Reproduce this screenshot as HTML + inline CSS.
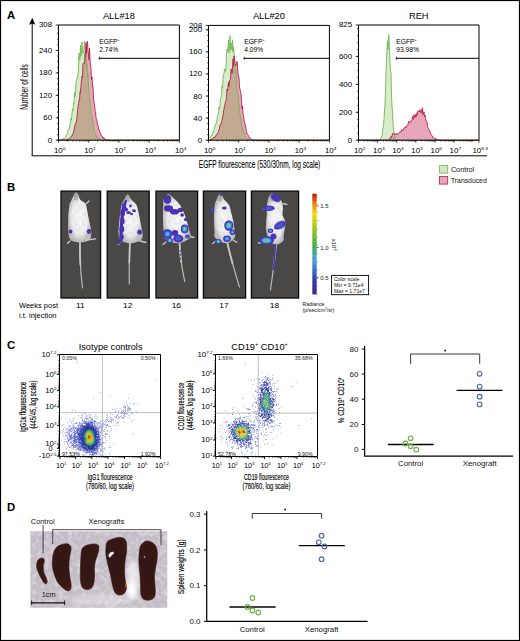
<!DOCTYPE html>
<html><head><meta charset="utf-8"><style>
html,body{margin:0;padding:0;background:#fff;}
svg{display:block;font-family:"Liberation Sans", sans-serif;}
</style></head><body>
<svg width="520" height="641" viewBox="0 0 520 641">
<text transform="translate(7.00 19.00) scale(1.05 1)" font-size="10.8" text-anchor="start" font-weight="bold" fill="#000" >A</text>
<line x1="32.20" y1="22.00" x2="32.20" y2="155.80" stroke="#000" stroke-width="1" />
<path d="M32.2 17.8 L29.1 24.8 L32.2 23.6 L35.3 24.8 Z" fill="#000"/>
<line x1="31.70" y1="155.80" x2="487.00" y2="155.80" stroke="#000" stroke-width="1" />
<path d="M59.0 140.2 L59.0 140.2 L59.5 140.2 L60.0 139.8 L60.5 139.8 L61.0 139.3 L61.5 139.9 L62.0 139.0 L62.5 139.8 L63.0 138.2 L63.5 138.4 L64.0 139.1 L64.5 138.5 L65.0 137.9 L65.5 137.1 L66.0 135.6 L66.5 135.0 L67.0 134.0 L67.5 133.5 L68.0 130.4 L68.5 129.5 L69.0 129.6 L69.5 128.2 L70.0 124.3 L70.5 121.7 L71.0 118.0 L71.5 120.3 L72.0 112.6 L72.5 108.9 L73.0 110.7 L73.5 102.9 L74.0 104.3 L74.5 92.6 L75.0 96.9 L75.5 93.5 L76.0 81.7 L76.5 79.7 L77.0 79.8 L77.5 76.9 L78.0 73.8 L78.5 69.0 L79.0 52.8 L79.5 60.2 L80.0 59.6 L80.5 45.5 L81.0 56.3 L81.5 53.6 L82.0 41.9 L82.5 50.4 L83.0 53.4 L83.5 50.8 L84.0 49.8 L84.5 41.0 L85.0 50.2 L85.5 61.2 L86.0 52.2 L86.5 67.9 L87.0 64.4 L87.5 76.9 L88.0 73.8 L88.5 85.4 L89.0 93.3 L89.5 96.5 L90.0 101.0 L90.5 103.8 L91.0 110.4 L91.5 115.6 L92.0 115.9 L92.5 119.9 L93.0 122.2 L93.5 127.6 L94.0 129.1 L94.5 131.2 L95.0 132.6 L95.5 133.4 L96.0 134.3 L96.5 135.8 L97.0 137.8 L97.5 137.3 L98.0 137.5 L98.5 138.6 L99.0 138.7 L99.5 138.7 L100.0 139.5 L100.5 139.1 L101.0 139.5 L101.5 140.2 L102.0 140.2 L102.5 140.2 L103.0 140.2 L103.5 140.2 L104.0 140.2 L104.5 140.2 L105.0 140.2 L105.5 140.2 L106.0 140.2 L106.5 140.2 L107.0 140.2 L107.5 140.2 L108.0 140.2 L108.5 140.2 L109.0 140.2 L109.5 140.2 L110.0 140.2 L110.5 140.2 L111.0 140.2 L111.5 140.2 L112.0 140.2 L112.5 140.2 L113.0 140.2 L113.5 140.2 L114.0 140.2 L114.5 140.2 L115.0 140.2 L115.5 140.2 L116.0 140.2 L116.5 140.2 L117.0 140.2 L117.5 140.2 L118.0 140.2 L118.5 140.2 L119.0 140.2 L119.5 140.2 L120.0 140.2 L120.5 140.2 L121.0 140.2 L121.5 140.2 L122.0 140.2 L122.5 140.2 L123.0 140.2 L123.5 140.2 L124.0 140.2 L124.5 140.2 L125.0 140.2 L125.5 140.2 L126.0 140.2 L126.5 140.2 L127.0 140.2 L127.5 140.2 L128.0 140.2 L128.5 140.2 L129.0 140.2 L129.5 140.2 L130.0 140.2 L130.5 140.2 L131.0 140.2 L131.5 140.2 L132.0 140.2 L132.5 140.2 L133.0 140.2 L133.5 140.2 L134.0 140.2 L134.5 140.2 L135.0 140.2 L135.5 140.2 L136.0 140.2 L136.5 140.2 L137.0 140.2 L137.5 140.2 L138.0 140.2 L138.5 140.2 L139.0 140.2 L139.5 140.2 L140.0 140.2 L140.5 140.2 L141.0 140.2 L141.5 140.2 L142.0 140.2 L142.5 140.2 L143.0 140.2 L143.5 140.2 L144.0 140.2 L144.5 140.2 L145.0 140.2 L145.5 140.2 L146.0 140.2 L146.5 140.2 L147.0 140.2 L147.5 140.2 L148.0 140.2 L148.5 140.2 L149.0 140.2 L149.5 140.2 L150.0 140.2 L150.5 140.2 L151.0 140.2 L151.5 140.2 L152.0 140.2 L152.5 140.2 L153.0 140.2 L153.5 140.2 L154.0 140.2 L154.5 140.2 L155.0 140.2 L155.5 140.2 L156.0 140.2 L156.5 140.2 L157.0 140.2 L157.5 140.2 L158.0 140.2 L158.5 140.2 L159.0 140.2 L159.5 140.2 L160.0 140.2 L160.5 140.2 L161.0 140.2 L161.5 140.2 L162.0 140.2 L162.5 140.2 L163.0 140.2 L163.5 140.2 L164.0 140.2 L164.5 140.2 L165.0 140.2 L165.5 140.2 L166.0 140.2 L166.5 140.2 L167.0 140.2 L167.5 140.2 L168.0 140.2 L168.5 140.2 L169.0 140.2 L169.5 140.2 L170.0 140.2 L170.5 140.2 L171.0 140.2 L171.5 140.2 L172.0 140.2 L172.5 140.2 L173.0 140.2 L173.5 140.2 L174.0 140.2 L174.5 140.2 L175.0 140.2 L175.5 140.2 L176.0 140.2 L176.5 140.2 L177.0 140.2 L177.5 140.2 L178.0 140.2 L178.5 140.2 L178.5 140.2 Z" fill="#d6ecca"/>
<path d="M59.0 140.2 L59.0 140.2 L59.5 140.2 L60.0 140.2 L60.5 140.2 L61.0 140.2 L61.5 140.2 L62.0 140.2 L62.5 140.2 L63.0 140.2 L63.5 140.2 L64.0 140.2 L64.5 140.2 L65.0 140.2 L65.5 140.2 L66.0 140.0 L66.5 139.2 L67.0 140.2 L67.5 139.0 L68.0 139.3 L68.5 139.7 L69.0 139.0 L69.5 138.4 L70.0 138.7 L70.5 137.4 L71.0 136.7 L71.5 136.1 L72.0 135.3 L72.5 135.4 L73.0 133.7 L73.5 132.0 L74.0 130.0 L74.5 128.8 L75.0 124.7 L75.5 123.2 L76.0 123.1 L76.5 121.0 L77.0 117.9 L77.5 110.6 L78.0 107.0 L78.5 103.6 L79.0 100.3 L79.5 100.3 L80.0 91.7 L80.5 92.7 L81.0 85.6 L81.5 79.3 L82.0 76.0 L82.5 77.5 L83.0 63.5 L83.5 63.2 L84.0 63.9 L84.5 63.2 L85.0 54.0 L85.5 55.2 L86.0 42.5 L86.5 53.5 L87.0 43.8 L87.5 41.1 L88.0 50.3 L88.5 53.9 L89.0 59.8 L89.5 47.9 L90.0 59.8 L90.5 64.6 L91.0 69.0 L91.5 79.5 L92.0 77.0 L92.5 86.8 L93.0 86.4 L93.5 99.2 L94.0 102.1 L94.5 105.2 L95.0 110.4 L95.5 111.1 L96.0 117.5 L96.5 119.3 L97.0 121.3 L97.5 124.7 L98.0 125.3 L98.5 129.3 L99.0 129.2 L99.5 131.4 L100.0 132.2 L100.5 134.0 L101.0 134.8 L101.5 136.0 L102.0 136.4 L102.5 136.4 L103.0 138.5 L103.5 137.6 L104.0 137.8 L104.5 139.1 L105.0 138.9 L105.5 139.7 L106.0 139.7 L106.5 139.7 L107.0 140.2 L107.5 140.2 L108.0 139.6 L108.5 140.2 L109.0 140.2 L109.5 140.2 L110.0 140.2 L110.5 140.2 L111.0 140.2 L111.5 140.2 L112.0 140.2 L112.5 140.2 L113.0 140.2 L113.5 140.2 L114.0 140.2 L114.5 140.2 L115.0 140.2 L115.5 140.2 L116.0 140.2 L116.5 140.2 L117.0 140.2 L117.5 140.2 L118.0 140.2 L118.5 140.2 L119.0 140.2 L119.5 140.2 L120.0 140.2 L120.5 140.2 L121.0 140.2 L121.5 140.2 L122.0 140.2 L122.5 140.2 L123.0 140.2 L123.5 140.2 L124.0 140.2 L124.5 140.2 L125.0 140.2 L125.5 140.2 L126.0 140.2 L126.5 140.2 L127.0 140.2 L127.5 140.2 L128.0 140.2 L128.5 140.2 L129.0 140.2 L129.5 140.2 L130.0 140.2 L130.5 140.2 L131.0 140.2 L131.5 140.2 L132.0 140.2 L132.5 140.2 L133.0 140.2 L133.5 140.2 L134.0 140.2 L134.5 140.2 L135.0 140.2 L135.5 140.2 L136.0 140.2 L136.5 140.2 L137.0 140.2 L137.5 140.2 L138.0 140.2 L138.5 140.2 L139.0 140.2 L139.5 140.2 L140.0 140.2 L140.5 140.2 L141.0 140.2 L141.5 140.2 L142.0 140.2 L142.5 140.2 L143.0 140.2 L143.5 140.2 L144.0 140.2 L144.5 140.2 L145.0 140.2 L145.5 140.2 L146.0 140.2 L146.5 140.2 L147.0 140.2 L147.5 140.2 L148.0 140.2 L148.5 140.2 L149.0 140.2 L149.5 140.2 L150.0 140.2 L150.5 140.2 L151.0 140.2 L151.5 140.2 L152.0 140.2 L152.5 140.2 L153.0 140.2 L153.5 140.2 L154.0 140.2 L154.5 140.2 L155.0 140.2 L155.5 140.2 L156.0 140.2 L156.5 140.2 L157.0 140.2 L157.5 140.2 L158.0 140.2 L158.5 140.2 L159.0 140.2 L159.5 140.2 L160.0 140.2 L160.5 140.2 L161.0 140.2 L161.5 140.2 L162.0 140.2 L162.5 140.2 L163.0 140.2 L163.5 140.2 L164.0 140.2 L164.5 140.2 L165.0 140.2 L165.5 140.2 L166.0 140.2 L166.5 140.2 L167.0 140.2 L167.5 140.2 L168.0 140.2 L168.5 140.2 L169.0 140.2 L169.5 140.2 L170.0 140.2 L170.5 140.2 L171.0 140.2 L171.5 140.2 L172.0 140.2 L172.5 140.2 L173.0 140.2 L173.5 140.2 L174.0 140.2 L174.5 140.2 L175.0 140.2 L175.5 140.2 L176.0 140.2 L176.5 140.2 L177.0 140.2 L177.5 140.2 L178.0 140.2 L178.5 140.2 L178.5 140.2 Z" fill="#e7a6ba"/>
<path d="M59.0 140.2 L59.0 140.2 L59.5 140.2 L60.0 140.2 L60.5 140.2 L61.0 140.2 L61.5 140.2 L62.0 140.2 L62.5 140.2 L63.0 140.2 L63.5 140.2 L64.0 140.2 L64.5 140.2 L65.0 140.2 L65.5 140.2 L66.0 140.0 L66.5 139.2 L67.0 140.2 L67.5 139.0 L68.0 139.3 L68.5 139.7 L69.0 139.0 L69.5 138.4 L70.0 138.7 L70.5 137.4 L71.0 136.7 L71.5 136.1 L72.0 135.3 L72.5 135.4 L73.0 133.7 L73.5 132.0 L74.0 130.0 L74.5 128.8 L75.0 124.7 L75.5 123.2 L76.0 123.1 L76.5 121.0 L77.0 117.9 L77.5 110.6 L78.0 107.0 L78.5 103.6 L79.0 100.3 L79.5 100.3 L80.0 91.7 L80.5 92.7 L81.0 85.6 L81.5 79.3 L82.0 76.0 L82.5 77.5 L83.0 63.5 L83.5 63.2 L84.0 63.9 L84.5 63.2 L85.0 54.0 L85.5 61.2 L86.0 52.2 L86.5 67.9 L87.0 64.4 L87.5 76.9 L88.0 73.8 L88.5 85.4 L89.0 93.3 L89.5 96.5 L90.0 101.0 L90.5 103.8 L91.0 110.4 L91.5 115.6 L92.0 115.9 L92.5 119.9 L93.0 122.2 L93.5 127.6 L94.0 129.1 L94.5 131.2 L95.0 132.6 L95.5 133.4 L96.0 134.3 L96.5 135.8 L97.0 137.8 L97.5 137.3 L98.0 137.5 L98.5 138.6 L99.0 138.7 L99.5 138.7 L100.0 139.5 L100.5 139.1 L101.0 139.5 L101.5 140.2 L102.0 140.2 L102.5 140.2 L103.0 140.2 L103.5 140.2 L104.0 140.2 L104.5 140.2 L105.0 140.2 L105.5 140.2 L106.0 140.2 L106.5 140.2 L107.0 140.2 L107.5 140.2 L108.0 140.2 L108.5 140.2 L109.0 140.2 L109.5 140.2 L110.0 140.2 L110.5 140.2 L111.0 140.2 L111.5 140.2 L112.0 140.2 L112.5 140.2 L113.0 140.2 L113.5 140.2 L114.0 140.2 L114.5 140.2 L115.0 140.2 L115.5 140.2 L116.0 140.2 L116.5 140.2 L117.0 140.2 L117.5 140.2 L118.0 140.2 L118.5 140.2 L119.0 140.2 L119.5 140.2 L120.0 140.2 L120.5 140.2 L121.0 140.2 L121.5 140.2 L122.0 140.2 L122.5 140.2 L123.0 140.2 L123.5 140.2 L124.0 140.2 L124.5 140.2 L125.0 140.2 L125.5 140.2 L126.0 140.2 L126.5 140.2 L127.0 140.2 L127.5 140.2 L128.0 140.2 L128.5 140.2 L129.0 140.2 L129.5 140.2 L130.0 140.2 L130.5 140.2 L131.0 140.2 L131.5 140.2 L132.0 140.2 L132.5 140.2 L133.0 140.2 L133.5 140.2 L134.0 140.2 L134.5 140.2 L135.0 140.2 L135.5 140.2 L136.0 140.2 L136.5 140.2 L137.0 140.2 L137.5 140.2 L138.0 140.2 L138.5 140.2 L139.0 140.2 L139.5 140.2 L140.0 140.2 L140.5 140.2 L141.0 140.2 L141.5 140.2 L142.0 140.2 L142.5 140.2 L143.0 140.2 L143.5 140.2 L144.0 140.2 L144.5 140.2 L145.0 140.2 L145.5 140.2 L146.0 140.2 L146.5 140.2 L147.0 140.2 L147.5 140.2 L148.0 140.2 L148.5 140.2 L149.0 140.2 L149.5 140.2 L150.0 140.2 L150.5 140.2 L151.0 140.2 L151.5 140.2 L152.0 140.2 L152.5 140.2 L153.0 140.2 L153.5 140.2 L154.0 140.2 L154.5 140.2 L155.0 140.2 L155.5 140.2 L156.0 140.2 L156.5 140.2 L157.0 140.2 L157.5 140.2 L158.0 140.2 L158.5 140.2 L159.0 140.2 L159.5 140.2 L160.0 140.2 L160.5 140.2 L161.0 140.2 L161.5 140.2 L162.0 140.2 L162.5 140.2 L163.0 140.2 L163.5 140.2 L164.0 140.2 L164.5 140.2 L165.0 140.2 L165.5 140.2 L166.0 140.2 L166.5 140.2 L167.0 140.2 L167.5 140.2 L168.0 140.2 L168.5 140.2 L169.0 140.2 L169.5 140.2 L170.0 140.2 L170.5 140.2 L171.0 140.2 L171.5 140.2 L172.0 140.2 L172.5 140.2 L173.0 140.2 L173.5 140.2 L174.0 140.2 L174.5 140.2 L175.0 140.2 L175.5 140.2 L176.0 140.2 L176.5 140.2 L177.0 140.2 L177.5 140.2 L178.0 140.2 L178.5 140.2 L178.5 140.2 Z" fill="#c2aa92"/>
<path d="M59.0 140.2 L59.5 140.2 L60.0 139.8 L60.5 139.8 L61.0 139.3 L61.5 139.9 L62.0 139.0 L62.5 139.8 L63.0 138.2 L63.5 138.4 L64.0 139.1 L64.5 138.5 L65.0 137.9 L65.5 137.1 L66.0 135.6 L66.5 135.0 L67.0 134.0 L67.5 133.5 L68.0 130.4 L68.5 129.5 L69.0 129.6 L69.5 128.2 L70.0 124.3 L70.5 121.7 L71.0 118.0 L71.5 120.3 L72.0 112.6 L72.5 108.9 L73.0 110.7 L73.5 102.9 L74.0 104.3 L74.5 92.6 L75.0 96.9 L75.5 93.5 L76.0 81.7 L76.5 79.7 L77.0 79.8 L77.5 76.9 L78.0 73.8 L78.5 69.0 L79.0 52.8 L79.5 60.2 L80.0 59.6 L80.5 45.5 L81.0 56.3 L81.5 53.6 L82.0 41.9 L82.5 50.4 L83.0 53.4 L83.5 50.8 L84.0 49.8 L84.5 41.0 L85.0 50.2 L85.5 61.2 L86.0 52.2 L86.5 67.9 L87.0 64.4 L87.5 76.9 L88.0 73.8 L88.5 85.4 L89.0 93.3 L89.5 96.5 L90.0 101.0 L90.5 103.8 L91.0 110.4 L91.5 115.6 L92.0 115.9 L92.5 119.9 L93.0 122.2 L93.5 127.6 L94.0 129.1 L94.5 131.2 L95.0 132.6 L95.5 133.4 L96.0 134.3 L96.5 135.8 L97.0 137.8 L97.5 137.3 L98.0 137.5 L98.5 138.6 L99.0 138.7 L99.5 138.7 L100.0 139.5 L100.5 139.1 L101.0 139.5 L101.5 140.2 L102.0 140.2 L102.5 140.2 L103.0 140.2 L103.5 140.2 L104.0 140.2 L104.5 140.2 L105.0 140.2 L105.5 140.2 L106.0 140.2 L106.5 140.2 L107.0 140.2 L107.5 140.2 L108.0 140.2 L108.5 140.2 L109.0 140.2 L109.5 140.2 L110.0 140.2 L110.5 140.2 L111.0 140.2 L111.5 140.2 L112.0 140.2 L112.5 140.2 L113.0 140.2 L113.5 140.2 L114.0 140.2 L114.5 140.2 L115.0 140.2 L115.5 140.2 L116.0 140.2 L116.5 140.2 L117.0 140.2 L117.5 140.2 L118.0 140.2 L118.5 140.2 L119.0 140.2 L119.5 140.2 L120.0 140.2 L120.5 140.2 L121.0 140.2 L121.5 140.2 L122.0 140.2 L122.5 140.2 L123.0 140.2 L123.5 140.2 L124.0 140.2 L124.5 140.2 L125.0 140.2 L125.5 140.2 L126.0 140.2 L126.5 140.2 L127.0 140.2 L127.5 140.2 L128.0 140.2 L128.5 140.2 L129.0 140.2 L129.5 140.2 L130.0 140.2 L130.5 140.2 L131.0 140.2 L131.5 140.2 L132.0 140.2 L132.5 140.2 L133.0 140.2 L133.5 140.2 L134.0 140.2 L134.5 140.2 L135.0 140.2 L135.5 140.2 L136.0 140.2 L136.5 140.2 L137.0 140.2 L137.5 140.2 L138.0 140.2 L138.5 140.2 L139.0 140.2 L139.5 140.2 L140.0 140.2 L140.5 140.2 L141.0 140.2 L141.5 140.2 L142.0 140.2 L142.5 140.2 L143.0 140.2 L143.5 140.2 L144.0 140.2 L144.5 140.2 L145.0 140.2 L145.5 140.2 L146.0 140.2 L146.5 140.2 L147.0 140.2 L147.5 140.2 L148.0 140.2 L148.5 140.2 L149.0 140.2 L149.5 140.2 L150.0 140.2 L150.5 140.2 L151.0 140.2 L151.5 140.2 L152.0 140.2 L152.5 140.2 L153.0 140.2 L153.5 140.2 L154.0 140.2 L154.5 140.2 L155.0 140.2 L155.5 140.2 L156.0 140.2 L156.5 140.2 L157.0 140.2 L157.5 140.2 L158.0 140.2 L158.5 140.2 L159.0 140.2 L159.5 140.2 L160.0 140.2 L160.5 140.2 L161.0 140.2 L161.5 140.2 L162.0 140.2 L162.5 140.2 L163.0 140.2 L163.5 140.2 L164.0 140.2 L164.5 140.2 L165.0 140.2 L165.5 140.2 L166.0 140.2 L166.5 140.2 L167.0 140.2 L167.5 140.2 L168.0 140.2 L168.5 140.2 L169.0 140.2 L169.5 140.2 L170.0 140.2 L170.5 140.2 L171.0 140.2 L171.5 140.2 L172.0 140.2 L172.5 140.2 L173.0 140.2 L173.5 140.2 L174.0 140.2 L174.5 140.2 L175.0 140.2 L175.5 140.2 L176.0 140.2 L176.5 140.2 L177.0 140.2 L177.5 140.2 L178.0 140.2 L178.5 140.2" fill="none" stroke="#72b650" stroke-width="0.9"/>
<path d="M59.0 140.2 L59.5 140.2 L60.0 140.2 L60.5 140.2 L61.0 140.2 L61.5 140.2 L62.0 140.2 L62.5 140.2 L63.0 140.2 L63.5 140.2 L64.0 140.2 L64.5 140.2 L65.0 140.2 L65.5 140.2 L66.0 140.0 L66.5 139.2 L67.0 140.2 L67.5 139.0 L68.0 139.3 L68.5 139.7 L69.0 139.0 L69.5 138.4 L70.0 138.7 L70.5 137.4 L71.0 136.7 L71.5 136.1 L72.0 135.3 L72.5 135.4 L73.0 133.7 L73.5 132.0 L74.0 130.0 L74.5 128.8 L75.0 124.7 L75.5 123.2 L76.0 123.1 L76.5 121.0 L77.0 117.9 L77.5 110.6 L78.0 107.0 L78.5 103.6 L79.0 100.3 L79.5 100.3 L80.0 91.7 L80.5 92.7 L81.0 85.6 L81.5 79.3 L82.0 76.0 L82.5 77.5 L83.0 63.5 L83.5 63.2 L84.0 63.9 L84.5 63.2 L85.0 54.0 L85.5 55.2 L86.0 42.5 L86.5 53.5 L87.0 43.8 L87.5 41.1 L88.0 50.3 L88.5 53.9 L89.0 59.8 L89.5 47.9 L90.0 59.8 L90.5 64.6 L91.0 69.0 L91.5 79.5 L92.0 77.0 L92.5 86.8 L93.0 86.4 L93.5 99.2 L94.0 102.1 L94.5 105.2 L95.0 110.4 L95.5 111.1 L96.0 117.5 L96.5 119.3 L97.0 121.3 L97.5 124.7 L98.0 125.3 L98.5 129.3 L99.0 129.2 L99.5 131.4 L100.0 132.2 L100.5 134.0 L101.0 134.8 L101.5 136.0 L102.0 136.4 L102.5 136.4 L103.0 138.5 L103.5 137.6 L104.0 137.8 L104.5 139.1 L105.0 138.9 L105.5 139.7 L106.0 139.7 L106.5 139.7 L107.0 140.2 L107.5 140.2 L108.0 139.6 L108.5 140.2 L109.0 140.2 L109.5 140.2 L110.0 140.2 L110.5 140.2 L111.0 140.2 L111.5 140.2 L112.0 140.2 L112.5 140.2 L113.0 140.2 L113.5 140.2 L114.0 140.2 L114.5 140.2 L115.0 140.2 L115.5 140.2 L116.0 140.2 L116.5 140.2 L117.0 140.2 L117.5 140.2 L118.0 140.2 L118.5 140.2 L119.0 140.2 L119.5 140.2 L120.0 140.2 L120.5 140.2 L121.0 140.2 L121.5 140.2 L122.0 140.2 L122.5 140.2 L123.0 140.2 L123.5 140.2 L124.0 140.2 L124.5 140.2 L125.0 140.2 L125.5 140.2 L126.0 140.2 L126.5 140.2 L127.0 140.2 L127.5 140.2 L128.0 140.2 L128.5 140.2 L129.0 140.2 L129.5 140.2 L130.0 140.2 L130.5 140.2 L131.0 140.2 L131.5 140.2 L132.0 140.2 L132.5 140.2 L133.0 140.2 L133.5 140.2 L134.0 140.2 L134.5 140.2 L135.0 140.2 L135.5 140.2 L136.0 140.2 L136.5 140.2 L137.0 140.2 L137.5 140.2 L138.0 140.2 L138.5 140.2 L139.0 140.2 L139.5 140.2 L140.0 140.2 L140.5 140.2 L141.0 140.2 L141.5 140.2 L142.0 140.2 L142.5 140.2 L143.0 140.2 L143.5 140.2 L144.0 140.2 L144.5 140.2 L145.0 140.2 L145.5 140.2 L146.0 140.2 L146.5 140.2 L147.0 140.2 L147.5 140.2 L148.0 140.2 L148.5 140.2 L149.0 140.2 L149.5 140.2 L150.0 140.2 L150.5 140.2 L151.0 140.2 L151.5 140.2 L152.0 140.2 L152.5 140.2 L153.0 140.2 L153.5 140.2 L154.0 140.2 L154.5 140.2 L155.0 140.2 L155.5 140.2 L156.0 140.2 L156.5 140.2 L157.0 140.2 L157.5 140.2 L158.0 140.2 L158.5 140.2 L159.0 140.2 L159.5 140.2 L160.0 140.2 L160.5 140.2 L161.0 140.2 L161.5 140.2 L162.0 140.2 L162.5 140.2 L163.0 140.2 L163.5 140.2 L164.0 140.2 L164.5 140.2 L165.0 140.2 L165.5 140.2 L166.0 140.2 L166.5 140.2 L167.0 140.2 L167.5 140.2 L168.0 140.2 L168.5 140.2 L169.0 140.2 L169.5 140.2 L170.0 140.2 L170.5 140.2 L171.0 140.2 L171.5 140.2 L172.0 140.2 L172.5 140.2 L173.0 140.2 L173.5 140.2 L174.0 140.2 L174.5 140.2 L175.0 140.2 L175.5 140.2 L176.0 140.2 L176.5 140.2 L177.0 140.2 L177.5 140.2 L178.0 140.2 L178.5 140.2" fill="none" stroke="#b8204c" stroke-width="0.9"/>
<path d="M58.50 140.20 V25.00 H179.40 V140.20 Z" fill="none" stroke="#000" stroke-width="1"/>
<text x="118.95" y="19.40" font-size="9.3" text-anchor="middle" font-weight="normal" fill="#000" >ALL#18</text>
<line x1="55.70" y1="140.20" x2="58.50" y2="140.20" stroke="#000" stroke-width="0.8" />
<text transform="translate(52.10 142.65) scale(1.2 1)" font-size="6.6" text-anchor="end" font-weight="normal" fill="#000" >0</text>
<line x1="55.70" y1="117.76" x2="58.50" y2="117.76" stroke="#000" stroke-width="0.8" />
<text transform="translate(52.10 120.21) scale(1.2 1)" font-size="6.6" text-anchor="end" font-weight="normal" fill="#000" >60</text>
<line x1="55.70" y1="95.32" x2="58.50" y2="95.32" stroke="#000" stroke-width="0.8" />
<text transform="translate(52.10 97.77) scale(1.2 1)" font-size="6.6" text-anchor="end" font-weight="normal" fill="#000" >120</text>
<line x1="55.70" y1="72.88" x2="58.50" y2="72.88" stroke="#000" stroke-width="0.8" />
<text transform="translate(52.10 75.33) scale(1.2 1)" font-size="6.6" text-anchor="end" font-weight="normal" fill="#000" >180</text>
<line x1="55.70" y1="50.43" x2="58.50" y2="50.43" stroke="#000" stroke-width="0.8" />
<text transform="translate(52.10 52.88) scale(1.2 1)" font-size="6.6" text-anchor="end" font-weight="normal" fill="#000" >240</text>
<line x1="55.70" y1="25.00" x2="58.50" y2="25.00" stroke="#000" stroke-width="0.8" />
<text transform="translate(52.10 27.45) scale(1.2 1)" font-size="6.6" text-anchor="end" font-weight="normal" fill="#000" >308</text>
<line x1="57.10" y1="140.20" x2="58.50" y2="140.20" stroke="#000" stroke-width="0.7" />
<line x1="57.10" y1="134.59" x2="58.50" y2="134.59" stroke="#000" stroke-width="0.7" />
<line x1="57.10" y1="128.98" x2="58.50" y2="128.98" stroke="#000" stroke-width="0.7" />
<line x1="57.10" y1="123.37" x2="58.50" y2="123.37" stroke="#000" stroke-width="0.7" />
<line x1="57.10" y1="117.76" x2="58.50" y2="117.76" stroke="#000" stroke-width="0.7" />
<line x1="57.10" y1="112.15" x2="58.50" y2="112.15" stroke="#000" stroke-width="0.7" />
<line x1="57.10" y1="106.54" x2="58.50" y2="106.54" stroke="#000" stroke-width="0.7" />
<line x1="57.10" y1="100.93" x2="58.50" y2="100.93" stroke="#000" stroke-width="0.7" />
<line x1="57.10" y1="95.32" x2="58.50" y2="95.32" stroke="#000" stroke-width="0.7" />
<line x1="57.10" y1="89.71" x2="58.50" y2="89.71" stroke="#000" stroke-width="0.7" />
<line x1="57.10" y1="84.10" x2="58.50" y2="84.10" stroke="#000" stroke-width="0.7" />
<line x1="57.10" y1="78.49" x2="58.50" y2="78.49" stroke="#000" stroke-width="0.7" />
<line x1="57.10" y1="72.88" x2="58.50" y2="72.88" stroke="#000" stroke-width="0.7" />
<line x1="57.10" y1="67.26" x2="58.50" y2="67.26" stroke="#000" stroke-width="0.7" />
<line x1="57.10" y1="61.65" x2="58.50" y2="61.65" stroke="#000" stroke-width="0.7" />
<line x1="57.10" y1="56.04" x2="58.50" y2="56.04" stroke="#000" stroke-width="0.7" />
<line x1="57.10" y1="50.43" x2="58.50" y2="50.43" stroke="#000" stroke-width="0.7" />
<line x1="57.10" y1="44.82" x2="58.50" y2="44.82" stroke="#000" stroke-width="0.7" />
<line x1="57.10" y1="39.21" x2="58.50" y2="39.21" stroke="#000" stroke-width="0.7" />
<line x1="57.10" y1="33.60" x2="58.50" y2="33.60" stroke="#000" stroke-width="0.7" />
<line x1="57.10" y1="27.99" x2="58.50" y2="27.99" stroke="#000" stroke-width="0.7" />
<line x1="58.50" y1="140.20" x2="58.50" y2="142.70" stroke="#000" stroke-width="0.8" />
<text transform="translate(59.70 153.10) scale(1.2 1)" font-size="6.6" text-anchor="middle" fill="#000">10<tspan font-size="4.00" dy="-2.64">0</tspan></text>
<line x1="88.72" y1="140.20" x2="88.72" y2="142.70" stroke="#000" stroke-width="0.8" />
<text transform="translate(89.92 153.10) scale(1.2 1)" font-size="6.6" text-anchor="middle" fill="#000">10<tspan font-size="4.00" dy="-2.64">1</tspan></text>
<line x1="118.95" y1="140.20" x2="118.95" y2="142.70" stroke="#000" stroke-width="0.8" />
<text transform="translate(120.15 153.10) scale(1.2 1)" font-size="6.6" text-anchor="middle" fill="#000">10<tspan font-size="4.00" dy="-2.64">2</tspan></text>
<line x1="149.18" y1="140.20" x2="149.18" y2="142.70" stroke="#000" stroke-width="0.8" />
<text transform="translate(150.38 153.10) scale(1.2 1)" font-size="6.6" text-anchor="middle" fill="#000">10<tspan font-size="4.00" dy="-2.64">3</tspan></text>
<line x1="179.40" y1="140.20" x2="179.40" y2="142.70" stroke="#000" stroke-width="0.8" />
<text transform="translate(180.60 153.10) scale(1.2 1)" font-size="6.6" text-anchor="middle" fill="#000">10<tspan font-size="4.00" dy="-2.64">4</tspan></text>
<line x1="67.60" y1="140.20" x2="67.60" y2="141.60" stroke="#000" stroke-width="0.6" />
<line x1="72.92" y1="140.20" x2="72.92" y2="141.60" stroke="#000" stroke-width="0.6" />
<line x1="76.70" y1="140.20" x2="76.70" y2="141.60" stroke="#000" stroke-width="0.6" />
<line x1="79.63" y1="140.20" x2="79.63" y2="141.60" stroke="#000" stroke-width="0.6" />
<line x1="82.02" y1="140.20" x2="82.02" y2="141.60" stroke="#000" stroke-width="0.6" />
<line x1="84.04" y1="140.20" x2="84.04" y2="141.60" stroke="#000" stroke-width="0.6" />
<line x1="85.80" y1="140.20" x2="85.80" y2="141.60" stroke="#000" stroke-width="0.6" />
<line x1="87.34" y1="140.20" x2="87.34" y2="141.60" stroke="#000" stroke-width="0.6" />
<line x1="97.82" y1="140.20" x2="97.82" y2="141.60" stroke="#000" stroke-width="0.6" />
<line x1="103.15" y1="140.20" x2="103.15" y2="141.60" stroke="#000" stroke-width="0.6" />
<line x1="106.92" y1="140.20" x2="106.92" y2="141.60" stroke="#000" stroke-width="0.6" />
<line x1="109.85" y1="140.20" x2="109.85" y2="141.60" stroke="#000" stroke-width="0.6" />
<line x1="112.24" y1="140.20" x2="112.24" y2="141.60" stroke="#000" stroke-width="0.6" />
<line x1="114.27" y1="140.20" x2="114.27" y2="141.60" stroke="#000" stroke-width="0.6" />
<line x1="116.02" y1="140.20" x2="116.02" y2="141.60" stroke="#000" stroke-width="0.6" />
<line x1="117.57" y1="140.20" x2="117.57" y2="141.60" stroke="#000" stroke-width="0.6" />
<line x1="128.05" y1="140.20" x2="128.05" y2="141.60" stroke="#000" stroke-width="0.6" />
<line x1="133.37" y1="140.20" x2="133.37" y2="141.60" stroke="#000" stroke-width="0.6" />
<line x1="137.15" y1="140.20" x2="137.15" y2="141.60" stroke="#000" stroke-width="0.6" />
<line x1="140.08" y1="140.20" x2="140.08" y2="141.60" stroke="#000" stroke-width="0.6" />
<line x1="142.47" y1="140.20" x2="142.47" y2="141.60" stroke="#000" stroke-width="0.6" />
<line x1="144.49" y1="140.20" x2="144.49" y2="141.60" stroke="#000" stroke-width="0.6" />
<line x1="146.25" y1="140.20" x2="146.25" y2="141.60" stroke="#000" stroke-width="0.6" />
<line x1="147.79" y1="140.20" x2="147.79" y2="141.60" stroke="#000" stroke-width="0.6" />
<line x1="158.27" y1="140.20" x2="158.27" y2="141.60" stroke="#000" stroke-width="0.6" />
<line x1="163.60" y1="140.20" x2="163.60" y2="141.60" stroke="#000" stroke-width="0.6" />
<line x1="167.37" y1="140.20" x2="167.37" y2="141.60" stroke="#000" stroke-width="0.6" />
<line x1="170.30" y1="140.20" x2="170.30" y2="141.60" stroke="#000" stroke-width="0.6" />
<line x1="172.69" y1="140.20" x2="172.69" y2="141.60" stroke="#000" stroke-width="0.6" />
<line x1="174.72" y1="140.20" x2="174.72" y2="141.60" stroke="#000" stroke-width="0.6" />
<line x1="176.47" y1="140.20" x2="176.47" y2="141.60" stroke="#000" stroke-width="0.6" />
<line x1="178.02" y1="140.20" x2="178.02" y2="141.60" stroke="#000" stroke-width="0.6" />
<line x1="99.30" y1="58.30" x2="179.40" y2="58.30" stroke="#000" stroke-width="1" />
<line x1="99.30" y1="56.80" x2="99.30" y2="59.80" stroke="#000" stroke-width="0.8" />
<text x="99.30" y="43.60" font-size="6.7" text-anchor="start" font-weight="normal" fill="#000" >EGFP<tspan font-size="3.8" dy="-2.6">+</tspan></text>
<text x="99.30" y="52.20" font-size="6.7" text-anchor="start" font-weight="normal" fill="#000" >2.74%</text>
<path d="M209.0 140.2 L209.0 137.2 L209.5 138.0 L210.0 137.2 L210.5 137.1 L211.0 136.3 L211.5 135.6 L212.0 135.6 L212.5 133.4 L213.0 132.2 L213.5 132.2 L214.0 129.4 L214.5 128.2 L215.0 126.1 L215.5 124.9 L216.0 123.1 L216.5 122.8 L217.0 119.2 L217.5 116.6 L218.0 114.2 L218.5 113.8 L219.0 107.3 L219.5 109.1 L220.0 106.5 L220.5 98.4 L221.0 97.7 L221.5 94.8 L222.0 86.1 L222.5 88.6 L223.0 78.1 L223.5 74.3 L224.0 73.3 L224.5 69.0 L225.0 71.6 L225.5 70.9 L226.0 68.0 L226.5 54.1 L227.0 49.3 L227.5 51.2 L228.0 46.1 L228.5 39.8 L229.0 53.1 L229.5 46.5 L230.0 35.6 L230.5 50.0 L231.0 43.7 L231.5 42.9 L232.0 50.1 L232.5 39.8 L233.0 52.0 L233.5 46.9 L234.0 53.6 L234.5 57.4 L235.0 63.8 L235.5 73.4 L236.0 71.9 L236.5 79.6 L237.0 90.0 L237.5 92.6 L238.0 93.4 L238.5 97.9 L239.0 105.0 L239.5 111.3 L240.0 113.9 L240.5 117.0 L241.0 120.7 L241.5 124.3 L242.0 126.8 L242.5 129.3 L243.0 131.2 L243.5 131.9 L244.0 133.4 L244.5 134.8 L245.0 135.6 L245.5 136.6 L246.0 137.3 L246.5 137.8 L247.0 138.8 L247.5 139.2 L248.0 138.6 L248.5 139.6 L249.0 139.2 L249.5 139.7 L250.0 140.2 L250.5 140.2 L251.0 140.2 L251.5 140.2 L252.0 140.2 L252.5 140.2 L253.0 140.2 L253.5 140.2 L254.0 140.2 L254.5 140.2 L255.0 140.2 L255.5 140.2 L256.0 140.2 L256.5 140.2 L257.0 140.2 L257.5 140.2 L258.0 140.2 L258.5 140.2 L259.0 140.2 L259.5 140.2 L260.0 140.2 L260.5 140.2 L261.0 140.2 L261.5 140.2 L262.0 140.2 L262.5 140.2 L263.0 140.2 L263.5 140.2 L264.0 140.2 L264.5 140.2 L265.0 140.2 L265.5 140.2 L266.0 140.2 L266.5 140.2 L267.0 140.2 L267.5 140.2 L268.0 140.2 L268.5 140.2 L269.0 140.2 L269.5 140.2 L270.0 140.2 L270.5 140.2 L271.0 140.2 L271.5 140.2 L272.0 140.2 L272.5 140.2 L273.0 140.2 L273.5 140.2 L274.0 140.2 L274.5 140.2 L275.0 140.2 L275.5 140.2 L276.0 140.2 L276.5 140.2 L277.0 140.2 L277.5 140.2 L278.0 140.2 L278.5 140.2 L279.0 140.2 L279.5 140.2 L280.0 140.2 L280.5 140.2 L281.0 140.2 L281.5 140.2 L282.0 140.2 L282.5 140.2 L283.0 140.2 L283.5 140.2 L284.0 140.2 L284.5 140.2 L285.0 140.2 L285.5 140.2 L286.0 140.2 L286.5 140.2 L287.0 140.2 L287.5 140.2 L288.0 140.2 L288.5 140.2 L289.0 140.2 L289.5 140.2 L290.0 140.2 L290.5 140.2 L291.0 140.2 L291.5 140.2 L292.0 140.2 L292.5 140.2 L293.0 140.2 L293.5 140.2 L294.0 140.2 L294.5 140.2 L295.0 140.2 L295.5 140.2 L296.0 140.2 L296.5 140.2 L297.0 140.2 L297.5 140.2 L298.0 140.2 L298.5 140.2 L299.0 140.2 L299.5 140.2 L300.0 140.2 L300.5 140.2 L301.0 140.2 L301.5 140.2 L302.0 140.2 L302.5 140.2 L303.0 140.2 L303.5 140.2 L304.0 140.2 L304.5 140.2 L305.0 140.2 L305.5 140.2 L306.0 140.2 L306.5 140.2 L307.0 140.2 L307.5 140.2 L308.0 140.2 L308.5 140.2 L309.0 140.2 L309.5 140.2 L310.0 140.2 L310.5 140.2 L311.0 140.2 L311.5 140.2 L312.0 140.2 L312.5 140.2 L313.0 140.2 L313.5 140.2 L314.0 140.2 L314.5 140.2 L315.0 140.2 L315.5 140.2 L316.0 140.2 L316.5 140.2 L317.0 140.2 L317.5 140.2 L318.0 140.2 L318.5 140.2 L319.0 140.2 L319.5 140.2 L320.0 140.2 L320.5 140.2 L321.0 140.2 L321.5 140.2 L322.0 140.2 L322.5 140.2 L323.0 140.2 L323.5 140.2 L324.0 140.2 L324.5 140.2 L325.0 140.2 L325.5 140.2 L326.0 140.2 L326.5 140.2 L327.0 140.2 L327.5 140.2 L328.0 140.2 L328.5 140.2 L328.5 140.2 Z" fill="#d6ecca"/>
<path d="M209.0 140.2 L209.0 140.2 L209.5 140.1 L210.0 139.7 L210.5 139.9 L211.0 138.9 L211.5 139.7 L212.0 139.4 L212.5 138.2 L213.0 137.8 L213.5 137.7 L214.0 137.4 L214.5 137.5 L215.0 136.7 L215.5 137.2 L216.0 135.1 L216.5 135.0 L217.0 133.8 L217.5 133.7 L218.0 132.8 L218.5 131.4 L219.0 129.2 L219.5 128.9 L220.0 125.0 L220.5 125.1 L221.0 124.1 L221.5 122.3 L222.0 120.3 L222.5 118.0 L223.0 115.5 L223.5 111.1 L224.0 109.4 L224.5 105.7 L225.0 104.2 L225.5 102.0 L226.0 100.4 L226.5 98.0 L227.0 89.1 L227.5 90.8 L228.0 87.2 L228.5 82.1 L229.0 86.5 L229.5 80.4 L230.0 80.0 L230.5 79.4 L231.0 69.2 L231.5 68.9 L232.0 73.3 L232.5 70.0 L233.0 58.7 L233.5 66.3 L234.0 55.9 L234.5 59.1 L235.0 63.4 L235.5 64.7 L236.0 65.7 L236.5 64.6 L237.0 61.4 L237.5 65.4 L238.0 74.1 L238.5 76.0 L239.0 77.4 L239.5 87.2 L240.0 89.4 L240.5 91.4 L241.0 93.9 L241.5 101.2 L242.0 108.5 L242.5 106.1 L243.0 114.1 L243.5 115.8 L244.0 119.6 L244.5 123.0 L245.0 123.3 L245.5 126.0 L246.0 129.3 L246.5 131.6 L247.0 133.4 L247.5 134.5 L248.0 134.8 L248.5 135.6 L249.0 136.8 L249.5 137.4 L250.0 138.8 L250.5 138.4 L251.0 138.7 L251.5 139.4 L252.0 139.6 L252.5 139.6 L253.0 139.3 L253.5 139.7 L254.0 140.2 L254.5 140.2 L255.0 140.2 L255.5 140.2 L256.0 140.2 L256.5 140.2 L257.0 140.2 L257.5 140.2 L258.0 140.2 L258.5 140.2 L259.0 140.2 L259.5 140.2 L260.0 140.2 L260.5 140.2 L261.0 140.2 L261.5 140.2 L262.0 140.2 L262.5 140.2 L263.0 140.2 L263.5 140.2 L264.0 140.2 L264.5 140.2 L265.0 140.2 L265.5 140.2 L266.0 140.2 L266.5 140.2 L267.0 140.2 L267.5 140.2 L268.0 140.2 L268.5 140.2 L269.0 140.2 L269.5 140.2 L270.0 140.2 L270.5 140.2 L271.0 140.2 L271.5 140.2 L272.0 140.2 L272.5 140.2 L273.0 140.2 L273.5 140.2 L274.0 140.2 L274.5 140.2 L275.0 140.2 L275.5 140.2 L276.0 140.2 L276.5 140.2 L277.0 140.2 L277.5 140.2 L278.0 140.2 L278.5 140.2 L279.0 140.2 L279.5 140.2 L280.0 140.2 L280.5 140.2 L281.0 140.2 L281.5 140.2 L282.0 140.2 L282.5 140.2 L283.0 140.2 L283.5 140.2 L284.0 140.2 L284.5 140.2 L285.0 140.2 L285.5 140.2 L286.0 140.2 L286.5 140.2 L287.0 140.2 L287.5 140.2 L288.0 140.2 L288.5 140.2 L289.0 140.2 L289.5 140.2 L290.0 140.2 L290.5 140.2 L291.0 140.2 L291.5 140.2 L292.0 140.2 L292.5 140.2 L293.0 140.2 L293.5 140.2 L294.0 140.2 L294.5 140.2 L295.0 140.2 L295.5 140.2 L296.0 140.2 L296.5 140.2 L297.0 140.2 L297.5 140.2 L298.0 140.2 L298.5 140.2 L299.0 140.2 L299.5 140.2 L300.0 140.2 L300.5 140.2 L301.0 140.2 L301.5 140.2 L302.0 140.2 L302.5 140.2 L303.0 140.2 L303.5 140.2 L304.0 140.2 L304.5 140.2 L305.0 140.2 L305.5 140.2 L306.0 140.2 L306.5 140.2 L307.0 140.2 L307.5 140.2 L308.0 140.2 L308.5 140.2 L309.0 140.2 L309.5 140.2 L310.0 140.2 L310.5 140.2 L311.0 140.2 L311.5 140.2 L312.0 140.2 L312.5 140.2 L313.0 140.2 L313.5 140.2 L314.0 140.2 L314.5 140.2 L315.0 140.2 L315.5 140.2 L316.0 140.2 L316.5 140.2 L317.0 140.2 L317.5 140.2 L318.0 140.2 L318.5 140.2 L319.0 140.2 L319.5 140.2 L320.0 140.2 L320.5 140.2 L321.0 140.2 L321.5 140.2 L322.0 140.2 L322.5 140.2 L323.0 140.2 L323.5 140.2 L324.0 140.2 L324.5 140.2 L325.0 140.2 L325.5 140.2 L326.0 140.2 L326.5 140.2 L327.0 140.2 L327.5 140.2 L328.0 140.2 L328.5 140.2 L328.5 140.2 Z" fill="#e7a6ba"/>
<path d="M209.0 140.2 L209.0 140.2 L209.5 140.1 L210.0 139.7 L210.5 139.9 L211.0 138.9 L211.5 139.7 L212.0 139.4 L212.5 138.2 L213.0 137.8 L213.5 137.7 L214.0 137.4 L214.5 137.5 L215.0 136.7 L215.5 137.2 L216.0 135.1 L216.5 135.0 L217.0 133.8 L217.5 133.7 L218.0 132.8 L218.5 131.4 L219.0 129.2 L219.5 128.9 L220.0 125.0 L220.5 125.1 L221.0 124.1 L221.5 122.3 L222.0 120.3 L222.5 118.0 L223.0 115.5 L223.5 111.1 L224.0 109.4 L224.5 105.7 L225.0 104.2 L225.5 102.0 L226.0 100.4 L226.5 98.0 L227.0 89.1 L227.5 90.8 L228.0 87.2 L228.5 82.1 L229.0 86.5 L229.5 80.4 L230.0 80.0 L230.5 79.4 L231.0 69.2 L231.5 68.9 L232.0 73.3 L232.5 70.0 L233.0 58.7 L233.5 66.3 L234.0 55.9 L234.5 59.1 L235.0 63.8 L235.5 73.4 L236.0 71.9 L236.5 79.6 L237.0 90.0 L237.5 92.6 L238.0 93.4 L238.5 97.9 L239.0 105.0 L239.5 111.3 L240.0 113.9 L240.5 117.0 L241.0 120.7 L241.5 124.3 L242.0 126.8 L242.5 129.3 L243.0 131.2 L243.5 131.9 L244.0 133.4 L244.5 134.8 L245.0 135.6 L245.5 136.6 L246.0 137.3 L246.5 137.8 L247.0 138.8 L247.5 139.2 L248.0 138.6 L248.5 139.6 L249.0 139.2 L249.5 139.7 L250.0 140.2 L250.5 140.2 L251.0 140.2 L251.5 140.2 L252.0 140.2 L252.5 140.2 L253.0 140.2 L253.5 140.2 L254.0 140.2 L254.5 140.2 L255.0 140.2 L255.5 140.2 L256.0 140.2 L256.5 140.2 L257.0 140.2 L257.5 140.2 L258.0 140.2 L258.5 140.2 L259.0 140.2 L259.5 140.2 L260.0 140.2 L260.5 140.2 L261.0 140.2 L261.5 140.2 L262.0 140.2 L262.5 140.2 L263.0 140.2 L263.5 140.2 L264.0 140.2 L264.5 140.2 L265.0 140.2 L265.5 140.2 L266.0 140.2 L266.5 140.2 L267.0 140.2 L267.5 140.2 L268.0 140.2 L268.5 140.2 L269.0 140.2 L269.5 140.2 L270.0 140.2 L270.5 140.2 L271.0 140.2 L271.5 140.2 L272.0 140.2 L272.5 140.2 L273.0 140.2 L273.5 140.2 L274.0 140.2 L274.5 140.2 L275.0 140.2 L275.5 140.2 L276.0 140.2 L276.5 140.2 L277.0 140.2 L277.5 140.2 L278.0 140.2 L278.5 140.2 L279.0 140.2 L279.5 140.2 L280.0 140.2 L280.5 140.2 L281.0 140.2 L281.5 140.2 L282.0 140.2 L282.5 140.2 L283.0 140.2 L283.5 140.2 L284.0 140.2 L284.5 140.2 L285.0 140.2 L285.5 140.2 L286.0 140.2 L286.5 140.2 L287.0 140.2 L287.5 140.2 L288.0 140.2 L288.5 140.2 L289.0 140.2 L289.5 140.2 L290.0 140.2 L290.5 140.2 L291.0 140.2 L291.5 140.2 L292.0 140.2 L292.5 140.2 L293.0 140.2 L293.5 140.2 L294.0 140.2 L294.5 140.2 L295.0 140.2 L295.5 140.2 L296.0 140.2 L296.5 140.2 L297.0 140.2 L297.5 140.2 L298.0 140.2 L298.5 140.2 L299.0 140.2 L299.5 140.2 L300.0 140.2 L300.5 140.2 L301.0 140.2 L301.5 140.2 L302.0 140.2 L302.5 140.2 L303.0 140.2 L303.5 140.2 L304.0 140.2 L304.5 140.2 L305.0 140.2 L305.5 140.2 L306.0 140.2 L306.5 140.2 L307.0 140.2 L307.5 140.2 L308.0 140.2 L308.5 140.2 L309.0 140.2 L309.5 140.2 L310.0 140.2 L310.5 140.2 L311.0 140.2 L311.5 140.2 L312.0 140.2 L312.5 140.2 L313.0 140.2 L313.5 140.2 L314.0 140.2 L314.5 140.2 L315.0 140.2 L315.5 140.2 L316.0 140.2 L316.5 140.2 L317.0 140.2 L317.5 140.2 L318.0 140.2 L318.5 140.2 L319.0 140.2 L319.5 140.2 L320.0 140.2 L320.5 140.2 L321.0 140.2 L321.5 140.2 L322.0 140.2 L322.5 140.2 L323.0 140.2 L323.5 140.2 L324.0 140.2 L324.5 140.2 L325.0 140.2 L325.5 140.2 L326.0 140.2 L326.5 140.2 L327.0 140.2 L327.5 140.2 L328.0 140.2 L328.5 140.2 L328.5 140.2 Z" fill="#c2aa92"/>
<path d="M209.0 137.2 L209.5 138.0 L210.0 137.2 L210.5 137.1 L211.0 136.3 L211.5 135.6 L212.0 135.6 L212.5 133.4 L213.0 132.2 L213.5 132.2 L214.0 129.4 L214.5 128.2 L215.0 126.1 L215.5 124.9 L216.0 123.1 L216.5 122.8 L217.0 119.2 L217.5 116.6 L218.0 114.2 L218.5 113.8 L219.0 107.3 L219.5 109.1 L220.0 106.5 L220.5 98.4 L221.0 97.7 L221.5 94.8 L222.0 86.1 L222.5 88.6 L223.0 78.1 L223.5 74.3 L224.0 73.3 L224.5 69.0 L225.0 71.6 L225.5 70.9 L226.0 68.0 L226.5 54.1 L227.0 49.3 L227.5 51.2 L228.0 46.1 L228.5 39.8 L229.0 53.1 L229.5 46.5 L230.0 35.6 L230.5 50.0 L231.0 43.7 L231.5 42.9 L232.0 50.1 L232.5 39.8 L233.0 52.0 L233.5 46.9 L234.0 53.6 L234.5 57.4 L235.0 63.8 L235.5 73.4 L236.0 71.9 L236.5 79.6 L237.0 90.0 L237.5 92.6 L238.0 93.4 L238.5 97.9 L239.0 105.0 L239.5 111.3 L240.0 113.9 L240.5 117.0 L241.0 120.7 L241.5 124.3 L242.0 126.8 L242.5 129.3 L243.0 131.2 L243.5 131.9 L244.0 133.4 L244.5 134.8 L245.0 135.6 L245.5 136.6 L246.0 137.3 L246.5 137.8 L247.0 138.8 L247.5 139.2 L248.0 138.6 L248.5 139.6 L249.0 139.2 L249.5 139.7 L250.0 140.2 L250.5 140.2 L251.0 140.2 L251.5 140.2 L252.0 140.2 L252.5 140.2 L253.0 140.2 L253.5 140.2 L254.0 140.2 L254.5 140.2 L255.0 140.2 L255.5 140.2 L256.0 140.2 L256.5 140.2 L257.0 140.2 L257.5 140.2 L258.0 140.2 L258.5 140.2 L259.0 140.2 L259.5 140.2 L260.0 140.2 L260.5 140.2 L261.0 140.2 L261.5 140.2 L262.0 140.2 L262.5 140.2 L263.0 140.2 L263.5 140.2 L264.0 140.2 L264.5 140.2 L265.0 140.2 L265.5 140.2 L266.0 140.2 L266.5 140.2 L267.0 140.2 L267.5 140.2 L268.0 140.2 L268.5 140.2 L269.0 140.2 L269.5 140.2 L270.0 140.2 L270.5 140.2 L271.0 140.2 L271.5 140.2 L272.0 140.2 L272.5 140.2 L273.0 140.2 L273.5 140.2 L274.0 140.2 L274.5 140.2 L275.0 140.2 L275.5 140.2 L276.0 140.2 L276.5 140.2 L277.0 140.2 L277.5 140.2 L278.0 140.2 L278.5 140.2 L279.0 140.2 L279.5 140.2 L280.0 140.2 L280.5 140.2 L281.0 140.2 L281.5 140.2 L282.0 140.2 L282.5 140.2 L283.0 140.2 L283.5 140.2 L284.0 140.2 L284.5 140.2 L285.0 140.2 L285.5 140.2 L286.0 140.2 L286.5 140.2 L287.0 140.2 L287.5 140.2 L288.0 140.2 L288.5 140.2 L289.0 140.2 L289.5 140.2 L290.0 140.2 L290.5 140.2 L291.0 140.2 L291.5 140.2 L292.0 140.2 L292.5 140.2 L293.0 140.2 L293.5 140.2 L294.0 140.2 L294.5 140.2 L295.0 140.2 L295.5 140.2 L296.0 140.2 L296.5 140.2 L297.0 140.2 L297.5 140.2 L298.0 140.2 L298.5 140.2 L299.0 140.2 L299.5 140.2 L300.0 140.2 L300.5 140.2 L301.0 140.2 L301.5 140.2 L302.0 140.2 L302.5 140.2 L303.0 140.2 L303.5 140.2 L304.0 140.2 L304.5 140.2 L305.0 140.2 L305.5 140.2 L306.0 140.2 L306.5 140.2 L307.0 140.2 L307.5 140.2 L308.0 140.2 L308.5 140.2 L309.0 140.2 L309.5 140.2 L310.0 140.2 L310.5 140.2 L311.0 140.2 L311.5 140.2 L312.0 140.2 L312.5 140.2 L313.0 140.2 L313.5 140.2 L314.0 140.2 L314.5 140.2 L315.0 140.2 L315.5 140.2 L316.0 140.2 L316.5 140.2 L317.0 140.2 L317.5 140.2 L318.0 140.2 L318.5 140.2 L319.0 140.2 L319.5 140.2 L320.0 140.2 L320.5 140.2 L321.0 140.2 L321.5 140.2 L322.0 140.2 L322.5 140.2 L323.0 140.2 L323.5 140.2 L324.0 140.2 L324.5 140.2 L325.0 140.2 L325.5 140.2 L326.0 140.2 L326.5 140.2 L327.0 140.2 L327.5 140.2 L328.0 140.2 L328.5 140.2" fill="none" stroke="#72b650" stroke-width="0.9"/>
<path d="M209.0 140.2 L209.5 140.1 L210.0 139.7 L210.5 139.9 L211.0 138.9 L211.5 139.7 L212.0 139.4 L212.5 138.2 L213.0 137.8 L213.5 137.7 L214.0 137.4 L214.5 137.5 L215.0 136.7 L215.5 137.2 L216.0 135.1 L216.5 135.0 L217.0 133.8 L217.5 133.7 L218.0 132.8 L218.5 131.4 L219.0 129.2 L219.5 128.9 L220.0 125.0 L220.5 125.1 L221.0 124.1 L221.5 122.3 L222.0 120.3 L222.5 118.0 L223.0 115.5 L223.5 111.1 L224.0 109.4 L224.5 105.7 L225.0 104.2 L225.5 102.0 L226.0 100.4 L226.5 98.0 L227.0 89.1 L227.5 90.8 L228.0 87.2 L228.5 82.1 L229.0 86.5 L229.5 80.4 L230.0 80.0 L230.5 79.4 L231.0 69.2 L231.5 68.9 L232.0 73.3 L232.5 70.0 L233.0 58.7 L233.5 66.3 L234.0 55.9 L234.5 59.1 L235.0 63.4 L235.5 64.7 L236.0 65.7 L236.5 64.6 L237.0 61.4 L237.5 65.4 L238.0 74.1 L238.5 76.0 L239.0 77.4 L239.5 87.2 L240.0 89.4 L240.5 91.4 L241.0 93.9 L241.5 101.2 L242.0 108.5 L242.5 106.1 L243.0 114.1 L243.5 115.8 L244.0 119.6 L244.5 123.0 L245.0 123.3 L245.5 126.0 L246.0 129.3 L246.5 131.6 L247.0 133.4 L247.5 134.5 L248.0 134.8 L248.5 135.6 L249.0 136.8 L249.5 137.4 L250.0 138.8 L250.5 138.4 L251.0 138.7 L251.5 139.4 L252.0 139.6 L252.5 139.6 L253.0 139.3 L253.5 139.7 L254.0 140.2 L254.5 140.2 L255.0 140.2 L255.5 140.2 L256.0 140.2 L256.5 140.2 L257.0 140.2 L257.5 140.2 L258.0 140.2 L258.5 140.2 L259.0 140.2 L259.5 140.2 L260.0 140.2 L260.5 140.2 L261.0 140.2 L261.5 140.2 L262.0 140.2 L262.5 140.2 L263.0 140.2 L263.5 140.2 L264.0 140.2 L264.5 140.2 L265.0 140.2 L265.5 140.2 L266.0 140.2 L266.5 140.2 L267.0 140.2 L267.5 140.2 L268.0 140.2 L268.5 140.2 L269.0 140.2 L269.5 140.2 L270.0 140.2 L270.5 140.2 L271.0 140.2 L271.5 140.2 L272.0 140.2 L272.5 140.2 L273.0 140.2 L273.5 140.2 L274.0 140.2 L274.5 140.2 L275.0 140.2 L275.5 140.2 L276.0 140.2 L276.5 140.2 L277.0 140.2 L277.5 140.2 L278.0 140.2 L278.5 140.2 L279.0 140.2 L279.5 140.2 L280.0 140.2 L280.5 140.2 L281.0 140.2 L281.5 140.2 L282.0 140.2 L282.5 140.2 L283.0 140.2 L283.5 140.2 L284.0 140.2 L284.5 140.2 L285.0 140.2 L285.5 140.2 L286.0 140.2 L286.5 140.2 L287.0 140.2 L287.5 140.2 L288.0 140.2 L288.5 140.2 L289.0 140.2 L289.5 140.2 L290.0 140.2 L290.5 140.2 L291.0 140.2 L291.5 140.2 L292.0 140.2 L292.5 140.2 L293.0 140.2 L293.5 140.2 L294.0 140.2 L294.5 140.2 L295.0 140.2 L295.5 140.2 L296.0 140.2 L296.5 140.2 L297.0 140.2 L297.5 140.2 L298.0 140.2 L298.5 140.2 L299.0 140.2 L299.5 140.2 L300.0 140.2 L300.5 140.2 L301.0 140.2 L301.5 140.2 L302.0 140.2 L302.5 140.2 L303.0 140.2 L303.5 140.2 L304.0 140.2 L304.5 140.2 L305.0 140.2 L305.5 140.2 L306.0 140.2 L306.5 140.2 L307.0 140.2 L307.5 140.2 L308.0 140.2 L308.5 140.2 L309.0 140.2 L309.5 140.2 L310.0 140.2 L310.5 140.2 L311.0 140.2 L311.5 140.2 L312.0 140.2 L312.5 140.2 L313.0 140.2 L313.5 140.2 L314.0 140.2 L314.5 140.2 L315.0 140.2 L315.5 140.2 L316.0 140.2 L316.5 140.2 L317.0 140.2 L317.5 140.2 L318.0 140.2 L318.5 140.2 L319.0 140.2 L319.5 140.2 L320.0 140.2 L320.5 140.2 L321.0 140.2 L321.5 140.2 L322.0 140.2 L322.5 140.2 L323.0 140.2 L323.5 140.2 L324.0 140.2 L324.5 140.2 L325.0 140.2 L325.5 140.2 L326.0 140.2 L326.5 140.2 L327.0 140.2 L327.5 140.2 L328.0 140.2 L328.5 140.2" fill="none" stroke="#b8204c" stroke-width="0.9"/>
<path d="M208.50 140.20 V25.40 H329.40 V140.20 Z" fill="none" stroke="#000" stroke-width="1"/>
<text x="268.95" y="19.40" font-size="9.3" text-anchor="middle" font-weight="normal" fill="#000" >ALL#20</text>
<line x1="205.70" y1="140.20" x2="208.50" y2="140.20" stroke="#000" stroke-width="0.8" />
<text transform="translate(202.10 142.65) scale(1.2 1)" font-size="6.6" text-anchor="end" font-weight="normal" fill="#000" >0</text>
<line x1="205.70" y1="118.12" x2="208.50" y2="118.12" stroke="#000" stroke-width="0.8" />
<text transform="translate(202.10 120.57) scale(1.2 1)" font-size="6.6" text-anchor="end" font-weight="normal" fill="#000" >40</text>
<line x1="205.70" y1="96.05" x2="208.50" y2="96.05" stroke="#000" stroke-width="0.8" />
<text transform="translate(202.10 98.50) scale(1.2 1)" font-size="6.6" text-anchor="end" font-weight="normal" fill="#000" >80</text>
<line x1="205.70" y1="73.97" x2="208.50" y2="73.97" stroke="#000" stroke-width="0.8" />
<text transform="translate(202.10 76.42) scale(1.2 1)" font-size="6.6" text-anchor="end" font-weight="normal" fill="#000" >120</text>
<line x1="205.70" y1="51.89" x2="208.50" y2="51.89" stroke="#000" stroke-width="0.8" />
<text transform="translate(202.10 54.34) scale(1.2 1)" font-size="6.6" text-anchor="end" font-weight="normal" fill="#000" >160</text>
<line x1="205.70" y1="29.82" x2="208.50" y2="29.82" stroke="#000" stroke-width="0.8" />
<text transform="translate(202.10 32.27) scale(1.2 1)" font-size="6.6" text-anchor="end" font-weight="normal" fill="#000" >200</text>
<line x1="205.70" y1="25.40" x2="208.50" y2="25.40" stroke="#000" stroke-width="0.8" />
<text transform="translate(202.10 27.85) scale(1.2 1)" font-size="6.6" text-anchor="end" font-weight="normal" fill="#000" >208</text>
<line x1="207.10" y1="140.20" x2="208.50" y2="140.20" stroke="#000" stroke-width="0.7" />
<line x1="207.10" y1="134.68" x2="208.50" y2="134.68" stroke="#000" stroke-width="0.7" />
<line x1="207.10" y1="129.16" x2="208.50" y2="129.16" stroke="#000" stroke-width="0.7" />
<line x1="207.10" y1="123.64" x2="208.50" y2="123.64" stroke="#000" stroke-width="0.7" />
<line x1="207.10" y1="118.12" x2="208.50" y2="118.12" stroke="#000" stroke-width="0.7" />
<line x1="207.10" y1="112.60" x2="208.50" y2="112.60" stroke="#000" stroke-width="0.7" />
<line x1="207.10" y1="107.08" x2="208.50" y2="107.08" stroke="#000" stroke-width="0.7" />
<line x1="207.10" y1="101.57" x2="208.50" y2="101.57" stroke="#000" stroke-width="0.7" />
<line x1="207.10" y1="96.05" x2="208.50" y2="96.05" stroke="#000" stroke-width="0.7" />
<line x1="207.10" y1="90.53" x2="208.50" y2="90.53" stroke="#000" stroke-width="0.7" />
<line x1="207.10" y1="85.01" x2="208.50" y2="85.01" stroke="#000" stroke-width="0.7" />
<line x1="207.10" y1="79.49" x2="208.50" y2="79.49" stroke="#000" stroke-width="0.7" />
<line x1="207.10" y1="73.97" x2="208.50" y2="73.97" stroke="#000" stroke-width="0.7" />
<line x1="207.10" y1="68.45" x2="208.50" y2="68.45" stroke="#000" stroke-width="0.7" />
<line x1="207.10" y1="62.93" x2="208.50" y2="62.93" stroke="#000" stroke-width="0.7" />
<line x1="207.10" y1="57.41" x2="208.50" y2="57.41" stroke="#000" stroke-width="0.7" />
<line x1="207.10" y1="51.89" x2="208.50" y2="51.89" stroke="#000" stroke-width="0.7" />
<line x1="207.10" y1="46.37" x2="208.50" y2="46.37" stroke="#000" stroke-width="0.7" />
<line x1="207.10" y1="40.85" x2="208.50" y2="40.85" stroke="#000" stroke-width="0.7" />
<line x1="207.10" y1="35.33" x2="208.50" y2="35.33" stroke="#000" stroke-width="0.7" />
<line x1="207.10" y1="29.82" x2="208.50" y2="29.82" stroke="#000" stroke-width="0.7" />
<line x1="208.50" y1="140.20" x2="208.50" y2="142.70" stroke="#000" stroke-width="0.8" />
<text transform="translate(209.70 153.10) scale(1.2 1)" font-size="6.6" text-anchor="middle" fill="#000">10<tspan font-size="4.00" dy="-2.64">0</tspan></text>
<line x1="238.72" y1="140.20" x2="238.72" y2="142.70" stroke="#000" stroke-width="0.8" />
<text transform="translate(239.92 153.10) scale(1.2 1)" font-size="6.6" text-anchor="middle" fill="#000">10<tspan font-size="4.00" dy="-2.64">1</tspan></text>
<line x1="268.95" y1="140.20" x2="268.95" y2="142.70" stroke="#000" stroke-width="0.8" />
<text transform="translate(270.15 153.10) scale(1.2 1)" font-size="6.6" text-anchor="middle" fill="#000">10<tspan font-size="4.00" dy="-2.64">2</tspan></text>
<line x1="299.17" y1="140.20" x2="299.17" y2="142.70" stroke="#000" stroke-width="0.8" />
<text transform="translate(300.37 153.10) scale(1.2 1)" font-size="6.6" text-anchor="middle" fill="#000">10<tspan font-size="4.00" dy="-2.64">3</tspan></text>
<line x1="329.40" y1="140.20" x2="329.40" y2="142.70" stroke="#000" stroke-width="0.8" />
<text transform="translate(330.60 153.10) scale(1.2 1)" font-size="6.6" text-anchor="middle" fill="#000">10<tspan font-size="4.00" dy="-2.64">4</tspan></text>
<line x1="217.60" y1="140.20" x2="217.60" y2="141.60" stroke="#000" stroke-width="0.6" />
<line x1="222.92" y1="140.20" x2="222.92" y2="141.60" stroke="#000" stroke-width="0.6" />
<line x1="226.70" y1="140.20" x2="226.70" y2="141.60" stroke="#000" stroke-width="0.6" />
<line x1="229.63" y1="140.20" x2="229.63" y2="141.60" stroke="#000" stroke-width="0.6" />
<line x1="232.02" y1="140.20" x2="232.02" y2="141.60" stroke="#000" stroke-width="0.6" />
<line x1="234.04" y1="140.20" x2="234.04" y2="141.60" stroke="#000" stroke-width="0.6" />
<line x1="235.80" y1="140.20" x2="235.80" y2="141.60" stroke="#000" stroke-width="0.6" />
<line x1="237.34" y1="140.20" x2="237.34" y2="141.60" stroke="#000" stroke-width="0.6" />
<line x1="247.82" y1="140.20" x2="247.82" y2="141.60" stroke="#000" stroke-width="0.6" />
<line x1="253.15" y1="140.20" x2="253.15" y2="141.60" stroke="#000" stroke-width="0.6" />
<line x1="256.92" y1="140.20" x2="256.92" y2="141.60" stroke="#000" stroke-width="0.6" />
<line x1="259.85" y1="140.20" x2="259.85" y2="141.60" stroke="#000" stroke-width="0.6" />
<line x1="262.24" y1="140.20" x2="262.24" y2="141.60" stroke="#000" stroke-width="0.6" />
<line x1="264.27" y1="140.20" x2="264.27" y2="141.60" stroke="#000" stroke-width="0.6" />
<line x1="266.02" y1="140.20" x2="266.02" y2="141.60" stroke="#000" stroke-width="0.6" />
<line x1="267.57" y1="140.20" x2="267.57" y2="141.60" stroke="#000" stroke-width="0.6" />
<line x1="278.05" y1="140.20" x2="278.05" y2="141.60" stroke="#000" stroke-width="0.6" />
<line x1="283.37" y1="140.20" x2="283.37" y2="141.60" stroke="#000" stroke-width="0.6" />
<line x1="287.15" y1="140.20" x2="287.15" y2="141.60" stroke="#000" stroke-width="0.6" />
<line x1="290.08" y1="140.20" x2="290.08" y2="141.60" stroke="#000" stroke-width="0.6" />
<line x1="292.47" y1="140.20" x2="292.47" y2="141.60" stroke="#000" stroke-width="0.6" />
<line x1="294.49" y1="140.20" x2="294.49" y2="141.60" stroke="#000" stroke-width="0.6" />
<line x1="296.25" y1="140.20" x2="296.25" y2="141.60" stroke="#000" stroke-width="0.6" />
<line x1="297.79" y1="140.20" x2="297.79" y2="141.60" stroke="#000" stroke-width="0.6" />
<line x1="308.27" y1="140.20" x2="308.27" y2="141.60" stroke="#000" stroke-width="0.6" />
<line x1="313.60" y1="140.20" x2="313.60" y2="141.60" stroke="#000" stroke-width="0.6" />
<line x1="317.37" y1="140.20" x2="317.37" y2="141.60" stroke="#000" stroke-width="0.6" />
<line x1="320.30" y1="140.20" x2="320.30" y2="141.60" stroke="#000" stroke-width="0.6" />
<line x1="322.69" y1="140.20" x2="322.69" y2="141.60" stroke="#000" stroke-width="0.6" />
<line x1="324.72" y1="140.20" x2="324.72" y2="141.60" stroke="#000" stroke-width="0.6" />
<line x1="326.47" y1="140.20" x2="326.47" y2="141.60" stroke="#000" stroke-width="0.6" />
<line x1="328.02" y1="140.20" x2="328.02" y2="141.60" stroke="#000" stroke-width="0.6" />
<line x1="244.20" y1="58.30" x2="329.40" y2="58.30" stroke="#000" stroke-width="1" />
<line x1="244.20" y1="56.80" x2="244.20" y2="59.80" stroke="#000" stroke-width="0.8" />
<text x="244.20" y="43.60" font-size="6.7" text-anchor="start" font-weight="normal" fill="#000" >EGFP<tspan font-size="3.8" dy="-2.6">+</tspan></text>
<text x="244.20" y="52.20" font-size="6.7" text-anchor="start" font-weight="normal" fill="#000" >4.09%</text>
<path d="M359.0 140.2 L359.0 140.2 L359.5 140.2 L360.0 140.2 L360.5 140.2 L361.0 140.2 L361.5 140.2 L362.0 140.2 L362.5 140.2 L363.0 140.2 L363.5 140.2 L364.0 140.2 L364.5 140.2 L365.0 140.2 L365.5 140.2 L366.0 140.2 L366.5 140.2 L367.0 140.2 L367.5 140.2 L368.0 140.2 L368.5 140.2 L369.0 140.2 L369.5 140.2 L370.0 140.2 L370.5 140.2 L371.0 140.2 L371.5 140.2 L372.0 140.2 L372.5 140.2 L373.0 140.2 L373.5 140.2 L374.0 140.2 L374.5 140.2 L375.0 140.2 L375.5 140.2 L376.0 140.2 L376.5 140.2 L377.0 140.2 L377.5 140.2 L378.0 140.2 L378.5 140.2 L379.0 140.2 L379.5 140.0 L380.0 140.1 L380.5 139.7 L381.0 138.0 L381.5 136.8 L382.0 135.6 L382.5 132.9 L383.0 128.1 L383.5 124.5 L384.0 119.3 L384.5 111.0 L385.0 103.8 L385.5 90.2 L386.0 74.7 L386.5 59.3 L387.0 49.5 L387.5 40.8 L388.0 49.7 L388.5 34.9 L389.0 35.3 L389.5 51.5 L390.0 61.4 L390.5 71.3 L391.0 72.4 L391.5 95.0 L392.0 105.7 L392.5 112.5 L393.0 123.9 L393.5 129.6 L394.0 132.2 L394.5 136.3 L395.0 137.3 L395.5 139.6 L396.0 139.7 L396.5 139.5 L397.0 140.2 L397.5 140.2 L398.0 140.2 L398.5 140.2 L399.0 140.2 L399.5 140.2 L400.0 140.2 L400.5 140.2 L401.0 140.2 L401.5 140.2 L402.0 140.2 L402.5 140.2 L403.0 140.2 L403.5 140.2 L404.0 140.2 L404.5 140.2 L405.0 140.2 L405.5 140.2 L406.0 140.2 L406.5 140.2 L407.0 140.2 L407.5 140.2 L408.0 140.2 L408.5 140.2 L409.0 140.2 L409.5 140.2 L410.0 140.2 L410.5 140.2 L411.0 140.2 L411.5 140.2 L412.0 140.2 L412.5 140.2 L413.0 140.2 L413.5 140.2 L414.0 140.2 L414.5 140.2 L415.0 140.2 L415.5 140.2 L416.0 140.2 L416.5 140.2 L417.0 140.2 L417.5 140.2 L418.0 140.2 L418.5 140.2 L419.0 140.2 L419.5 140.2 L420.0 140.2 L420.5 140.2 L421.0 140.2 L421.5 140.2 L422.0 140.2 L422.5 140.2 L423.0 140.2 L423.5 140.2 L424.0 140.2 L424.5 140.2 L425.0 140.2 L425.5 140.2 L426.0 140.2 L426.5 140.2 L427.0 140.2 L427.5 140.2 L428.0 140.2 L428.5 140.2 L429.0 140.2 L429.5 140.2 L430.0 140.2 L430.5 140.2 L431.0 140.2 L431.5 140.2 L432.0 140.2 L432.5 140.2 L433.0 140.2 L433.5 140.2 L434.0 140.2 L434.5 140.2 L435.0 140.2 L435.5 140.2 L436.0 140.2 L436.5 140.2 L437.0 140.2 L437.5 140.2 L438.0 140.2 L438.5 140.2 L439.0 140.2 L439.5 140.2 L440.0 140.2 L440.5 140.2 L441.0 140.2 L441.5 140.2 L442.0 140.2 L442.5 140.2 L443.0 140.2 L443.5 140.2 L444.0 140.2 L444.5 140.2 L445.0 140.2 L445.5 140.2 L446.0 140.2 L446.5 140.2 L447.0 140.2 L447.5 140.2 L448.0 140.2 L448.5 140.2 L449.0 140.2 L449.5 140.2 L450.0 140.2 L450.5 140.2 L451.0 140.2 L451.5 140.2 L452.0 140.2 L452.5 140.2 L453.0 140.2 L453.5 140.2 L454.0 140.2 L454.5 140.2 L455.0 140.2 L455.5 140.2 L456.0 140.2 L456.5 140.2 L457.0 140.2 L457.5 140.2 L458.0 140.2 L458.5 140.2 L459.0 140.2 L459.5 140.2 L460.0 140.2 L460.5 140.2 L461.0 140.2 L461.5 140.2 L462.0 140.2 L462.5 140.2 L463.0 140.2 L463.5 140.2 L464.0 140.2 L464.5 140.2 L465.0 140.2 L465.5 140.2 L466.0 140.2 L466.5 140.2 L467.0 140.2 L467.5 140.2 L468.0 140.2 L468.5 140.2 L469.0 140.2 L469.5 140.2 L470.0 140.2 L470.5 140.2 L471.0 140.2 L471.5 140.2 L472.0 140.2 L472.5 140.2 L473.0 140.2 L473.5 140.2 L474.0 140.2 L474.5 140.2 L475.0 140.2 L475.5 140.2 L476.0 140.2 L476.5 140.2 L477.0 140.2 L477.5 140.2 L478.0 140.2 L478.5 140.2 L478.5 140.2 Z" fill="#d6ecca"/>
<path d="M359.0 140.2 L359.0 140.2 L359.5 140.2 L360.0 140.2 L360.5 140.2 L361.0 140.2 L361.5 140.2 L362.0 140.2 L362.5 140.2 L363.0 140.2 L363.5 140.2 L364.0 140.2 L364.5 140.2 L365.0 140.2 L365.5 140.2 L366.0 140.2 L366.5 140.2 L367.0 140.2 L367.5 140.2 L368.0 140.2 L368.5 140.2 L369.0 140.2 L369.5 140.2 L370.0 140.2 L370.5 140.2 L371.0 140.2 L371.5 140.2 L372.0 140.2 L372.5 140.2 L373.0 140.2 L373.5 140.2 L374.0 140.2 L374.5 140.2 L375.0 140.2 L375.5 140.2 L376.0 140.2 L376.5 140.2 L377.0 140.2 L377.5 140.2 L378.0 140.2 L378.5 140.2 L379.0 140.2 L379.5 140.2 L380.0 140.2 L380.5 140.2 L381.0 140.2 L381.5 140.2 L382.0 140.2 L382.5 140.2 L383.0 140.2 L383.5 140.2 L384.0 140.2 L384.5 140.2 L385.0 140.2 L385.5 140.2 L386.0 140.2 L386.5 140.2 L387.0 140.2 L387.5 140.2 L388.0 139.7 L388.5 140.1 L389.0 139.2 L389.5 138.7 L390.0 138.7 L390.5 137.4 L391.0 136.5 L391.5 137.6 L392.0 135.8 L392.5 133.7 L393.0 133.4 L393.5 133.6 L394.0 133.7 L394.5 133.8 L395.0 134.7 L395.5 133.9 L396.0 134.8 L396.5 133.2 L397.0 133.9 L397.5 134.4 L398.0 133.4 L398.5 133.7 L399.0 133.1 L399.5 132.2 L400.0 131.9 L400.5 131.8 L401.0 132.2 L401.5 129.9 L402.0 130.1 L402.5 129.8 L403.0 130.6 L403.5 129.4 L404.0 128.0 L404.5 127.6 L405.0 128.2 L405.5 126.7 L406.0 127.6 L406.5 126.7 L407.0 125.8 L407.5 124.8 L408.0 125.0 L408.5 121.8 L409.0 121.1 L409.5 121.9 L410.0 122.5 L410.5 122.4 L411.0 120.6 L411.5 120.7 L412.0 119.7 L412.5 116.2 L413.0 117.6 L413.5 119.4 L414.0 114.6 L414.5 115.7 L415.0 117.7 L415.5 114.5 L416.0 115.6 L416.5 116.5 L417.0 112.6 L417.5 114.8 L418.0 110.6 L418.5 111.2 L419.0 111.9 L419.5 110.4 L420.0 112.2 L420.5 112.2 L421.0 109.5 L421.5 111.1 L422.0 113.3 L422.5 107.8 L423.0 114.9 L423.5 113.8 L424.0 111.8 L424.5 116.8 L425.0 115.3 L425.5 117.5 L426.0 120.3 L426.5 121.0 L427.0 122.3 L427.5 126.7 L428.0 127.6 L428.5 128.5 L429.0 129.4 L429.5 130.9 L430.0 131.5 L430.5 133.2 L431.0 134.5 L431.5 135.1 L432.0 136.0 L432.5 136.2 L433.0 137.8 L433.5 137.3 L434.0 137.8 L434.5 138.2 L435.0 139.4 L435.5 138.5 L436.0 138.7 L436.5 139.8 L437.0 140.2 L437.5 139.2 L438.0 139.7 L438.5 140.2 L439.0 140.2 L439.5 140.2 L440.0 140.2 L440.5 140.2 L441.0 140.2 L441.5 140.2 L442.0 140.2 L442.5 140.2 L443.0 140.2 L443.5 140.2 L444.0 140.2 L444.5 140.2 L445.0 140.2 L445.5 140.2 L446.0 140.2 L446.5 140.2 L447.0 140.2 L447.5 140.2 L448.0 140.2 L448.5 140.2 L449.0 140.2 L449.5 140.2 L450.0 140.2 L450.5 140.2 L451.0 140.2 L451.5 140.2 L452.0 140.2 L452.5 140.2 L453.0 140.2 L453.5 140.2 L454.0 140.2 L454.5 140.2 L455.0 140.2 L455.5 140.2 L456.0 140.2 L456.5 140.2 L457.0 140.2 L457.5 140.2 L458.0 140.2 L458.5 140.2 L459.0 140.2 L459.5 140.2 L460.0 140.2 L460.5 140.2 L461.0 140.2 L461.5 140.2 L462.0 140.2 L462.5 140.2 L463.0 140.2 L463.5 140.2 L464.0 140.2 L464.5 140.2 L465.0 140.2 L465.5 140.2 L466.0 140.2 L466.5 140.2 L467.0 140.2 L467.5 140.2 L468.0 140.2 L468.5 140.2 L469.0 140.2 L469.5 140.2 L470.0 140.2 L470.5 140.2 L471.0 140.2 L471.5 140.2 L472.0 140.2 L472.5 140.2 L473.0 140.2 L473.5 140.2 L474.0 140.2 L474.5 140.2 L475.0 140.2 L475.5 140.2 L476.0 140.2 L476.5 140.2 L477.0 140.2 L477.5 140.2 L478.0 140.2 L478.5 140.2 L478.5 140.2 Z" fill="#e7a6ba"/>
<path d="M359.0 140.2 L359.0 140.2 L359.5 140.2 L360.0 140.2 L360.5 140.2 L361.0 140.2 L361.5 140.2 L362.0 140.2 L362.5 140.2 L363.0 140.2 L363.5 140.2 L364.0 140.2 L364.5 140.2 L365.0 140.2 L365.5 140.2 L366.0 140.2 L366.5 140.2 L367.0 140.2 L367.5 140.2 L368.0 140.2 L368.5 140.2 L369.0 140.2 L369.5 140.2 L370.0 140.2 L370.5 140.2 L371.0 140.2 L371.5 140.2 L372.0 140.2 L372.5 140.2 L373.0 140.2 L373.5 140.2 L374.0 140.2 L374.5 140.2 L375.0 140.2 L375.5 140.2 L376.0 140.2 L376.5 140.2 L377.0 140.2 L377.5 140.2 L378.0 140.2 L378.5 140.2 L379.0 140.2 L379.5 140.2 L380.0 140.2 L380.5 140.2 L381.0 140.2 L381.5 140.2 L382.0 140.2 L382.5 140.2 L383.0 140.2 L383.5 140.2 L384.0 140.2 L384.5 140.2 L385.0 140.2 L385.5 140.2 L386.0 140.2 L386.5 140.2 L387.0 140.2 L387.5 140.2 L388.0 139.7 L388.5 140.1 L389.0 139.2 L389.5 138.7 L390.0 138.7 L390.5 137.4 L391.0 136.5 L391.5 137.6 L392.0 135.8 L392.5 133.7 L393.0 133.4 L393.5 133.6 L394.0 133.7 L394.5 136.3 L395.0 137.3 L395.5 139.6 L396.0 139.7 L396.5 139.5 L397.0 140.2 L397.5 140.2 L398.0 140.2 L398.5 140.2 L399.0 140.2 L399.5 140.2 L400.0 140.2 L400.5 140.2 L401.0 140.2 L401.5 140.2 L402.0 140.2 L402.5 140.2 L403.0 140.2 L403.5 140.2 L404.0 140.2 L404.5 140.2 L405.0 140.2 L405.5 140.2 L406.0 140.2 L406.5 140.2 L407.0 140.2 L407.5 140.2 L408.0 140.2 L408.5 140.2 L409.0 140.2 L409.5 140.2 L410.0 140.2 L410.5 140.2 L411.0 140.2 L411.5 140.2 L412.0 140.2 L412.5 140.2 L413.0 140.2 L413.5 140.2 L414.0 140.2 L414.5 140.2 L415.0 140.2 L415.5 140.2 L416.0 140.2 L416.5 140.2 L417.0 140.2 L417.5 140.2 L418.0 140.2 L418.5 140.2 L419.0 140.2 L419.5 140.2 L420.0 140.2 L420.5 140.2 L421.0 140.2 L421.5 140.2 L422.0 140.2 L422.5 140.2 L423.0 140.2 L423.5 140.2 L424.0 140.2 L424.5 140.2 L425.0 140.2 L425.5 140.2 L426.0 140.2 L426.5 140.2 L427.0 140.2 L427.5 140.2 L428.0 140.2 L428.5 140.2 L429.0 140.2 L429.5 140.2 L430.0 140.2 L430.5 140.2 L431.0 140.2 L431.5 140.2 L432.0 140.2 L432.5 140.2 L433.0 140.2 L433.5 140.2 L434.0 140.2 L434.5 140.2 L435.0 140.2 L435.5 140.2 L436.0 140.2 L436.5 140.2 L437.0 140.2 L437.5 140.2 L438.0 140.2 L438.5 140.2 L439.0 140.2 L439.5 140.2 L440.0 140.2 L440.5 140.2 L441.0 140.2 L441.5 140.2 L442.0 140.2 L442.5 140.2 L443.0 140.2 L443.5 140.2 L444.0 140.2 L444.5 140.2 L445.0 140.2 L445.5 140.2 L446.0 140.2 L446.5 140.2 L447.0 140.2 L447.5 140.2 L448.0 140.2 L448.5 140.2 L449.0 140.2 L449.5 140.2 L450.0 140.2 L450.5 140.2 L451.0 140.2 L451.5 140.2 L452.0 140.2 L452.5 140.2 L453.0 140.2 L453.5 140.2 L454.0 140.2 L454.5 140.2 L455.0 140.2 L455.5 140.2 L456.0 140.2 L456.5 140.2 L457.0 140.2 L457.5 140.2 L458.0 140.2 L458.5 140.2 L459.0 140.2 L459.5 140.2 L460.0 140.2 L460.5 140.2 L461.0 140.2 L461.5 140.2 L462.0 140.2 L462.5 140.2 L463.0 140.2 L463.5 140.2 L464.0 140.2 L464.5 140.2 L465.0 140.2 L465.5 140.2 L466.0 140.2 L466.5 140.2 L467.0 140.2 L467.5 140.2 L468.0 140.2 L468.5 140.2 L469.0 140.2 L469.5 140.2 L470.0 140.2 L470.5 140.2 L471.0 140.2 L471.5 140.2 L472.0 140.2 L472.5 140.2 L473.0 140.2 L473.5 140.2 L474.0 140.2 L474.5 140.2 L475.0 140.2 L475.5 140.2 L476.0 140.2 L476.5 140.2 L477.0 140.2 L477.5 140.2 L478.0 140.2 L478.5 140.2 L478.5 140.2 Z" fill="#c2aa92"/>
<path d="M359.0 140.2 L359.5 140.2 L360.0 140.2 L360.5 140.2 L361.0 140.2 L361.5 140.2 L362.0 140.2 L362.5 140.2 L363.0 140.2 L363.5 140.2 L364.0 140.2 L364.5 140.2 L365.0 140.2 L365.5 140.2 L366.0 140.2 L366.5 140.2 L367.0 140.2 L367.5 140.2 L368.0 140.2 L368.5 140.2 L369.0 140.2 L369.5 140.2 L370.0 140.2 L370.5 140.2 L371.0 140.2 L371.5 140.2 L372.0 140.2 L372.5 140.2 L373.0 140.2 L373.5 140.2 L374.0 140.2 L374.5 140.2 L375.0 140.2 L375.5 140.2 L376.0 140.2 L376.5 140.2 L377.0 140.2 L377.5 140.2 L378.0 140.2 L378.5 140.2 L379.0 140.2 L379.5 140.0 L380.0 140.1 L380.5 139.7 L381.0 138.0 L381.5 136.8 L382.0 135.6 L382.5 132.9 L383.0 128.1 L383.5 124.5 L384.0 119.3 L384.5 111.0 L385.0 103.8 L385.5 90.2 L386.0 74.7 L386.5 59.3 L387.0 49.5 L387.5 40.8 L388.0 49.7 L388.5 34.9 L389.0 35.3 L389.5 51.5 L390.0 61.4 L390.5 71.3 L391.0 72.4 L391.5 95.0 L392.0 105.7 L392.5 112.5 L393.0 123.9 L393.5 129.6 L394.0 132.2 L394.5 136.3 L395.0 137.3 L395.5 139.6 L396.0 139.7 L396.5 139.5 L397.0 140.2 L397.5 140.2 L398.0 140.2 L398.5 140.2 L399.0 140.2 L399.5 140.2 L400.0 140.2 L400.5 140.2 L401.0 140.2 L401.5 140.2 L402.0 140.2 L402.5 140.2 L403.0 140.2 L403.5 140.2 L404.0 140.2 L404.5 140.2 L405.0 140.2 L405.5 140.2 L406.0 140.2 L406.5 140.2 L407.0 140.2 L407.5 140.2 L408.0 140.2 L408.5 140.2 L409.0 140.2 L409.5 140.2 L410.0 140.2 L410.5 140.2 L411.0 140.2 L411.5 140.2 L412.0 140.2 L412.5 140.2 L413.0 140.2 L413.5 140.2 L414.0 140.2 L414.5 140.2 L415.0 140.2 L415.5 140.2 L416.0 140.2 L416.5 140.2 L417.0 140.2 L417.5 140.2 L418.0 140.2 L418.5 140.2 L419.0 140.2 L419.5 140.2 L420.0 140.2 L420.5 140.2 L421.0 140.2 L421.5 140.2 L422.0 140.2 L422.5 140.2 L423.0 140.2 L423.5 140.2 L424.0 140.2 L424.5 140.2 L425.0 140.2 L425.5 140.2 L426.0 140.2 L426.5 140.2 L427.0 140.2 L427.5 140.2 L428.0 140.2 L428.5 140.2 L429.0 140.2 L429.5 140.2 L430.0 140.2 L430.5 140.2 L431.0 140.2 L431.5 140.2 L432.0 140.2 L432.5 140.2 L433.0 140.2 L433.5 140.2 L434.0 140.2 L434.5 140.2 L435.0 140.2 L435.5 140.2 L436.0 140.2 L436.5 140.2 L437.0 140.2 L437.5 140.2 L438.0 140.2 L438.5 140.2 L439.0 140.2 L439.5 140.2 L440.0 140.2 L440.5 140.2 L441.0 140.2 L441.5 140.2 L442.0 140.2 L442.5 140.2 L443.0 140.2 L443.5 140.2 L444.0 140.2 L444.5 140.2 L445.0 140.2 L445.5 140.2 L446.0 140.2 L446.5 140.2 L447.0 140.2 L447.5 140.2 L448.0 140.2 L448.5 140.2 L449.0 140.2 L449.5 140.2 L450.0 140.2 L450.5 140.2 L451.0 140.2 L451.5 140.2 L452.0 140.2 L452.5 140.2 L453.0 140.2 L453.5 140.2 L454.0 140.2 L454.5 140.2 L455.0 140.2 L455.5 140.2 L456.0 140.2 L456.5 140.2 L457.0 140.2 L457.5 140.2 L458.0 140.2 L458.5 140.2 L459.0 140.2 L459.5 140.2 L460.0 140.2 L460.5 140.2 L461.0 140.2 L461.5 140.2 L462.0 140.2 L462.5 140.2 L463.0 140.2 L463.5 140.2 L464.0 140.2 L464.5 140.2 L465.0 140.2 L465.5 140.2 L466.0 140.2 L466.5 140.2 L467.0 140.2 L467.5 140.2 L468.0 140.2 L468.5 140.2 L469.0 140.2 L469.5 140.2 L470.0 140.2 L470.5 140.2 L471.0 140.2 L471.5 140.2 L472.0 140.2 L472.5 140.2 L473.0 140.2 L473.5 140.2 L474.0 140.2 L474.5 140.2 L475.0 140.2 L475.5 140.2 L476.0 140.2 L476.5 140.2 L477.0 140.2 L477.5 140.2 L478.0 140.2 L478.5 140.2" fill="none" stroke="#72b650" stroke-width="0.9"/>
<path d="M359.0 140.2 L359.5 140.2 L360.0 140.2 L360.5 140.2 L361.0 140.2 L361.5 140.2 L362.0 140.2 L362.5 140.2 L363.0 140.2 L363.5 140.2 L364.0 140.2 L364.5 140.2 L365.0 140.2 L365.5 140.2 L366.0 140.2 L366.5 140.2 L367.0 140.2 L367.5 140.2 L368.0 140.2 L368.5 140.2 L369.0 140.2 L369.5 140.2 L370.0 140.2 L370.5 140.2 L371.0 140.2 L371.5 140.2 L372.0 140.2 L372.5 140.2 L373.0 140.2 L373.5 140.2 L374.0 140.2 L374.5 140.2 L375.0 140.2 L375.5 140.2 L376.0 140.2 L376.5 140.2 L377.0 140.2 L377.5 140.2 L378.0 140.2 L378.5 140.2 L379.0 140.2 L379.5 140.2 L380.0 140.2 L380.5 140.2 L381.0 140.2 L381.5 140.2 L382.0 140.2 L382.5 140.2 L383.0 140.2 L383.5 140.2 L384.0 140.2 L384.5 140.2 L385.0 140.2 L385.5 140.2 L386.0 140.2 L386.5 140.2 L387.0 140.2 L387.5 140.2 L388.0 139.7 L388.5 140.1 L389.0 139.2 L389.5 138.7 L390.0 138.7 L390.5 137.4 L391.0 136.5 L391.5 137.6 L392.0 135.8 L392.5 133.7 L393.0 133.4 L393.5 133.6 L394.0 133.7 L394.5 133.8 L395.0 134.7 L395.5 133.9 L396.0 134.8 L396.5 133.2 L397.0 133.9 L397.5 134.4 L398.0 133.4 L398.5 133.7 L399.0 133.1 L399.5 132.2 L400.0 131.9 L400.5 131.8 L401.0 132.2 L401.5 129.9 L402.0 130.1 L402.5 129.8 L403.0 130.6 L403.5 129.4 L404.0 128.0 L404.5 127.6 L405.0 128.2 L405.5 126.7 L406.0 127.6 L406.5 126.7 L407.0 125.8 L407.5 124.8 L408.0 125.0 L408.5 121.8 L409.0 121.1 L409.5 121.9 L410.0 122.5 L410.5 122.4 L411.0 120.6 L411.5 120.7 L412.0 119.7 L412.5 116.2 L413.0 117.6 L413.5 119.4 L414.0 114.6 L414.5 115.7 L415.0 117.7 L415.5 114.5 L416.0 115.6 L416.5 116.5 L417.0 112.6 L417.5 114.8 L418.0 110.6 L418.5 111.2 L419.0 111.9 L419.5 110.4 L420.0 112.2 L420.5 112.2 L421.0 109.5 L421.5 111.1 L422.0 113.3 L422.5 107.8 L423.0 114.9 L423.5 113.8 L424.0 111.8 L424.5 116.8 L425.0 115.3 L425.5 117.5 L426.0 120.3 L426.5 121.0 L427.0 122.3 L427.5 126.7 L428.0 127.6 L428.5 128.5 L429.0 129.4 L429.5 130.9 L430.0 131.5 L430.5 133.2 L431.0 134.5 L431.5 135.1 L432.0 136.0 L432.5 136.2 L433.0 137.8 L433.5 137.3 L434.0 137.8 L434.5 138.2 L435.0 139.4 L435.5 138.5 L436.0 138.7 L436.5 139.8 L437.0 140.2 L437.5 139.2 L438.0 139.7 L438.5 140.2 L439.0 140.2 L439.5 140.2 L440.0 140.2 L440.5 140.2 L441.0 140.2 L441.5 140.2 L442.0 140.2 L442.5 140.2 L443.0 140.2 L443.5 140.2 L444.0 140.2 L444.5 140.2 L445.0 140.2 L445.5 140.2 L446.0 140.2 L446.5 140.2 L447.0 140.2 L447.5 140.2 L448.0 140.2 L448.5 140.2 L449.0 140.2 L449.5 140.2 L450.0 140.2 L450.5 140.2 L451.0 140.2 L451.5 140.2 L452.0 140.2 L452.5 140.2 L453.0 140.2 L453.5 140.2 L454.0 140.2 L454.5 140.2 L455.0 140.2 L455.5 140.2 L456.0 140.2 L456.5 140.2 L457.0 140.2 L457.5 140.2 L458.0 140.2 L458.5 140.2 L459.0 140.2 L459.5 140.2 L460.0 140.2 L460.5 140.2 L461.0 140.2 L461.5 140.2 L462.0 140.2 L462.5 140.2 L463.0 140.2 L463.5 140.2 L464.0 140.2 L464.5 140.2 L465.0 140.2 L465.5 140.2 L466.0 140.2 L466.5 140.2 L467.0 140.2 L467.5 140.2 L468.0 140.2 L468.5 140.2 L469.0 140.2 L469.5 140.2 L470.0 140.2 L470.5 140.2 L471.0 140.2 L471.5 140.2 L472.0 140.2 L472.5 140.2 L473.0 140.2 L473.5 140.2 L474.0 140.2 L474.5 140.2 L475.0 140.2 L475.5 140.2 L476.0 140.2 L476.5 140.2 L477.0 140.2 L477.5 140.2 L478.0 140.2 L478.5 140.2" fill="none" stroke="#b8204c" stroke-width="0.9"/>
<path d="M358.50 140.20 V25.00 H479.00 V140.20 Z" fill="none" stroke="#000" stroke-width="1"/>
<text x="418.75" y="19.40" font-size="9.3" text-anchor="middle" font-weight="normal" fill="#000" >REH</text>
<line x1="355.70" y1="140.20" x2="358.50" y2="140.20" stroke="#000" stroke-width="0.8" />
<text transform="translate(352.10 142.65) scale(1.2 1)" font-size="6.6" text-anchor="end" font-weight="normal" fill="#000" >0</text>
<line x1="355.70" y1="112.27" x2="358.50" y2="112.27" stroke="#000" stroke-width="0.8" />
<text transform="translate(352.10 114.72) scale(1.2 1)" font-size="6.6" text-anchor="end" font-weight="normal" fill="#000" >200</text>
<line x1="355.70" y1="84.35" x2="358.50" y2="84.35" stroke="#000" stroke-width="0.8" />
<text transform="translate(352.10 86.80) scale(1.2 1)" font-size="6.6" text-anchor="end" font-weight="normal" fill="#000" >400</text>
<line x1="355.70" y1="56.42" x2="358.50" y2="56.42" stroke="#000" stroke-width="0.8" />
<text transform="translate(352.10 58.87) scale(1.2 1)" font-size="6.6" text-anchor="end" font-weight="normal" fill="#000" >600</text>
<line x1="355.70" y1="25.00" x2="358.50" y2="25.00" stroke="#000" stroke-width="0.8" />
<text transform="translate(352.10 27.45) scale(1.2 1)" font-size="6.6" text-anchor="end" font-weight="normal" fill="#000" >825</text>
<line x1="357.10" y1="140.20" x2="358.50" y2="140.20" stroke="#000" stroke-width="0.7" />
<line x1="357.10" y1="133.22" x2="358.50" y2="133.22" stroke="#000" stroke-width="0.7" />
<line x1="357.10" y1="126.24" x2="358.50" y2="126.24" stroke="#000" stroke-width="0.7" />
<line x1="357.10" y1="119.25" x2="358.50" y2="119.25" stroke="#000" stroke-width="0.7" />
<line x1="357.10" y1="112.27" x2="358.50" y2="112.27" stroke="#000" stroke-width="0.7" />
<line x1="357.10" y1="105.29" x2="358.50" y2="105.29" stroke="#000" stroke-width="0.7" />
<line x1="357.10" y1="98.31" x2="358.50" y2="98.31" stroke="#000" stroke-width="0.7" />
<line x1="357.10" y1="91.33" x2="358.50" y2="91.33" stroke="#000" stroke-width="0.7" />
<line x1="357.10" y1="84.35" x2="358.50" y2="84.35" stroke="#000" stroke-width="0.7" />
<line x1="357.10" y1="77.36" x2="358.50" y2="77.36" stroke="#000" stroke-width="0.7" />
<line x1="357.10" y1="70.38" x2="358.50" y2="70.38" stroke="#000" stroke-width="0.7" />
<line x1="357.10" y1="63.40" x2="358.50" y2="63.40" stroke="#000" stroke-width="0.7" />
<line x1="357.10" y1="56.42" x2="358.50" y2="56.42" stroke="#000" stroke-width="0.7" />
<line x1="357.10" y1="49.44" x2="358.50" y2="49.44" stroke="#000" stroke-width="0.7" />
<line x1="357.10" y1="42.45" x2="358.50" y2="42.45" stroke="#000" stroke-width="0.7" />
<line x1="357.10" y1="35.47" x2="358.50" y2="35.47" stroke="#000" stroke-width="0.7" />
<line x1="357.10" y1="28.49" x2="358.50" y2="28.49" stroke="#000" stroke-width="0.7" />
<line x1="358.50" y1="140.20" x2="358.50" y2="142.70" stroke="#000" stroke-width="0.8" />
<text transform="translate(359.70 153.10) scale(1.2 1)" font-size="6.6" text-anchor="middle" fill="#000">10<tspan font-size="4.00" dy="-2.64">2</tspan></text>
<line x1="377.63" y1="140.20" x2="377.63" y2="142.70" stroke="#000" stroke-width="0.8" />
<text transform="translate(378.83 153.10) scale(1.2 1)" font-size="6.6" text-anchor="middle" fill="#000">10<tspan font-size="4.00" dy="-2.64">3</tspan></text>
<line x1="396.75" y1="140.20" x2="396.75" y2="142.70" stroke="#000" stroke-width="0.8" />
<text transform="translate(397.95 153.10) scale(1.2 1)" font-size="6.6" text-anchor="middle" fill="#000">10<tspan font-size="4.00" dy="-2.64">4</tspan></text>
<line x1="415.88" y1="140.20" x2="415.88" y2="142.70" stroke="#000" stroke-width="0.8" />
<text transform="translate(417.08 153.10) scale(1.2 1)" font-size="6.6" text-anchor="middle" fill="#000">10<tspan font-size="4.00" dy="-2.64">5</tspan></text>
<line x1="435.01" y1="140.20" x2="435.01" y2="142.70" stroke="#000" stroke-width="0.8" />
<text transform="translate(436.21 153.10) scale(1.2 1)" font-size="6.6" text-anchor="middle" fill="#000">10<tspan font-size="4.00" dy="-2.64">6</tspan></text>
<line x1="454.13" y1="140.20" x2="454.13" y2="142.70" stroke="#000" stroke-width="0.8" />
<text transform="translate(455.33 153.10) scale(1.2 1)" font-size="6.6" text-anchor="middle" fill="#000">10<tspan font-size="4.00" dy="-2.64">7</tspan></text>
<line x1="479.00" y1="140.20" x2="479.00" y2="142.70" stroke="#000" stroke-width="0.8" />
<text transform="translate(480.20 153.10) scale(1.2 1)" font-size="6.6" text-anchor="middle" fill="#000">10<tspan font-size="4.00" dy="-2.64">8.3</tspan></text>
<line x1="364.26" y1="140.20" x2="364.26" y2="141.60" stroke="#000" stroke-width="0.6" />
<line x1="367.63" y1="140.20" x2="367.63" y2="141.60" stroke="#000" stroke-width="0.6" />
<line x1="370.02" y1="140.20" x2="370.02" y2="141.60" stroke="#000" stroke-width="0.6" />
<line x1="371.87" y1="140.20" x2="371.87" y2="141.60" stroke="#000" stroke-width="0.6" />
<line x1="373.38" y1="140.20" x2="373.38" y2="141.60" stroke="#000" stroke-width="0.6" />
<line x1="374.66" y1="140.20" x2="374.66" y2="141.60" stroke="#000" stroke-width="0.6" />
<line x1="375.77" y1="140.20" x2="375.77" y2="141.60" stroke="#000" stroke-width="0.6" />
<line x1="376.75" y1="140.20" x2="376.75" y2="141.60" stroke="#000" stroke-width="0.6" />
<line x1="383.38" y1="140.20" x2="383.38" y2="141.60" stroke="#000" stroke-width="0.6" />
<line x1="386.75" y1="140.20" x2="386.75" y2="141.60" stroke="#000" stroke-width="0.6" />
<line x1="389.14" y1="140.20" x2="389.14" y2="141.60" stroke="#000" stroke-width="0.6" />
<line x1="391.00" y1="140.20" x2="391.00" y2="141.60" stroke="#000" stroke-width="0.6" />
<line x1="392.51" y1="140.20" x2="392.51" y2="141.60" stroke="#000" stroke-width="0.6" />
<line x1="393.79" y1="140.20" x2="393.79" y2="141.60" stroke="#000" stroke-width="0.6" />
<line x1="394.90" y1="140.20" x2="394.90" y2="141.60" stroke="#000" stroke-width="0.6" />
<line x1="395.88" y1="140.20" x2="395.88" y2="141.60" stroke="#000" stroke-width="0.6" />
<line x1="402.51" y1="140.20" x2="402.51" y2="141.60" stroke="#000" stroke-width="0.6" />
<line x1="405.88" y1="140.20" x2="405.88" y2="141.60" stroke="#000" stroke-width="0.6" />
<line x1="408.27" y1="140.20" x2="408.27" y2="141.60" stroke="#000" stroke-width="0.6" />
<line x1="410.12" y1="140.20" x2="410.12" y2="141.60" stroke="#000" stroke-width="0.6" />
<line x1="411.64" y1="140.20" x2="411.64" y2="141.60" stroke="#000" stroke-width="0.6" />
<line x1="412.92" y1="140.20" x2="412.92" y2="141.60" stroke="#000" stroke-width="0.6" />
<line x1="414.03" y1="140.20" x2="414.03" y2="141.60" stroke="#000" stroke-width="0.6" />
<line x1="415.01" y1="140.20" x2="415.01" y2="141.60" stroke="#000" stroke-width="0.6" />
<line x1="421.64" y1="140.20" x2="421.64" y2="141.60" stroke="#000" stroke-width="0.6" />
<line x1="425.01" y1="140.20" x2="425.01" y2="141.60" stroke="#000" stroke-width="0.6" />
<line x1="427.40" y1="140.20" x2="427.40" y2="141.60" stroke="#000" stroke-width="0.6" />
<line x1="429.25" y1="140.20" x2="429.25" y2="141.60" stroke="#000" stroke-width="0.6" />
<line x1="430.76" y1="140.20" x2="430.76" y2="141.60" stroke="#000" stroke-width="0.6" />
<line x1="432.05" y1="140.20" x2="432.05" y2="141.60" stroke="#000" stroke-width="0.6" />
<line x1="433.15" y1="140.20" x2="433.15" y2="141.60" stroke="#000" stroke-width="0.6" />
<line x1="434.13" y1="140.20" x2="434.13" y2="141.60" stroke="#000" stroke-width="0.6" />
<line x1="440.77" y1="140.20" x2="440.77" y2="141.60" stroke="#000" stroke-width="0.6" />
<line x1="444.13" y1="140.20" x2="444.13" y2="141.60" stroke="#000" stroke-width="0.6" />
<line x1="446.52" y1="140.20" x2="446.52" y2="141.60" stroke="#000" stroke-width="0.6" />
<line x1="448.38" y1="140.20" x2="448.38" y2="141.60" stroke="#000" stroke-width="0.6" />
<line x1="449.89" y1="140.20" x2="449.89" y2="141.60" stroke="#000" stroke-width="0.6" />
<line x1="451.17" y1="140.20" x2="451.17" y2="141.60" stroke="#000" stroke-width="0.6" />
<line x1="452.28" y1="140.20" x2="452.28" y2="141.60" stroke="#000" stroke-width="0.6" />
<line x1="453.26" y1="140.20" x2="453.26" y2="141.60" stroke="#000" stroke-width="0.6" />
<line x1="459.89" y1="140.20" x2="459.89" y2="141.60" stroke="#000" stroke-width="0.6" />
<line x1="463.26" y1="140.20" x2="463.26" y2="141.60" stroke="#000" stroke-width="0.6" />
<line x1="465.65" y1="140.20" x2="465.65" y2="141.60" stroke="#000" stroke-width="0.6" />
<line x1="467.50" y1="140.20" x2="467.50" y2="141.60" stroke="#000" stroke-width="0.6" />
<line x1="469.02" y1="140.20" x2="469.02" y2="141.60" stroke="#000" stroke-width="0.6" />
<line x1="470.30" y1="140.20" x2="470.30" y2="141.60" stroke="#000" stroke-width="0.6" />
<line x1="471.41" y1="140.20" x2="471.41" y2="141.60" stroke="#000" stroke-width="0.6" />
<line x1="472.39" y1="140.20" x2="472.39" y2="141.60" stroke="#000" stroke-width="0.6" />
<line x1="396.30" y1="58.30" x2="479.00" y2="58.30" stroke="#000" stroke-width="1" />
<line x1="396.30" y1="56.80" x2="396.30" y2="59.80" stroke="#000" stroke-width="0.8" />
<text x="396.30" y="43.60" font-size="6.7" text-anchor="start" font-weight="normal" fill="#000" >EGFP<tspan font-size="3.8" dy="-2.6">+</tspan></text>
<text x="396.30" y="52.20" font-size="6.7" text-anchor="start" font-weight="normal" fill="#000" >93.98%</text>
<rect x="439.5" y="165.5" width="8.2" height="7.6" fill="#d4e8c4" stroke="#72b650" stroke-width="0.8"/>
<rect x="439.5" y="176.5" width="8.2" height="7.6" fill="#e2a8b8" stroke="#b8204c" stroke-width="0.8"/>
<text x="450.90" y="171.80" font-size="7.7" text-anchor="start" font-weight="normal" fill="#111" textLength="23.3" lengthAdjust="spacingAndGlyphs">Control</text>
<text x="450.90" y="182.60" font-size="7.7" text-anchor="start" font-weight="normal" fill="#111" textLength="35.8" lengthAdjust="spacingAndGlyphs">Transduced</text>
<text x="0" y="0" font-size="11" text-anchor="middle" stroke="#000" stroke-width="0.05" transform="translate(27.6 87) rotate(-90)" textLength="45.6" lengthAdjust="spacingAndGlyphs">Number of cells</text>
<text x="198.8" y="167.5" font-size="10.3" stroke="#000" stroke-width="0.1" textLength="121.5" lengthAdjust="spacingAndGlyphs">EGFP flourescence (530/30nm, log scale)</text>
<text transform="translate(7.00 191.00) scale(1.05 1)" font-size="10.8" text-anchor="start" font-weight="bold" fill="#000" >B</text>
<defs><radialGradient id="mb" cx="0.5" cy="0.5" r="0.5"><stop offset="0" stop-color="#fbfbfb"/><stop offset="0.7" stop-color="#ececec"/><stop offset="1" stop-color="#b8b8b8"/></radialGradient><filter id="bl" x="-20%" y="-20%" width="140%" height="140%"><feGaussianBlur stdDeviation="0.5"/></filter><filter id="bl2" x="-50%" y="-50%" width="200%" height="200%"><feGaussianBlur stdDeviation="0.7"/></filter><filter id="mtex" x="-20%" y="-20%" width="140%" height="140%"><feGaussianBlur in="SourceGraphic" stdDeviation="0.5" result="b"/><feTurbulence type="fractalNoise" baseFrequency="0.28" numOctaves="2" seed="5" result="n"/><feColorMatrix in="n" type="matrix" values="0 0 0 0 0.66  0 0 0 0 0.66  0 0 0 0 0.66  0 0 0 1.4 -0.55" result="n2"/><feComposite in="n2" in2="b" operator="in" result="n3"/><feMerge><feMergeNode in="b"/><feMergeNode in="n3"/></feMerge></filter></defs>
<rect x="61.00" y="191.1" width="39.60" height="106.9" fill="#4a4846" stroke="#0a0a0a" stroke-width="1.3"/>
<rect x="107.20" y="191.1" width="42.00" height="106.9" fill="#4a4846" stroke="#0a0a0a" stroke-width="1.3"/>
<rect x="156.00" y="191.1" width="41.60" height="106.9" fill="#4a4846" stroke="#0a0a0a" stroke-width="1.3"/>
<rect x="203.40" y="191.1" width="42.20" height="106.9" fill="#4a4846" stroke="#0a0a0a" stroke-width="1.3"/>
<rect x="251.40" y="191.1" width="47.20" height="106.9" fill="#4a4846" stroke="#0a0a0a" stroke-width="1.3"/>
<path d="M76.00 192.60 C76.72 192.60 77.55 193.77 78.30 195.00 C79.05 196.23 79.30 198.58 80.50 200.00 C81.70 201.42 84.42 201.83 85.50 203.50 C86.58 205.17 86.42 207.25 87.00 210.00 C87.58 212.75 88.30 216.50 89.00 220.00 C89.70 223.50 90.95 228.00 91.20 231.00 C91.45 234.00 91.12 236.33 90.50 238.00 C89.88 239.67 89.25 240.28 87.50 241.00 C85.75 241.72 82.50 242.30 80.00 242.30 C77.50 242.30 74.25 241.72 72.50 241.00 C70.75 240.28 70.20 239.67 69.50 238.00 C68.80 236.33 68.52 234.00 68.30 231.00 C68.08 228.00 68.12 223.50 68.20 220.00 C68.28 216.50 68.53 212.75 68.80 210.00 C69.07 207.25 69.35 205.17 69.80 203.50 C70.25 201.83 70.80 201.42 71.50 200.00 C72.20 198.58 73.25 196.23 74.00 195.00 C74.75 193.77 75.28 192.60 76.00 192.60 Z" fill="url(#mb)" filter="url(#mtex)"/>
<ellipse cx="76" cy="196.6" rx="2.6" ry="4.2" fill="#8a8a8a" opacity="0.45" filter="url(#bl2)"/>
<path d="M86 240 L95.5 238.8" stroke="#c8c8c8" stroke-width="1.3" fill="none" stroke-linecap="round" filter="url(#bl)"/>
<path d="M70 241 L67.5 243.5" stroke="#c8c8c8" stroke-width="1.3" fill="none" stroke-linecap="round" filter="url(#bl)"/>
<path d="M86.5 203.5 L89 201" stroke="#c8c8c8" stroke-width="1.3" fill="none" stroke-linecap="round" filter="url(#bl)"/>
<path d="M80 241 Q79.5 265 82.5 288" stroke="#b8b8b8" stroke-width="1.2" fill="none" stroke-linecap="round"/>
<path d="M80 239 Q79.75 253.0 80.4 264.8" stroke="#c4c4c4" stroke-width="1.8" fill="none" stroke-linecap="round"/>
<ellipse cx="70.5" cy="231.5" rx="1.9" ry="1.9" fill="#4b30b4" filter="url(#bl2)"/>
<ellipse cx="89" cy="231.5" rx="2.2" ry="2.4" fill="#4b30b4" filter="url(#bl2)"/>
<path d="M127.70 194.40 C128.95 194.40 130.03 198.23 131.50 200.00 C132.97 201.77 135.25 202.50 136.50 205.00 C137.75 207.50 138.25 211.67 139.00 215.00 C139.75 218.33 140.42 222.00 141.00 225.00 C141.58 228.00 142.50 230.50 142.50 233.00 C142.50 235.50 143.08 238.28 141.00 240.00 C138.92 241.72 133.42 243.30 130.00 243.30 C126.58 243.30 122.42 241.72 120.50 240.00 C118.58 238.28 118.75 235.50 118.50 233.00 C118.25 230.50 118.75 228.00 119.00 225.00 C119.25 222.00 119.58 218.33 120.00 215.00 C120.42 211.67 120.83 207.50 121.50 205.00 C122.17 202.50 122.97 201.77 124.00 200.00 C125.03 198.23 126.45 194.40 127.70 194.40 Z" fill="url(#mb)" filter="url(#mtex)"/>
<ellipse cx="127.7" cy="198.4" rx="2.6" ry="4.2" fill="#8a8a8a" opacity="0.45" filter="url(#bl2)"/>
<path d="M140 241 L146 242.5" stroke="#c8c8c8" stroke-width="1.3" fill="none" stroke-linecap="round" filter="url(#bl)"/>
<path d="M121 242 L118.5 244.5" stroke="#c8c8c8" stroke-width="1.3" fill="none" stroke-linecap="round" filter="url(#bl)"/>
<path d="M130 243 Q129 262 129.3 284" stroke="#b8b8b8" stroke-width="1.2" fill="none" stroke-linecap="round"/>
<path d="M130 241 Q129.5 252.5 129.3 262.8" stroke="#c4c4c4" stroke-width="1.8" fill="none" stroke-linecap="round"/>
<path d="M125.5 199.5 Q122.5 203 121.3 210 Q120 220 119.6 230 Q119.3 238 120 242.5 L122.6 242 Q122.4 233 123 225 Q123.6 216 125 210 Q126.5 204 127 200 Z" fill="#4b30b4" filter="url(#bl2)"/>
<ellipse cx="124" cy="206" rx="2.2" ry="3" fill="#4b30b4" filter="url(#bl2)"/>
<ellipse cx="122.6" cy="213" rx="2.4" ry="3.5" fill="#4b30b4" filter="url(#bl2)"/>
<ellipse cx="122.4" cy="221" rx="2.2" ry="3.6" fill="#4b30b4" filter="url(#bl2)"/>
<ellipse cx="121.8" cy="229" rx="2.4" ry="3.6" fill="#4b30b4" filter="url(#bl2)"/>
<ellipse cx="121.6" cy="237" rx="2.2" ry="3" fill="#4b30b4" filter="url(#bl2)"/>
<ellipse cx="126" cy="209.5" rx="2" ry="2" fill="#4b30b4" filter="url(#bl2)"/>
<ellipse cx="128.5" cy="212.5" rx="2.2" ry="1.6" fill="#4b30b4" filter="url(#bl2)"/>
<ellipse cx="131.5" cy="214" rx="1.5" ry="1.2" fill="#4b30b4" filter="url(#bl2)"/>
<ellipse cx="133.5" cy="210.5" rx="1.5" ry="1.3" fill="#4b30b4" filter="url(#bl2)"/>
<ellipse cx="119.5" cy="243" rx="1.5" ry="1.2" fill="#4b30b4" filter="url(#bl2)"/>
<ellipse cx="130.5" cy="206" rx="1.4" ry="1.4" fill="#4b30b4" filter="url(#bl2)"/>
<ellipse cx="134.5" cy="211" rx="1.5" ry="1.2" fill="#4b30b4" filter="url(#bl2)"/>
<ellipse cx="139.6" cy="232" rx="2.4" ry="2.6" fill="#4b30b4" filter="url(#bl2)"/>
<path d="M168.40 194.20 C170.15 194.20 172.57 197.20 174.50 199.00 C176.43 200.80 178.50 202.83 180.00 205.00 C181.50 207.17 182.42 209.50 183.50 212.00 C184.58 214.50 185.58 217.00 186.50 220.00 C187.42 223.00 188.42 227.00 189.00 230.00 C189.58 233.00 192.00 235.80 190.00 238.00 C188.00 240.20 181.25 243.20 177.00 243.20 C172.75 243.20 166.75 240.20 164.50 238.00 C162.25 235.80 163.75 233.00 163.50 230.00 C163.25 227.00 163.08 223.00 163.00 220.00 C162.92 217.00 162.97 214.50 163.00 212.00 C163.03 209.50 163.03 207.17 163.20 205.00 C163.37 202.83 163.13 200.80 164.00 199.00 C164.87 197.20 166.65 194.20 168.40 194.20 Z" fill="url(#mb)" filter="url(#mtex)"/>
<ellipse cx="168.4" cy="198.2" rx="2.6" ry="4.2" fill="#8a8a8a" opacity="0.45" filter="url(#bl2)"/>
<path d="M188 236 L194 237.5" stroke="#c8c8c8" stroke-width="1.3" fill="none" stroke-linecap="round" filter="url(#bl)"/>
<path d="M166 242 L163 244.5" stroke="#c8c8c8" stroke-width="1.3" fill="none" stroke-linecap="round" filter="url(#bl)"/>
<path d="M179.5 243 Q180.5 262 184.7 281.5" stroke="#b8b8b8" stroke-width="1.2" fill="none" stroke-linecap="round"/>
<path d="M179.5 241 Q180.0 252.5 181.3 262.1" stroke="#c4c4c4" stroke-width="1.8" fill="none" stroke-linecap="round"/>
<ellipse cx="167.5" cy="199.5" rx="3.6" ry="4.4" fill="#4b30b4" filter="url(#bl2)"/>
<ellipse cx="168.5" cy="208.5" rx="4.6" ry="3.2" fill="#4b30b4" filter="url(#bl2)"/>
<ellipse cx="174.5" cy="211.8" rx="4.6" ry="2.8" fill="#4b30b4" filter="url(#bl2)"/>
<ellipse cx="180.5" cy="210" rx="2.8" ry="2.2" fill="#4b30b4" filter="url(#bl2)"/>
<ellipse cx="182.2" cy="215" rx="1.8" ry="1.8" fill="#4b30b4" filter="url(#bl2)"/>
<ellipse cx="185.8" cy="219.5" rx="1.8" ry="1.8" fill="#4b30b4" filter="url(#bl2)"/>
<ellipse cx="175" cy="233" rx="3.2" ry="3" fill="#4b30b4" filter="url(#bl2)"/>
<ellipse cx="167.4" cy="234" rx="5" ry="4.8" fill="#4b30b4" filter="url(#bl2)"/>
<ellipse cx="167.4" cy="234" rx="3.48" ry="3.35" fill="#3a60d8" filter="url(#bl2)"/>
<ellipse cx="167.4" cy="234" rx="1.97" ry="1.89" fill="#48c0e0" filter="url(#bl2)"/>
<ellipse cx="184.6" cy="229" rx="3.8" ry="4.4" fill="#4b30b4" filter="url(#bl2)"/>
<ellipse cx="184.6" cy="229" rx="2.92" ry="3.38" fill="#3a60d8" filter="url(#bl2)"/>
<ellipse cx="184.6" cy="229" rx="2.03" ry="2.35" fill="#48c0e0" filter="url(#bl2)"/>
<ellipse cx="184.6" cy="229" rx="1.15" ry="1.33" fill="#80cc50" filter="url(#bl2)"/>
<ellipse cx="178.3" cy="238.5" rx="5" ry="4" fill="#4b30b4" filter="url(#bl2)"/>
<ellipse cx="178.3" cy="238.5" rx="2.83" ry="2.26" fill="#3a60d8" filter="url(#bl2)"/>
<ellipse cx="169.8" cy="240.5" rx="3.4" ry="2.6" fill="#4b30b4" filter="url(#bl2)"/>
<ellipse cx="169.8" cy="240.5" rx="2.61" ry="2.00" fill="#3a60d8" filter="url(#bl2)"/>
<ellipse cx="169.8" cy="240.5" rx="1.82" ry="1.39" fill="#48c0e0" filter="url(#bl2)"/>
<ellipse cx="169.8" cy="240.5" rx="1.03" ry="0.79" fill="#80cc50" filter="url(#bl2)"/>
<ellipse cx="187.5" cy="236.5" rx="2.4" ry="2" fill="#4b30b4" filter="url(#bl2)"/>
<ellipse cx="187.5" cy="236.5" rx="1.36" ry="1.13" fill="#3a60d8" filter="url(#bl2)"/>
<path d="M180.3 250 L180.7 262" stroke="#4b30b4" stroke-width="1" stroke-dasharray="1.5 2.5" fill="none"/>
<path d="M220.20 193.60 C221.53 193.60 223.03 198.10 224.50 200.00 C225.97 201.90 227.92 203.00 229.00 205.00 C230.08 207.00 230.33 209.50 231.00 212.00 C231.67 214.50 232.42 217.00 233.00 220.00 C233.58 223.00 234.25 227.00 234.50 230.00 C234.75 233.00 235.92 235.80 234.50 238.00 C233.08 240.20 229.17 243.20 226.00 243.20 C222.83 243.20 217.42 240.20 215.50 238.00 C213.58 235.80 214.75 233.00 214.50 230.00 C214.25 227.00 214.05 223.00 214.00 220.00 C213.95 217.00 214.07 214.50 214.20 212.00 C214.33 209.50 214.42 207.00 214.80 205.00 C215.18 203.00 215.60 201.90 216.50 200.00 C217.40 198.10 218.87 193.60 220.20 193.60 Z" fill="url(#mb)" filter="url(#mtex)"/>
<ellipse cx="220.2" cy="197.6" rx="2.6" ry="4.2" fill="#8a8a8a" opacity="0.45" filter="url(#bl2)"/>
<path d="M216 241 L212.5 243.5" stroke="#c8c8c8" stroke-width="1.3" fill="none" stroke-linecap="round" filter="url(#bl)"/>
<path d="M233 240 L237 242.5" stroke="#c8c8c8" stroke-width="1.3" fill="none" stroke-linecap="round" filter="url(#bl)"/>
<path d="M215 209.5 L211.5 209.5" stroke="#c8c8c8" stroke-width="1.3" fill="none" stroke-linecap="round" filter="url(#bl)"/>
<path d="M227 243 Q232 262 239.4 287" stroke="#b8b8b8" stroke-width="1.2" fill="none" stroke-linecap="round"/>
<path d="M227 241 Q229.5 252.5 232.6 263.5" stroke="#c4c4c4" stroke-width="1.8" fill="none" stroke-linecap="round"/>
<ellipse cx="224.3" cy="208" rx="2.4" ry="1.5" fill="#4b30b4" filter="url(#bl2)"/>
<ellipse cx="212.3" cy="209.8" rx="1.6" ry="2.2" fill="#4b30b4" filter="url(#bl2)"/>
<ellipse cx="212.3" cy="209.8" rx="0.90" ry="1.24" fill="#3a60d8" filter="url(#bl2)"/>
<ellipse cx="228.8" cy="225.5" rx="4.6" ry="5.2" fill="#4b30b4" filter="url(#bl2)"/>
<ellipse cx="228.8" cy="225.5" rx="3.53" ry="3.99" fill="#3a60d8" filter="url(#bl2)"/>
<ellipse cx="228.8" cy="225.5" rx="2.46" ry="2.78" fill="#48c0e0" filter="url(#bl2)"/>
<ellipse cx="228.8" cy="225.5" rx="1.39" ry="1.57" fill="#80cc50" filter="url(#bl2)"/>
<ellipse cx="232.4" cy="232.3" rx="2.8" ry="2.8" fill="#4b30b4" filter="url(#bl2)"/>
<ellipse cx="232.4" cy="232.3" rx="1.95" ry="1.95" fill="#3a60d8" filter="url(#bl2)"/>
<ellipse cx="232.4" cy="232.3" rx="1.10" ry="1.10" fill="#48c0e0" filter="url(#bl2)"/>
<ellipse cx="227" cy="238.8" rx="3.8" ry="3.3" fill="#4b30b4" filter="url(#bl2)"/>
<ellipse cx="227" cy="238.8" rx="2.65" ry="2.30" fill="#3a60d8" filter="url(#bl2)"/>
<ellipse cx="227" cy="238.8" rx="1.50" ry="1.30" fill="#48c0e0" filter="url(#bl2)"/>
<ellipse cx="218.4" cy="241.5" rx="3.1" ry="2.5" fill="#4b30b4" filter="url(#bl2)"/>
<ellipse cx="218.4" cy="241.5" rx="2.38" ry="1.92" fill="#3a60d8" filter="url(#bl2)"/>
<ellipse cx="218.4" cy="241.5" rx="1.66" ry="1.34" fill="#48c0e0" filter="url(#bl2)"/>
<ellipse cx="218.4" cy="241.5" rx="0.94" ry="0.76" fill="#80cc50" filter="url(#bl2)"/>
<ellipse cx="220.8" cy="194.6" rx="1.3" ry="1.3" fill="#4b30b4" filter="url(#bl2)"/>
<path d="M272.00 193.40 C273.42 193.40 275.83 195.57 277.50 197.00 C279.17 198.43 281.08 200.17 282.00 202.00 C282.92 203.83 282.92 205.83 283.00 208.00 C283.08 210.17 282.08 212.67 282.50 215.00 C282.92 217.33 285.17 219.50 285.50 222.00 C285.83 224.50 284.83 227.50 284.50 230.00 C284.17 232.50 283.75 235.17 283.50 237.00 C283.25 238.83 284.25 239.67 283.00 241.00 C281.75 242.33 278.17 245.00 276.00 245.00 C273.83 245.00 271.33 242.33 270.00 241.00 C268.67 239.67 268.67 238.83 268.00 237.00 C267.33 235.17 266.30 232.50 266.00 230.00 C265.70 227.50 266.07 224.50 266.20 222.00 C266.33 219.50 266.70 217.33 266.80 215.00 C266.90 212.67 266.68 210.17 266.80 208.00 C266.92 205.83 267.13 203.83 267.50 202.00 C267.87 200.17 268.25 198.43 269.00 197.00 C269.75 195.57 270.58 193.40 272.00 193.40 Z" fill="url(#mb)" filter="url(#mtex)"/>
<ellipse cx="272" cy="197.4" rx="2.6" ry="4.2" fill="#8a8a8a" opacity="0.45" filter="url(#bl2)"/>
<path d="M268 242 L258.5 243" stroke="#c8c8c8" stroke-width="1.3" fill="none" stroke-linecap="round" filter="url(#bl)"/>
<path d="M283 203.5 L287 204.5" stroke="#c8c8c8" stroke-width="1.3" fill="none" stroke-linecap="round" filter="url(#bl)"/>
<path d="M276 245 Q274 266 270.5 290" stroke="#b8b8b8" stroke-width="1.2" fill="none" stroke-linecap="round"/>
<path d="M276 243 Q275.0 255.5 273.6 266.8" stroke="#c4c4c4" stroke-width="1.8" fill="none" stroke-linecap="round"/>
<ellipse cx="275.5" cy="197.8" rx="5.6" ry="3.4" fill="#4b30b4" filter="url(#bl2)" transform="rotate(38 275.5 197.8)"/>
<ellipse cx="269" cy="208.2" rx="5.6" ry="2.8" fill="#4b30b4" filter="url(#bl2)"/>
<ellipse cx="269" cy="208.2" rx="3.17" ry="1.58" fill="#3a60d8" filter="url(#bl2)"/>
<ellipse cx="263.8" cy="208.8" rx="1.8" ry="1.8" fill="#4b30b4" filter="url(#bl2)"/>
<ellipse cx="263.8" cy="208.8" rx="1.02" ry="1.02" fill="#3a60d8" filter="url(#bl2)"/>
<ellipse cx="280" cy="225.2" rx="6.5" ry="3.6" fill="#4b30b4" filter="url(#bl2)" transform="rotate(-28 280 225.2)"/>
<ellipse cx="280" cy="225.2" rx="3.67" ry="2.03" fill="#3a60d8" filter="url(#bl2)" transform="rotate(-28 280 225.2)"/>
<ellipse cx="270.5" cy="230.8" rx="2.8" ry="2.2" fill="#4b30b4" filter="url(#bl2)"/>
<ellipse cx="270.5" cy="230.8" rx="1.95" ry="1.53" fill="#3a60d8" filter="url(#bl2)"/>
<ellipse cx="270.5" cy="230.8" rx="1.10" ry="0.87" fill="#48c0e0" filter="url(#bl2)"/>
<ellipse cx="266.5" cy="240.5" rx="7.5" ry="4.2" fill="#4b30b4" filter="url(#bl2)"/>
<ellipse cx="266.5" cy="240.5" rx="5.76" ry="3.22" fill="#3a60d8" filter="url(#bl2)"/>
<ellipse cx="266.5" cy="240.5" rx="4.01" ry="2.25" fill="#48c0e0" filter="url(#bl2)"/>
<ellipse cx="266.5" cy="240.5" rx="2.27" ry="1.27" fill="#80cc50" filter="url(#bl2)"/>
<ellipse cx="273.5" cy="236.5" rx="3" ry="3" fill="#4b30b4" filter="url(#bl2)"/>
<path d="M275.5 244 Q274.5 258 273.5 270" stroke="#4b30b4" stroke-width="1.6" fill="none" filter="url(#bl2)"/>
<text x="19.00" y="308.40" font-size="7.5" text-anchor="start" font-weight="normal" fill="#000" >Weeks post</text>
<text x="19.00" y="318.20" font-size="7.5" text-anchor="start" font-weight="normal" fill="#000" >i.t. injection</text>
<text transform="translate(80.30 308.40) scale(1.12 1)" font-size="7.5" text-anchor="middle" font-weight="normal" fill="#000" >11</text>
<text transform="translate(127.70 308.40) scale(1.12 1)" font-size="7.5" text-anchor="middle" font-weight="normal" fill="#000" >12</text>
<text transform="translate(176.30 308.40) scale(1.12 1)" font-size="7.5" text-anchor="middle" font-weight="normal" fill="#000" >16</text>
<text transform="translate(224.00 308.40) scale(1.12 1)" font-size="7.5" text-anchor="middle" font-weight="normal" fill="#000" >17</text>
<text transform="translate(274.50 308.40) scale(1.12 1)" font-size="7.5" text-anchor="middle" font-weight="normal" fill="#000" >18</text>
<defs><linearGradient id="cb" x1="0" y1="1" x2="0" y2="0"><stop offset="0" stop-color="#3a2a8a"/><stop offset="0.15" stop-color="#2f3fb0"/><stop offset="0.33" stop-color="#4aa0e0"/><stop offset="0.48" stop-color="#40b050"/><stop offset="0.62" stop-color="#90c020"/><stop offset="0.8" stop-color="#f0e010"/><stop offset="0.9" stop-color="#f08010"/><stop offset="1" stop-color="#c01010"/></linearGradient></defs>
<rect x="312.3" y="193.7" width="4.4" height="100.7" fill="url(#cb)"/>
<line x1="316.70" y1="294.40" x2="318.00" y2="294.40" stroke="#555" stroke-width="0.5" />
<line x1="316.70" y1="286.20" x2="318.00" y2="286.20" stroke="#555" stroke-width="0.5" />
<line x1="316.70" y1="278.00" x2="318.00" y2="278.00" stroke="#555" stroke-width="0.5" />
<line x1="316.70" y1="269.80" x2="318.00" y2="269.80" stroke="#555" stroke-width="0.5" />
<line x1="316.70" y1="261.60" x2="318.00" y2="261.60" stroke="#555" stroke-width="0.5" />
<line x1="316.70" y1="253.40" x2="318.00" y2="253.40" stroke="#555" stroke-width="0.5" />
<line x1="316.70" y1="245.20" x2="318.00" y2="245.20" stroke="#555" stroke-width="0.5" />
<line x1="316.70" y1="237.00" x2="318.00" y2="237.00" stroke="#555" stroke-width="0.5" />
<line x1="316.70" y1="228.80" x2="318.00" y2="228.80" stroke="#555" stroke-width="0.5" />
<line x1="316.70" y1="220.60" x2="318.00" y2="220.60" stroke="#555" stroke-width="0.5" />
<line x1="316.70" y1="212.40" x2="318.00" y2="212.40" stroke="#555" stroke-width="0.5" />
<line x1="316.70" y1="204.20" x2="318.00" y2="204.20" stroke="#555" stroke-width="0.5" />
<line x1="316.70" y1="196.00" x2="318.00" y2="196.00" stroke="#555" stroke-width="0.5" />
<line x1="316.70" y1="206.00" x2="318.70" y2="206.00" stroke="#000" stroke-width="0.6" />
<text x="320.20" y="208.10" font-size="6.0" text-anchor="start" font-weight="normal" fill="#222" >1.5</text>
<line x1="316.70" y1="247.50" x2="318.70" y2="247.50" stroke="#000" stroke-width="0.6" />
<text x="320.20" y="249.60" font-size="6.0" text-anchor="start" font-weight="normal" fill="#222" >1.0</text>
<line x1="316.70" y1="277.70" x2="318.70" y2="277.70" stroke="#000" stroke-width="0.6" />
<text x="320.20" y="279.80" font-size="6.0" text-anchor="start" font-weight="normal" fill="#222" >0.5</text>
<text font-size="6" fill="#111" transform="translate(331.8 244.6) rotate(90)" text-anchor="middle">x10<tspan font-size="3.8" dy="-2.3">6</tspan></text>
<rect x="331.6" y="275.4" width="37" height="19.3" fill="#fff" stroke="#000" stroke-width="0.9"/>
<text x="333.90" y="280.70" font-size="5.1" text-anchor="start" font-weight="normal" fill="#111" >Color scale</text>
<text x="333.90" y="286.90" font-size="5.1" text-anchor="start" font-weight="normal" fill="#111" >Min = 9.71e4</text>
<text x="333.90" y="293.10" font-size="5.1" text-anchor="start" font-weight="normal" fill="#111" >Max = 1.71e7</text>
<text x="302.50" y="305.80" font-size="5.2" text-anchor="start" font-weight="normal" fill="#111" >Radiance</text>
<text x="302.50" y="312.00" font-size="5.2" text-anchor="start" font-weight="normal" fill="#111" >(p/sec/cm<tspan font-size="3.2" dy="-1.7">2</tspan><tspan dy="1.7">/sr)</tspan></text>
<text transform="translate(7.00 348.60) scale(1.05 1)" font-size="10.8" text-anchor="start" font-weight="bold" fill="#000" >C</text>
<text x="110.60" y="349.60" font-size="9.1" text-anchor="middle" font-weight="normal" fill="#000" >Isotype controls</text>
<text x="259.50" y="349.60" font-size="9.3" text-anchor="middle" font-weight="normal" fill="#000" >CD19<tspan font-size="5.4" dy="-3.4">+</tspan><tspan dy="3.4"> CD10</tspan><tspan font-size="5.4" dy="-3.4">+</tspan></text>
<path d="M128.1 398.3h0.8v0.8h-0.8zM130.2 403.3h0.8v0.8h-0.8zM136.0 411.9h0.8v0.8h-0.8zM135.8 410.5h0.8v0.8h-0.8zM133.1 419.8h0.8v0.8h-0.8zM129.1 417.6h0.8v0.8h-0.8zM126.2 402.0h0.8v0.8h-0.8zM137.3 403.4h0.8v0.8h-0.8zM131.1 420.9h0.8v0.8h-0.8zM123.6 421.7h0.8v0.8h-0.8zM66.0 448.0h0.8v0.8h-0.8zM113.7 443.4h0.8v0.8h-0.8zM75.1 410.8h0.8v0.8h-0.8zM105.3 453.8h0.8v0.8h-0.8zM109.0 453.6h0.8v0.8h-0.8zM71.7 455.5h0.8v0.8h-0.8zM60.9 418.0h0.8v0.8h-0.8zM62.6 424.6h0.8v0.8h-0.8zM65.8 414.3h0.8v0.8h-0.8zM71.9 409.6h0.8v0.8h-0.8zM69.0 419.3h0.8v0.8h-0.8zM74.0 417.9h0.8v0.8h-0.8zM60.1 432.5h0.8v0.8h-0.8zM78.1 415.2h0.8v0.8h-0.8zM70.0 453.3h0.8v0.8h-0.8zM67.2 422.5h0.8v0.8h-0.8zM106.6 439.9h0.8v0.8h-0.8zM132.6 433.6h0.8v0.8h-0.8zM100.0 391.9h0.8v0.8h-0.8zM110.3 396.4h0.8v0.8h-0.8zM65.2 418.2h0.8v0.8h-0.8zM153.1 452.0h0.8v0.8h-0.8zM92.8 398.5h0.8v0.8h-0.8zM155.0 379.7h0.8v0.8h-0.8zM130.9 355.5h0.8v0.8h-0.8zM157.1 358.0h0.8v0.8h-0.8zM146.7 453.5h0.8v0.8h-0.8zM76.4 361.6h0.8v0.8h-0.8z" fill="#7781d6"/>
<path d="M119.8 407.9h0.8v0.8h-0.8zM115.3 425.5h0.8v0.8h-0.8zM114.5 407.9h0.8v0.8h-0.8zM110.8 429.9h0.8v0.8h-0.8zM128.6 414.9h0.8v0.8h-0.8zM112.8 425.3h0.8v0.8h-0.8zM116.9 407.7h0.8v0.8h-0.8zM130.8 412.9h0.8v0.8h-0.8zM112.2 409.1h0.8v0.8h-0.8zM117.5 424.7h0.8v0.8h-0.8zM107.5 413.5h0.8v0.8h-0.8zM133.0 403.0h0.8v0.8h-0.8zM133.7 403.5h0.8v0.8h-0.8zM97.3 416.5h0.8v0.8h-0.8zM76.5 452.5h0.8v0.8h-0.8zM74.7 453.1h0.8v0.8h-0.8zM64.4 443.5h0.8v0.8h-0.8zM63.2 435.7h0.8v0.8h-0.8zM104.7 442.1h0.8v0.8h-0.8zM72.0 452.3h0.8v0.8h-0.8zM111.1 428.5h0.8v0.8h-0.8zM108.8 431.0h0.8v0.8h-0.8zM95.5 414.1h0.8v0.8h-0.8zM109.3 436.1h0.8v0.8h-0.8zM109.2 438.5h0.8v0.8h-0.8zM131.7 413.0h0.8v0.8h-0.8z" fill="#7680d6"/>
<path d="M81.4 414.5h0.8v0.8h-0.8zM64.2 441.3h0.8v0.8h-0.8zM63.7 427.0h0.8v0.8h-0.8zM72.3 418.8h0.8v0.8h-0.8zM108.9 447.1h0.8v0.8h-0.8zM102.8 455.3h0.8v0.8h-0.8zM64.3 438.8h0.8v0.8h-0.8zM109.7 445.5h0.8v0.8h-0.8zM93.9 416.3h0.8v0.8h-0.8z" fill="#7680d5"/>
<path d="M117.9 422.4h0.8v0.8h-0.8zM114.0 411.9h0.8v0.8h-0.8zM116.4 423.1h0.8v0.8h-0.8zM110.5 412.8h0.8v0.8h-0.8zM106.6 414.9h0.8v0.8h-0.8zM117.9 410.5h0.8v0.8h-0.8zM114.8 409.7h0.8v0.8h-0.8zM114.7 419.9h0.8v0.8h-0.8zM106.9 415.5h0.8v0.8h-0.8zM118.3 411.1h0.8v0.8h-0.8zM110.2 414.2h0.8v0.8h-0.8zM117.7 418.6h0.8v0.8h-0.8zM127.2 404.6h0.8v0.8h-0.8zM102.8 419.9h0.8v0.8h-0.8zM112.1 414.0h0.8v0.8h-0.8zM100.6 454.7h0.8v0.8h-0.8zM80.4 417.2h0.8v0.8h-0.8zM81.6 414.5h0.8v0.8h-0.8zM62.5 432.5h0.8v0.8h-0.8zM72.9 420.6h0.8v0.8h-0.8zM69.7 421.5h0.8v0.8h-0.8zM63.1 429.0h0.8v0.8h-0.8zM110.5 446.7h0.8v0.8h-0.8zM84.7 454.6h0.8v0.8h-0.8zM61.8 430.4h0.8v0.8h-0.8zM81.9 415.5h0.8v0.8h-0.8zM104.8 449.0h0.8v0.8h-0.8zM88.9 414.0h0.8v0.8h-0.8zM107.1 429.9h0.8v0.8h-0.8zM96.3 418.5h0.8v0.8h-0.8zM85.2 413.4h0.8v0.8h-0.8zM110.2 425.9h0.8v0.8h-0.8zM83.9 412.4h0.8v0.8h-0.8zM105.1 438.2h0.8v0.8h-0.8zM95.5 416.5h0.8v0.8h-0.8zM83.7 413.4h0.8v0.8h-0.8zM105.2 436.7h0.8v0.8h-0.8z" fill="#757fd5"/>
<path d="M117.1 421.5h0.8v0.8h-0.8zM115.2 411.7h0.8v0.8h-0.8zM124.6 416.1h0.8v0.8h-0.8zM108.8 425.6h0.8v0.8h-0.8zM110.4 417.3h0.8v0.8h-0.8zM110.5 416.9h0.8v0.8h-0.8zM106.3 417.3h0.8v0.8h-0.8zM100.5 455.0h0.8v0.8h-0.8zM83.5 455.0h0.8v0.8h-0.8zM71.3 420.8h0.8v0.8h-0.8zM103.2 450.9h0.8v0.8h-0.8zM82.4 454.8h0.8v0.8h-0.8zM74.9 450.3h0.8v0.8h-0.8zM104.1 447.5h0.8v0.8h-0.8zM63.8 432.8h0.8v0.8h-0.8zM70.9 422.4h0.8v0.8h-0.8zM106.5 430.9h0.8v0.8h-0.8z" fill="#747ed5"/>
<path d="M116.9 414.2h0.8v0.8h-0.8zM129.5 410.2h0.8v0.8h-0.8zM127.4 412.7h0.8v0.8h-0.8zM115.5 411.3h0.8v0.8h-0.8zM118.1 412.7h0.8v0.8h-0.8zM114.5 416.4h0.8v0.8h-0.8zM116.0 417.6h0.8v0.8h-0.8zM116.7 422.0h0.8v0.8h-0.8zM121.5 410.0h0.8v0.8h-0.8zM126.7 413.6h0.8v0.8h-0.8zM122.9 418.0h0.8v0.8h-0.8zM115.4 416.6h0.8v0.8h-0.8zM86.9 415.5h0.8v0.8h-0.8zM85.7 415.5h0.8v0.8h-0.8zM69.4 447.2h0.8v0.8h-0.8zM81.8 454.5h0.8v0.8h-0.8zM103.9 447.9h0.8v0.8h-0.8zM98.3 455.0h0.8v0.8h-0.8zM100.5 454.4h0.8v0.8h-0.8zM73.1 448.8h0.8v0.8h-0.8zM62.6 431.3h0.8v0.8h-0.8zM63.5 428.8h0.8v0.8h-0.8zM89.7 414.6h0.8v0.8h-0.8zM103.0 435.2h0.8v0.8h-0.8zM104.3 435.9h0.8v0.8h-0.8zM107.1 434.2h0.8v0.8h-0.8z" fill="#747ed4"/>
<path d="M110.6 422.2h0.8v0.8h-0.8zM121.8 417.6h0.8v0.8h-0.8zM127.8 410.6h0.8v0.8h-0.8zM116.0 415.7h0.8v0.8h-0.8zM107.4 418.4h0.8v0.8h-0.8zM113.1 421.2h0.8v0.8h-0.8zM124.2 404.6h0.8v0.8h-0.8zM118.8 417.5h0.8v0.8h-0.8zM105.0 421.4h0.8v0.8h-0.8zM124.3 404.5h0.8v0.8h-0.8zM121.1 411.1h0.8v0.8h-0.8zM119.2 417.3h0.8v0.8h-0.8zM105.4 427.4h0.8v0.8h-0.8zM117.0 415.1h0.8v0.8h-0.8zM120.3 416.3h0.8v0.8h-0.8zM105.9 426.8h0.8v0.8h-0.8zM104.4 430.9h0.8v0.8h-0.8zM85.9 416.0h0.8v0.8h-0.8zM104.8 434.1h0.8v0.8h-0.8zM65.1 435.2h0.8v0.8h-0.8zM72.1 423.8h0.8v0.8h-0.8zM67.7 445.0h0.8v0.8h-0.8zM68.5 446.2h0.8v0.8h-0.8zM105.8 433.9h0.8v0.8h-0.8zM68.9 426.4h0.8v0.8h-0.8zM69.0 447.2h0.8v0.8h-0.8zM64.9 435.8h0.8v0.8h-0.8zM74.0 423.4h0.8v0.8h-0.8zM66.1 428.7h0.8v0.8h-0.8zM75.9 422.5h0.8v0.8h-0.8zM68.5 425.6h0.8v0.8h-0.8zM83.2 454.5h0.8v0.8h-0.8zM64.9 431.7h0.8v0.8h-0.8zM85.9 453.5h0.8v0.8h-0.8zM100.3 421.2h0.8v0.8h-0.8zM104.8 433.0h0.8v0.8h-0.8zM100.5 420.7h0.8v0.8h-0.8zM104.1 429.1h0.8v0.8h-0.8zM107.1 432.8h0.8v0.8h-0.8zM105.7 433.2h0.8v0.8h-0.8zM104.7 420.4h0.8v0.8h-0.8z" fill="#737dd4"/>
<path d="M101.3 420.7h0.8v0.8h-0.8zM105.8 419.2h0.8v0.8h-0.8zM122.9 406.6h0.8v0.8h-0.8zM81.6 417.6h0.8v0.8h-0.8zM88.5 415.7h0.8v0.8h-0.8z" fill="#727cd4"/>
<path d="M106.6 418.6h0.8v0.8h-0.8zM116.2 416.7h0.8v0.8h-0.8zM118.5 416.4h0.8v0.8h-0.8zM121.7 417.3h0.8v0.8h-0.8zM125.2 408.6h0.8v0.8h-0.8zM111.0 421.5h0.8v0.8h-0.8zM118.2 416.3h0.8v0.8h-0.8zM126.5 411.5h0.8v0.8h-0.8zM122.9 417.4h0.8v0.8h-0.8zM108.4 426.0h0.8v0.8h-0.8zM113.0 418.7h0.8v0.8h-0.8zM122.7 416.6h0.8v0.8h-0.8zM106.2 421.8h0.8v0.8h-0.8zM112.1 418.8h0.8v0.8h-0.8zM81.6 417.7h0.8v0.8h-0.8zM101.2 450.6h0.8v0.8h-0.8zM99.5 453.0h0.8v0.8h-0.8zM68.1 444.4h0.8v0.8h-0.8zM66.6 427.7h0.8v0.8h-0.8zM102.2 448.4h0.8v0.8h-0.8zM66.4 429.6h0.8v0.8h-0.8zM75.0 422.8h0.8v0.8h-0.8zM72.8 423.8h0.8v0.8h-0.8zM103.4 448.6h0.8v0.8h-0.8zM67.5 427.8h0.8v0.8h-0.8zM84.8 417.4h0.8v0.8h-0.8z" fill="#727cd3"/>
<path d="M109.1 420.6h0.8v0.8h-0.8zM104.7 426.2h0.8v0.8h-0.8zM123.6 406.7h0.8v0.8h-0.8zM110.4 421.3h0.8v0.8h-0.8zM124.9 409.7h0.8v0.8h-0.8zM125.2 406.1h0.8v0.8h-0.8zM124.4 409.9h0.8v0.8h-0.8zM126.8 410.1h0.8v0.8h-0.8zM123.1 409.8h0.8v0.8h-0.8zM112.2 419.8h0.8v0.8h-0.8zM121.1 412.6h0.8v0.8h-0.8zM121.4 413.3h0.8v0.8h-0.8zM111.2 419.4h0.8v0.8h-0.8zM108.0 421.1h0.8v0.8h-0.8zM106.6 420.4h0.8v0.8h-0.8zM110.2 421.4h0.8v0.8h-0.8zM107.0 419.8h0.8v0.8h-0.8zM129.9 408.1h0.8v0.8h-0.8zM130.2 409.5h0.8v0.8h-0.8zM121.5 415.0h0.8v0.8h-0.8zM102.4 433.5h0.8v0.8h-0.8zM100.2 450.6h0.8v0.8h-0.8zM88.6 455.4h0.8v0.8h-0.8zM84.8 417.7h0.8v0.8h-0.8zM100.9 450.1h0.8v0.8h-0.8zM66.9 442.9h0.8v0.8h-0.8zM66.4 441.6h0.8v0.8h-0.8zM71.8 447.6h0.8v0.8h-0.8zM67.2 443.2h0.8v0.8h-0.8zM76.2 422.9h0.8v0.8h-0.8zM75.6 423.1h0.8v0.8h-0.8zM65.9 435.7h0.8v0.8h-0.8zM69.8 425.7h0.8v0.8h-0.8zM68.3 428.4h0.8v0.8h-0.8zM78.7 450.8h0.8v0.8h-0.8zM67.3 443.4h0.8v0.8h-0.8zM102.7 442.9h0.8v0.8h-0.8zM102.7 430.9h0.8v0.8h-0.8zM90.3 416.8h0.8v0.8h-0.8zM102.5 437.1h0.8v0.8h-0.8zM101.7 449.3h0.8v0.8h-0.8z" fill="#717bd3"/>
<path d="M120.6 412.9h0.8v0.8h-0.8zM110.4 419.1h0.8v0.8h-0.8zM72.6 425.4h0.8v0.8h-0.8zM70.2 425.5h0.8v0.8h-0.8z" fill="#717bd2"/>
<path d="M105.1 424.3h0.8v0.8h-0.8zM102.5 422.8h0.8v0.8h-0.8zM128.8 406.8h0.8v0.8h-0.8zM125.1 406.1h0.8v0.8h-0.8zM124.1 407.5h0.8v0.8h-0.8zM107.1 425.0h0.8v0.8h-0.8zM98.7 421.9h0.8v0.8h-0.8zM106.7 423.9h0.8v0.8h-0.8zM106.9 423.9h0.8v0.8h-0.8zM111.0 418.7h0.8v0.8h-0.8zM106.6 424.8h0.8v0.8h-0.8zM102.9 425.9h0.8v0.8h-0.8zM128.8 408.6h0.8v0.8h-0.8zM125.2 406.9h0.8v0.8h-0.8zM101.9 422.8h0.8v0.8h-0.8zM123.0 414.9h0.8v0.8h-0.8zM103.8 423.6h0.8v0.8h-0.8zM124.7 413.7h0.8v0.8h-0.8zM99.5 452.4h0.8v0.8h-0.8zM89.1 417.1h0.8v0.8h-0.8zM95.9 454.5h0.8v0.8h-0.8zM102.0 444.6h0.8v0.8h-0.8zM97.7 452.6h0.8v0.8h-0.8zM90.1 417.3h0.8v0.8h-0.8zM100.8 447.9h0.8v0.8h-0.8zM82.0 419.4h0.8v0.8h-0.8zM79.4 421.9h0.8v0.8h-0.8zM77.2 423.5h0.8v0.8h-0.8zM65.8 432.0h0.8v0.8h-0.8zM100.8 450.2h0.8v0.8h-0.8zM76.9 424.9h0.8v0.8h-0.8zM76.0 448.9h0.8v0.8h-0.8zM65.7 440.8h0.8v0.8h-0.8zM66.3 434.4h0.8v0.8h-0.8zM70.6 446.5h0.8v0.8h-0.8zM78.7 422.0h0.8v0.8h-0.8zM103.3 422.7h0.8v0.8h-0.8zM103.0 441.9h0.8v0.8h-0.8zM86.7 418.0h0.8v0.8h-0.8z" fill="#707ad2"/>
<path d="M111.2 420.4h0.8v0.8h-0.8zM125.0 406.9h0.8v0.8h-0.8zM128.9 407.5h0.8v0.8h-0.8zM107.3 424.3h0.8v0.8h-0.8zM127.8 407.4h0.8v0.8h-0.8zM129.1 408.4h0.8v0.8h-0.8zM127.6 406.6h0.8v0.8h-0.8zM86.0 418.1h0.8v0.8h-0.8zM87.7 417.9h0.8v0.8h-0.8zM96.7 454.1h0.8v0.8h-0.8zM84.2 419.5h0.8v0.8h-0.8zM100.3 448.6h0.8v0.8h-0.8zM86.8 418.2h0.8v0.8h-0.8zM102.2 438.2h0.8v0.8h-0.8zM104.5 424.4h0.8v0.8h-0.8z" fill="#6f79d2"/>
<path d="M127.9 408.7h0.8v0.8h-0.8zM98.9 422.7h0.8v0.8h-0.8zM127.2 408.4h0.8v0.8h-0.8zM125.0 411.6h0.8v0.8h-0.8zM106.2 425.0h0.8v0.8h-0.8zM101.8 424.1h0.8v0.8h-0.8zM122.9 411.1h0.8v0.8h-0.8zM82.3 419.7h0.8v0.8h-0.8zM81.8 419.7h0.8v0.8h-0.8z" fill="#6f79d1"/>
<path d="M103.1 424.6h0.8v0.8h-0.8zM125.0 413.3h0.8v0.8h-0.8zM124.4 414.4h0.8v0.8h-0.8zM122.2 412.6h0.8v0.8h-0.8zM123.8 412.1h0.8v0.8h-0.8zM100.9 445.8h0.8v0.8h-0.8zM85.9 419.2h0.8v0.8h-0.8zM100.5 435.1h0.8v0.8h-0.8zM101.6 441.0h0.8v0.8h-0.8zM102.4 438.6h0.8v0.8h-0.8zM69.6 442.6h0.8v0.8h-0.8zM67.2 437.9h0.8v0.8h-0.8zM89.3 453.9h0.8v0.8h-0.8zM71.1 445.8h0.8v0.8h-0.8zM73.6 425.6h0.8v0.8h-0.8zM98.5 422.7h0.8v0.8h-0.8zM102.0 429.6h0.8v0.8h-0.8zM92.0 419.3h0.8v0.8h-0.8z" fill="#6e78d1"/>
<path d="M127.7 407.9h0.8v0.8h-0.8zM123.7 412.6h0.8v0.8h-0.8zM124.0 414.2h0.8v0.8h-0.8zM100.9 423.7h0.8v0.8h-0.8zM102.4 428.7h0.8v0.8h-0.8zM82.5 420.2h0.8v0.8h-0.8zM98.2 422.7h0.8v0.8h-0.8zM102.5 430.3h0.8v0.8h-0.8zM99.8 423.2h0.8v0.8h-0.8zM100.9 433.0h0.8v0.8h-0.8z" fill="#6d77d1"/>
<path d="M122.9 412.7h0.8v0.8h-0.8zM100.6 426.5h0.8v0.8h-0.8zM123.5 412.1h0.8v0.8h-0.8zM101.9 442.1h0.8v0.8h-0.8zM87.5 418.8h0.8v0.8h-0.8zM82.4 450.6h0.8v0.8h-0.8zM67.0 441.4h0.8v0.8h-0.8zM67.3 435.8h0.8v0.8h-0.8zM67.2 431.5h0.8v0.8h-0.8zM69.2 429.0h0.8v0.8h-0.8zM72.7 426.4h0.8v0.8h-0.8zM78.5 449.6h0.8v0.8h-0.8zM91.9 418.6h0.8v0.8h-0.8zM101.5 428.2h0.8v0.8h-0.8zM97.7 424.5h0.8v0.8h-0.8zM102.0 427.6h0.8v0.8h-0.8zM102.1 425.8h0.8v0.8h-0.8zM101.6 426.6h0.8v0.8h-0.8z" fill="#6d77d0"/>
<path d="M101.0 424.9h0.8v0.8h-0.8zM97.6 425.3h0.8v0.8h-0.8zM101.2 446.4h0.8v0.8h-0.8zM67.0 432.3h0.8v0.8h-0.8zM102.4 441.7h0.8v0.8h-0.8zM71.6 427.4h0.8v0.8h-0.8zM67.1 434.5h0.8v0.8h-0.8zM70.7 427.8h0.8v0.8h-0.8zM66.6 438.7h0.8v0.8h-0.8zM70.1 441.9h0.8v0.8h-0.8zM68.2 441.4h0.8v0.8h-0.8zM95.1 455.4h0.8v0.8h-0.8zM82.1 420.6h0.8v0.8h-0.8zM70.5 444.4h0.8v0.8h-0.8zM71.3 431.4h0.8v0.8h-0.8zM68.4 429.7h0.8v0.8h-0.8zM70.6 428.2h0.8v0.8h-0.8zM68.5 440.6h0.8v0.8h-0.8zM79.2 422.7h0.8v0.8h-0.8zM66.7 432.2h0.8v0.8h-0.8zM90.9 418.5h0.8v0.8h-0.8zM97.2 424.5h0.8v0.8h-0.8zM96.6 422.7h0.8v0.8h-0.8zM101.2 428.6h0.8v0.8h-0.8zM90.2 418.8h0.8v0.8h-0.8zM96.4 422.2h0.8v0.8h-0.8zM101.0 430.3h0.8v0.8h-0.8z" fill="#6c76d0"/>
<path d="M124.3 413.1h0.8v0.8h-0.8zM100.1 424.7h0.8v0.8h-0.8zM96.3 423.4h0.8v0.8h-0.8zM90.7 454.8h0.8v0.8h-0.8zM83.1 420.7h0.8v0.8h-0.8zM91.4 418.7h0.8v0.8h-0.8zM87.9 420.4h0.8v0.8h-0.8zM102.1 442.2h0.8v0.8h-0.8zM70.0 441.3h0.8v0.8h-0.8zM72.8 426.5h0.8v0.8h-0.8zM98.8 447.7h0.8v0.8h-0.8zM80.5 449.8h0.8v0.8h-0.8zM100.4 426.6h0.8v0.8h-0.8zM80.2 450.2h0.8v0.8h-0.8zM67.9 430.7h0.8v0.8h-0.8zM83.1 451.4h0.8v0.8h-0.8zM97.8 450.9h0.8v0.8h-0.8zM68.3 432.6h0.8v0.8h-0.8zM94.2 420.1h0.8v0.8h-0.8zM101.0 430.3h0.8v0.8h-0.8z" fill="#6b75cf"/>
<path d="M99.5 424.7h0.8v0.8h-0.8zM90.1 418.8h0.8v0.8h-0.8zM73.2 446.6h0.8v0.8h-0.8zM75.4 447.3h0.8v0.8h-0.8zM70.4 429.1h0.8v0.8h-0.8zM69.6 430.6h0.8v0.8h-0.8zM68.7 433.3h0.8v0.8h-0.8zM100.7 437.5h0.8v0.8h-0.8zM75.9 427.0h0.8v0.8h-0.8zM67.5 440.4h0.8v0.8h-0.8zM71.0 443.0h0.8v0.8h-0.8zM69.3 429.5h0.8v0.8h-0.8zM100.9 430.8h0.8v0.8h-0.8zM99.1 426.3h0.8v0.8h-0.8z" fill="#6a74cf"/>
<path d="M101.4 444.7h0.8v0.8h-0.8zM68.1 440.0h0.8v0.8h-0.8zM69.1 432.0h0.8v0.8h-0.8zM71.2 428.0h0.8v0.8h-0.8zM71.3 431.0h0.8v0.8h-0.8zM76.4 427.4h0.8v0.8h-0.8zM73.4 427.5h0.8v0.8h-0.8zM100.4 426.5h0.8v0.8h-0.8z" fill="#6a74ce"/>
<path d="M98.5 427.1h0.8v0.8h-0.8zM78.2 425.5h0.8v0.8h-0.8zM84.6 451.8h0.8v0.8h-0.8zM93.1 454.7h0.8v0.8h-0.8zM68.1 438.8h0.8v0.8h-0.8zM73.9 426.9h0.8v0.8h-0.8zM77.2 447.8h0.8v0.8h-0.8zM69.2 430.2h0.8v0.8h-0.8zM79.3 423.7h0.8v0.8h-0.8zM67.5 436.9h0.8v0.8h-0.8zM97.3 451.7h0.8v0.8h-0.8zM70.3 430.6h0.8v0.8h-0.8zM77.9 449.1h0.8v0.8h-0.8zM68.7 430.5h0.8v0.8h-0.8zM70.8 428.6h0.8v0.8h-0.8zM92.4 454.8h0.8v0.8h-0.8zM69.2 433.4h0.8v0.8h-0.8zM89.8 454.0h0.8v0.8h-0.8zM71.0 442.0h0.8v0.8h-0.8zM80.4 422.8h0.8v0.8h-0.8zM72.2 430.0h0.8v0.8h-0.8zM99.5 428.8h0.8v0.8h-0.8z" fill="#6973ce"/>
<path d="M92.7 455.0h0.8v0.8h-0.8zM91.6 455.5h0.8v0.8h-0.8zM98.7 426.9h0.8v0.8h-0.8zM68.1 433.6h0.8v0.8h-0.8zM80.3 450.0h0.8v0.8h-0.8zM70.6 430.4h0.8v0.8h-0.8zM74.3 447.1h0.8v0.8h-0.8z" fill="#6872ce"/>
<path d="M99.6 434.0h0.8v0.8h-0.8zM68.4 433.6h0.8v0.8h-0.8zM71.7 433.3h0.8v0.8h-0.8zM72.1 443.4h0.8v0.8h-0.8zM68.0 440.0h0.8v0.8h-0.8zM71.8 445.2h0.8v0.8h-0.8zM74.8 447.0h0.8v0.8h-0.8zM95.6 425.0h0.8v0.8h-0.8z" fill="#6872cd"/>
<path d="M95.6 452.6h0.8v0.8h-0.8zM80.9 422.7h0.8v0.8h-0.8zM96.8 450.7h0.8v0.8h-0.8zM77.3 448.3h0.8v0.8h-0.8zM72.3 427.8h0.8v0.8h-0.8zM100.6 444.4h0.8v0.8h-0.8zM73.3 428.2h0.8v0.8h-0.8zM76.7 447.6h0.8v0.8h-0.8zM85.0 452.4h0.8v0.8h-0.8zM71.4 441.4h0.8v0.8h-0.8zM73.0 427.7h0.8v0.8h-0.8zM83.7 421.1h0.8v0.8h-0.8zM84.2 450.6h0.8v0.8h-0.8zM79.2 449.0h0.8v0.8h-0.8zM101.3 444.3h0.8v0.8h-0.8zM94.7 421.2h0.8v0.8h-0.8zM101.2 438.8h0.8v0.8h-0.8zM96.6 426.3h0.8v0.8h-0.8zM96.8 426.3h0.8v0.8h-0.8zM94.8 421.0h0.8v0.8h-0.8z" fill="#6771cd"/>
<path d="M71.4 433.9h0.8v0.8h-0.8zM75.3 428.3h0.8v0.8h-0.8zM67.6 436.5h0.8v0.8h-0.8zM79.5 423.7h0.8v0.8h-0.8zM95.3 421.1h0.8v0.8h-0.8z" fill="#6670cd"/>
<path d="M100.3 432.0h0.8v0.8h-0.8zM101.3 443.1h0.8v0.8h-0.8zM100.5 431.9h0.8v0.8h-0.8zM78.6 424.7h0.8v0.8h-0.8zM83.4 422.2h0.8v0.8h-0.8zM72.4 429.2h0.8v0.8h-0.8zM96.4 453.1h0.8v0.8h-0.8zM74.9 427.9h0.8v0.8h-0.8zM81.6 450.3h0.8v0.8h-0.8zM73.3 432.5h0.8v0.8h-0.8zM78.2 425.6h0.8v0.8h-0.8zM72.0 443.4h0.8v0.8h-0.8zM71.1 440.4h0.8v0.8h-0.8zM73.3 431.5h0.8v0.8h-0.8zM74.7 427.6h0.8v0.8h-0.8zM100.6 439.7h0.8v0.8h-0.8zM99.7 434.9h0.8v0.8h-0.8zM95.4 421.3h0.8v0.8h-0.8zM94.7 423.7h0.8v0.8h-0.8zM94.7 421.5h0.8v0.8h-0.8zM91.8 420.1h0.8v0.8h-0.8zM99.3 427.1h0.8v0.8h-0.8zM95.2 420.9h0.8v0.8h-0.8z" fill="#6670cc"/>
<path d="M89.7 420.4h0.8v0.8h-0.8zM86.3 451.8h0.8v0.8h-0.8zM72.8 432.1h0.8v0.8h-0.8zM74.6 428.4h0.8v0.8h-0.8zM74.3 445.7h0.8v0.8h-0.8zM73.5 445.9h0.8v0.8h-0.8zM83.5 421.3h0.8v0.8h-0.8zM68.6 439.7h0.8v0.8h-0.8zM71.8 445.0h0.8v0.8h-0.8z" fill="#656fcc"/>
<path d="M85.7 421.1h0.8v0.8h-0.8zM85.6 420.9h0.8v0.8h-0.8zM94.0 454.4h0.8v0.8h-0.8zM79.4 449.1h0.8v0.8h-0.8zM73.2 444.8h0.8v0.8h-0.8zM80.0 448.7h0.8v0.8h-0.8zM69.1 434.8h0.8v0.8h-0.8zM73.8 430.0h0.8v0.8h-0.8zM69.8 438.8h0.8v0.8h-0.8zM74.1 429.5h0.8v0.8h-0.8zM71.2 434.3h0.8v0.8h-0.8zM73.4 445.5h0.8v0.8h-0.8zM100.1 431.6h0.8v0.8h-0.8zM100.5 432.1h0.8v0.8h-0.8z" fill="#646ecb"/>
<path d="M81.6 423.2h0.8v0.8h-0.8zM86.0 452.1h0.8v0.8h-0.8zM94.0 420.8h0.8v0.8h-0.8zM90.8 454.3h0.8v0.8h-0.8zM95.1 452.8h0.8v0.8h-0.8zM68.6 438.5h0.8v0.8h-0.8zM98.3 428.0h0.8v0.8h-0.8zM74.2 430.6h0.8v0.8h-0.8zM73.0 444.9h0.8v0.8h-0.8zM96.3 452.0h0.8v0.8h-0.8zM72.8 445.6h0.8v0.8h-0.8zM74.3 430.2h0.8v0.8h-0.8zM73.5 432.0h0.8v0.8h-0.8zM93.6 421.0h0.8v0.8h-0.8z" fill="#636dcb"/>
<path d="M90.6 454.3h0.8v0.8h-0.8zM75.3 428.5h0.8v0.8h-0.8zM100.2 443.8h0.8v0.8h-0.8zM78.1 427.3h0.8v0.8h-0.8zM99.3 445.7h0.8v0.8h-0.8zM73.2 445.6h0.8v0.8h-0.8z" fill="#636dca"/>
<path d="M85.6 421.3h0.8v0.8h-0.8zM84.7 421.3h0.8v0.8h-0.8zM96.2 451.5h0.8v0.8h-0.8zM83.3 423.0h0.8v0.8h-0.8zM98.2 448.4h0.8v0.8h-0.8zM83.4 422.8h0.8v0.8h-0.8zM94.4 421.0h0.8v0.8h-0.8zM83.0 450.0h0.8v0.8h-0.8zM77.7 426.7h0.8v0.8h-0.8zM78.5 447.7h0.8v0.8h-0.8zM93.1 454.4h0.8v0.8h-0.8zM69.0 435.0h0.8v0.8h-0.8zM79.7 449.1h0.8v0.8h-0.8zM68.7 439.5h0.8v0.8h-0.8zM97.1 449.7h0.8v0.8h-0.8zM72.5 443.9h0.8v0.8h-0.8zM74.8 445.3h0.8v0.8h-0.8zM74.0 430.1h0.8v0.8h-0.8zM78.1 448.4h0.8v0.8h-0.8zM72.4 440.4h0.8v0.8h-0.8zM91.9 454.1h0.8v0.8h-0.8zM94.6 424.7h0.8v0.8h-0.8z" fill="#626cca"/>
<path d="M88.7 420.6h0.8v0.8h-0.8zM75.1 446.2h0.8v0.8h-0.8zM98.9 446.3h0.8v0.8h-0.8zM73.1 442.0h0.8v0.8h-0.8zM75.6 446.1h0.8v0.8h-0.8zM70.5 434.6h0.8v0.8h-0.8zM71.3 435.3h0.8v0.8h-0.8z" fill="#616bca"/>
<path d="M96.8 449.0h0.8v0.8h-0.8zM79.5 423.7h0.8v0.8h-0.8zM100.0 444.0h0.8v0.8h-0.8zM89.6 453.3h0.8v0.8h-0.8zM87.2 452.1h0.8v0.8h-0.8zM73.0 442.2h0.8v0.8h-0.8zM97.5 448.9h0.8v0.8h-0.8zM74.4 432.4h0.8v0.8h-0.8zM71.2 435.3h0.8v0.8h-0.8zM99.6 439.1h0.8v0.8h-0.8zM73.2 444.1h0.8v0.8h-0.8zM76.0 445.1h0.8v0.8h-0.8zM97.0 449.8h0.8v0.8h-0.8zM69.3 434.9h0.8v0.8h-0.8zM76.8 428.3h0.8v0.8h-0.8zM70.6 438.7h0.8v0.8h-0.8zM92.1 454.3h0.8v0.8h-0.8z" fill="#616bc9"/>
<path d="M98.0 427.6h0.8v0.8h-0.8zM87.5 421.2h0.8v0.8h-0.8zM87.6 451.8h0.8v0.8h-0.8zM98.1 447.4h0.8v0.8h-0.8zM79.5 424.8h0.8v0.8h-0.8zM95.5 452.9h0.8v0.8h-0.8zM99.4 430.7h0.8v0.8h-0.8zM89.9 421.2h0.8v0.8h-0.8zM94.2 453.6h0.8v0.8h-0.8zM89.9 421.4h0.8v0.8h-0.8zM75.0 445.4h0.8v0.8h-0.8zM99.9 439.3h0.8v0.8h-0.8zM73.4 439.8h0.8v0.8h-0.8zM74.0 431.8h0.8v0.8h-0.8zM73.3 444.0h0.8v0.8h-0.8zM93.7 424.5h0.8v0.8h-0.8zM69.3 436.4h0.8v0.8h-0.8zM69.5 438.4h0.8v0.8h-0.8zM73.8 433.4h0.8v0.8h-0.8zM69.5 437.0h0.8v0.8h-0.8zM75.6 445.2h0.8v0.8h-0.8zM72.8 440.6h0.8v0.8h-0.8zM73.7 445.2h0.8v0.8h-0.8zM70.4 437.8h0.8v0.8h-0.8zM95.2 452.1h0.8v0.8h-0.8zM69.6 439.1h0.8v0.8h-0.8zM96.0 450.6h0.8v0.8h-0.8zM74.8 430.8h0.8v0.8h-0.8zM71.2 435.0h0.8v0.8h-0.8zM94.2 423.4h0.8v0.8h-0.8z" fill="#606ac9"/>
<path d="M97.5 428.1h0.8v0.8h-0.8zM98.6 445.0h0.8v0.8h-0.8zM98.9 434.5h0.8v0.8h-0.8zM100.1 442.8h0.8v0.8h-0.8zM91.1 420.6h0.8v0.8h-0.8zM93.6 453.8h0.8v0.8h-0.8zM71.9 438.4h0.8v0.8h-0.8zM92.3 453.6h0.8v0.8h-0.8zM73.5 441.8h0.8v0.8h-0.8zM71.1 438.9h0.8v0.8h-0.8zM76.0 442.8h0.8v0.8h-0.8zM78.8 447.1h0.8v0.8h-0.8zM76.5 445.5h0.8v0.8h-0.8zM81.2 449.1h0.8v0.8h-0.8zM97.8 429.2h0.8v0.8h-0.8z" fill="#5f69c8"/>
<path d="M94.0 452.9h0.8v0.8h-0.8zM95.5 449.5h0.8v0.8h-0.8zM80.4 424.9h0.8v0.8h-0.8zM99.5 441.3h0.8v0.8h-0.8zM84.3 423.0h0.8v0.8h-0.8zM92.9 421.3h0.8v0.8h-0.8zM79.7 448.1h0.8v0.8h-0.8zM76.1 430.2h0.8v0.8h-0.8zM73.3 439.9h0.8v0.8h-0.8zM84.8 450.7h0.8v0.8h-0.8zM77.8 447.4h0.8v0.8h-0.8zM78.7 427.4h0.8v0.8h-0.8zM71.5 438.3h0.8v0.8h-0.8zM87.7 451.9h0.8v0.8h-0.8zM70.5 435.1h0.8v0.8h-0.8z" fill="#5e68c8"/>
<path d="M84.7 422.4h0.8v0.8h-0.8zM73.3 438.4h0.8v0.8h-0.8zM78.3 447.4h0.8v0.8h-0.8zM94.4 422.2h0.8v0.8h-0.8z" fill="#5e68c7"/>
<path d="M84.5 421.8h0.8v0.8h-0.8zM84.4 423.0h0.8v0.8h-0.8zM98.9 444.7h0.8v0.8h-0.8zM96.7 449.0h0.8v0.8h-0.8zM93.7 452.7h0.8v0.8h-0.8zM71.2 436.9h0.8v0.8h-0.8zM71.4 437.3h0.8v0.8h-0.8zM70.4 437.0h0.8v0.8h-0.8zM73.8 442.8h0.8v0.8h-0.8zM76.4 444.1h0.8v0.8h-0.8zM69.8 435.4h0.8v0.8h-0.8zM77.7 444.9h0.8v0.8h-0.8zM76.3 445.4h0.8v0.8h-0.8zM73.9 434.5h0.8v0.8h-0.8zM76.1 429.5h0.8v0.8h-0.8z" fill="#5d67c7"/>
<path d="M94.2 423.4h0.8v0.8h-0.8zM94.3 423.5h0.8v0.8h-0.8zM89.4 452.2h0.8v0.8h-0.8zM74.5 442.9h0.8v0.8h-0.8zM79.9 448.0h0.8v0.8h-0.8zM69.8 436.3h0.8v0.8h-0.8zM74.9 443.8h0.8v0.8h-0.8zM70.0 436.7h0.8v0.8h-0.8zM75.9 441.8h0.8v0.8h-0.8zM91.3 421.0h0.8v0.8h-0.8z" fill="#5c66c7"/>
<path d="M83.9 450.0h0.8v0.8h-0.8zM100.0 439.5h0.8v0.8h-0.8zM76.9 428.3h0.8v0.8h-0.8zM88.9 451.9h0.8v0.8h-0.8zM75.9 444.6h0.8v0.8h-0.8zM74.4 443.2h0.8v0.8h-0.8zM78.5 428.1h0.8v0.8h-0.8zM93.4 452.7h0.8v0.8h-0.8zM71.9 436.5h0.8v0.8h-0.8zM82.3 423.7h0.8v0.8h-0.8zM70.3 438.2h0.8v0.8h-0.8zM93.7 422.8h0.8v0.8h-0.8zM98.1 428.9h0.8v0.8h-0.8z" fill="#5c66c6"/>
<path d="M95.6 427.1h0.8v0.8h-0.8zM97.0 448.1h0.8v0.8h-0.8zM82.0 423.7h0.8v0.8h-0.8zM99.6 442.1h0.8v0.8h-0.8zM94.6 426.0h0.8v0.8h-0.8zM85.1 422.4h0.8v0.8h-0.8zM93.7 453.3h0.8v0.8h-0.8zM69.9 437.4h0.8v0.8h-0.8zM76.8 445.2h0.8v0.8h-0.8zM75.6 431.0h0.8v0.8h-0.8zM87.7 452.0h0.8v0.8h-0.8zM74.6 432.8h0.8v0.8h-0.8zM99.2 443.7h0.8v0.8h-0.8zM74.0 434.0h0.8v0.8h-0.8zM98.5 432.1h0.8v0.8h-0.8zM76.2 432.6h0.8v0.8h-0.8zM73.3 435.7h0.8v0.8h-0.8zM77.4 444.9h0.8v0.8h-0.8zM94.5 452.6h0.8v0.8h-0.8zM70.8 436.2h0.8v0.8h-0.8z" fill="#5b65c6"/>
<path d="M80.3 425.6h0.8v0.8h-0.8z" fill="#5a64c6"/>
<path d="M81.5 423.7h0.8v0.8h-0.8zM78.8 446.5h0.8v0.8h-0.8zM91.7 422.3h0.8v0.8h-0.8zM74.9 432.7h0.8v0.8h-0.8zM78.6 427.4h0.8v0.8h-0.8zM81.5 447.8h0.8v0.8h-0.8zM73.5 440.3h0.8v0.8h-0.8zM99.4 444.4h0.8v0.8h-0.8zM79.0 446.0h0.8v0.8h-0.8zM82.5 448.7h0.8v0.8h-0.8zM73.3 435.9h0.8v0.8h-0.8zM72.6 437.5h0.8v0.8h-0.8zM80.4 446.9h0.8v0.8h-0.8zM77.3 428.5h0.8v0.8h-0.8zM75.7 442.3h0.8v0.8h-0.8zM77.7 445.9h0.8v0.8h-0.8zM98.7 432.9h0.8v0.8h-0.8z" fill="#5a64c5"/>
<path d="M98.1 430.2h0.8v0.8h-0.8zM99.2 437.1h0.8v0.8h-0.8zM98.6 435.9h0.8v0.8h-0.8zM85.6 450.7h0.8v0.8h-0.8zM92.8 422.4h0.8v0.8h-0.8zM84.6 422.8h0.8v0.8h-0.8zM94.7 426.2h0.8v0.8h-0.8zM92.2 453.1h0.8v0.8h-0.8zM72.7 434.6h0.8v0.8h-0.8zM70.1 437.2h0.8v0.8h-0.8zM74.5 435.4h0.8v0.8h-0.8zM73.8 441.1h0.8v0.8h-0.8zM74.0 441.9h0.8v0.8h-0.8zM80.3 426.4h0.8v0.8h-0.8zM98.0 430.4h0.8v0.8h-0.8zM94.2 425.1h0.8v0.8h-0.8z" fill="#5963c5"/>
<path d="M79.6 446.8h0.8v0.8h-0.8zM70.7 436.5h0.8v0.8h-0.8zM73.7 437.5h0.8v0.8h-0.8zM74.1 439.0h0.8v0.8h-0.8zM74.6 433.4h0.8v0.8h-0.8zM75.7 435.5h0.8v0.8h-0.8z" fill="#5963c4"/>
<path d="M74.1 434.6h0.8v0.8h-0.8zM92.1 422.2h0.8v0.8h-0.8zM91.0 451.7h0.8v0.8h-0.8zM92.2 422.0h0.8v0.8h-0.8zM96.8 427.7h0.8v0.8h-0.8zM75.5 432.9h0.8v0.8h-0.8zM74.3 434.0h0.8v0.8h-0.8zM73.8 440.9h0.8v0.8h-0.8zM69.8 436.1h0.8v0.8h-0.8zM80.5 425.2h0.8v0.8h-0.8zM92.4 451.6h0.8v0.8h-0.8zM72.4 437.2h0.8v0.8h-0.8zM74.8 432.8h0.8v0.8h-0.8zM75.7 441.2h0.8v0.8h-0.8zM78.0 443.3h0.8v0.8h-0.8zM74.0 438.9h0.8v0.8h-0.8zM76.4 432.6h0.8v0.8h-0.8zM74.4 438.0h0.8v0.8h-0.8zM78.4 445.4h0.8v0.8h-0.8zM76.6 441.8h0.8v0.8h-0.8zM76.3 442.0h0.8v0.8h-0.8zM76.4 435.9h0.8v0.8h-0.8zM96.1 426.9h0.8v0.8h-0.8z" fill="#5862c4"/>
<path d="M94.3 451.0h0.8v0.8h-0.8zM96.1 449.5h0.8v0.8h-0.8zM91.1 451.6h0.8v0.8h-0.8zM85.9 422.5h0.8v0.8h-0.8zM92.4 421.7h0.8v0.8h-0.8zM99.4 436.3h0.8v0.8h-0.8zM97.8 446.3h0.8v0.8h-0.8zM74.2 440.1h0.8v0.8h-0.8zM76.7 429.1h0.8v0.8h-0.8zM85.7 450.7h0.8v0.8h-0.8zM74.0 436.2h0.8v0.8h-0.8zM74.4 434.9h0.8v0.8h-0.8zM86.1 421.9h0.8v0.8h-0.8z" fill="#5761c4"/>
<path d="M93.8 452.2h0.8v0.8h-0.8zM91.6 422.1h0.8v0.8h-0.8zM95.2 451.5h0.8v0.8h-0.8zM88.8 451.9h0.8v0.8h-0.8zM75.4 442.3h0.8v0.8h-0.8zM76.5 431.2h0.8v0.8h-0.8z" fill="#5761c3"/>
<path d="M96.7 429.4h0.8v0.8h-0.8zM96.2 427.1h0.8v0.8h-0.8zM92.5 451.5h0.8v0.8h-0.8zM99.4 442.0h0.8v0.8h-0.8zM99.2 444.1h0.8v0.8h-0.8zM79.5 426.3h0.8v0.8h-0.8zM78.6 446.1h0.8v0.8h-0.8zM73.6 435.9h0.8v0.8h-0.8zM75.3 439.1h0.8v0.8h-0.8zM80.7 425.5h0.8v0.8h-0.8zM75.5 437.1h0.8v0.8h-0.8zM74.8 439.9h0.8v0.8h-0.8zM74.7 440.9h0.8v0.8h-0.8zM74.2 435.7h0.8v0.8h-0.8zM74.7 438.0h0.8v0.8h-0.8zM98.3 432.5h0.8v0.8h-0.8z" fill="#5660c3"/>
<path d="M75.3 434.5h0.8v0.8h-0.8zM75.4 440.9h0.8v0.8h-0.8zM98.7 436.8h0.8v0.8h-0.8zM75.1 439.8h0.8v0.8h-0.8zM74.9 436.2h0.8v0.8h-0.8z" fill="#555fc3"/>
<path d="M98.7 441.6h0.8v0.8h-0.8zM89.8 422.3h0.8v0.8h-0.8zM85.4 422.9h0.8v0.8h-0.8zM81.2 426.5h0.8v0.8h-0.8zM76.0 439.6h0.8v0.8h-0.8zM81.4 424.7h0.8v0.8h-0.8zM73.7 438.1h0.8v0.8h-0.8zM76.9 439.4h0.8v0.8h-0.8zM77.2 436.0h0.8v0.8h-0.8zM72.7 436.9h0.8v0.8h-0.8zM76.6 435.8h0.8v0.8h-0.8zM76.2 441.5h0.8v0.8h-0.8zM74.6 439.2h0.8v0.8h-0.8zM74.8 437.1h0.8v0.8h-0.8z" fill="#555fc2"/>
<path d="M97.8 431.2h0.8v0.8h-0.8zM84.7 422.6h0.8v0.8h-0.8zM87.2 450.7h0.8v0.8h-0.8zM87.8 422.5h0.8v0.8h-0.8zM97.9 432.1h0.8v0.8h-0.8zM99.5 437.3h0.8v0.8h-0.8zM91.3 451.6h0.8v0.8h-0.8zM73.7 439.5h0.8v0.8h-0.8zM75.6 438.7h0.8v0.8h-0.8zM76.9 428.7h0.8v0.8h-0.8zM75.7 439.8h0.8v0.8h-0.8zM92.1 451.9h0.8v0.8h-0.8zM77.6 444.1h0.8v0.8h-0.8zM81.0 446.8h0.8v0.8h-0.8zM99.2 440.8h0.8v0.8h-0.8zM99.0 437.7h0.8v0.8h-0.8zM77.1 429.5h0.8v0.8h-0.8zM77.3 442.4h0.8v0.8h-0.8z" fill="#545ec2"/>
<path d="M80.4 427.5h0.8v0.8h-0.8zM92.5 422.8h0.8v0.8h-0.8zM90.3 421.9h0.8v0.8h-0.8zM92.7 425.3h0.8v0.8h-0.8zM87.6 450.9h0.8v0.8h-0.8zM97.0 447.1h0.8v0.8h-0.8zM98.4 431.2h0.8v0.8h-0.8zM98.7 439.5h0.8v0.8h-0.8zM79.0 444.3h0.8v0.8h-0.8zM74.1 434.9h0.8v0.8h-0.8zM76.9 432.2h0.8v0.8h-0.8zM74.9 436.1h0.8v0.8h-0.8zM98.3 444.8h0.8v0.8h-0.8zM84.7 449.7h0.8v0.8h-0.8zM79.5 444.7h0.8v0.8h-0.8zM74.6 435.4h0.8v0.8h-0.8zM75.6 436.4h0.8v0.8h-0.8zM81.6 424.6h0.8v0.8h-0.8z" fill="#535dc1"/>
<path d="M91.9 424.0h0.8v0.8h-0.8zM81.4 426.4h0.8v0.8h-0.8zM91.4 422.3h0.8v0.8h-0.8zM94.4 426.3h0.8v0.8h-0.8zM91.0 422.1h0.8v0.8h-0.8zM77.5 441.0h0.8v0.8h-0.8zM75.3 437.0h0.8v0.8h-0.8zM77.0 436.9h0.8v0.8h-0.8zM93.3 451.9h0.8v0.8h-0.8zM98.8 439.2h0.8v0.8h-0.8zM76.2 438.9h0.8v0.8h-0.8zM77.4 430.1h0.8v0.8h-0.8zM75.2 436.5h0.8v0.8h-0.8zM84.9 450.2h0.8v0.8h-0.8zM99.3 438.5h0.8v0.8h-0.8zM74.8 437.5h0.8v0.8h-0.8zM88.8 421.9h0.8v0.8h-0.8z" fill="#525cc1"/>
<path d="M82.4 425.2h0.8v0.8h-0.8zM78.3 429.8h0.8v0.8h-0.8zM76.9 431.1h0.8v0.8h-0.8zM87.7 422.0h0.8v0.8h-0.8zM84.0 448.6h0.8v0.8h-0.8zM74.8 440.5h0.8v0.8h-0.8zM76.7 432.3h0.8v0.8h-0.8zM75.7 441.2h0.8v0.8h-0.8zM82.4 448.0h0.8v0.8h-0.8zM77.0 438.6h0.8v0.8h-0.8z" fill="#525cc0"/>
<path d="M77.0 439.4h0.8v0.8h-0.8zM79.2 443.6h0.8v0.8h-0.8zM99.1 441.0h0.8v0.8h-0.8zM93.3 450.9h0.8v0.8h-0.8zM76.0 437.2h0.8v0.8h-0.8zM75.2 439.0h0.8v0.8h-0.8zM79.3 443.5h0.8v0.8h-0.8zM98.9 442.7h0.8v0.8h-0.8zM80.3 446.5h0.8v0.8h-0.8zM80.1 445.8h0.8v0.8h-0.8zM78.6 428.5h0.8v0.8h-0.8zM95.2 449.8h0.8v0.8h-0.8zM92.3 452.2h0.8v0.8h-0.8zM91.8 422.8h0.8v0.8h-0.8z" fill="#515bc0"/>
<path d="M81.7 425.4h0.8v0.8h-0.8zM78.9 429.4h0.8v0.8h-0.8zM92.1 424.5h0.8v0.8h-0.8zM74.4 437.2h0.8v0.8h-0.8zM78.9 444.0h0.8v0.8h-0.8zM77.2 434.5h0.8v0.8h-0.8z" fill="#505ac0"/>
<path d="M78.5 428.8h0.8v0.8h-0.8zM78.3 441.8h0.8v0.8h-0.8zM78.1 439.6h0.8v0.8h-0.8zM78.4 440.0h0.8v0.8h-0.8zM76.7 431.2h0.8v0.8h-0.8zM92.1 423.6h0.8v0.8h-0.8z" fill="#505abf"/>
<path d="M86.0 422.8h0.8v0.8h-0.8zM81.4 447.0h0.8v0.8h-0.8zM90.9 423.5h0.8v0.8h-0.8zM98.6 438.8h0.8v0.8h-0.8zM78.1 430.0h0.8v0.8h-0.8zM78.8 444.0h0.8v0.8h-0.8zM81.2 446.8h0.8v0.8h-0.8zM77.4 431.6h0.8v0.8h-0.8zM77.4 438.3h0.8v0.8h-0.8zM77.3 435.6h0.8v0.8h-0.8zM88.8 450.6h0.8v0.8h-0.8zM98.8 442.3h0.8v0.8h-0.8zM77.1 432.1h0.8v0.8h-0.8zM78.4 442.1h0.8v0.8h-0.8zM98.6 441.7h0.8v0.8h-0.8zM94.6 449.9h0.8v0.8h-0.8zM96.4 428.3h0.8v0.8h-0.8z" fill="#4f59bf"/>
<path d="M75.7 440.4h0.8v0.8h-0.8zM75.3 437.3h0.8v0.8h-0.8z" fill="#4e58bf"/>
<path d="M93.9 449.6h0.8v0.8h-0.8zM78.4 430.4h0.8v0.8h-0.8zM82.3 425.0h0.8v0.8h-0.8zM78.2 430.2h0.8v0.8h-0.8zM91.8 450.8h0.8v0.8h-0.8zM77.7 429.0h0.8v0.8h-0.8zM78.6 428.8h0.8v0.8h-0.8zM78.4 429.1h0.8v0.8h-0.8zM76.9 437.6h0.8v0.8h-0.8zM96.0 448.3h0.8v0.8h-0.8zM78.3 430.0h0.8v0.8h-0.8zM93.2 450.9h0.8v0.8h-0.8z" fill="#4e58be"/>
<path d="M86.5 449.8h0.8v0.8h-0.8zM90.4 422.8h0.8v0.8h-0.8zM98.6 440.2h0.8v0.8h-0.8zM89.8 451.4h0.8v0.8h-0.8zM98.3 432.4h0.8v0.8h-0.8zM82.5 425.8h0.8v0.8h-0.8zM98.0 444.7h0.8v0.8h-0.8zM98.2 434.1h0.8v0.8h-0.8zM99.4 439.3h0.8v0.8h-0.8zM78.9 443.9h0.8v0.8h-0.8zM91.2 450.5h0.8v0.8h-0.8zM77.8 441.0h0.8v0.8h-0.8zM78.5 442.3h0.8v0.8h-0.8zM82.7 425.4h0.8v0.8h-0.8zM96.2 428.2h0.8v0.8h-0.8z" fill="#4d57be"/>
<path d="M94.7 449.5h0.8v0.8h-0.8zM98.0 434.0h0.8v0.8h-0.8z" fill="#4d57bd"/>
<path d="M87.8 450.5h0.8v0.8h-0.8zM95.1 427.2h0.8v0.8h-0.8zM91.0 450.5h0.8v0.8h-0.8zM95.0 449.5h0.8v0.8h-0.8zM95.5 447.9h0.8v0.8h-0.8zM91.3 450.8h0.8v0.8h-0.8zM98.2 443.8h0.8v0.8h-0.8zM87.1 450.1h0.8v0.8h-0.8zM77.8 430.5h0.8v0.8h-0.8zM94.4 425.9h0.8v0.8h-0.8zM98.5 434.9h0.8v0.8h-0.8z" fill="#4c56bd"/>
<path d="M91.0 422.9h0.8v0.8h-0.8zM90.8 423.1h0.8v0.8h-0.8zM97.5 431.3h0.8v0.8h-0.8zM90.9 422.7h0.8v0.8h-0.8zM86.0 450.1h0.8v0.8h-0.8zM97.9 432.5h0.8v0.8h-0.8zM78.4 438.8h0.8v0.8h-0.8zM79.6 428.8h0.8v0.8h-0.8zM77.9 437.7h0.8v0.8h-0.8zM87.3 449.7h0.8v0.8h-0.8z" fill="#4b55bd"/>
<path d="M86.8 423.0h0.8v0.8h-0.8zM98.4 435.4h0.8v0.8h-0.8zM78.8 440.7h0.8v0.8h-0.8zM97.9 435.0h0.8v0.8h-0.8z" fill="#4b55bc"/>
<path d="M96.9 446.4h0.8v0.8h-0.8zM79.1 442.1h0.8v0.8h-0.8zM97.7 434.2h0.8v0.8h-0.8zM98.4 434.3h0.8v0.8h-0.8zM78.1 429.8h0.8v0.8h-0.8zM97.3 431.2h0.8v0.8h-0.8zM97.3 446.4h0.8v0.8h-0.8zM77.9 437.3h0.8v0.8h-0.8zM96.2 448.0h0.8v0.8h-0.8zM98.1 435.7h0.8v0.8h-0.8z" fill="#4a54bc"/>
<path d="M84.3 425.4h0.8v0.8h-0.8zM93.7 450.1h0.8v0.8h-0.8zM88.7 451.4h0.8v0.8h-0.8z" fill="#4953bc"/>
<path d="M94.0 449.6h0.8v0.8h-0.8zM89.6 423.4h0.8v0.8h-0.8zM95.9 428.8h0.8v0.8h-0.8zM97.4 429.9h0.8v0.8h-0.8zM80.6 444.9h0.8v0.8h-0.8zM83.5 448.9h0.8v0.8h-0.8zM80.5 428.2h0.8v0.8h-0.8zM80.4 444.9h0.8v0.8h-0.8zM98.2 441.8h0.8v0.8h-0.8zM93.2 450.0h0.8v0.8h-0.8zM92.2 424.4h0.8v0.8h-0.8z" fill="#4953bb"/>
<path d="M82.2 426.0h0.8v0.8h-0.8zM97.2 431.0h0.8v0.8h-0.8zM78.8 441.8h0.8v0.8h-0.8zM87.8 422.6h0.8v0.8h-0.8zM77.9 433.1h0.8v0.8h-0.8zM97.4 446.4h0.8v0.8h-0.8zM77.9 437.9h0.8v0.8h-0.8zM95.8 448.1h0.8v0.8h-0.8zM82.2 447.3h0.8v0.8h-0.8zM79.0 441.9h0.8v0.8h-0.8zM90.8 424.3h0.8v0.8h-0.8z" fill="#4852bb"/>
<path d="M88.7 422.7h0.8v0.8h-0.8zM97.1 446.3h0.8v0.8h-0.8zM79.9 444.0h0.8v0.8h-0.8zM95.4 428.3h0.8v0.8h-0.8zM83.4 448.4h0.8v0.8h-0.8zM81.3 427.3h0.8v0.8h-0.8zM97.7 442.7h0.8v0.8h-0.8zM89.0 450.7h0.8v0.8h-0.8zM82.8 448.0h0.8v0.8h-0.8zM77.8 434.7h0.8v0.8h-0.8zM78.1 434.2h0.8v0.8h-0.8zM78.0 432.0h0.8v0.8h-0.8zM89.7 451.4h0.8v0.8h-0.8z" fill="#4751ba"/>
<path d="M87.0 450.2h0.8v0.8h-0.8zM81.3 445.9h0.8v0.8h-0.8zM81.9 447.1h0.8v0.8h-0.8zM79.4 441.8h0.8v0.8h-0.8zM81.9 447.3h0.8v0.8h-0.8zM79.1 440.7h0.8v0.8h-0.8zM77.9 433.8h0.8v0.8h-0.8zM84.7 448.9h0.8v0.8h-0.8z" fill="#4650ba"/>
<path d="M93.0 425.9h0.8v0.8h-0.8zM97.3 444.7h0.8v0.8h-0.8zM95.5 428.5h0.8v0.8h-0.8z" fill="#4650b9"/>
<path d="M94.9 427.8h0.8v0.8h-0.8zM98.0 440.1h0.8v0.8h-0.8zM96.8 444.7h0.8v0.8h-0.8zM89.6 424.4h0.8v0.8h-0.8zM89.5 423.2h0.8v0.8h-0.8zM96.9 430.8h0.8v0.8h-0.8zM80.6 427.6h0.8v0.8h-0.8zM81.8 425.9h0.8v0.8h-0.8zM88.2 450.0h0.8v0.8h-0.8zM77.9 436.5h0.8v0.8h-0.8zM95.9 446.9h0.8v0.8h-0.8zM97.8 436.7h0.8v0.8h-0.8zM84.6 449.1h0.8v0.8h-0.8zM80.4 442.7h0.8v0.8h-0.8zM78.1 439.3h0.8v0.8h-0.8zM97.5 432.9h0.8v0.8h-0.8z" fill="#454fb9"/>
<path d="M78.8 440.5h0.8v0.8h-0.8zM87.2 423.3h0.8v0.8h-0.8zM93.7 448.6h0.8v0.8h-0.8zM82.7 447.8h0.8v0.8h-0.8z" fill="#444eb9"/>
<path d="M78.9 431.9h0.8v0.8h-0.8zM97.1 433.2h0.8v0.8h-0.8zM97.6 441.8h0.8v0.8h-0.8zM79.0 431.7h0.8v0.8h-0.8zM79.0 441.5h0.8v0.8h-0.8zM80.2 428.6h0.8v0.8h-0.8zM79.9 429.6h0.8v0.8h-0.8zM83.5 447.9h0.8v0.8h-0.8zM77.9 433.0h0.8v0.8h-0.8z" fill="#444eb8"/>
<path d="M85.7 424.0h0.8v0.8h-0.8zM90.2 451.3h0.8v0.8h-0.8zM97.3 432.5h0.8v0.8h-0.8zM97.0 434.3h0.8v0.8h-0.8zM92.7 450.0h0.8v0.8h-0.8zM97.0 445.5h0.8v0.8h-0.8zM83.2 426.3h0.8v0.8h-0.8zM98.3 435.9h0.8v0.8h-0.8zM97.3 433.4h0.8v0.8h-0.8z" fill="#434db8"/>
<path d="M91.8 449.8h0.8v0.8h-0.8zM96.3 446.8h0.8v0.8h-0.8z" fill="#424cb8"/>
<path d="M94.6 427.9h0.8v0.8h-0.8zM85.2 425.3h0.8v0.8h-0.8zM98.4 437.0h0.8v0.8h-0.8zM93.6 426.5h0.8v0.8h-0.8zM98.3 436.7h0.8v0.8h-0.8zM96.8 444.4h0.8v0.8h-0.8zM79.5 442.4h0.8v0.8h-0.8zM93.6 426.8h0.8v0.8h-0.8zM78.0 433.6h0.8v0.8h-0.8zM78.4 433.0h0.8v0.8h-0.8zM83.0 446.7h0.8v0.8h-0.8zM80.5 428.9h0.8v0.8h-0.8zM98.4 441.6h0.8v0.8h-0.8zM81.8 446.0h0.8v0.8h-0.8z" fill="#424cb7"/>
<path d="M81.6 427.4h0.8v0.8h-0.8zM88.1 423.0h0.8v0.8h-0.8zM92.2 425.2h0.8v0.8h-0.8zM92.1 425.3h0.8v0.8h-0.8zM82.3 445.5h0.8v0.8h-0.8zM87.2 423.0h0.8v0.8h-0.8zM88.7 423.3h0.8v0.8h-0.8zM80.2 430.6h0.8v0.8h-0.8zM85.3 448.7h0.8v0.8h-0.8zM98.5 442.2h0.8v0.8h-0.8zM77.6 434.2h0.8v0.8h-0.8zM81.7 446.1h0.8v0.8h-0.8zM81.4 443.7h0.8v0.8h-0.8zM78.7 439.6h0.8v0.8h-0.8zM85.9 448.9h0.8v0.8h-0.8zM77.6 433.5h0.8v0.8h-0.8zM79.9 430.9h0.8v0.8h-0.8z" fill="#414bb7"/>
<path d="M84.5 448.8h0.8v0.8h-0.8z" fill="#414bb6"/>
<path d="M91.5 425.1h0.8v0.8h-0.8zM98.2 440.2h0.8v0.8h-0.8zM81.0 428.2h0.8v0.8h-0.8zM96.2 447.4h0.8v0.8h-0.8zM84.0 426.3h0.8v0.8h-0.8zM98.3 437.6h0.8v0.8h-0.8zM98.0 441.4h0.8v0.8h-0.8zM84.2 448.4h0.8v0.8h-0.8zM97.7 436.8h0.8v0.8h-0.8zM79.2 438.7h0.8v0.8h-0.8zM96.4 429.3h0.8v0.8h-0.8z" fill="#404ab6"/>
<path d="M98.0 438.8h0.8v0.8h-0.8zM77.5 433.6h0.8v0.8h-0.8zM78.6 431.2h0.8v0.8h-0.8zM81.3 429.4h0.8v0.8h-0.8zM96.8 443.6h0.8v0.8h-0.8zM81.1 444.1h0.8v0.8h-0.8zM80.4 441.8h0.8v0.8h-0.8zM89.3 449.7h0.8v0.8h-0.8zM81.8 446.2h0.8v0.8h-0.8zM79.8 443.3h0.8v0.8h-0.8zM80.6 443.8h0.8v0.8h-0.8z" fill="#3f49b6"/>
<path d="M96.6 443.6h0.8v0.8h-0.8zM97.7 440.0h0.8v0.8h-0.8zM95.1 448.3h0.8v0.8h-0.8zM98.0 439.3h0.8v0.8h-0.8z" fill="#3f49b5"/>
<path d="M80.8 427.9h0.8v0.8h-0.8zM88.0 423.1h0.8v0.8h-0.8zM97.7 438.0h0.8v0.8h-0.8zM85.8 424.1h0.8v0.8h-0.8zM97.6 439.4h0.8v0.8h-0.8zM85.8 424.1h0.8v0.8h-0.8zM80.9 444.6h0.8v0.8h-0.8zM80.2 430.3h0.8v0.8h-0.8zM87.2 449.1h0.8v0.8h-0.8zM79.2 430.6h0.8v0.8h-0.8z" fill="#3e48b5"/>
<path d="M93.0 426.3h0.8v0.8h-0.8zM80.9 445.4h0.8v0.8h-0.8z" fill="#3d47b5"/>
<path d="M90.8 425.4h0.8v0.8h-0.8zM87.7 422.9h0.8v0.8h-0.8zM96.8 434.8h0.8v0.8h-0.8zM90.3 423.9h0.8v0.8h-0.8zM78.8 432.9h0.8v0.8h-0.8zM78.7 439.0h0.8v0.8h-0.8z" fill="#3d47b4"/>
<path d="M98.4 437.6h0.8v0.8h-0.8zM82.3 427.2h0.8v0.8h-0.8zM81.7 445.3h0.8v0.8h-0.8zM83.0 446.9h0.8v0.8h-0.8zM80.5 430.3h0.8v0.8h-0.8zM84.9 447.8h0.8v0.8h-0.8zM80.0 442.6h0.8v0.8h-0.8zM79.2 436.5h0.8v0.8h-0.8zM86.0 449.1h0.8v0.8h-0.8zM78.5 439.3h0.8v0.8h-0.8zM98.4 438.9h0.8v0.8h-0.8zM92.3 425.8h0.8v0.8h-0.8z" fill="#3c46b4"/>
<path d="M85.2 447.6h0.8v0.8h-0.8zM97.5 444.2h0.8v0.8h-0.8zM86.6 423.7h0.8v0.8h-0.8zM91.3 449.7h0.8v0.8h-0.8zM96.4 446.3h0.8v0.8h-0.8zM94.3 448.2h0.8v0.8h-0.8zM94.2 449.4h0.8v0.8h-0.8zM94.3 427.2h0.8v0.8h-0.8zM90.3 449.7h0.8v0.8h-0.8zM84.4 426.4h0.8v0.8h-0.8zM84.0 425.7h0.8v0.8h-0.8zM96.4 429.5h0.8v0.8h-0.8zM83.5 427.0h0.8v0.8h-0.8zM97.1 434.8h0.8v0.8h-0.8zM91.5 425.7h0.8v0.8h-0.8zM84.0 447.1h0.8v0.8h-0.8zM79.1 437.3h0.8v0.8h-0.8zM94.9 447.7h0.8v0.8h-0.8zM81.9 427.5h0.8v0.8h-0.8zM83.5 446.7h0.8v0.8h-0.8zM79.2 435.0h0.8v0.8h-0.8zM79.5 441.3h0.8v0.8h-0.8zM93.5 448.8h0.8v0.8h-0.8zM82.8 426.1h0.8v0.8h-0.8zM94.0 448.7h0.8v0.8h-0.8zM96.6 434.1h0.8v0.8h-0.8zM96.4 430.3h0.8v0.8h-0.8z" fill="#3b45b3"/>
<path d="M78.7 437.7h0.8v0.8h-0.8zM79.1 435.9h0.8v0.8h-0.8zM87.1 448.9h0.8v0.8h-0.8zM96.5 436.1h0.8v0.8h-0.8zM83.0 445.9h0.8v0.8h-0.8z" fill="#3b45b2"/>
<path d="M83.0 427.2h0.8v0.8h-0.8zM87.6 423.6h0.8v0.8h-0.8zM83.6 425.9h0.8v0.8h-0.8zM80.7 431.4h0.8v0.8h-0.8zM96.9 436.5h0.8v0.8h-0.8zM94.2 428.4h0.8v0.8h-0.8zM97.3 442.5h0.8v0.8h-0.8zM94.6 429.0h0.8v0.8h-0.8zM78.9 432.8h0.8v0.8h-0.8zM88.5 423.7h0.8v0.8h-0.8zM92.3 426.0h0.8v0.8h-0.8zM93.7 428.2h0.8v0.8h-0.8zM93.8 447.8h0.8v0.8h-0.8zM85.6 448.4h0.8v0.8h-0.8zM78.6 435.8h0.8v0.8h-0.8zM96.9 437.0h0.8v0.8h-0.8zM78.9 434.9h0.8v0.8h-0.8zM87.2 424.5h0.8v0.8h-0.8zM83.1 447.4h0.8v0.8h-0.8zM84.6 448.2h0.8v0.8h-0.8zM81.1 428.9h0.8v0.8h-0.8zM91.5 450.5h0.8v0.8h-0.8zM80.5 431.0h0.8v0.8h-0.8zM83.3 446.3h0.8v0.8h-0.8zM90.6 425.1h0.8v0.8h-0.8z" fill="#3a44b2"/>
<path d="M92.5 449.2h0.8v0.8h-0.8zM89.2 424.5h0.8v0.8h-0.8zM84.0 425.5h0.8v0.8h-0.8zM93.9 448.1h0.8v0.8h-0.8zM81.4 428.5h0.8v0.8h-0.8zM79.2 439.3h0.8v0.8h-0.8zM85.9 425.4h0.8v0.8h-0.8zM79.0 433.2h0.8v0.8h-0.8zM81.7 427.7h0.8v0.8h-0.8zM78.6 434.2h0.8v0.8h-0.8zM78.7 438.9h0.8v0.8h-0.8zM79.5 440.0h0.8v0.8h-0.8zM79.4 435.8h0.8v0.8h-0.8z" fill="#3a44b1"/>
<path d="M87.5 449.1h0.8v0.8h-0.8zM86.5 448.7h0.8v0.8h-0.8zM80.0 431.4h0.8v0.8h-0.8zM92.9 427.5h0.8v0.8h-0.8zM95.8 445.5h0.8v0.8h-0.8zM83.2 426.6h0.8v0.8h-0.8zM96.2 430.9h0.8v0.8h-0.8zM95.9 431.3h0.8v0.8h-0.8zM88.5 423.7h0.8v0.8h-0.8zM86.5 423.5h0.8v0.8h-0.8zM87.8 424.1h0.8v0.8h-0.8zM79.2 432.8h0.8v0.8h-0.8zM81.0 443.2h0.8v0.8h-0.8zM80.5 442.1h0.8v0.8h-0.8zM79.1 434.1h0.8v0.8h-0.8zM78.9 436.6h0.8v0.8h-0.8zM87.5 448.7h0.8v0.8h-0.8zM83.7 447.4h0.8v0.8h-0.8zM88.6 449.7h0.8v0.8h-0.8zM80.8 431.0h0.8v0.8h-0.8zM84.8 448.1h0.8v0.8h-0.8zM96.9 437.9h0.8v0.8h-0.8zM96.8 436.6h0.8v0.8h-0.8zM95.2 429.2h0.8v0.8h-0.8z" fill="#3943b1"/>
<path d="M84.0 425.8h0.8v0.8h-0.8zM80.0 432.7h0.8v0.8h-0.8zM97.1 435.9h0.8v0.8h-0.8zM86.5 424.2h0.8v0.8h-0.8zM96.2 444.5h0.8v0.8h-0.8zM96.9 442.8h0.8v0.8h-0.8zM93.1 427.4h0.8v0.8h-0.8zM84.1 447.4h0.8v0.8h-0.8zM95.9 445.4h0.8v0.8h-0.8zM96.5 441.1h0.8v0.8h-0.8zM91.4 426.2h0.8v0.8h-0.8zM81.4 430.2h0.8v0.8h-0.8zM84.5 447.7h0.8v0.8h-0.8zM80.4 439.4h0.8v0.8h-0.8zM85.3 447.3h0.8v0.8h-0.8zM81.5 445.3h0.8v0.8h-0.8zM93.7 448.0h0.8v0.8h-0.8zM80.5 432.6h0.8v0.8h-0.8zM79.4 434.3h0.8v0.8h-0.8zM82.5 444.9h0.8v0.8h-0.8zM87.8 423.7h0.8v0.8h-0.8z" fill="#3943b0"/>
<path d="M95.6 430.9h0.8v0.8h-0.8zM96.7 440.1h0.8v0.8h-0.8zM94.6 446.9h0.8v0.8h-0.8zM83.2 446.4h0.8v0.8h-0.8zM88.0 448.5h0.8v0.8h-0.8zM88.5 424.2h0.8v0.8h-0.8zM94.5 428.9h0.8v0.8h-0.8zM97.4 439.3h0.8v0.8h-0.8zM84.7 447.2h0.8v0.8h-0.8zM84.1 447.2h0.8v0.8h-0.8zM81.2 443.2h0.8v0.8h-0.8zM81.2 431.0h0.8v0.8h-0.8z" fill="#3842b0"/>
<path d="M96.7 435.9h0.8v0.8h-0.8zM80.8 432.4h0.8v0.8h-0.8zM78.8 435.0h0.8v0.8h-0.8zM91.7 425.7h0.8v0.8h-0.8zM86.6 424.4h0.8v0.8h-0.8zM82.5 427.9h0.8v0.8h-0.8zM95.1 430.5h0.8v0.8h-0.8zM97.1 442.4h0.8v0.8h-0.8zM87.4 448.0h0.8v0.8h-0.8zM97.5 442.9h0.8v0.8h-0.8zM95.3 429.6h0.8v0.8h-0.8zM93.3 449.0h0.8v0.8h-0.8zM95.7 432.4h0.8v0.8h-0.8zM95.6 443.6h0.8v0.8h-0.8zM81.5 429.0h0.8v0.8h-0.8zM95.6 444.7h0.8v0.8h-0.8zM94.7 428.5h0.8v0.8h-0.8zM84.0 446.9h0.8v0.8h-0.8zM78.7 436.3h0.8v0.8h-0.8zM79.4 434.9h0.8v0.8h-0.8zM82.7 445.6h0.8v0.8h-0.8z" fill="#3842af"/>
<path d="M90.5 449.6h0.8v0.8h-0.8zM96.4 445.8h0.8v0.8h-0.8zM81.5 429.6h0.8v0.8h-0.8zM80.2 439.2h0.8v0.8h-0.8zM79.4 433.9h0.8v0.8h-0.8z" fill="#3741af"/>
<path d="M97.1 438.4h0.8v0.8h-0.8zM95.9 445.0h0.8v0.8h-0.8zM96.1 430.8h0.8v0.8h-0.8zM97.1 437.0h0.8v0.8h-0.8zM85.8 448.3h0.8v0.8h-0.8zM93.5 446.7h0.8v0.8h-0.8zM88.1 424.2h0.8v0.8h-0.8zM95.6 431.0h0.8v0.8h-0.8zM96.3 443.9h0.8v0.8h-0.8zM82.4 429.5h0.8v0.8h-0.8zM86.1 447.5h0.8v0.8h-0.8zM94.6 430.5h0.8v0.8h-0.8zM91.9 448.5h0.8v0.8h-0.8zM82.3 429.2h0.8v0.8h-0.8zM87.7 448.5h0.8v0.8h-0.8zM94.7 430.2h0.8v0.8h-0.8zM85.2 426.3h0.8v0.8h-0.8zM80.8 431.7h0.8v0.8h-0.8zM80.7 442.0h0.8v0.8h-0.8zM94.6 428.7h0.8v0.8h-0.8zM81.4 441.3h0.8v0.8h-0.8zM95.9 434.2h0.8v0.8h-0.8zM84.0 446.2h0.8v0.8h-0.8zM84.9 447.2h0.8v0.8h-0.8zM86.0 424.6h0.8v0.8h-0.8zM92.9 448.5h0.8v0.8h-0.8zM95.1 447.4h0.8v0.8h-0.8zM80.3 439.4h0.8v0.8h-0.8zM80.4 436.8h0.8v0.8h-0.8zM81.1 430.4h0.8v0.8h-0.8zM79.6 439.3h0.8v0.8h-0.8zM80.3 432.5h0.8v0.8h-0.8zM96.4 432.3h0.8v0.8h-0.8z" fill="#3741ae"/>
<path d="M90.3 426.4h0.8v0.8h-0.8zM96.3 433.1h0.8v0.8h-0.8zM93.6 448.1h0.8v0.8h-0.8zM95.7 432.1h0.8v0.8h-0.8zM96.7 442.0h0.8v0.8h-0.8zM94.3 448.2h0.8v0.8h-0.8zM87.2 424.8h0.8v0.8h-0.8zM96.1 444.9h0.8v0.8h-0.8zM88.4 448.6h0.8v0.8h-0.8zM84.5 426.6h0.8v0.8h-0.8zM85.0 426.4h0.8v0.8h-0.8zM81.7 429.8h0.8v0.8h-0.8zM86.3 425.7h0.8v0.8h-0.8zM97.1 441.9h0.8v0.8h-0.8zM86.5 448.2h0.8v0.8h-0.8zM80.2 435.0h0.8v0.8h-0.8zM80.4 437.4h0.8v0.8h-0.8zM78.6 435.4h0.8v0.8h-0.8zM90.8 449.1h0.8v0.8h-0.8zM80.3 435.1h0.8v0.8h-0.8zM91.7 449.4h0.8v0.8h-0.8zM80.3 437.7h0.8v0.8h-0.8zM87.3 425.3h0.8v0.8h-0.8zM85.5 426.1h0.8v0.8h-0.8zM80.4 437.6h0.8v0.8h-0.8zM97.0 440.0h0.8v0.8h-0.8zM95.4 445.6h0.8v0.8h-0.8zM80.6 441.5h0.8v0.8h-0.8zM80.6 441.9h0.8v0.8h-0.8zM79.3 434.6h0.8v0.8h-0.8zM81.6 429.9h0.8v0.8h-0.8zM88.9 424.7h0.8v0.8h-0.8z" fill="#3640ad"/>
<path d="M91.9 426.9h0.8v0.8h-0.8zM89.7 449.0h0.8v0.8h-0.8zM83.8 445.0h0.8v0.8h-0.8zM89.3 449.2h0.8v0.8h-0.8zM81.4 432.0h0.8v0.8h-0.8zM82.0 443.6h0.8v0.8h-0.8zM81.8 444.2h0.8v0.8h-0.8z" fill="#3640ac"/>
<path d="M82.0 431.0h0.8v0.8h-0.8zM89.5 426.5h0.8v0.8h-0.8zM89.1 448.5h0.8v0.8h-0.8zM88.6 424.7h0.8v0.8h-0.8zM85.9 425.8h0.8v0.8h-0.8zM82.6 428.4h0.8v0.8h-0.8zM81.0 432.5h0.8v0.8h-0.8zM79.8 433.2h0.8v0.8h-0.8zM80.9 440.4h0.8v0.8h-0.8zM84.5 446.9h0.8v0.8h-0.8zM84.5 446.9h0.8v0.8h-0.8zM81.2 441.5h0.8v0.8h-0.8zM89.3 449.2h0.8v0.8h-0.8zM83.6 446.5h0.8v0.8h-0.8zM81.0 430.7h0.8v0.8h-0.8zM91.0 448.6h0.8v0.8h-0.8zM89.4 424.6h0.8v0.8h-0.8zM88.7 424.8h0.8v0.8h-0.8z" fill="#353fac"/>
<path d="M92.5 448.4h0.8v0.8h-0.8zM90.2 426.2h0.8v0.8h-0.8zM90.4 425.9h0.8v0.8h-0.8zM95.1 430.3h0.8v0.8h-0.8zM85.8 446.9h0.8v0.8h-0.8zM89.3 424.8h0.8v0.8h-0.8zM91.1 426.3h0.8v0.8h-0.8zM80.4 432.9h0.8v0.8h-0.8zM83.3 429.4h0.8v0.8h-0.8zM92.1 427.4h0.8v0.8h-0.8z" fill="#353fab"/>
<path d="M91.8 427.1h0.8v0.8h-0.8zM81.7 429.2h0.8v0.8h-0.8zM95.9 432.8h0.8v0.8h-0.8zM81.0 433.4h0.8v0.8h-0.8zM95.9 432.4h0.8v0.8h-0.8zM86.8 425.0h0.8v0.8h-0.8zM84.4 427.1h0.8v0.8h-0.8zM96.1 436.3h0.8v0.8h-0.8zM95.6 434.5h0.8v0.8h-0.8zM79.7 433.2h0.8v0.8h-0.8zM82.4 444.1h0.8v0.8h-0.8zM80.5 433.4h0.8v0.8h-0.8zM96.9 440.4h0.8v0.8h-0.8zM80.3 435.7h0.8v0.8h-0.8zM93.1 428.0h0.8v0.8h-0.8z" fill="#343eab"/>
<path d="M87.2 424.6h0.8v0.8h-0.8zM84.5 445.8h0.8v0.8h-0.8zM81.7 431.9h0.8v0.8h-0.8zM89.5 448.9h0.8v0.8h-0.8zM97.0 440.4h0.8v0.8h-0.8zM90.1 449.2h0.8v0.8h-0.8zM93.7 429.4h0.8v0.8h-0.8zM89.5 449.3h0.8v0.8h-0.8zM81.3 439.6h0.8v0.8h-0.8zM80.1 435.5h0.8v0.8h-0.8zM79.7 438.3h0.8v0.8h-0.8zM79.9 438.9h0.8v0.8h-0.8zM79.9 439.4h0.8v0.8h-0.8zM79.6 437.3h0.8v0.8h-0.8zM81.4 440.6h0.8v0.8h-0.8zM92.9 427.8h0.8v0.8h-0.8z" fill="#343eaa"/>
<path d="M94.8 444.9h0.8v0.8h-0.8zM96.0 433.0h0.8v0.8h-0.8zM82.8 428.3h0.8v0.8h-0.8zM86.6 447.8h0.8v0.8h-0.8zM84.8 445.8h0.8v0.8h-0.8zM82.8 444.4h0.8v0.8h-0.8zM79.7 438.1h0.8v0.8h-0.8zM93.1 427.5h0.8v0.8h-0.8z" fill="#333daa"/>
<path d="M87.2 425.2h0.8v0.8h-0.8zM82.5 430.3h0.8v0.8h-0.8zM82.0 430.2h0.8v0.8h-0.8zM89.9 449.0h0.8v0.8h-0.8zM92.0 447.6h0.8v0.8h-0.8zM81.6 429.8h0.8v0.8h-0.8zM90.9 448.7h0.8v0.8h-0.8zM84.0 427.9h0.8v0.8h-0.8zM95.6 437.2h0.8v0.8h-0.8zM89.0 448.7h0.8v0.8h-0.8zM91.4 448.6h0.8v0.8h-0.8zM82.1 432.4h0.8v0.8h-0.8zM86.5 425.8h0.8v0.8h-0.8zM90.5 449.0h0.8v0.8h-0.8zM81.9 442.8h0.8v0.8h-0.8zM95.9 434.1h0.8v0.8h-0.8zM80.9 439.2h0.8v0.8h-0.8zM85.8 446.8h0.8v0.8h-0.8zM88.4 448.2h0.8v0.8h-0.8zM79.8 438.4h0.8v0.8h-0.8zM80.9 439.4h0.8v0.8h-0.8zM90.9 427.0h0.8v0.8h-0.8zM80.3 437.6h0.8v0.8h-0.8zM85.5 446.3h0.8v0.8h-0.8zM80.0 434.9h0.8v0.8h-0.8z" fill="#333da9"/>
<path d="M85.7 447.4h0.8v0.8h-0.8zM95.3 430.6h0.8v0.8h-0.8zM96.0 443.3h0.8v0.8h-0.8zM90.6 448.7h0.8v0.8h-0.8zM81.3 434.3h0.8v0.8h-0.8zM82.8 428.1h0.8v0.8h-0.8zM80.2 437.3h0.8v0.8h-0.8zM81.5 443.4h0.8v0.8h-0.8zM82.1 443.5h0.8v0.8h-0.8z" fill="#323ca9"/>
<path d="M84.4 427.9h0.8v0.8h-0.8zM83.8 427.7h0.8v0.8h-0.8zM94.4 446.2h0.8v0.8h-0.8zM96.2 434.8h0.8v0.8h-0.8zM94.3 445.7h0.8v0.8h-0.8zM83.3 430.5h0.8v0.8h-0.8zM89.8 425.5h0.8v0.8h-0.8zM85.7 426.3h0.8v0.8h-0.8zM94.4 429.4h0.8v0.8h-0.8zM88.1 425.4h0.8v0.8h-0.8zM94.6 444.8h0.8v0.8h-0.8zM95.5 434.1h0.8v0.8h-0.8zM83.3 428.3h0.8v0.8h-0.8zM90.9 448.6h0.8v0.8h-0.8zM96.5 437.2h0.8v0.8h-0.8zM94.6 445.0h0.8v0.8h-0.8zM79.8 434.5h0.8v0.8h-0.8zM81.1 439.8h0.8v0.8h-0.8zM79.9 437.5h0.8v0.8h-0.8zM86.9 447.4h0.8v0.8h-0.8zM88.8 448.1h0.8v0.8h-0.8zM83.8 444.8h0.8v0.8h-0.8zM94.6 445.9h0.8v0.8h-0.8zM82.2 442.5h0.8v0.8h-0.8zM93.7 447.0h0.8v0.8h-0.8zM82.1 440.6h0.8v0.8h-0.8zM83.4 431.4h0.8v0.8h-0.8zM81.0 432.7h0.8v0.8h-0.8zM94.8 444.6h0.8v0.8h-0.8zM80.3 435.6h0.8v0.8h-0.8zM96.0 434.7h0.8v0.8h-0.8z" fill="#323ca8"/>
<path d="M80.6 437.6h0.8v0.8h-0.8zM87.3 425.9h0.8v0.8h-0.8zM83.4 429.7h0.8v0.8h-0.8zM93.6 429.1h0.8v0.8h-0.8zM82.2 432.1h0.8v0.8h-0.8zM89.7 448.7h0.8v0.8h-0.8zM91.9 426.9h0.8v0.8h-0.8zM96.5 443.4h0.8v0.8h-0.8zM95.7 437.2h0.8v0.8h-0.8zM85.7 425.8h0.8v0.8h-0.8zM86.3 427.3h0.8v0.8h-0.8zM89.5 425.7h0.8v0.8h-0.8zM90.4 427.2h0.8v0.8h-0.8zM93.2 447.7h0.8v0.8h-0.8zM91.9 427.2h0.8v0.8h-0.8zM89.4 425.6h0.8v0.8h-0.8zM80.6 435.7h0.8v0.8h-0.8zM94.0 429.2h0.8v0.8h-0.8zM81.5 437.6h0.8v0.8h-0.8zM85.1 427.2h0.8v0.8h-0.8zM88.0 448.4h0.8v0.8h-0.8zM87.1 426.0h0.8v0.8h-0.8zM93.2 447.5h0.8v0.8h-0.8zM81.8 430.9h0.8v0.8h-0.8zM79.6 437.2h0.8v0.8h-0.8zM81.4 432.9h0.8v0.8h-0.8zM82.0 442.4h0.8v0.8h-0.8zM85.0 444.9h0.8v0.8h-0.8zM83.1 429.4h0.8v0.8h-0.8zM84.2 427.7h0.8v0.8h-0.8zM82.5 441.7h0.8v0.8h-0.8zM80.2 434.5h0.8v0.8h-0.8zM93.3 427.6h0.8v0.8h-0.8z" fill="#313ba7"/>
<path d="M87.6 425.7h0.8v0.8h-0.8zM85.7 427.1h0.8v0.8h-0.8zM82.6 429.8h0.8v0.8h-0.8zM95.5 434.7h0.8v0.8h-0.8zM81.8 441.8h0.8v0.8h-0.8zM86.3 445.5h0.8v0.8h-0.8zM92.4 448.1h0.8v0.8h-0.8zM80.7 435.0h0.8v0.8h-0.8zM82.1 441.9h0.8v0.8h-0.8z" fill="#313ba6"/>
<path d="M88.2 426.3h0.8v0.8h-0.8zM90.1 449.2h0.8v0.8h-0.8zM88.4 424.8h0.8v0.8h-0.8zM88.2 424.8h0.8v0.8h-0.8zM91.4 447.8h0.8v0.8h-0.8zM96.0 442.9h0.8v0.8h-0.8zM82.5 433.5h0.8v0.8h-0.8zM84.7 444.7h0.8v0.8h-0.8zM92.2 448.1h0.8v0.8h-0.8zM83.5 430.7h0.8v0.8h-0.8zM88.6 426.1h0.8v0.8h-0.8zM89.8 448.9h0.8v0.8h-0.8zM95.4 444.0h0.8v0.8h-0.8zM81.8 440.2h0.8v0.8h-0.8zM89.5 449.2h0.8v0.8h-0.8zM96.4 442.4h0.8v0.8h-0.8zM84.2 427.7h0.8v0.8h-0.8zM83.0 444.3h0.8v0.8h-0.8zM82.2 439.9h0.8v0.8h-0.8zM83.5 444.9h0.8v0.8h-0.8zM93.8 430.3h0.8v0.8h-0.8zM91.2 427.4h0.8v0.8h-0.8z" fill="#303aa6"/>
<path d="M81.5 436.7h0.8v0.8h-0.8zM84.2 428.1h0.8v0.8h-0.8zM96.5 442.2h0.8v0.8h-0.8zM94.6 445.1h0.8v0.8h-0.8zM95.2 444.9h0.8v0.8h-0.8zM89.5 427.2h0.8v0.8h-0.8zM84.9 445.1h0.8v0.8h-0.8zM82.4 440.9h0.8v0.8h-0.8zM82.2 440.7h0.8v0.8h-0.8zM81.5 442.8h0.8v0.8h-0.8z" fill="#303aa5"/>
<path d="M86.4 446.1h0.8v0.8h-0.8zM95.9 442.2h0.8v0.8h-0.8zM88.2 425.9h0.8v0.8h-0.8zM83.5 430.4h0.8v0.8h-0.8zM82.8 429.8h0.8v0.8h-0.8zM91.9 448.3h0.8v0.8h-0.8zM95.8 436.6h0.8v0.8h-0.8zM92.4 448.4h0.8v0.8h-0.8zM95.5 440.9h0.8v0.8h-0.8zM94.8 444.8h0.8v0.8h-0.8zM88.6 447.6h0.8v0.8h-0.8zM85.4 427.4h0.8v0.8h-0.8zM96.1 439.4h0.8v0.8h-0.8zM89.4 447.7h0.8v0.8h-0.8zM88.4 447.2h0.8v0.8h-0.8zM83.0 443.6h0.8v0.8h-0.8zM82.9 443.4h0.8v0.8h-0.8zM96.0 440.7h0.8v0.8h-0.8zM81.5 438.9h0.8v0.8h-0.8zM85.4 427.5h0.8v0.8h-0.8zM95.1 443.6h0.8v0.8h-0.8zM83.3 429.7h0.8v0.8h-0.8zM81.1 437.8h0.8v0.8h-0.8zM93.1 447.0h0.8v0.8h-0.8zM81.1 437.5h0.8v0.8h-0.8zM88.9 426.3h0.8v0.8h-0.8z" fill="#2f39a5"/>
<path d="M92.0 428.2h0.8v0.8h-0.8zM83.7 427.9h0.8v0.8h-0.8zM96.1 441.5h0.8v0.8h-0.8zM88.0 426.5h0.8v0.8h-0.8zM90.2 448.1h0.8v0.8h-0.8zM96.0 442.4h0.8v0.8h-0.8zM91.8 448.4h0.8v0.8h-0.8zM85.1 444.6h0.8v0.8h-0.8zM88.1 446.7h0.8v0.8h-0.8zM91.9 428.4h0.8v0.8h-0.8zM88.5 446.8h0.8v0.8h-0.8zM82.1 440.2h0.8v0.8h-0.8zM83.8 428.1h0.8v0.8h-0.8z" fill="#2f39a4"/>
<path d="M90.8 427.3h0.8v0.8h-0.8zM82.0 439.8h0.8v0.8h-0.8zM81.7 439.8h0.8v0.8h-0.8zM94.9 430.9h0.8v0.8h-0.8zM93.2 446.7h0.8v0.8h-0.8zM84.2 443.6h0.8v0.8h-0.8zM81.1 434.1h0.8v0.8h-0.8zM95.9 439.7h0.8v0.8h-0.8zM82.7 443.2h0.8v0.8h-0.8zM81.4 438.8h0.8v0.8h-0.8z" fill="#2e38a4"/>
<path d="M86.1 427.4h0.8v0.8h-0.8zM83.3 431.2h0.8v0.8h-0.8zM86.5 426.9h0.8v0.8h-0.8zM93.6 445.8h0.8v0.8h-0.8zM95.6 439.9h0.8v0.8h-0.8zM88.5 425.5h0.8v0.8h-0.8zM83.1 432.1h0.8v0.8h-0.8zM81.0 434.5h0.8v0.8h-0.8zM94.7 431.9h0.8v0.8h-0.8zM92.9 447.3h0.8v0.8h-0.8zM93.8 446.4h0.8v0.8h-0.8zM96.4 438.6h0.8v0.8h-0.8zM81.2 433.9h0.8v0.8h-0.8zM83.1 444.4h0.8v0.8h-0.8zM85.2 427.5h0.8v0.8h-0.8zM95.5 440.9h0.8v0.8h-0.8zM84.3 443.8h0.8v0.8h-0.8zM87.9 425.9h0.8v0.8h-0.8z" fill="#2e38a3"/>
<path d="M81.0 434.8h0.8v0.8h-0.8zM95.1 432.1h0.8v0.8h-0.8zM88.8 448.5h0.8v0.8h-0.8zM95.4 432.1h0.8v0.8h-0.8z" fill="#2d37a3"/>
<path d="M94.5 445.3h0.8v0.8h-0.8zM89.5 426.9h0.8v0.8h-0.8zM87.9 425.7h0.8v0.8h-0.8zM80.8 437.6h0.8v0.8h-0.8zM96.2 440.7h0.8v0.8h-0.8zM84.3 444.5h0.8v0.8h-0.8zM95.3 431.7h0.8v0.8h-0.8zM94.0 444.9h0.8v0.8h-0.8zM84.3 443.8h0.8v0.8h-0.8zM95.5 440.6h0.8v0.8h-0.8zM81.9 438.3h0.8v0.8h-0.8zM92.4 428.4h0.8v0.8h-0.8zM95.5 431.6h0.8v0.8h-0.8zM82.7 443.0h0.8v0.8h-0.8zM89.0 447.6h0.8v0.8h-0.8zM82.1 438.4h0.8v0.8h-0.8zM93.6 446.2h0.8v0.8h-0.8zM88.8 426.0h0.8v0.8h-0.8zM83.8 429.3h0.8v0.8h-0.8zM91.6 448.3h0.8v0.8h-0.8zM81.4 437.3h0.8v0.8h-0.8zM81.7 439.5h0.8v0.8h-0.8zM96.5 439.1h0.8v0.8h-0.8zM92.3 446.6h0.8v0.8h-0.8zM91.5 447.0h0.8v0.8h-0.8zM94.1 444.7h0.8v0.8h-0.8zM96.3 439.0h0.8v0.8h-0.8z" fill="#2d37a2"/>
<path d="M93.0 429.1h0.8v0.8h-0.8zM86.3 428.5h0.8v0.8h-0.8zM93.4 429.4h0.8v0.8h-0.8zM91.7 428.3h0.8v0.8h-0.8zM87.4 426.8h0.8v0.8h-0.8zM85.4 429.4h0.8v0.8h-0.8zM86.9 427.0h0.8v0.8h-0.8zM88.4 447.2h0.8v0.8h-0.8zM82.1 433.2h0.8v0.8h-0.8zM81.6 441.0h0.8v0.8h-0.8zM91.7 446.6h0.8v0.8h-0.8zM87.9 447.3h0.8v0.8h-0.8zM87.2 426.5h0.8v0.8h-0.8zM95.6 437.6h0.8v0.8h-0.8zM83.8 428.3h0.8v0.8h-0.8zM95.8 441.3h0.8v0.8h-0.8zM82.3 437.5h0.8v0.8h-0.8zM81.6 438.1h0.8v0.8h-0.8zM83.0 430.6h0.8v0.8h-0.8zM81.8 439.5h0.8v0.8h-0.8zM83.2 430.8h0.8v0.8h-0.8zM96.4 439.5h0.8v0.8h-0.8zM94.2 430.9h0.8v0.8h-0.8z" fill="#2c36a1"/>
<path d="M88.1 426.9h0.8v0.8h-0.8zM92.1 428.1h0.8v0.8h-0.8zM93.2 429.1h0.8v0.8h-0.8zM85.4 445.1h0.8v0.8h-0.8zM85.9 444.9h0.8v0.8h-0.8zM82.2 434.0h0.8v0.8h-0.8z" fill="#2c36a0"/>
<path d="M90.2 427.2h0.8v0.8h-0.8zM92.5 447.0h0.8v0.8h-0.8zM92.0 428.0h0.8v0.8h-0.8zM84.8 428.3h0.8v0.8h-0.8zM88.3 426.3h0.8v0.8h-0.8zM89.2 447.2h0.8v0.8h-0.8zM81.5 437.1h0.8v0.8h-0.8zM94.7 432.9h0.8v0.8h-0.8zM88.8 448.2h0.8v0.8h-0.8zM86.8 446.3h0.8v0.8h-0.8zM94.6 433.7h0.8v0.8h-0.8zM87.2 426.9h0.8v0.8h-0.8zM81.6 434.5h0.8v0.8h-0.8zM90.0 448.2h0.8v0.8h-0.8zM81.9 432.9h0.8v0.8h-0.8zM92.6 445.7h0.8v0.8h-0.8zM80.8 433.5h0.8v0.8h-0.8zM94.0 445.2h0.8v0.8h-0.8zM81.2 438.2h0.8v0.8h-0.8zM89.0 446.6h0.8v0.8h-0.8zM88.4 446.8h0.8v0.8h-0.8zM83.2 443.1h0.8v0.8h-0.8zM81.5 434.3h0.8v0.8h-0.8zM85.8 428.4h0.8v0.8h-0.8z" fill="#2b35a0"/>
<path d="M87.7 426.3h0.8v0.8h-0.8zM89.6 426.9h0.8v0.8h-0.8zM93.5 430.1h0.8v0.8h-0.8zM81.5 439.8h0.8v0.8h-0.8zM95.6 439.6h0.8v0.8h-0.8zM86.5 428.0h0.8v0.8h-0.8zM91.0 448.0h0.8v0.8h-0.8zM81.8 437.4h0.8v0.8h-0.8zM81.9 437.1h0.8v0.8h-0.8z" fill="#2b359f"/>
<path d="M84.3 431.3h0.8v0.8h-0.8zM84.7 429.1h0.8v0.8h-0.8zM91.4 447.2h0.8v0.8h-0.8zM95.6 441.4h0.8v0.8h-0.8zM85.3 427.8h0.8v0.8h-0.8zM88.8 427.4h0.8v0.8h-0.8zM83.7 429.0h0.8v0.8h-0.8zM87.5 446.1h0.8v0.8h-0.8zM83.9 428.5h0.8v0.8h-0.8zM84.2 428.9h0.8v0.8h-0.8zM91.0 447.3h0.8v0.8h-0.8zM81.4 434.8h0.8v0.8h-0.8zM82.4 434.4h0.8v0.8h-0.8z" fill="#2a349f"/>
<path d="M91.5 446.8h0.8v0.8h-0.8zM86.7 427.9h0.8v0.8h-0.8zM82.3 435.7h0.8v0.8h-0.8zM90.6 427.5h0.8v0.8h-0.8zM87.9 447.0h0.8v0.8h-0.8zM82.7 443.5h0.8v0.8h-0.8zM90.8 446.8h0.8v0.8h-0.8zM95.0 433.3h0.8v0.8h-0.8zM94.8 434.7h0.8v0.8h-0.8zM86.6 445.8h0.8v0.8h-0.8zM83.3 442.1h0.8v0.8h-0.8zM94.5 444.5h0.8v0.8h-0.8zM81.7 432.6h0.8v0.8h-0.8zM82.8 442.9h0.8v0.8h-0.8zM95.1 443.2h0.8v0.8h-0.8zM83.1 443.0h0.8v0.8h-0.8zM87.4 446.4h0.8v0.8h-0.8z" fill="#2a349e"/>
<path d="M94.8 433.7h0.8v0.8h-0.8zM81.0 434.7h0.8v0.8h-0.8zM93.1 430.4h0.8v0.8h-0.8zM90.8 446.8h0.8v0.8h-0.8zM94.9 435.2h0.8v0.8h-0.8zM94.1 444.9h0.8v0.8h-0.8zM81.3 434.8h0.8v0.8h-0.8zM84.7 428.2h0.8v0.8h-0.8zM91.5 427.8h0.8v0.8h-0.8z" fill="#29339e"/>
<path d="M88.0 447.4h0.8v0.8h-0.8zM87.4 428.0h0.8v0.8h-0.8zM85.4 427.8h0.8v0.8h-0.8zM83.8 430.8h0.8v0.8h-0.8zM84.0 431.4h0.8v0.8h-0.8zM87.1 426.7h0.8v0.8h-0.8zM82.3 434.9h0.8v0.8h-0.8zM86.7 427.9h0.8v0.8h-0.8zM87.8 447.3h0.8v0.8h-0.8zM84.9 428.9h0.8v0.8h-0.8zM94.5 431.5h0.8v0.8h-0.8zM83.1 432.4h0.8v0.8h-0.8zM94.7 433.0h0.8v0.8h-0.8zM86.6 428.0h0.8v0.8h-0.8zM92.5 429.5h0.8v0.8h-0.8zM91.5 447.0h0.8v0.8h-0.8zM90.1 428.1h0.8v0.8h-0.8zM91.0 427.6h0.8v0.8h-0.8zM86.4 445.0h0.8v0.8h-0.8z" fill="#29339d"/>
<path d="M90.5 428.1h0.8v0.8h-0.8zM83.0 441.0h0.8v0.8h-0.8zM85.3 429.1h0.8v0.8h-0.8zM81.8 438.2h0.8v0.8h-0.8z" fill="#28329d"/>
<path d="M93.3 445.2h0.8v0.8h-0.8zM95.1 441.6h0.8v0.8h-0.8zM88.1 446.8h0.8v0.8h-0.8zM94.4 431.9h0.8v0.8h-0.8zM96.4 440.3h0.8v0.8h-0.8zM82.3 437.0h0.8v0.8h-0.8zM93.4 429.8h0.8v0.8h-0.8zM93.1 445.7h0.8v0.8h-0.8zM94.5 442.1h0.8v0.8h-0.8zM92.6 446.3h0.8v0.8h-0.8zM93.3 430.2h0.8v0.8h-0.8zM95.3 437.4h0.8v0.8h-0.8zM95.2 437.4h0.8v0.8h-0.8zM85.1 427.9h0.8v0.8h-0.8zM92.0 446.2h0.8v0.8h-0.8zM91.5 446.6h0.8v0.8h-0.8zM85.2 427.7h0.8v0.8h-0.8zM83.0 438.7h0.8v0.8h-0.8zM82.5 439.7h0.8v0.8h-0.8zM83.4 442.0h0.8v0.8h-0.8zM82.1 437.4h0.8v0.8h-0.8zM82.4 435.0h0.8v0.8h-0.8zM91.4 428.0h0.8v0.8h-0.8zM91.2 428.2h0.8v0.8h-0.8zM81.5 435.1h0.8v0.8h-0.8zM93.2 430.0h0.8v0.8h-0.8z" fill="#28329c"/>
<path d="M83.8 432.4h0.8v0.8h-0.8zM91.9 446.0h0.8v0.8h-0.8zM91.8 428.6h0.8v0.8h-0.8zM95.4 433.8h0.8v0.8h-0.8zM94.6 433.7h0.8v0.8h-0.8zM88.4 428.2h0.8v0.8h-0.8zM95.1 436.7h0.8v0.8h-0.8zM94.7 433.6h0.8v0.8h-0.8zM83.7 443.7h0.8v0.8h-0.8zM87.6 426.7h0.8v0.8h-0.8zM92.8 446.4h0.8v0.8h-0.8zM88.9 428.0h0.8v0.8h-0.8zM93.6 431.7h0.8v0.8h-0.8zM82.0 435.2h0.8v0.8h-0.8zM82.8 437.7h0.8v0.8h-0.8zM83.1 439.8h0.8v0.8h-0.8zM95.1 443.4h0.8v0.8h-0.8zM87.0 426.8h0.8v0.8h-0.8zM91.7 445.7h0.8v0.8h-0.8zM92.6 428.9h0.8v0.8h-0.8zM94.7 435.8h0.8v0.8h-0.8zM93.2 429.8h0.8v0.8h-0.8zM82.7 440.4h0.8v0.8h-0.8zM85.4 430.5h0.8v0.8h-0.8zM89.2 446.9h0.8v0.8h-0.8zM82.1 438.4h0.8v0.8h-0.8zM82.1 437.3h0.8v0.8h-0.8zM86.6 446.2h0.8v0.8h-0.8zM88.3 427.0h0.8v0.8h-0.8zM90.4 427.8h0.8v0.8h-0.8z" fill="#27319b"/>
<path d="M94.0 431.6h0.8v0.8h-0.8zM94.6 435.4h0.8v0.8h-0.8zM91.6 428.8h0.8v0.8h-0.8zM84.1 430.2h0.8v0.8h-0.8zM93.4 444.7h0.8v0.8h-0.8z" fill="#27319a"/>
<path d="M94.7 435.1h0.8v0.8h-0.8zM92.8 444.9h0.8v0.8h-0.8zM94.9 435.5h0.8v0.8h-0.8zM92.7 446.0h0.8v0.8h-0.8zM94.5 442.7h0.8v0.8h-0.8zM85.4 430.1h0.8v0.8h-0.8zM82.7 440.6h0.8v0.8h-0.8zM87.7 428.1h0.8v0.8h-0.8zM93.0 445.4h0.8v0.8h-0.8zM81.7 434.4h0.8v0.8h-0.8zM82.2 438.5h0.8v0.8h-0.8zM81.8 435.9h0.8v0.8h-0.8zM90.8 446.5h0.8v0.8h-0.8zM83.1 433.2h0.8v0.8h-0.8zM84.2 429.8h0.8v0.8h-0.8zM84.1 432.5h0.8v0.8h-0.8zM84.6 444.3h0.8v0.8h-0.8z" fill="#26309a"/>
<path d="M87.9 428.2h0.8v0.8h-0.8zM95.3 437.7h0.8v0.8h-0.8zM87.7 446.4h0.8v0.8h-0.8zM85.3 428.5h0.8v0.8h-0.8zM82.8 439.4h0.8v0.8h-0.8zM94.0 444.3h0.8v0.8h-0.8zM81.6 436.4h0.8v0.8h-0.8zM87.2 444.6h0.8v0.8h-0.8z" fill="#263099"/>
<path d="M87.4 427.7h0.8v0.8h-0.8zM93.7 432.2h0.8v0.8h-0.8zM90.1 428.2h0.8v0.8h-0.8zM85.8 427.5h0.8v0.8h-0.8zM87.4 445.4h0.8v0.8h-0.8zM90.4 446.5h0.8v0.8h-0.8zM86.7 427.7h0.8v0.8h-0.8zM94.4 433.4h0.8v0.8h-0.8zM85.6 427.8h0.8v0.8h-0.8zM94.2 431.6h0.8v0.8h-0.8zM85.5 428.2h0.8v0.8h-0.8zM92.4 445.5h0.8v0.8h-0.8z" fill="#252f99"/>
<path d="M92.7 445.2h0.8v0.8h-0.8zM95.3 436.9h0.8v0.8h-0.8zM84.3 442.9h0.8v0.8h-0.8zM88.1 427.6h0.8v0.8h-0.8zM94.1 432.0h0.8v0.8h-0.8zM85.0 429.1h0.8v0.8h-0.8zM94.3 444.1h0.8v0.8h-0.8zM87.7 446.1h0.8v0.8h-0.8z" fill="#252f98"/>
<path d="M95.5 437.7h0.8v0.8h-0.8zM91.3 447.3h0.8v0.8h-0.8zM91.7 429.4h0.8v0.8h-0.8zM86.9 428.2h0.8v0.8h-0.8zM89.0 445.8h0.8v0.8h-0.8zM94.7 435.7h0.8v0.8h-0.8zM91.1 428.3h0.8v0.8h-0.8z" fill="#242e98"/>
<path d="M85.5 428.8h0.8v0.8h-0.8zM90.5 446.8h0.8v0.8h-0.8zM94.7 435.8h0.8v0.8h-0.8zM94.7 441.7h0.8v0.8h-0.8zM95.3 439.1h0.8v0.8h-0.8zM84.4 443.4h0.8v0.8h-0.8zM83.3 437.2h0.8v0.8h-0.8zM83.2 433.8h0.8v0.8h-0.8zM90.6 428.2h0.8v0.8h-0.8zM85.0 430.3h0.8v0.8h-0.8zM83.2 441.4h0.8v0.8h-0.8zM84.2 431.4h0.8v0.8h-0.8zM86.5 428.4h0.8v0.8h-0.8zM83.0 433.9h0.8v0.8h-0.8zM83.3 441.9h0.8v0.8h-0.8zM83.4 442.3h0.8v0.8h-0.8zM83.2 434.3h0.8v0.8h-0.8z" fill="#242e97"/>
<path d="M91.1 428.5h0.8v0.8h-0.8zM91.0 428.7h0.8v0.8h-0.8zM94.3 444.2h0.8v0.8h-0.8zM95.4 440.1h0.8v0.8h-0.8z" fill="#232d97"/>
<path d="M90.2 447.4h0.8v0.8h-0.8zM85.1 431.0h0.8v0.8h-0.8zM84.5 442.6h0.8v0.8h-0.8zM82.9 440.4h0.8v0.8h-0.8zM84.2 431.9h0.8v0.8h-0.8zM84.8 430.4h0.8v0.8h-0.8zM95.2 435.7h0.8v0.8h-0.8zM83.3 437.2h0.8v0.8h-0.8zM94.8 440.7h0.8v0.8h-0.8zM94.2 442.6h0.8v0.8h-0.8zM93.3 429.9h0.8v0.8h-0.8zM83.3 433.9h0.8v0.8h-0.8zM83.3 433.9h0.8v0.8h-0.8zM89.3 447.3h0.8v0.8h-0.8zM84.3 431.6h0.8v0.8h-0.8zM91.2 428.3h0.8v0.8h-0.8zM93.6 442.8h0.8v0.8h-0.8zM94.0 444.0h0.8v0.8h-0.8zM91.7 445.6h0.8v0.8h-0.8zM82.1 437.3h0.8v0.8h-0.8zM86.6 428.6h0.8v0.8h-0.8zM94.8 441.6h0.8v0.8h-0.8zM84.4 442.9h0.8v0.8h-0.8zM95.2 440.6h0.8v0.8h-0.8zM83.0 440.8h0.8v0.8h-0.8z" fill="#232d96"/>
<path d="M85.0 444.0h0.8v0.8h-0.8zM83.5 437.3h0.8v0.8h-0.8zM88.0 428.0h0.8v0.8h-0.8zM84.7 430.0h0.8v0.8h-0.8zM94.5 437.9h0.8v0.8h-0.8zM93.8 442.6h0.8v0.8h-0.8zM92.5 431.3h0.8v0.8h-0.8zM93.9 433.1h0.8v0.8h-0.8z" fill="#232e96"/>
<path d="M86.8 429.0h0.8v0.8h-0.8zM90.4 428.3h0.8v0.8h-0.8zM84.2 441.7h0.8v0.8h-0.8zM94.6 438.7h0.8v0.8h-0.8zM88.2 445.6h0.8v0.8h-0.8zM89.4 445.8h0.8v0.8h-0.8zM86.6 427.6h0.8v0.8h-0.8zM87.0 445.5h0.8v0.8h-0.8zM85.8 430.2h0.8v0.8h-0.8z" fill="#232f96"/>
<path d="M95.3 440.5h0.8v0.8h-0.8zM90.7 445.8h0.8v0.8h-0.8zM94.9 436.6h0.8v0.8h-0.8zM84.8 443.9h0.8v0.8h-0.8zM89.1 428.0h0.8v0.8h-0.8zM82.1 435.1h0.8v0.8h-0.8zM95.2 435.7h0.8v0.8h-0.8zM93.7 434.1h0.8v0.8h-0.8zM94.3 444.3h0.8v0.8h-0.8z" fill="#233096"/>
<path d="M92.3 428.7h0.8v0.8h-0.8zM84.0 433.2h0.8v0.8h-0.8zM93.8 431.8h0.8v0.8h-0.8zM95.1 437.6h0.8v0.8h-0.8zM93.6 442.9h0.8v0.8h-0.8zM93.5 431.3h0.8v0.8h-0.8zM81.6 435.8h0.8v0.8h-0.8z" fill="#233196"/>
<path d="M93.9 433.9h0.8v0.8h-0.8zM90.9 446.2h0.8v0.8h-0.8zM94.9 437.0h0.8v0.8h-0.8zM85.1 430.9h0.8v0.8h-0.8zM84.9 444.3h0.8v0.8h-0.8zM85.9 444.0h0.8v0.8h-0.8zM82.9 437.2h0.8v0.8h-0.8z" fill="#233297"/>
<path d="M83.7 441.8h0.8v0.8h-0.8zM86.4 430.3h0.8v0.8h-0.8zM87.6 428.7h0.8v0.8h-0.8zM91.7 429.1h0.8v0.8h-0.8zM82.2 435.3h0.8v0.8h-0.8zM86.0 443.9h0.8v0.8h-0.8zM93.4 430.9h0.8v0.8h-0.8zM92.8 431.4h0.8v0.8h-0.8zM83.9 441.8h0.8v0.8h-0.8zM83.0 438.5h0.8v0.8h-0.8zM93.8 432.9h0.8v0.8h-0.8z" fill="#233397"/>
<path d="M90.3 428.6h0.8v0.8h-0.8zM83.3 434.5h0.8v0.8h-0.8zM82.3 434.7h0.8v0.8h-0.8zM92.6 443.6h0.8v0.8h-0.8z" fill="#233497"/>
<path d="M84.3 441.6h0.8v0.8h-0.8zM87.8 446.4h0.8v0.8h-0.8zM94.9 437.0h0.8v0.8h-0.8zM89.3 427.6h0.8v0.8h-0.8zM84.3 439.9h0.8v0.8h-0.8zM83.5 431.5h0.8v0.8h-0.8z" fill="#233597"/>
<path d="M92.0 429.6h0.8v0.8h-0.8zM82.7 437.7h0.8v0.8h-0.8zM82.6 440.3h0.8v0.8h-0.8z" fill="#233697"/>
<path d="M95.1 439.7h0.8v0.8h-0.8zM94.9 441.3h0.8v0.8h-0.8zM95.3 441.1h0.8v0.8h-0.8zM90.8 446.2h0.8v0.8h-0.8zM83.4 437.2h0.8v0.8h-0.8zM83.2 440.2h0.8v0.8h-0.8zM85.5 443.8h0.8v0.8h-0.8zM84.0 443.1h0.8v0.8h-0.8zM94.0 444.2h0.8v0.8h-0.8zM94.0 433.2h0.8v0.8h-0.8z" fill="#233798"/>
<path d="M90.7 445.8h0.8v0.8h-0.8zM84.8 443.1h0.8v0.8h-0.8zM91.8 428.7h0.8v0.8h-0.8zM88.0 428.0h0.8v0.8h-0.8zM82.6 434.9h0.8v0.8h-0.8z" fill="#233898"/>
<path d="M94.9 442.1h0.8v0.8h-0.8zM89.4 445.8h0.8v0.8h-0.8zM89.0 446.2h0.8v0.8h-0.8zM89.3 429.3h0.8v0.8h-0.8zM94.4 444.0h0.8v0.8h-0.8zM85.1 442.8h0.8v0.8h-0.8zM83.5 434.0h0.8v0.8h-0.8zM83.9 440.1h0.8v0.8h-0.8z" fill="#233998"/>
<path d="M92.7 443.6h0.8v0.8h-0.8zM87.5 445.1h0.8v0.8h-0.8zM83.9 442.1h0.8v0.8h-0.8zM88.8 446.1h0.8v0.8h-0.8zM95.3 437.0h0.8v0.8h-0.8zM86.5 429.6h0.8v0.8h-0.8zM86.9 429.1h0.8v0.8h-0.8zM85.4 443.5h0.8v0.8h-0.8zM87.6 427.7h0.8v0.8h-0.8z" fill="#233a98"/>
<path d="M88.2 429.3h0.8v0.8h-0.8zM89.5 428.7h0.8v0.8h-0.8zM90.4 445.9h0.8v0.8h-0.8zM83.6 431.5h0.8v0.8h-0.8zM94.3 432.3h0.8v0.8h-0.8zM91.4 429.4h0.8v0.8h-0.8zM93.3 444.8h0.8v0.8h-0.8z" fill="#233b98"/>
<path d="M89.4 427.8h0.8v0.8h-0.8zM92.8 444.5h0.8v0.8h-0.8zM87.2 445.4h0.8v0.8h-0.8zM85.7 429.9h0.8v0.8h-0.8zM83.7 443.5h0.8v0.8h-0.8z" fill="#243c99"/>
<path d="M89.4 446.1h0.8v0.8h-0.8zM83.2 437.6h0.8v0.8h-0.8zM84.2 441.3h0.8v0.8h-0.8zM92.9 445.4h0.8v0.8h-0.8zM94.4 441.5h0.8v0.8h-0.8zM90.4 445.8h0.8v0.8h-0.8zM93.4 431.5h0.8v0.8h-0.8z" fill="#243d99"/>
<path d="M89.9 428.6h0.8v0.8h-0.8zM87.8 429.4h0.8v0.8h-0.8zM94.5 435.3h0.8v0.8h-0.8zM84.4 442.9h0.8v0.8h-0.8zM82.8 437.4h0.8v0.8h-0.8zM88.8 446.1h0.8v0.8h-0.8z" fill="#243e99"/>
<path d="M85.4 431.6h0.8v0.8h-0.8zM83.5 438.7h0.8v0.8h-0.8zM89.8 429.2h0.8v0.8h-0.8zM88.1 428.8h0.8v0.8h-0.8zM95.0 440.6h0.8v0.8h-0.8zM83.5 441.8h0.8v0.8h-0.8zM94.2 434.7h0.8v0.8h-0.8z" fill="#243f99"/>
<path d="M84.8 443.1h0.8v0.8h-0.8zM87.6 428.7h0.8v0.8h-0.8zM82.7 435.8h0.8v0.8h-0.8zM93.7 433.6h0.8v0.8h-0.8zM85.5 432.1h0.8v0.8h-0.8zM83.3 436.5h0.8v0.8h-0.8zM82.8 434.5h0.8v0.8h-0.8z" fill="#244099"/>
<path d="M94.8 438.4h0.8v0.8h-0.8zM88.6 429.0h0.8v0.8h-0.8zM95.4 440.3h0.8v0.8h-0.8zM90.9 444.8h0.8v0.8h-0.8zM90.2 445.8h0.8v0.8h-0.8zM86.2 443.9h0.8v0.8h-0.8zM89.7 445.8h0.8v0.8h-0.8z" fill="#24419a"/>
<path d="M90.9 429.0h0.8v0.8h-0.8zM90.2 428.9h0.8v0.8h-0.8zM84.1 440.7h0.8v0.8h-0.8zM83.8 438.4h0.8v0.8h-0.8zM83.7 433.2h0.8v0.8h-0.8zM90.7 428.6h0.8v0.8h-0.8z" fill="#24429a"/>
<path d="M87.1 429.2h0.8v0.8h-0.8zM90.2 446.0h0.8v0.8h-0.8zM93.5 435.1h0.8v0.8h-0.8zM88.9 446.4h0.8v0.8h-0.8zM94.3 441.7h0.8v0.8h-0.8zM83.6 433.2h0.8v0.8h-0.8zM93.3 444.4h0.8v0.8h-0.8zM84.0 440.0h0.8v0.8h-0.8z" fill="#24439a"/>
<path d="M94.4 436.4h0.8v0.8h-0.8zM95.0 438.8h0.8v0.8h-0.8zM85.0 431.1h0.8v0.8h-0.8zM82.5 436.3h0.8v0.8h-0.8zM91.3 446.1h0.8v0.8h-0.8zM84.3 440.9h0.8v0.8h-0.8zM88.2 444.9h0.8v0.8h-0.8zM92.1 444.9h0.8v0.8h-0.8zM89.0 445.6h0.8v0.8h-0.8zM93.9 432.5h0.8v0.8h-0.8z" fill="#24449a"/>
<path d="M90.3 446.0h0.8v0.8h-0.8zM92.8 430.8h0.8v0.8h-0.8zM87.3 428.7h0.8v0.8h-0.8zM83.4 434.2h0.8v0.8h-0.8zM83.6 438.2h0.8v0.8h-0.8zM94.5 440.0h0.8v0.8h-0.8zM90.8 444.9h0.8v0.8h-0.8z" fill="#24459a"/>
<path d="M85.4 430.9h0.8v0.8h-0.8zM93.8 433.9h0.8v0.8h-0.8zM94.0 436.3h0.8v0.8h-0.8zM92.9 432.2h0.8v0.8h-0.8zM84.1 441.8h0.8v0.8h-0.8zM86.4 444.0h0.8v0.8h-0.8zM85.6 430.4h0.8v0.8h-0.8z" fill="#24469b"/>
<path d="M92.6 432.0h0.8v0.8h-0.8zM88.8 429.2h0.8v0.8h-0.8zM95.0 440.0h0.8v0.8h-0.8zM92.3 444.4h0.8v0.8h-0.8zM94.6 438.4h0.8v0.8h-0.8zM83.1 435.5h0.8v0.8h-0.8zM83.6 437.7h0.8v0.8h-0.8z" fill="#24479b"/>
<path d="M85.3 431.0h0.8v0.8h-0.8zM95.3 440.5h0.8v0.8h-0.8zM84.2 438.8h0.8v0.8h-0.8zM83.7 439.1h0.8v0.8h-0.8zM93.6 436.1h0.8v0.8h-0.8zM83.7 438.1h0.8v0.8h-0.8z" fill="#24489b"/>
<path d="M93.6 442.2h0.8v0.8h-0.8zM88.9 429.4h0.8v0.8h-0.8zM91.8 430.7h0.8v0.8h-0.8zM94.0 443.2h0.8v0.8h-0.8zM83.9 439.4h0.8v0.8h-0.8zM86.8 445.1h0.8v0.8h-0.8z" fill="#24499b"/>
<path d="M89.7 428.9h0.8v0.8h-0.8zM93.6 435.4h0.8v0.8h-0.8zM83.6 438.6h0.8v0.8h-0.8z" fill="#244a9b"/>
<path d="M89.1 429.0h0.8v0.8h-0.8zM83.1 433.7h0.8v0.8h-0.8zM83.6 434.2h0.8v0.8h-0.8zM94.0 433.0h0.8v0.8h-0.8zM83.5 440.2h0.8v0.8h-0.8zM84.9 431.4h0.8v0.8h-0.8zM93.0 433.4h0.8v0.8h-0.8zM90.6 446.0h0.8v0.8h-0.8zM83.6 432.8h0.8v0.8h-0.8z" fill="#254b9c"/>
<path d="M92.9 444.3h0.8v0.8h-0.8zM84.3 438.4h0.8v0.8h-0.8zM84.2 441.3h0.8v0.8h-0.8zM82.9 434.6h0.8v0.8h-0.8zM91.8 444.4h0.8v0.8h-0.8zM83.7 434.2h0.8v0.8h-0.8zM82.9 435.2h0.8v0.8h-0.8zM89.9 446.1h0.8v0.8h-0.8z" fill="#254c9c"/>
<path d="M88.6 428.6h0.8v0.8h-0.8zM83.8 437.4h0.8v0.8h-0.8zM85.7 443.9h0.8v0.8h-0.8zM87.9 445.2h0.8v0.8h-0.8zM93.5 444.0h0.8v0.8h-0.8zM90.6 446.0h0.8v0.8h-0.8zM92.2 430.5h0.8v0.8h-0.8zM90.9 430.3h0.8v0.8h-0.8z" fill="#254d9c"/>
<path d="M94.3 433.7h0.8v0.8h-0.8zM94.1 434.6h0.8v0.8h-0.8z" fill="#254e9c"/>
<path d="M89.6 429.0h0.8v0.8h-0.8zM90.2 445.7h0.8v0.8h-0.8z" fill="#254f9c"/>
<path d="M82.9 433.5h0.8v0.8h-0.8zM93.3 430.9h0.8v0.8h-0.8zM94.0 435.9h0.8v0.8h-0.8zM94.4 443.0h0.8v0.8h-0.8zM84.2 440.3h0.8v0.8h-0.8zM93.7 441.6h0.8v0.8h-0.8z" fill="#25509d"/>
<path d="M93.5 443.1h0.8v0.8h-0.8zM87.2 428.9h0.8v0.8h-0.8zM93.7 433.8h0.8v0.8h-0.8z" fill="#25519d"/>
<path d="M85.2 431.0h0.8v0.8h-0.8zM92.4 430.4h0.8v0.8h-0.8zM93.6 436.7h0.8v0.8h-0.8zM84.4 440.3h0.8v0.8h-0.8zM89.9 445.8h0.8v0.8h-0.8zM83.5 438.6h0.8v0.8h-0.8zM84.7 431.6h0.8v0.8h-0.8z" fill="#25529d"/>
<path d="M91.6 444.9h0.8v0.8h-0.8zM89.6 445.6h0.8v0.8h-0.8zM90.8 445.2h0.8v0.8h-0.8zM87.4 429.8h0.8v0.8h-0.8zM93.0 430.8h0.8v0.8h-0.8z" fill="#25539d"/>
<path d="M84.3 433.0h0.8v0.8h-0.8zM84.7 442.9h0.8v0.8h-0.8zM93.4 444.1h0.8v0.8h-0.8zM94.2 441.4h0.8v0.8h-0.8zM93.0 431.3h0.8v0.8h-0.8zM85.3 432.2h0.8v0.8h-0.8zM82.6 434.8h0.8v0.8h-0.8zM89.7 445.5h0.8v0.8h-0.8z" fill="#25549d"/>
<path d="M87.2 429.9h0.8v0.8h-0.8zM91.3 445.2h0.8v0.8h-0.8zM88.8 445.3h0.8v0.8h-0.8zM88.5 429.4h0.8v0.8h-0.8zM82.5 436.2h0.8v0.8h-0.8zM92.9 443.9h0.8v0.8h-0.8zM84.0 439.8h0.8v0.8h-0.8zM93.7 442.0h0.8v0.8h-0.8zM87.8 445.0h0.8v0.8h-0.8z" fill="#25559e"/>
<path d="M83.3 435.3h0.8v0.8h-0.8zM90.1 430.2h0.8v0.8h-0.8zM92.2 444.4h0.8v0.8h-0.8zM91.9 430.1h0.8v0.8h-0.8zM93.4 432.9h0.8v0.8h-0.8zM83.5 438.9h0.8v0.8h-0.8zM84.4 435.5h0.8v0.8h-0.8zM92.7 444.2h0.8v0.8h-0.8z" fill="#25569e"/>
<path d="M85.6 430.8h0.8v0.8h-0.8zM91.4 430.4h0.8v0.8h-0.8z" fill="#25579e"/>
<path d="M93.0 433.4h0.8v0.8h-0.8zM85.7 431.0h0.8v0.8h-0.8zM93.5 433.0h0.8v0.8h-0.8zM83.9 437.7h0.8v0.8h-0.8zM83.4 435.7h0.8v0.8h-0.8zM85.5 439.6h0.8v0.8h-0.8zM83.5 435.1h0.8v0.8h-0.8zM87.4 444.4h0.8v0.8h-0.8zM91.5 430.5h0.8v0.8h-0.8zM90.2 428.8h0.8v0.8h-0.8z" fill="#25589e"/>
<path d="M84.1 434.7h0.8v0.8h-0.8zM85.9 429.6h0.8v0.8h-0.8zM92.2 444.2h0.8v0.8h-0.8zM94.2 438.1h0.8v0.8h-0.8zM82.8 434.6h0.8v0.8h-0.8z" fill="#25599e"/>
<path d="M90.8 430.3h0.8v0.8h-0.8zM94.1 434.6h0.8v0.8h-0.8zM88.8 444.7h0.8v0.8h-0.8zM89.6 445.0h0.8v0.8h-0.8zM86.0 429.6h0.8v0.8h-0.8z" fill="#265a9f"/>
<path d="M86.8 444.3h0.8v0.8h-0.8zM94.3 442.5h0.8v0.8h-0.8zM85.7 443.5h0.8v0.8h-0.8zM92.2 430.2h0.8v0.8h-0.8zM84.5 439.3h0.8v0.8h-0.8zM84.2 441.4h0.8v0.8h-0.8zM84.2 435.4h0.8v0.8h-0.8zM93.5 438.0h0.8v0.8h-0.8z" fill="#265b9f"/>
<path d="M86.0 430.6h0.8v0.8h-0.8zM91.6 430.9h0.8v0.8h-0.8zM85.0 443.2h0.8v0.8h-0.8z" fill="#265c9f"/>
<path d="M87.6 444.6h0.8v0.8h-0.8zM89.2 430.2h0.8v0.8h-0.8zM93.8 437.2h0.8v0.8h-0.8zM84.4 441.4h0.8v0.8h-0.8zM88.4 428.5h0.8v0.8h-0.8z" fill="#265d9f"/>
<path d="M90.9 443.6h0.8v0.8h-0.8zM84.3 434.5h0.8v0.8h-0.8z" fill="#265e9f"/>
<path d="M93.1 432.3h0.8v0.8h-0.8zM84.5 442.2h0.8v0.8h-0.8zM89.3 428.6h0.8v0.8h-0.8zM84.0 433.6h0.8v0.8h-0.8zM83.6 440.2h0.8v0.8h-0.8zM84.6 438.6h0.8v0.8h-0.8zM82.9 435.5h0.8v0.8h-0.8zM93.6 441.4h0.8v0.8h-0.8zM83.8 434.8h0.8v0.8h-0.8z" fill="#265fa0"/>
<path d="M87.9 445.0h0.8v0.8h-0.8zM85.1 442.0h0.8v0.8h-0.8zM84.4 433.7h0.8v0.8h-0.8zM94.1 438.5h0.8v0.8h-0.8zM87.5 444.2h0.8v0.8h-0.8zM94.1 436.2h0.8v0.8h-0.8zM93.0 433.7h0.8v0.8h-0.8zM87.4 443.9h0.8v0.8h-0.8zM86.6 444.1h0.8v0.8h-0.8z" fill="#2660a0"/>
<path d="M84.5 439.3h0.8v0.8h-0.8zM91.5 443.7h0.8v0.8h-0.8zM94.4 438.3h0.8v0.8h-0.8zM91.6 431.4h0.8v0.8h-0.8zM88.9 444.5h0.8v0.8h-0.8zM85.1 443.2h0.8v0.8h-0.8z" fill="#2661a0"/>
<path d="M93.1 432.6h0.8v0.8h-0.8zM86.8 430.1h0.8v0.8h-0.8zM89.1 429.7h0.8v0.8h-0.8zM84.7 431.7h0.8v0.8h-0.8zM89.1 430.2h0.8v0.8h-0.8zM85.0 441.4h0.8v0.8h-0.8zM82.5 434.5h0.8v0.8h-0.8zM85.5 442.3h0.8v0.8h-0.8zM94.5 440.1h0.8v0.8h-0.8zM90.2 445.1h0.8v0.8h-0.8z" fill="#2662a0"/>
<path d="M91.6 432.5h0.8v0.8h-0.8zM84.0 441.2h0.8v0.8h-0.8zM84.8 439.1h0.8v0.8h-0.8zM85.3 438.0h0.8v0.8h-0.8zM83.7 434.4h0.8v0.8h-0.8zM90.7 444.9h0.8v0.8h-0.8zM83.9 440.7h0.8v0.8h-0.8z" fill="#2663a0"/>
<path d="M94.3 439.7h0.8v0.8h-0.8z" fill="#2664a1"/>
<path d="M85.2 432.2h0.8v0.8h-0.8zM93.2 433.0h0.8v0.8h-0.8zM94.3 437.6h0.8v0.8h-0.8zM93.4 443.0h0.8v0.8h-0.8zM84.4 437.6h0.8v0.8h-0.8zM91.4 430.3h0.8v0.8h-0.8zM91.2 430.0h0.8v0.8h-0.8zM92.3 431.8h0.8v0.8h-0.8zM86.4 443.4h0.8v0.8h-0.8zM92.9 434.1h0.8v0.8h-0.8z" fill="#2665a1"/>
<path d="M85.1 440.7h0.8v0.8h-0.8zM85.2 432.0h0.8v0.8h-0.8zM93.6 437.8h0.8v0.8h-0.8zM93.8 440.9h0.8v0.8h-0.8zM84.0 433.6h0.8v0.8h-0.8z" fill="#2666a1"/>
<path d="M92.5 432.5h0.8v0.8h-0.8zM85.1 441.6h0.8v0.8h-0.8zM93.4 432.4h0.8v0.8h-0.8zM91.1 430.2h0.8v0.8h-0.8z" fill="#2667a1"/>
<path d="M84.8 434.2h0.8v0.8h-0.8zM91.1 431.1h0.8v0.8h-0.8zM93.2 443.2h0.8v0.8h-0.8zM92.2 430.6h0.8v0.8h-0.8zM85.4 439.5h0.8v0.8h-0.8z" fill="#2668a1"/>
<path d="M94.2 437.5h0.8v0.8h-0.8zM84.0 437.0h0.8v0.8h-0.8zM84.2 437.1h0.8v0.8h-0.8zM93.1 434.1h0.8v0.8h-0.8z" fill="#2769a2"/>
<path d="M93.5 436.5h0.8v0.8h-0.8zM93.2 433.8h0.8v0.8h-0.8zM90.6 430.0h0.8v0.8h-0.8zM88.8 429.7h0.8v0.8h-0.8zM94.4 435.9h0.8v0.8h-0.8zM91.0 444.7h0.8v0.8h-0.8zM85.2 433.4h0.8v0.8h-0.8z" fill="#276aa2"/>
<path d="M92.3 432.5h0.8v0.8h-0.8zM93.3 442.5h0.8v0.8h-0.8zM84.7 437.8h0.8v0.8h-0.8zM94.2 441.5h0.8v0.8h-0.8zM93.2 443.1h0.8v0.8h-0.8zM90.9 430.8h0.8v0.8h-0.8zM94.2 442.2h0.8v0.8h-0.8zM85.4 434.4h0.8v0.8h-0.8z" fill="#276ba2"/>
<path d="M93.0 431.6h0.8v0.8h-0.8zM91.2 443.7h0.8v0.8h-0.8zM90.2 444.1h0.8v0.8h-0.8zM84.8 438.3h0.8v0.8h-0.8zM90.6 430.4h0.8v0.8h-0.8zM85.6 430.7h0.8v0.8h-0.8zM92.7 433.3h0.8v0.8h-0.8zM84.5 440.9h0.8v0.8h-0.8zM85.2 440.1h0.8v0.8h-0.8zM90.6 443.7h0.8v0.8h-0.8zM85.4 437.6h0.8v0.8h-0.8zM85.2 440.6h0.8v0.8h-0.8zM93.7 441.1h0.8v0.8h-0.8z" fill="#276ca2"/>
<path d="M85.4 442.4h0.8v0.8h-0.8zM94.4 436.4h0.8v0.8h-0.8zM93.5 442.2h0.8v0.8h-0.8zM88.5 443.7h0.8v0.8h-0.8z" fill="#276da2"/>
<path d="M91.1 430.5h0.8v0.8h-0.8zM93.9 438.9h0.8v0.8h-0.8zM85.8 443.2h0.8v0.8h-0.8zM86.9 431.3h0.8v0.8h-0.8zM85.0 437.9h0.8v0.8h-0.8zM84.4 434.2h0.8v0.8h-0.8z" fill="#276ea3"/>
<path d="M84.4 436.6h0.8v0.8h-0.8zM93.0 442.6h0.8v0.8h-0.8zM85.2 437.3h0.8v0.8h-0.8zM91.8 431.1h0.8v0.8h-0.8zM87.7 429.8h0.8v0.8h-0.8zM87.9 444.0h0.8v0.8h-0.8zM84.6 434.1h0.8v0.8h-0.8z" fill="#276fa3"/>
<path d="M93.6 441.6h0.8v0.8h-0.8zM89.9 430.2h0.8v0.8h-0.8zM94.2 437.9h0.8v0.8h-0.8z" fill="#2770a3"/>
<path d="M94.1 436.2h0.8v0.8h-0.8zM94.2 439.5h0.8v0.8h-0.8zM84.9 439.6h0.8v0.8h-0.8zM84.6 432.6h0.8v0.8h-0.8z" fill="#2771a3"/>
<path d="M94.1 439.6h0.8v0.8h-0.8zM92.8 436.5h0.8v0.8h-0.8zM86.4 443.2h0.8v0.8h-0.8zM84.6 431.6h0.8v0.8h-0.8zM94.3 438.6h0.8v0.8h-0.8zM92.6 441.8h0.8v0.8h-0.8zM90.7 431.3h0.8v0.8h-0.8zM86.8 430.5h0.8v0.8h-0.8zM84.3 433.9h0.8v0.8h-0.8zM83.6 436.1h0.8v0.8h-0.8zM86.2 442.8h0.8v0.8h-0.8z" fill="#2772a3"/>
<path d="M93.4 442.9h0.8v0.8h-0.8zM90.5 431.1h0.8v0.8h-0.8zM94.4 438.6h0.8v0.8h-0.8zM94.0 441.3h0.8v0.8h-0.8zM92.8 442.1h0.8v0.8h-0.8zM91.7 433.5h0.8v0.8h-0.8zM90.0 444.6h0.8v0.8h-0.8zM93.6 439.3h0.8v0.8h-0.8zM86.3 432.4h0.8v0.8h-0.8z" fill="#2773a4"/>
<path d="M83.6 435.5h0.8v0.8h-0.8zM88.6 444.7h0.8v0.8h-0.8zM93.2 432.9h0.8v0.8h-0.8zM84.9 437.5h0.8v0.8h-0.8zM93.5 432.9h0.8v0.8h-0.8z" fill="#2774a4"/>
<path d="M89.5 444.3h0.8v0.8h-0.8zM85.5 438.9h0.8v0.8h-0.8zM92.2 430.9h0.8v0.8h-0.8zM92.3 444.4h0.8v0.8h-0.8zM85.3 433.5h0.8v0.8h-0.8zM84.1 436.6h0.8v0.8h-0.8zM83.7 436.8h0.8v0.8h-0.8z" fill="#2775a4"/>
<path d="M87.6 443.8h0.8v0.8h-0.8zM94.0 440.7h0.8v0.8h-0.8zM87.3 430.5h0.8v0.8h-0.8zM88.8 430.1h0.8v0.8h-0.8zM85.5 440.1h0.8v0.8h-0.8zM83.7 435.0h0.8v0.8h-0.8zM84.4 437.4h0.8v0.8h-0.8zM92.7 434.0h0.8v0.8h-0.8zM90.1 445.1h0.8v0.8h-0.8z" fill="#2776a4"/>
<path d="M93.0 433.9h0.8v0.8h-0.8zM92.5 436.2h0.8v0.8h-0.8zM87.8 430.4h0.8v0.8h-0.8zM85.9 431.0h0.8v0.8h-0.8zM94.3 440.4h0.8v0.8h-0.8z" fill="#2777a4"/>
<path d="M93.2 435.1h0.8v0.8h-0.8zM84.3 433.7h0.8v0.8h-0.8z" fill="#2878a4"/>
<path d="M84.8 439.7h0.8v0.8h-0.8zM85.8 442.5h0.8v0.8h-0.8zM86.7 444.3h0.8v0.8h-0.8zM90.0 430.6h0.8v0.8h-0.8z" fill="#2979a2"/>
<path d="M89.4 444.7h0.8v0.8h-0.8zM85.9 430.7h0.8v0.8h-0.8z" fill="#297aa2"/>
<path d="M92.0 433.1h0.8v0.8h-0.8zM94.3 441.0h0.8v0.8h-0.8z" fill="#2a7aa1"/>
<path d="M92.8 432.6h0.8v0.8h-0.8zM87.7 429.8h0.8v0.8h-0.8zM90.7 430.7h0.8v0.8h-0.8z" fill="#2a7ba1"/>
<path d="M90.3 445.0h0.8v0.8h-0.8zM92.5 443.1h0.8v0.8h-0.8zM84.4 436.1h0.8v0.8h-0.8z" fill="#2b7ba0"/>
<path d="M89.5 443.7h0.8v0.8h-0.8zM92.8 442.0h0.8v0.8h-0.8zM92.1 432.6h0.8v0.8h-0.8zM93.8 437.9h0.8v0.8h-0.8zM84.9 438.6h0.8v0.8h-0.8zM94.5 439.8h0.8v0.8h-0.8zM94.0 439.8h0.8v0.8h-0.8zM94.3 440.1h0.8v0.8h-0.8zM85.2 435.2h0.8v0.8h-0.8z" fill="#2b7c9f"/>
<path d="M87.3 444.5h0.8v0.8h-0.8z" fill="#2c7c9e"/>
<path d="M86.3 432.0h0.8v0.8h-0.8zM88.8 429.7h0.8v0.8h-0.8zM94.2 438.9h0.8v0.8h-0.8zM92.7 436.3h0.8v0.8h-0.8zM88.1 444.1h0.8v0.8h-0.8z" fill="#2c7d9e"/>
<path d="M84.9 437.4h0.8v0.8h-0.8z" fill="#2c7d9d"/>
<path d="M92.1 431.4h0.8v0.8h-0.8zM93.1 441.6h0.8v0.8h-0.8z" fill="#2d7e9d"/>
<path d="M84.9 438.3h0.8v0.8h-0.8zM91.5 433.6h0.8v0.8h-0.8zM87.5 430.5h0.8v0.8h-0.8zM91.8 442.7h0.8v0.8h-0.8zM84.7 433.7h0.8v0.8h-0.8z" fill="#2d7e9c"/>
<path d="M88.9 444.2h0.8v0.8h-0.8zM90.0 430.9h0.8v0.8h-0.8z" fill="#2d7f9c"/>
<path d="M92.1 431.3h0.8v0.8h-0.8zM87.8 443.6h0.8v0.8h-0.8zM92.3 432.2h0.8v0.8h-0.8zM90.6 431.5h0.8v0.8h-0.8zM91.5 432.8h0.8v0.8h-0.8zM85.1 437.5h0.8v0.8h-0.8zM90.8 431.9h0.8v0.8h-0.8z" fill="#2e7f9b"/>
<path d="M88.7 429.9h0.8v0.8h-0.8zM86.4 432.2h0.8v0.8h-0.8z" fill="#2e809a"/>
<path d="M93.1 434.9h0.8v0.8h-0.8zM90.7 444.0h0.8v0.8h-0.8zM85.1 440.9h0.8v0.8h-0.8z" fill="#2f809a"/>
<path d="M94.3 436.8h0.8v0.8h-0.8zM92.3 443.4h0.8v0.8h-0.8zM86.8 443.6h0.8v0.8h-0.8z" fill="#2f8099"/>
<path d="M84.9 435.2h0.8v0.8h-0.8zM90.3 431.2h0.8v0.8h-0.8z" fill="#2f8199"/>
<path d="M86.8 430.7h0.8v0.8h-0.8zM85.7 432.2h0.8v0.8h-0.8zM83.8 434.8h0.8v0.8h-0.8z" fill="#308198"/>
<path d="M85.3 437.4h0.8v0.8h-0.8zM85.1 441.5h0.8v0.8h-0.8z" fill="#308298"/>
<path d="M86.4 432.8h0.8v0.8h-0.8zM84.7 441.1h0.8v0.8h-0.8z" fill="#308297"/>
<path d="M87.2 431.4h0.8v0.8h-0.8z" fill="#318297"/>
<path d="M83.9 435.4h0.8v0.8h-0.8zM84.0 436.4h0.8v0.8h-0.8z" fill="#318397"/>
<path d="M85.8 430.5h0.8v0.8h-0.8zM92.7 436.5h0.8v0.8h-0.8zM92.7 441.4h0.8v0.8h-0.8zM91.1 444.4h0.8v0.8h-0.8zM93.5 434.6h0.8v0.8h-0.8zM86.3 439.7h0.8v0.8h-0.8zM86.0 432.3h0.8v0.8h-0.8zM85.4 435.7h0.8v0.8h-0.8zM85.0 441.8h0.8v0.8h-0.8z" fill="#318396"/>
<path d="M85.2 434.6h0.8v0.8h-0.8zM93.4 442.1h0.8v0.8h-0.8zM90.5 443.4h0.8v0.8h-0.8z" fill="#328495"/>
<path d="M91.6 433.2h0.8v0.8h-0.8z" fill="#328594"/>
<path d="M84.6 439.6h0.8v0.8h-0.8zM84.9 432.8h0.8v0.8h-0.8z" fill="#338594"/>
<path d="M85.5 442.8h0.8v0.8h-0.8zM85.6 441.9h0.8v0.8h-0.8z" fill="#338593"/>
<path d="M89.6 429.5h0.8v0.8h-0.8zM85.2 433.0h0.8v0.8h-0.8zM89.0 444.4h0.8v0.8h-0.8z" fill="#338693"/>
<path d="M94.5 440.2h0.8v0.8h-0.8zM89.5 431.3h0.8v0.8h-0.8zM83.5 435.3h0.8v0.8h-0.8z" fill="#348692"/>
<path d="M90.5 431.5h0.8v0.8h-0.8z" fill="#348792"/>
<path d="M90.8 444.0h0.8v0.8h-0.8zM89.4 430.6h0.8v0.8h-0.8zM88.1 443.8h0.8v0.8h-0.8zM90.7 431.1h0.8v0.8h-0.8zM92.8 441.0h0.8v0.8h-0.8z" fill="#348791"/>
<path d="M86.4 432.9h0.8v0.8h-0.8zM88.1 430.0h0.8v0.8h-0.8zM84.0 435.4h0.8v0.8h-0.8z" fill="#358791"/>
<path d="M87.7 430.5h0.8v0.8h-0.8zM88.8 431.3h0.8v0.8h-0.8zM84.7 440.8h0.8v0.8h-0.8zM85.3 432.8h0.8v0.8h-0.8z" fill="#358890"/>
<path d="M85.0 435.6h0.8v0.8h-0.8z" fill="#36888f"/>
<path d="M90.4 443.8h0.8v0.8h-0.8zM85.8 441.5h0.8v0.8h-0.8zM89.8 443.5h0.8v0.8h-0.8zM85.9 433.2h0.8v0.8h-0.8zM87.7 444.1h0.8v0.8h-0.8zM85.7 431.7h0.8v0.8h-0.8z" fill="#36898f"/>
<path d="M92.1 432.9h0.8v0.8h-0.8zM84.8 437.6h0.8v0.8h-0.8zM92.9 434.2h0.8v0.8h-0.8z" fill="#36898e"/>
<path d="M92.9 440.8h0.8v0.8h-0.8z" fill="#378a8e"/>
<path d="M93.5 441.4h0.8v0.8h-0.8zM85.2 436.7h0.8v0.8h-0.8zM91.5 441.8h0.8v0.8h-0.8zM85.0 436.8h0.8v0.8h-0.8zM84.7 440.7h0.8v0.8h-0.8z" fill="#378a8d"/>
<path d="M89.7 443.5h0.8v0.8h-0.8zM92.0 431.9h0.8v0.8h-0.8zM94.0 437.9h0.8v0.8h-0.8z" fill="#388b8c"/>
<path d="M94.1 437.9h0.8v0.8h-0.8zM85.7 432.9h0.8v0.8h-0.8zM88.1 444.0h0.8v0.8h-0.8zM84.3 435.3h0.8v0.8h-0.8z" fill="#388c8b"/>
<path d="M86.2 432.2h0.8v0.8h-0.8zM84.8 437.7h0.8v0.8h-0.8zM87.7 443.7h0.8v0.8h-0.8z" fill="#398c8b"/>
<path d="M91.4 443.3h0.8v0.8h-0.8zM90.0 430.9h0.8v0.8h-0.8zM89.1 430.7h0.8v0.8h-0.8zM85.7 438.5h0.8v0.8h-0.8zM93.4 436.5h0.8v0.8h-0.8z" fill="#398d8a"/>
<path d="M88.2 429.6h0.8v0.8h-0.8zM93.6 439.8h0.8v0.8h-0.8zM89.1 429.6h0.8v0.8h-0.8z" fill="#3a8d89"/>
<path d="M93.9 438.7h0.8v0.8h-0.8zM91.2 444.0h0.8v0.8h-0.8z" fill="#3a8e89"/>
<path d="M93.2 440.0h0.8v0.8h-0.8z" fill="#3a8e88"/>
<path d="M91.7 432.6h0.8v0.8h-0.8z" fill="#3b8e88"/>
<path d="M86.1 431.6h0.8v0.8h-0.8z" fill="#3b8f88"/>
<path d="M90.4 444.1h0.8v0.8h-0.8zM84.8 440.5h0.8v0.8h-0.8zM88.2 430.2h0.8v0.8h-0.8zM94.0 437.9h0.8v0.8h-0.8zM94.2 438.3h0.8v0.8h-0.8zM90.0 443.3h0.8v0.8h-0.8zM93.4 436.4h0.8v0.8h-0.8z" fill="#3b8f87"/>
<path d="M92.6 434.7h0.8v0.8h-0.8zM89.4 430.0h0.8v0.8h-0.8zM91.6 431.8h0.8v0.8h-0.8zM92.1 434.9h0.8v0.8h-0.8z" fill="#3c9086"/>
<path d="M87.4 443.0h0.8v0.8h-0.8z" fill="#3c9085"/>
<path d="M93.3 437.3h0.8v0.8h-0.8zM93.1 439.7h0.8v0.8h-0.8z" fill="#3d9185"/>
<path d="M93.4 441.2h0.8v0.8h-0.8zM84.5 438.0h0.8v0.8h-0.8zM90.8 431.1h0.8v0.8h-0.8zM91.7 433.6h0.8v0.8h-0.8z" fill="#3d9184"/>
<path d="M90.8 443.8h0.8v0.8h-0.8z" fill="#3d9284"/>
<path d="M93.1 436.5h0.8v0.8h-0.8zM93.1 437.1h0.8v0.8h-0.8zM94.3 438.9h0.8v0.8h-0.8zM92.7 434.8h0.8v0.8h-0.8zM93.0 438.5h0.8v0.8h-0.8zM89.4 430.1h0.8v0.8h-0.8z" fill="#3e9283"/>
<path d="M90.0 442.5h0.8v0.8h-0.8zM90.7 443.7h0.8v0.8h-0.8z" fill="#3e9382"/>
<path d="M91.4 432.8h0.8v0.8h-0.8zM86.1 432.6h0.8v0.8h-0.8z" fill="#3f9382"/>
<path d="M88.3 443.6h0.8v0.8h-0.8zM88.0 431.2h0.8v0.8h-0.8zM85.3 433.6h0.8v0.8h-0.8zM92.7 437.7h0.8v0.8h-0.8zM92.9 437.5h0.8v0.8h-0.8zM87.2 431.3h0.8v0.8h-0.8zM85.6 432.0h0.8v0.8h-0.8zM92.3 434.1h0.8v0.8h-0.8zM91.4 443.6h0.8v0.8h-0.8z" fill="#3f9481"/>
<path d="M88.5 442.9h0.8v0.8h-0.8zM85.5 442.8h0.8v0.8h-0.8zM90.3 431.2h0.8v0.8h-0.8z" fill="#409480"/>
<path d="M89.6 443.0h0.8v0.8h-0.8zM85.4 434.7h0.8v0.8h-0.8zM90.1 444.4h0.8v0.8h-0.8z" fill="#409580"/>
<path d="M85.6 433.1h0.8v0.8h-0.8zM91.2 433.1h0.8v0.8h-0.8zM93.4 438.8h0.8v0.8h-0.8z" fill="#40957f"/>
<path d="M85.2 437.3h0.8v0.8h-0.8zM86.6 443.3h0.8v0.8h-0.8z" fill="#41967f"/>
<path d="M85.7 441.1h0.8v0.8h-0.8zM91.5 430.6h0.8v0.8h-0.8z" fill="#41967e"/>
<path d="M87.0 443.4h0.8v0.8h-0.8zM85.0 435.9h0.8v0.8h-0.8z" fill="#41977e"/>
<path d="M87.3 431.5h0.8v0.8h-0.8zM92.8 438.6h0.8v0.8h-0.8zM91.6 441.6h0.8v0.8h-0.8zM87.3 431.4h0.8v0.8h-0.8zM93.0 439.1h0.8v0.8h-0.8z" fill="#42977d"/>
<path d="M86.8 443.5h0.8v0.8h-0.8zM91.5 432.1h0.8v0.8h-0.8zM89.2 430.7h0.8v0.8h-0.8z" fill="#42987c"/>
<path d="M92.7 440.9h0.8v0.8h-0.8zM91.4 431.2h0.8v0.8h-0.8z" fill="#43997b"/>
<path d="M92.1 433.2h0.8v0.8h-0.8zM93.2 440.3h0.8v0.8h-0.8z" fill="#44997a"/>
<path d="M85.1 435.4h0.8v0.8h-0.8zM91.9 433.8h0.8v0.8h-0.8z" fill="#449a7a"/>
<path d="M86.5 432.4h0.8v0.8h-0.8zM86.2 438.9h0.8v0.8h-0.8zM87.3 443.2h0.8v0.8h-0.8z" fill="#449a79"/>
<path d="M93.4 440.0h0.8v0.8h-0.8z" fill="#459a79"/>
<path d="M92.2 443.5h0.8v0.8h-0.8z" fill="#459b79"/>
<path d="M87.8 431.2h0.8v0.8h-0.8zM86.4 438.0h0.8v0.8h-0.8z" fill="#459b78"/>
<path d="M89.9 430.7h0.8v0.8h-0.8zM85.0 435.8h0.8v0.8h-0.8zM92.6 435.7h0.8v0.8h-0.8zM92.3 443.0h0.8v0.8h-0.8zM92.7 437.6h0.8v0.8h-0.8zM89.2 431.0h0.8v0.8h-0.8zM92.2 434.5h0.8v0.8h-0.8zM85.9 442.1h0.8v0.8h-0.8zM91.3 432.9h0.8v0.8h-0.8z" fill="#469c77"/>
<path d="M93.3 435.9h0.8v0.8h-0.8zM90.9 443.2h0.8v0.8h-0.8z" fill="#469d76"/>
<path d="M86.5 433.3h0.8v0.8h-0.8zM88.9 444.0h0.8v0.8h-0.8zM93.4 440.0h0.8v0.8h-0.8z" fill="#479d76"/>
<path d="M86.5 441.8h0.8v0.8h-0.8zM92.5 433.7h0.8v0.8h-0.8z" fill="#479d75"/>
<path d="M87.5 431.5h0.8v0.8h-0.8zM88.0 442.6h0.8v0.8h-0.8zM92.1 433.9h0.8v0.8h-0.8zM87.2 442.0h0.8v0.8h-0.8zM85.9 437.0h0.8v0.8h-0.8z" fill="#479e75"/>
<path d="M88.0 431.2h0.8v0.8h-0.8zM86.0 439.4h0.8v0.8h-0.8z" fill="#489e74"/>
<path d="M92.5 435.3h0.8v0.8h-0.8zM86.0 438.0h0.8v0.8h-0.8z" fill="#499f73"/>
<path d="M91.8 436.3h0.8v0.8h-0.8zM85.1 436.4h0.8v0.8h-0.8zM86.9 431.1h0.8v0.8h-0.8zM86.4 436.7h0.8v0.8h-0.8zM89.0 444.0h0.8v0.8h-0.8z" fill="#49a072"/>
<path d="M85.9 442.1h0.8v0.8h-0.8zM89.9 431.3h0.8v0.8h-0.8z" fill="#4aa071"/>
<path d="M90.4 432.3h0.8v0.8h-0.8zM91.2 442.9h0.8v0.8h-0.8zM88.1 443.0h0.8v0.8h-0.8zM87.0 441.7h0.8v0.8h-0.8z" fill="#4aa171"/>
<path d="M86.2 440.6h0.8v0.8h-0.8z" fill="#4aa170"/>
<path d="M85.2 436.8h0.8v0.8h-0.8z" fill="#4ba270"/>
<path d="M85.8 442.2h0.8v0.8h-0.8zM86.0 437.4h0.8v0.8h-0.8zM88.3 442.7h0.8v0.8h-0.8zM92.7 441.2h0.8v0.8h-0.8z" fill="#4ba26f"/>
<path d="M90.0 444.2h0.8v0.8h-0.8z" fill="#4ba36f"/>
<path d="M92.9 437.8h0.8v0.8h-0.8zM88.1 443.1h0.8v0.8h-0.8zM87.0 431.9h0.8v0.8h-0.8z" fill="#4ca36e"/>
<path d="M90.8 442.7h0.8v0.8h-0.8zM90.2 430.6h0.8v0.8h-0.8zM90.7 434.3h0.8v0.8h-0.8zM91.6 436.5h0.8v0.8h-0.8z" fill="#4ca46d"/>
<path d="M90.7 431.8h0.8v0.8h-0.8zM89.4 444.3h0.8v0.8h-0.8z" fill="#4da46d"/>
<path d="M93.2 440.0h0.8v0.8h-0.8zM88.3 431.4h0.8v0.8h-0.8zM89.8 442.9h0.8v0.8h-0.8zM86.2 432.7h0.8v0.8h-0.8zM86.3 436.6h0.8v0.8h-0.8z" fill="#4da56c"/>
<path d="M85.9 432.8h0.8v0.8h-0.8zM93.2 437.5h0.8v0.8h-0.8zM91.9 435.8h0.8v0.8h-0.8z" fill="#4ea56b"/>
<path d="M88.7 443.4h0.8v0.8h-0.8zM92.9 435.5h0.8v0.8h-0.8zM89.7 444.4h0.8v0.8h-0.8z" fill="#4ea66b"/>
<path d="M89.6 442.7h0.8v0.8h-0.8zM90.3 430.5h0.8v0.8h-0.8zM90.2 432.4h0.8v0.8h-0.8zM91.4 431.6h0.8v0.8h-0.8zM92.6 439.0h0.8v0.8h-0.8zM86.5 439.7h0.8v0.8h-0.8zM87.2 441.5h0.8v0.8h-0.8z" fill="#4ea66a"/>
<path d="M91.5 443.1h0.8v0.8h-0.8z" fill="#4fa66a"/>
<path d="M87.9 430.7h0.8v0.8h-0.8zM92.4 434.8h0.8v0.8h-0.8zM85.9 435.0h0.8v0.8h-0.8z" fill="#4fa769"/>
<path d="M92.8 439.0h0.8v0.8h-0.8zM88.6 443.5h0.8v0.8h-0.8z" fill="#50a868"/>
<path d="M89.0 444.0h0.8v0.8h-0.8z" fill="#50a867"/>
<path d="M88.5 443.6h0.8v0.8h-0.8zM85.9 441.9h0.8v0.8h-0.8zM92.1 436.2h0.8v0.8h-0.8zM85.8 439.9h0.8v0.8h-0.8z" fill="#51a967"/>
<path d="M86.0 440.6h0.8v0.8h-0.8z" fill="#51a966"/>
<path d="M91.3 432.8h0.8v0.8h-0.8zM92.2 440.6h0.8v0.8h-0.8zM86.4 437.5h0.8v0.8h-0.8z" fill="#51aa66"/>
<path d="M86.8 441.6h0.8v0.8h-0.8z" fill="#52aa65"/>
<path d="M92.4 442.1h0.8v0.8h-0.8z" fill="#52ab65"/>
<path d="M91.8 433.5h0.8v0.8h-0.8z" fill="#52ab64"/>
<path d="M92.3 433.3h0.8v0.8h-0.8zM86.8 441.4h0.8v0.8h-0.8z" fill="#53ab64"/>
<path d="M87.2 441.1h0.8v0.8h-0.8zM90.5 442.2h0.8v0.8h-0.8zM85.2 435.9h0.8v0.8h-0.8zM92.0 433.5h0.8v0.8h-0.8zM92.6 435.6h0.8v0.8h-0.8zM86.6 441.0h0.8v0.8h-0.8zM86.3 437.0h0.8v0.8h-0.8zM92.8 436.2h0.8v0.8h-0.8z" fill="#53ac63"/>
<path d="M91.5 442.8h0.8v0.8h-0.8zM90.2 433.0h0.8v0.8h-0.8zM85.4 434.6h0.8v0.8h-0.8zM86.2 440.9h0.8v0.8h-0.8zM92.0 441.4h0.8v0.8h-0.8z" fill="#54ad62"/>
<path d="M86.7 442.1h0.8v0.8h-0.8z" fill="#54ad61"/>
<path d="M87.5 441.2h0.8v0.8h-0.8z" fill="#55ae61"/>
<path d="M90.4 443.4h0.8v0.8h-0.8zM85.8 433.5h0.8v0.8h-0.8zM92.4 435.0h0.8v0.8h-0.8z" fill="#55ae60"/>
<path d="M85.6 440.8h0.8v0.8h-0.8zM87.7 443.1h0.8v0.8h-0.8z" fill="#55af60"/>
<path d="M92.8 440.9h0.8v0.8h-0.8zM90.8 442.8h0.8v0.8h-0.8zM87.5 439.0h0.8v0.8h-0.8zM85.8 438.8h0.8v0.8h-0.8zM92.6 436.5h0.8v0.8h-0.8zM92.6 439.7h0.8v0.8h-0.8z" fill="#56af5f"/>
<path d="M91.7 435.6h0.8v0.8h-0.8zM87.4 439.1h0.8v0.8h-0.8z" fill="#56b05e"/>
<path d="M84.9 435.0h0.8v0.8h-0.8zM86.3 440.1h0.8v0.8h-0.8zM85.8 435.0h0.8v0.8h-0.8zM86.4 441.4h0.8v0.8h-0.8z" fill="#57b05e"/>
<path d="M89.6 443.0h0.8v0.8h-0.8z" fill="#57b15d"/>
<path d="M88.1 442.3h0.8v0.8h-0.8zM92.2 437.9h0.8v0.8h-0.8zM87.2 443.3h0.8v0.8h-0.8z" fill="#58b15c"/>
<path d="M86.2 442.0h0.8v0.8h-0.8zM87.1 443.4h0.8v0.8h-0.8zM87.4 432.5h0.8v0.8h-0.8zM93.1 441.5h0.8v0.8h-0.8zM87.1 440.3h0.8v0.8h-0.8z" fill="#58b25c"/>
<path d="M91.8 433.9h0.8v0.8h-0.8zM90.8 442.5h0.8v0.8h-0.8z" fill="#58b25b"/>
<path d="M86.0 434.8h0.8v0.8h-0.8z" fill="#59b25b"/>
<path d="M93.0 438.6h0.8v0.8h-0.8zM86.6 433.0h0.8v0.8h-0.8zM92.4 440.1h0.8v0.8h-0.8zM85.4 436.2h0.8v0.8h-0.8zM86.3 432.9h0.8v0.8h-0.8zM87.5 442.6h0.8v0.8h-0.8z" fill="#59b35a"/>
<path d="M90.8 433.8h0.8v0.8h-0.8zM87.9 443.4h0.8v0.8h-0.8zM88.6 442.8h0.8v0.8h-0.8z" fill="#5ab459"/>
<path d="M92.9 441.4h0.8v0.8h-0.8zM89.3 431.8h0.8v0.8h-0.8zM89.7 431.9h0.8v0.8h-0.8zM86.0 434.9h0.8v0.8h-0.8zM91.2 442.8h0.8v0.8h-0.8zM93.3 440.4h0.8v0.8h-0.8zM90.6 434.8h0.8v0.8h-0.8zM91.5 431.6h0.8v0.8h-0.8z" fill="#5bb459"/>
<path d="M86.2 435.0h0.8v0.8h-0.8zM86.3 439.5h0.8v0.8h-0.8zM89.0 441.6h0.8v0.8h-0.8zM88.5 431.9h0.8v0.8h-0.8zM91.2 432.5h0.8v0.8h-0.8z" fill="#5cb459"/>
<path d="M91.0 432.2h0.8v0.8h-0.8zM86.5 436.5h0.8v0.8h-0.8z" fill="#5cb458"/>
<path d="M89.3 442.3h0.8v0.8h-0.8zM89.6 433.3h0.8v0.8h-0.8zM89.7 431.0h0.8v0.8h-0.8zM87.6 431.4h0.8v0.8h-0.8zM87.6 431.2h0.8v0.8h-0.8zM86.2 441.7h0.8v0.8h-0.8zM92.6 438.3h0.8v0.8h-0.8zM86.0 439.2h0.8v0.8h-0.8z" fill="#5db458"/>
<path d="M85.4 435.8h0.8v0.8h-0.8zM92.5 435.4h0.8v0.8h-0.8zM85.3 434.8h0.8v0.8h-0.8zM87.4 438.6h0.8v0.8h-0.8zM85.0 435.8h0.8v0.8h-0.8zM92.8 439.3h0.8v0.8h-0.8z" fill="#5eb558"/>
<path d="M88.8 442.9h0.8v0.8h-0.8zM85.8 441.5h0.8v0.8h-0.8zM91.3 443.4h0.8v0.8h-0.8zM92.0 442.5h0.8v0.8h-0.8z" fill="#5fb558"/>
<path d="M86.3 437.0h0.8v0.8h-0.8zM87.3 441.9h0.8v0.8h-0.8z" fill="#5fb557"/>
<path d="M86.9 431.8h0.8v0.8h-0.8zM93.0 437.4h0.8v0.8h-0.8zM92.0 440.2h0.8v0.8h-0.8zM85.9 438.6h0.8v0.8h-0.8zM87.4 443.4h0.8v0.8h-0.8zM88.3 430.9h0.8v0.8h-0.8zM85.8 441.6h0.8v0.8h-0.8zM85.8 432.9h0.8v0.8h-0.8z" fill="#60b557"/>
<path d="M91.1 434.4h0.8v0.8h-0.8zM92.4 434.4h0.8v0.8h-0.8zM92.9 441.2h0.8v0.8h-0.8zM92.7 438.8h0.8v0.8h-0.8zM90.9 433.0h0.8v0.8h-0.8zM85.8 436.1h0.8v0.8h-0.8zM85.7 439.6h0.8v0.8h-0.8z" fill="#61b557"/>
<path d="M85.5 436.0h0.8v0.8h-0.8zM86.4 441.9h0.8v0.8h-0.8zM91.4 433.4h0.8v0.8h-0.8zM91.6 440.1h0.8v0.8h-0.8zM90.3 431.7h0.8v0.8h-0.8zM86.9 442.6h0.8v0.8h-0.8zM91.6 442.4h0.8v0.8h-0.8z" fill="#62b656"/>
<path d="M86.8 443.3h0.8v0.8h-0.8zM91.3 441.8h0.8v0.8h-0.8zM88.1 443.3h0.8v0.8h-0.8zM89.0 430.6h0.8v0.8h-0.8zM93.5 437.0h0.8v0.8h-0.8zM93.4 439.3h0.8v0.8h-0.8zM92.4 440.6h0.8v0.8h-0.8zM91.8 438.4h0.8v0.8h-0.8zM93.2 438.0h0.8v0.8h-0.8z" fill="#63b656"/>
<path d="M90.1 441.9h0.8v0.8h-0.8zM91.6 440.5h0.8v0.8h-0.8zM86.3 440.4h0.8v0.8h-0.8zM92.8 437.0h0.8v0.8h-0.8zM90.8 442.3h0.8v0.8h-0.8z" fill="#64b656"/>
<path d="M93.2 437.4h0.8v0.8h-0.8z" fill="#64b655"/>
<path d="M86.7 433.6h0.8v0.8h-0.8zM92.0 435.0h0.8v0.8h-0.8zM89.0 442.1h0.8v0.8h-0.8zM92.3 441.0h0.8v0.8h-0.8zM91.9 438.7h0.8v0.8h-0.8zM92.0 437.1h0.8v0.8h-0.8z" fill="#65b655"/>
<path d="M91.0 442.6h0.8v0.8h-0.8zM91.0 440.8h0.8v0.8h-0.8zM92.2 436.0h0.8v0.8h-0.8z" fill="#66b755"/>
<path d="M92.6 439.8h0.8v0.8h-0.8zM87.0 439.6h0.8v0.8h-0.8z" fill="#67b755"/>
<path d="M92.0 439.4h0.8v0.8h-0.8zM90.1 442.0h0.8v0.8h-0.8z" fill="#67b754"/>
<path d="M88.7 431.0h0.8v0.8h-0.8zM91.2 435.1h0.8v0.8h-0.8zM91.7 434.8h0.8v0.8h-0.8zM91.0 431.7h0.8v0.8h-0.8zM88.4 443.0h0.8v0.8h-0.8z" fill="#68b754"/>
<path d="M93.1 437.1h0.8v0.8h-0.8zM86.7 438.2h0.8v0.8h-0.8zM89.3 431.9h0.8v0.8h-0.8zM89.8 442.3h0.8v0.8h-0.8z" fill="#69b754"/>
<path d="M92.3 442.0h0.8v0.8h-0.8zM91.1 434.1h0.8v0.8h-0.8zM92.3 438.0h0.8v0.8h-0.8z" fill="#6ab853"/>
<path d="M86.8 440.7h0.8v0.8h-0.8zM90.3 441.6h0.8v0.8h-0.8zM91.4 441.1h0.8v0.8h-0.8zM86.8 440.8h0.8v0.8h-0.8zM90.3 433.2h0.8v0.8h-0.8zM86.6 432.1h0.8v0.8h-0.8zM88.2 443.2h0.8v0.8h-0.8z" fill="#6bb853"/>
<path d="M90.1 432.7h0.8v0.8h-0.8z" fill="#6cb853"/>
<path d="M86.5 438.0h0.8v0.8h-0.8z" fill="#6cb852"/>
<path d="M88.9 431.7h0.8v0.8h-0.8zM88.2 430.8h0.8v0.8h-0.8zM87.7 431.0h0.8v0.8h-0.8zM87.2 441.7h0.8v0.8h-0.8z" fill="#6db852"/>
<path d="M89.6 434.0h0.8v0.8h-0.8zM86.7 442.0h0.8v0.8h-0.8zM87.5 441.0h0.8v0.8h-0.8z" fill="#6eb952"/>
<path d="M85.9 432.8h0.8v0.8h-0.8zM89.1 441.6h0.8v0.8h-0.8zM91.2 442.3h0.8v0.8h-0.8zM90.0 433.9h0.8v0.8h-0.8zM87.5 430.6h0.8v0.8h-0.8z" fill="#6fb952"/>
<path d="M91.4 442.1h0.8v0.8h-0.8zM90.5 442.5h0.8v0.8h-0.8zM90.6 441.4h0.8v0.8h-0.8zM90.6 432.7h0.8v0.8h-0.8z" fill="#6fb951"/>
<path d="M86.4 436.4h0.8v0.8h-0.8zM90.8 433.7h0.8v0.8h-0.8zM86.4 434.9h0.8v0.8h-0.8zM92.0 436.5h0.8v0.8h-0.8zM92.0 437.0h0.8v0.8h-0.8zM91.9 438.9h0.8v0.8h-0.8zM86.5 433.6h0.8v0.8h-0.8z" fill="#70b951"/>
<path d="M87.3 432.7h0.8v0.8h-0.8zM87.7 442.7h0.8v0.8h-0.8zM87.6 433.4h0.8v0.8h-0.8zM90.9 440.8h0.8v0.8h-0.8zM91.9 437.7h0.8v0.8h-0.8zM91.8 435.5h0.8v0.8h-0.8zM88.7 442.8h0.8v0.8h-0.8zM91.2 436.5h0.8v0.8h-0.8zM86.9 433.2h0.8v0.8h-0.8z" fill="#71b951"/>
<path d="M90.4 440.7h0.8v0.8h-0.8zM87.5 442.4h0.8v0.8h-0.8zM85.7 435.6h0.8v0.8h-0.8zM87.9 432.3h0.8v0.8h-0.8zM89.7 433.9h0.8v0.8h-0.8zM87.2 440.8h0.8v0.8h-0.8z" fill="#72ba50"/>
<path d="M93.0 439.6h0.8v0.8h-0.8zM87.8 441.4h0.8v0.8h-0.8zM89.1 441.8h0.8v0.8h-0.8zM86.2 436.7h0.8v0.8h-0.8z" fill="#73ba50"/>
<path d="M92.7 438.2h0.8v0.8h-0.8zM91.1 433.1h0.8v0.8h-0.8zM88.4 432.2h0.8v0.8h-0.8zM86.7 441.0h0.8v0.8h-0.8z" fill="#74ba50"/>
<path d="M88.0 440.9h0.8v0.8h-0.8z" fill="#74ba4f"/>
<path d="M92.3 441.2h0.8v0.8h-0.8zM87.0 439.6h0.8v0.8h-0.8zM88.9 442.9h0.8v0.8h-0.8zM86.7 441.7h0.8v0.8h-0.8z" fill="#75ba4f"/>
<path d="M90.6 436.1h0.8v0.8h-0.8zM89.0 443.2h0.8v0.8h-0.8zM91.5 440.8h0.8v0.8h-0.8zM86.0 434.0h0.8v0.8h-0.8zM92.8 439.1h0.8v0.8h-0.8zM86.4 434.4h0.8v0.8h-0.8zM87.2 439.7h0.8v0.8h-0.8zM87.4 432.8h0.8v0.8h-0.8z" fill="#76bb4f"/>
<path d="M88.8 440.9h0.8v0.8h-0.8zM89.1 432.2h0.8v0.8h-0.8zM91.8 441.8h0.8v0.8h-0.8zM87.7 432.4h0.8v0.8h-0.8z" fill="#77bb4f"/>
<path d="M92.4 440.3h0.8v0.8h-0.8zM91.2 442.0h0.8v0.8h-0.8zM90.7 442.2h0.8v0.8h-0.8zM90.9 434.0h0.8v0.8h-0.8zM92.1 441.0h0.8v0.8h-0.8z" fill="#78bb4e"/>
<path d="M86.6 432.2h0.8v0.8h-0.8zM92.4 439.4h0.8v0.8h-0.8zM86.9 431.5h0.8v0.8h-0.8zM90.1 440.7h0.8v0.8h-0.8zM89.0 442.8h0.8v0.8h-0.8z" fill="#79bb4e"/>
<path d="M91.7 438.1h0.8v0.8h-0.8zM88.2 442.6h0.8v0.8h-0.8zM86.8 440.7h0.8v0.8h-0.8zM90.0 433.9h0.8v0.8h-0.8zM88.1 432.2h0.8v0.8h-0.8zM92.3 441.1h0.8v0.8h-0.8zM88.0 441.0h0.8v0.8h-0.8z" fill="#7abc4d"/>
<path d="M88.5 432.2h0.8v0.8h-0.8zM90.6 439.8h0.8v0.8h-0.8zM92.1 436.8h0.8v0.8h-0.8zM92.2 436.5h0.8v0.8h-0.8zM90.4 433.1h0.8v0.8h-0.8zM87.2 440.3h0.8v0.8h-0.8z" fill="#7bbc4d"/>
<path d="M85.9 434.0h0.8v0.8h-0.8z" fill="#7cbc4d"/>
<path d="M91.7 436.0h0.8v0.8h-0.8zM87.8 431.6h0.8v0.8h-0.8zM89.2 442.4h0.8v0.8h-0.8zM89.5 433.7h0.8v0.8h-0.8zM86.6 438.6h0.8v0.8h-0.8z" fill="#7dbc4c"/>
<path d="M89.9 434.0h0.8v0.8h-0.8zM91.2 436.3h0.8v0.8h-0.8zM87.6 433.0h0.8v0.8h-0.8z" fill="#7ebd4c"/>
<path d="M87.0 437.5h0.8v0.8h-0.8z" fill="#7fbd4c"/>
<path d="M91.8 440.0h0.8v0.8h-0.8z" fill="#7fbd4b"/>
<path d="M87.7 442.3h0.8v0.8h-0.8zM89.2 432.7h0.8v0.8h-0.8zM85.7 437.2h0.8v0.8h-0.8zM90.8 434.6h0.8v0.8h-0.8zM90.7 441.7h0.8v0.8h-0.8z" fill="#80bd4b"/>
<path d="M86.5 433.0h0.8v0.8h-0.8zM90.8 433.8h0.8v0.8h-0.8zM91.4 438.1h0.8v0.8h-0.8zM90.6 436.5h0.8v0.8h-0.8zM89.3 432.0h0.8v0.8h-0.8zM88.3 432.9h0.8v0.8h-0.8zM86.1 435.8h0.8v0.8h-0.8zM90.6 435.2h0.8v0.8h-0.8zM90.5 443.2h0.8v0.8h-0.8z" fill="#81bd4b"/>
<path d="M86.8 434.5h0.8v0.8h-0.8zM90.5 434.9h0.8v0.8h-0.8z" fill="#82be4a"/>
<path d="M87.2 439.9h0.8v0.8h-0.8zM85.6 434.6h0.8v0.8h-0.8zM92.2 438.2h0.8v0.8h-0.8zM91.7 435.8h0.8v0.8h-0.8zM86.7 441.8h0.8v0.8h-0.8z" fill="#83be4a"/>
<path d="M86.8 438.8h0.8v0.8h-0.8zM91.0 440.9h0.8v0.8h-0.8zM88.4 439.8h0.8v0.8h-0.8zM86.0 436.9h0.8v0.8h-0.8zM89.3 441.9h0.8v0.8h-0.8zM86.3 436.0h0.8v0.8h-0.8zM87.6 442.1h0.8v0.8h-0.8z" fill="#84be4a"/>
<path d="M90.6 442.0h0.8v0.8h-0.8zM91.4 442.0h0.8v0.8h-0.8zM87.5 436.8h0.8v0.8h-0.8z" fill="#84be49"/>
<path d="M92.4 440.4h0.8v0.8h-0.8zM88.2 434.3h0.8v0.8h-0.8z" fill="#85be49"/>
<path d="M92.3 435.9h0.8v0.8h-0.8zM89.4 443.5h0.8v0.8h-0.8zM89.7 433.5h0.8v0.8h-0.8zM86.5 441.2h0.8v0.8h-0.8zM92.3 439.7h0.8v0.8h-0.8z" fill="#86bf49"/>
<path d="M87.6 441.4h0.8v0.8h-0.8zM89.4 442.0h0.8v0.8h-0.8z" fill="#87bf49"/>
<path d="M89.8 433.6h0.8v0.8h-0.8zM88.9 432.8h0.8v0.8h-0.8zM87.7 440.7h0.8v0.8h-0.8z" fill="#87bf48"/>
<path d="M91.3 437.2h0.8v0.8h-0.8zM90.4 433.9h0.8v0.8h-0.8zM89.6 432.9h0.8v0.8h-0.8zM92.4 438.2h0.8v0.8h-0.8zM89.1 433.1h0.8v0.8h-0.8z" fill="#88bf48"/>
<path d="M91.6 439.1h0.8v0.8h-0.8zM87.5 433.2h0.8v0.8h-0.8z" fill="#89bf48"/>
<path d="M86.9 437.2h0.8v0.8h-0.8zM88.5 432.5h0.8v0.8h-0.8zM91.0 441.6h0.8v0.8h-0.8zM89.3 433.9h0.8v0.8h-0.8zM87.1 433.9h0.8v0.8h-0.8zM89.1 432.0h0.8v0.8h-0.8zM87.5 441.9h0.8v0.8h-0.8zM91.2 442.2h0.8v0.8h-0.8z" fill="#8ac047"/>
<path d="M87.5 438.9h0.8v0.8h-0.8zM88.1 432.4h0.8v0.8h-0.8zM86.8 438.9h0.8v0.8h-0.8zM89.1 432.3h0.8v0.8h-0.8zM86.6 437.8h0.8v0.8h-0.8z" fill="#8bc047"/>
<path d="M86.4 435.9h0.8v0.8h-0.8zM87.9 439.5h0.8v0.8h-0.8zM91.1 433.7h0.8v0.8h-0.8zM87.8 433.1h0.8v0.8h-0.8zM86.0 435.8h0.8v0.8h-0.8zM89.4 441.1h0.8v0.8h-0.8zM87.9 439.3h0.8v0.8h-0.8zM89.0 440.8h0.8v0.8h-0.8z" fill="#8cc047"/>
<path d="M90.2 434.8h0.8v0.8h-0.8zM88.2 433.6h0.8v0.8h-0.8z" fill="#8cc046"/>
<path d="M90.9 433.6h0.8v0.8h-0.8z" fill="#8dc046"/>
<path d="M87.8 438.6h0.8v0.8h-0.8zM89.5 432.8h0.8v0.8h-0.8z" fill="#8ec146"/>
<path d="M91.5 442.4h0.8v0.8h-0.8zM87.6 433.5h0.8v0.8h-0.8z" fill="#8fc145"/>
<path d="M87.2 433.0h0.8v0.8h-0.8zM91.2 439.5h0.8v0.8h-0.8zM89.4 440.0h0.8v0.8h-0.8zM90.8 439.1h0.8v0.8h-0.8zM90.0 433.9h0.8v0.8h-0.8zM90.0 441.2h0.8v0.8h-0.8zM91.3 441.6h0.8v0.8h-0.8zM90.4 435.1h0.8v0.8h-0.8z" fill="#90c145"/>
<path d="M87.7 438.9h0.8v0.8h-0.8zM86.9 433.3h0.8v0.8h-0.8zM88.4 433.5h0.8v0.8h-0.8zM86.6 436.6h0.8v0.8h-0.8zM86.7 439.1h0.8v0.8h-0.8z" fill="#91c145"/>
<path d="M87.9 440.4h0.8v0.8h-0.8zM88.3 432.7h0.8v0.8h-0.8zM91.9 439.8h0.8v0.8h-0.8zM87.7 432.3h0.8v0.8h-0.8zM91.9 435.6h0.8v0.8h-0.8zM89.5 435.4h0.8v0.8h-0.8zM91.7 436.2h0.8v0.8h-0.8zM86.8 440.6h0.8v0.8h-0.8zM90.7 437.6h0.8v0.8h-0.8zM89.8 442.4h0.8v0.8h-0.8z" fill="#92c244"/>
<path d="M91.0 439.1h0.8v0.8h-0.8zM87.1 433.0h0.8v0.8h-0.8zM87.0 439.1h0.8v0.8h-0.8zM87.9 440.3h0.8v0.8h-0.8zM89.1 441.7h0.8v0.8h-0.8zM92.4 437.8h0.8v0.8h-0.8zM91.5 434.6h0.8v0.8h-0.8z" fill="#93c244"/>
<path d="M88.5 438.8h0.8v0.8h-0.8zM89.2 432.0h0.8v0.8h-0.8zM91.1 439.2h0.8v0.8h-0.8zM90.9 439.8h0.8v0.8h-0.8z" fill="#94c244"/>
<path d="M87.1 441.7h0.8v0.8h-0.8zM86.8 441.6h0.8v0.8h-0.8zM88.7 441.3h0.8v0.8h-0.8zM89.2 433.5h0.8v0.8h-0.8z" fill="#94c243"/>
<path d="M92.3 439.5h0.8v0.8h-0.8zM90.4 433.0h0.8v0.8h-0.8zM86.0 437.1h0.8v0.8h-0.8zM87.2 436.4h0.8v0.8h-0.8zM85.8 435.8h0.8v0.8h-0.8zM90.2 440.1h0.8v0.8h-0.8zM91.4 441.3h0.8v0.8h-0.8z" fill="#95c243"/>
<path d="M89.2 432.7h0.8v0.8h-0.8zM88.1 432.0h0.8v0.8h-0.8zM89.6 434.0h0.8v0.8h-0.8zM91.9 438.2h0.8v0.8h-0.8z" fill="#96c343"/>
<path d="M92.4 439.1h0.8v0.8h-0.8zM91.5 439.7h0.8v0.8h-0.8z" fill="#97c343"/>
<path d="M89.4 439.7h0.8v0.8h-0.8z" fill="#97c342"/>
<path d="M87.4 440.7h0.8v0.8h-0.8zM91.2 441.0h0.8v0.8h-0.8zM91.1 441.9h0.8v0.8h-0.8zM86.6 435.5h0.8v0.8h-0.8zM86.9 439.8h0.8v0.8h-0.8zM85.6 435.0h0.8v0.8h-0.8z" fill="#98c342"/>
<path d="M87.4 439.2h0.8v0.8h-0.8zM87.7 441.3h0.8v0.8h-0.8zM88.0 432.9h0.8v0.8h-0.8zM85.5 434.7h0.8v0.8h-0.8zM87.6 432.9h0.8v0.8h-0.8z" fill="#99c342"/>
<path d="M91.7 438.7h0.8v0.8h-0.8zM91.1 441.6h0.8v0.8h-0.8zM90.3 442.1h0.8v0.8h-0.8z" fill="#9ac441"/>
<path d="M87.1 440.4h0.8v0.8h-0.8zM90.5 440.4h0.8v0.8h-0.8zM87.7 432.0h0.8v0.8h-0.8zM89.5 432.0h0.8v0.8h-0.8z" fill="#9bc441"/>
<path d="M86.5 436.0h0.8v0.8h-0.8zM89.0 431.8h0.8v0.8h-0.8zM90.1 440.5h0.8v0.8h-0.8zM92.3 439.1h0.8v0.8h-0.8zM91.5 435.7h0.8v0.8h-0.8zM86.9 435.3h0.8v0.8h-0.8zM88.6 439.9h0.8v0.8h-0.8zM88.5 432.0h0.8v0.8h-0.8z" fill="#9cc441"/>
<path d="M87.2 433.1h0.8v0.8h-0.8zM88.3 440.6h0.8v0.8h-0.8z" fill="#9cc440"/>
<path d="M92.2 440.5h0.8v0.8h-0.8zM87.2 438.5h0.8v0.8h-0.8zM87.5 433.4h0.8v0.8h-0.8z" fill="#9dc440"/>
<path d="M87.0 435.4h0.8v0.8h-0.8zM88.3 432.8h0.8v0.8h-0.8zM92.1 439.9h0.8v0.8h-0.8zM91.1 437.0h0.8v0.8h-0.8zM87.0 436.5h0.8v0.8h-0.8z" fill="#9ec540"/>
<path d="M92.3 437.6h0.8v0.8h-0.8zM86.8 433.5h0.8v0.8h-0.8zM86.6 441.2h0.8v0.8h-0.8z" fill="#9fc540"/>
<path d="M90.6 439.8h0.8v0.8h-0.8zM89.9 441.7h0.8v0.8h-0.8zM88.5 439.2h0.8v0.8h-0.8z" fill="#9fc53f"/>
<path d="M88.8 441.4h0.8v0.8h-0.8zM92.0 436.7h0.8v0.8h-0.8zM92.0 436.8h0.8v0.8h-0.8zM88.5 432.5h0.8v0.8h-0.8zM90.5 434.6h0.8v0.8h-0.8zM86.8 437.5h0.8v0.8h-0.8zM87.0 435.2h0.8v0.8h-0.8z" fill="#a0c53f"/>
<path d="M85.9 436.3h0.8v0.8h-0.8z" fill="#a1c53f"/>
<path d="M86.8 434.4h0.8v0.8h-0.8zM90.9 437.7h0.8v0.8h-0.8zM86.7 441.3h0.8v0.8h-0.8zM88.6 441.9h0.8v0.8h-0.8z" fill="#a2c63e"/>
<path d="M88.4 440.3h0.8v0.8h-0.8zM87.8 435.2h0.8v0.8h-0.8zM87.7 433.8h0.8v0.8h-0.8zM91.3 438.1h0.8v0.8h-0.8zM89.4 432.0h0.8v0.8h-0.8zM92.5 438.1h0.8v0.8h-0.8zM86.1 436.4h0.8v0.8h-0.8z" fill="#a3c63e"/>
<path d="M87.2 434.1h0.8v0.8h-0.8zM91.8 437.7h0.8v0.8h-0.8zM91.7 439.6h0.8v0.8h-0.8zM88.6 439.9h0.8v0.8h-0.8zM88.2 433.1h0.8v0.8h-0.8zM87.8 439.8h0.8v0.8h-0.8z" fill="#a5c63d"/>
<path d="M88.7 439.0h0.8v0.8h-0.8zM90.5 437.7h0.8v0.8h-0.8zM90.4 435.8h0.8v0.8h-0.8zM86.5 432.5h0.8v0.8h-0.8zM91.0 439.6h0.8v0.8h-0.8zM88.9 441.2h0.8v0.8h-0.8z" fill="#a6c73d"/>
<path d="M87.8 439.5h0.8v0.8h-0.8zM91.4 435.6h0.8v0.8h-0.8zM88.1 441.5h0.8v0.8h-0.8z" fill="#a7c73d"/>
<path d="M87.9 434.7h0.8v0.8h-0.8z" fill="#a7c73c"/>
<path d="M87.3 432.5h0.8v0.8h-0.8zM86.7 441.4h0.8v0.8h-0.8zM88.6 431.6h0.8v0.8h-0.8zM88.6 442.0h0.8v0.8h-0.8zM89.5 434.6h0.8v0.8h-0.8zM87.2 432.8h0.8v0.8h-0.8zM91.4 440.9h0.8v0.8h-0.8zM91.3 436.1h0.8v0.8h-0.8z" fill="#a8c73c"/>
<path d="M87.4 438.2h0.8v0.8h-0.8zM90.6 436.5h0.8v0.8h-0.8zM89.2 431.6h0.8v0.8h-0.8zM90.4 435.2h0.8v0.8h-0.8zM89.5 439.1h0.8v0.8h-0.8zM88.5 438.7h0.8v0.8h-0.8zM85.9 436.0h0.8v0.8h-0.8zM91.8 439.6h0.8v0.8h-0.8z" fill="#a9c73c"/>
<path d="M89.4 433.6h0.8v0.8h-0.8zM87.2 438.8h0.8v0.8h-0.8zM87.6 432.5h0.8v0.8h-0.8zM90.0 434.4h0.8v0.8h-0.8zM90.1 433.0h0.8v0.8h-0.8zM90.7 436.2h0.8v0.8h-0.8zM90.1 438.7h0.8v0.8h-0.8zM90.3 432.7h0.8v0.8h-0.8z" fill="#aac83b"/>
<path d="M88.8 433.8h0.8v0.8h-0.8zM90.1 435.3h0.8v0.8h-0.8zM86.7 436.3h0.8v0.8h-0.8zM90.8 437.4h0.8v0.8h-0.8z" fill="#abc83b"/>
<path d="M86.7 436.5h0.8v0.8h-0.8zM89.7 434.3h0.8v0.8h-0.8zM88.2 440.7h0.8v0.8h-0.8zM87.5 433.2h0.8v0.8h-0.8zM89.5 442.0h0.8v0.8h-0.8zM90.9 439.7h0.8v0.8h-0.8z" fill="#acc83b"/>
<path d="M89.4 433.3h0.8v0.8h-0.8zM90.9 436.7h0.8v0.8h-0.8zM87.9 438.5h0.8v0.8h-0.8z" fill="#adc83b"/>
<path d="M91.9 440.2h0.8v0.8h-0.8zM86.5 435.9h0.8v0.8h-0.8zM86.5 435.0h0.8v0.8h-0.8zM88.4 434.8h0.8v0.8h-0.8z" fill="#aec83b"/>
<path d="M87.7 438.6h0.8v0.8h-0.8z" fill="#afc83b"/>
<path d="M87.4 436.6h0.8v0.8h-0.8zM89.3 440.5h0.8v0.8h-0.8z" fill="#afc93a"/>
<path d="M91.4 440.7h0.8v0.8h-0.8zM89.9 436.7h0.8v0.8h-0.8zM87.7 441.5h0.8v0.8h-0.8zM87.2 435.4h0.8v0.8h-0.8zM88.8 433.1h0.8v0.8h-0.8zM90.3 436.5h0.8v0.8h-0.8z" fill="#b0c93a"/>
<path d="M89.3 434.9h0.8v0.8h-0.8zM91.6 437.9h0.8v0.8h-0.8zM88.0 440.0h0.8v0.8h-0.8zM89.5 436.0h0.8v0.8h-0.8z" fill="#b1c93a"/>
<path d="M88.4 439.0h0.8v0.8h-0.8zM87.8 438.2h0.8v0.8h-0.8zM88.3 433.5h0.8v0.8h-0.8zM86.5 436.6h0.8v0.8h-0.8zM89.1 439.6h0.8v0.8h-0.8zM87.4 433.7h0.8v0.8h-0.8zM91.4 441.2h0.8v0.8h-0.8zM91.1 441.0h0.8v0.8h-0.8z" fill="#b2c93a"/>
<path d="M91.4 440.5h0.8v0.8h-0.8zM88.8 439.4h0.8v0.8h-0.8zM88.0 439.2h0.8v0.8h-0.8z" fill="#b3c93a"/>
<path d="M90.2 436.6h0.8v0.8h-0.8zM87.7 433.9h0.8v0.8h-0.8zM89.8 435.4h0.8v0.8h-0.8z" fill="#b4c93a"/>
<path d="M89.8 441.4h0.8v0.8h-0.8zM89.8 437.6h0.8v0.8h-0.8z" fill="#b6ca39"/>
<path d="M89.6 439.4h0.8v0.8h-0.8zM88.8 439.5h0.8v0.8h-0.8zM90.7 436.4h0.8v0.8h-0.8zM88.2 440.0h0.8v0.8h-0.8z" fill="#b7ca39"/>
<path d="M89.3 433.4h0.8v0.8h-0.8zM89.7 439.1h0.8v0.8h-0.8zM89.0 441.1h0.8v0.8h-0.8zM90.6 435.7h0.8v0.8h-0.8zM91.3 439.3h0.8v0.8h-0.8z" fill="#b8ca39"/>
<path d="M88.7 434.0h0.8v0.8h-0.8zM89.0 433.2h0.8v0.8h-0.8zM87.6 433.7h0.8v0.8h-0.8zM90.0 435.6h0.8v0.8h-0.8zM89.4 439.4h0.8v0.8h-0.8z" fill="#b9ca39"/>
<path d="M90.3 437.5h0.8v0.8h-0.8zM87.7 436.6h0.8v0.8h-0.8zM90.9 437.1h0.8v0.8h-0.8z" fill="#baca39"/>
<path d="M87.7 434.2h0.8v0.8h-0.8zM88.0 434.3h0.8v0.8h-0.8zM87.0 436.5h0.8v0.8h-0.8zM87.6 440.3h0.8v0.8h-0.8z" fill="#bacb38"/>
<path d="M88.0 437.9h0.8v0.8h-0.8zM90.2 436.4h0.8v0.8h-0.8zM90.3 436.4h0.8v0.8h-0.8z" fill="#bbcb38"/>
<path d="M87.8 441.0h0.8v0.8h-0.8zM88.9 439.9h0.8v0.8h-0.8zM88.0 435.6h0.8v0.8h-0.8zM90.4 436.9h0.8v0.8h-0.8zM87.1 435.3h0.8v0.8h-0.8z" fill="#bccb38"/>
<path d="M86.6 436.8h0.8v0.8h-0.8zM89.8 438.7h0.8v0.8h-0.8zM90.1 434.4h0.8v0.8h-0.8zM89.0 440.2h0.8v0.8h-0.8zM88.9 437.7h0.8v0.8h-0.8zM89.1 432.9h0.8v0.8h-0.8zM90.2 436.8h0.8v0.8h-0.8zM87.5 437.4h0.8v0.8h-0.8z" fill="#bdcb38"/>
<path d="M90.8 438.8h0.8v0.8h-0.8zM87.9 434.7h0.8v0.8h-0.8zM89.6 435.1h0.8v0.8h-0.8zM88.7 439.4h0.8v0.8h-0.8zM88.0 432.7h0.8v0.8h-0.8zM90.7 438.2h0.8v0.8h-0.8z" fill="#becb38"/>
<path d="M86.5 436.0h0.8v0.8h-0.8zM89.7 439.7h0.8v0.8h-0.8zM88.8 434.7h0.8v0.8h-0.8zM90.9 440.1h0.8v0.8h-0.8zM89.4 437.9h0.8v0.8h-0.8z" fill="#bfcb38"/>
<path d="M88.0 440.0h0.8v0.8h-0.8zM86.9 436.6h0.8v0.8h-0.8z" fill="#c0cc37"/>
<path d="M88.9 433.0h0.8v0.8h-0.8zM88.7 440.0h0.8v0.8h-0.8z" fill="#c2cc37"/>
<path d="M87.8 436.2h0.8v0.8h-0.8zM88.3 439.2h0.8v0.8h-0.8zM89.3 440.6h0.8v0.8h-0.8zM90.8 438.2h0.8v0.8h-0.8z" fill="#c3cc37"/>
<path d="M87.9 435.2h0.8v0.8h-0.8zM89.7 438.7h0.8v0.8h-0.8zM89.0 439.9h0.8v0.8h-0.8zM90.7 439.4h0.8v0.8h-0.8zM89.3 433.5h0.8v0.8h-0.8zM87.7 437.1h0.8v0.8h-0.8z" fill="#c4cc37"/>
<path d="M89.5 436.2h0.8v0.8h-0.8z" fill="#c5cc37"/>
<path d="M89.5 441.2h0.8v0.8h-0.8zM88.1 436.4h0.8v0.8h-0.8zM87.8 434.5h0.8v0.8h-0.8zM90.3 440.8h0.8v0.8h-0.8z" fill="#c5cd36"/>
<path d="M89.9 437.8h0.8v0.8h-0.8zM90.1 440.8h0.8v0.8h-0.8zM90.6 435.9h0.8v0.8h-0.8zM88.9 436.2h0.8v0.8h-0.8zM87.9 436.3h0.8v0.8h-0.8zM90.3 436.5h0.8v0.8h-0.8zM90.7 439.6h0.8v0.8h-0.8zM87.1 436.9h0.8v0.8h-0.8z" fill="#c6cd36"/>
<path d="M91.3 439.0h0.8v0.8h-0.8zM88.0 435.7h0.8v0.8h-0.8zM87.8 436.1h0.8v0.8h-0.8zM86.8 437.1h0.8v0.8h-0.8z" fill="#c7cd36"/>
<path d="M87.0 436.3h0.8v0.8h-0.8zM87.0 436.4h0.8v0.8h-0.8zM89.1 438.4h0.8v0.8h-0.8zM91.3 437.0h0.8v0.8h-0.8zM88.2 435.5h0.8v0.8h-0.8z" fill="#c8cd36"/>
<path d="M88.3 439.2h0.8v0.8h-0.8zM89.5 439.4h0.8v0.8h-0.8zM88.2 436.3h0.8v0.8h-0.8z" fill="#c9cd36"/>
<path d="M91.4 438.1h0.8v0.8h-0.8zM87.9 433.5h0.8v0.8h-0.8zM87.8 435.7h0.8v0.8h-0.8zM89.6 440.8h0.8v0.8h-0.8zM91.2 437.4h0.8v0.8h-0.8zM89.7 439.1h0.8v0.8h-0.8zM89.8 435.0h0.8v0.8h-0.8z" fill="#cacd36"/>
<path d="M90.5 436.5h0.8v0.8h-0.8z" fill="#cbce35"/>
<path d="M89.2 439.3h0.8v0.8h-0.8zM87.7 436.5h0.8v0.8h-0.8zM87.1 434.9h0.8v0.8h-0.8zM88.6 437.6h0.8v0.8h-0.8zM88.5 439.6h0.8v0.8h-0.8z" fill="#ccce35"/>
<path d="M89.5 436.2h0.8v0.8h-0.8zM89.8 441.4h0.8v0.8h-0.8zM87.8 434.0h0.8v0.8h-0.8zM87.8 439.9h0.8v0.8h-0.8zM90.6 439.3h0.8v0.8h-0.8z" fill="#cdce35"/>
<path d="M89.2 435.0h0.8v0.8h-0.8zM87.9 434.7h0.8v0.8h-0.8zM91.2 440.2h0.8v0.8h-0.8z" fill="#cece35"/>
<path d="M90.3 438.9h0.8v0.8h-0.8zM87.8 436.5h0.8v0.8h-0.8zM87.7 436.4h0.8v0.8h-0.8zM87.8 434.5h0.8v0.8h-0.8zM90.0 440.1h0.8v0.8h-0.8zM89.7 437.0h0.8v0.8h-0.8z" fill="#cfce35"/>
<path d="M86.7 435.2h0.8v0.8h-0.8z" fill="#d0ce35"/>
<path d="M88.5 437.5h0.8v0.8h-0.8z" fill="#d0cf34"/>
<path d="M90.1 437.0h0.8v0.8h-0.8z" fill="#d1cf34"/>
<path d="M87.8 436.1h0.8v0.8h-0.8zM91.4 437.8h0.8v0.8h-0.8z" fill="#d2cf34"/>
<path d="M90.7 438.3h0.8v0.8h-0.8zM90.2 436.7h0.8v0.8h-0.8z" fill="#d3cf34"/>
<path d="M91.0 437.3h0.8v0.8h-0.8z" fill="#d4cf34"/>
<path d="M87.9 434.7h0.8v0.8h-0.8z" fill="#d5cf34"/>
<path d="M88.2 436.7h0.8v0.8h-0.8zM89.3 437.1h0.8v0.8h-0.8zM87.2 434.9h0.8v0.8h-0.8z" fill="#d6d033"/>
<path d="M89.9 435.9h0.8v0.8h-0.8zM89.3 435.3h0.8v0.8h-0.8zM88.6 438.6h0.8v0.8h-0.8z" fill="#d7d033"/>
<path d="M88.0 434.5h0.8v0.8h-0.8zM88.0 436.9h0.8v0.8h-0.8z" fill="#d8d033"/>
<path d="M90.4 437.7h0.8v0.8h-0.8zM86.8 435.8h0.8v0.8h-0.8zM89.6 439.6h0.8v0.8h-0.8z" fill="#d9d033"/>
<path d="M89.3 434.6h0.8v0.8h-0.8zM89.5 437.8h0.8v0.8h-0.8zM88.7 437.2h0.8v0.8h-0.8z" fill="#dad033"/>
<path d="M87.1 436.4h0.8v0.8h-0.8z" fill="#dbd033"/>
<path d="M89.1 434.8h0.8v0.8h-0.8z" fill="#dbd132"/>
<path d="M88.9 438.0h0.8v0.8h-0.8zM86.6 437.1h0.8v0.8h-0.8zM89.0 438.8h0.8v0.8h-0.8z" fill="#dcd132"/>
<path d="M87.6 433.5h0.8v0.8h-0.8zM88.5 438.5h0.8v0.8h-0.8z" fill="#ddd132"/>
<path d="M88.8 440.1h0.8v0.8h-0.8zM90.9 437.0h0.8v0.8h-0.8z" fill="#ded132"/>
<path d="M89.1 438.0h0.8v0.8h-0.8zM90.3 437.2h0.8v0.8h-0.8zM90.7 436.5h0.8v0.8h-0.8zM88.4 439.0h0.8v0.8h-0.8z" fill="#dfd132"/>
<path d="M89.9 435.1h0.8v0.8h-0.8z" fill="#e0d132"/>
<path d="M90.1 440.0h0.8v0.8h-0.8zM88.7 439.8h0.8v0.8h-0.8z" fill="#e1d131"/>
<path d="M88.0 436.7h0.8v0.8h-0.8zM90.3 436.1h0.8v0.8h-0.8zM90.2 440.0h0.8v0.8h-0.8z" fill="#e1cf31"/>
<path d="M89.5 435.2h0.8v0.8h-0.8zM88.5 436.4h0.8v0.8h-0.8z" fill="#e1ce31"/>
<path d="M89.1 439.9h0.8v0.8h-0.8zM87.6 434.5h0.8v0.8h-0.8z" fill="#e1cd31"/>
<path d="M87.9 438.2h0.8v0.8h-0.8z" fill="#e1cc31"/>
<path d="M89.4 435.7h0.8v0.8h-0.8zM89.3 435.1h0.8v0.8h-0.8z" fill="#e1cb31"/>
<path d="M88.9 440.4h0.8v0.8h-0.8zM88.7 435.8h0.8v0.8h-0.8zM88.0 436.9h0.8v0.8h-0.8z" fill="#e1ca30"/>
<path d="M87.8 437.6h0.8v0.8h-0.8z" fill="#e1c930"/>
<path d="M87.8 435.8h0.8v0.8h-0.8zM89.6 437.0h0.8v0.8h-0.8z" fill="#e1c830"/>
<path d="M89.0 435.4h0.8v0.8h-0.8z" fill="#e2c730"/>
<path d="M88.4 435.6h0.8v0.8h-0.8zM88.9 436.9h0.8v0.8h-0.8z" fill="#e2c630"/>
<path d="M87.9 434.8h0.8v0.8h-0.8z" fill="#e2c530"/>
<path d="M88.7 440.3h0.8v0.8h-0.8zM88.9 438.1h0.8v0.8h-0.8z" fill="#e2c430"/>
<path d="M89.4 437.4h0.8v0.8h-0.8z" fill="#e2c12f"/>
<path d="M89.6 438.3h0.8v0.8h-0.8z" fill="#e2c02f"/>
<path d="M88.6 438.4h0.8v0.8h-0.8z" fill="#e2bf2f"/>
<path d="M88.9 437.0h0.8v0.8h-0.8zM88.4 439.1h0.8v0.8h-0.8z" fill="#e2be2f"/>
<path d="M89.2 438.2h0.8v0.8h-0.8z" fill="#e3bd2f"/>
<path d="M89.4 439.8h0.8v0.8h-0.8zM87.9 438.7h0.8v0.8h-0.8z" fill="#e3bc2e"/>
<path d="M88.2 437.5h0.8v0.8h-0.8z" fill="#e3bb2e"/>
<path d="M88.6 436.6h0.8v0.8h-0.8z" fill="#e3ba2e"/>
<path d="M90.5 437.3h0.8v0.8h-0.8z" fill="#e3b92e"/>
<path d="M88.6 435.6h0.8v0.8h-0.8z" fill="#e3b82e"/>
<path d="M89.8 438.4h0.8v0.8h-0.8zM87.8 436.4h0.8v0.8h-0.8zM89.5 435.5h0.8v0.8h-0.8z" fill="#e3b72e"/>
<path d="M88.0 437.5h0.8v0.8h-0.8zM87.7 434.7h0.8v0.8h-0.8z" fill="#e3b62e"/>
<path d="M90.1 438.5h0.8v0.8h-0.8z" fill="#e4b12d"/>
<path d="M90.0 435.7h0.8v0.8h-0.8zM90.2 436.4h0.8v0.8h-0.8z" fill="#e4b02d"/>
<path d="M88.7 437.6h0.8v0.8h-0.8zM89.1 439.5h0.8v0.8h-0.8z" fill="#e4ad2c"/>
<path d="M89.3 435.5h0.8v0.8h-0.8z" fill="#e4ac2c"/>
<path d="M89.1 439.2h0.8v0.8h-0.8zM90.3 439.5h0.8v0.8h-0.8z" fill="#e5a82c"/>
<path d="M89.3 438.4h0.8v0.8h-0.8z" fill="#e5a62b"/>
<path d="M87.9 435.9h0.8v0.8h-0.8z" fill="#e5a52b"/>
<path d="M88.9 437.2h0.8v0.8h-0.8zM89.7 437.8h0.8v0.8h-0.8zM87.5 436.8h0.8v0.8h-0.8z" fill="#e5a12b"/>
<path d="M88.9 439.1h0.8v0.8h-0.8z" fill="#e5a02a"/>
<path d="M90.4 435.8h0.8v0.8h-0.8z" fill="#e69f2a"/>
<path d="M88.9 437.1h0.8v0.8h-0.8z" fill="#e69e2a"/>
<path d="M89.0 435.4h0.8v0.8h-0.8zM87.7 436.0h0.8v0.8h-0.8z" fill="#e69d2a"/>
<path d="M89.3 438.9h0.8v0.8h-0.8z" fill="#e69b2a"/>
<path d="M90.2 435.7h0.8v0.8h-0.8z" fill="#e69a2a"/>
<path d="M89.1 436.7h0.8v0.8h-0.8zM88.3 436.9h0.8v0.8h-0.8z" fill="#e69829"/>
<path d="M88.0 436.6h0.8v0.8h-0.8z" fill="#e69729"/>
<path d="M89.0 434.8h0.8v0.8h-0.8z" fill="#e69629"/>
<path d="M90.1 437.5h0.8v0.8h-0.8z" fill="#e79429"/>
<path d="M88.7 434.8h0.8v0.8h-0.8zM89.6 436.2h0.8v0.8h-0.8z" fill="#e79329"/>
<path d="M88.8 435.2h0.8v0.8h-0.8z" fill="#e79228"/>
<path d="M90.5 438.4h0.8v0.8h-0.8z" fill="#e78d28"/>
<path d="M90.5 438.4h0.8v0.8h-0.8z" fill="#e78c28"/>
<path d="M89.2 438.3h0.8v0.8h-0.8z" fill="#e78b27"/>
<path d="M87.8 437.2h0.8v0.8h-0.8z" fill="#e68727"/>
<path d="M88.3 437.3h0.8v0.8h-0.8zM87.9 436.4h0.8v0.8h-0.8z" fill="#e68427"/>
<path d="M88.7 437.6h0.8v0.8h-0.8z" fill="#e58327"/>
<path d="M88.0 436.7h0.8v0.8h-0.8z" fill="#e37a26"/>
<path d="M89.0 435.7h0.8v0.8h-0.8z" fill="#e37925"/>
<path d="M89.3 436.6h0.8v0.8h-0.8z" fill="#e37825"/>
<path d="M88.4 435.5h0.8v0.8h-0.8z" fill="#e27625"/>
<path d="M88.4 437.2h0.8v0.8h-0.8z" fill="#e27525"/>
<path d="M89.0 437.7h0.8v0.8h-0.8z" fill="#e17125"/>
<path d="M88.5 436.4h0.8v0.8h-0.8z" fill="#e06e24"/>
<path d="M88.5 438.0h0.8v0.8h-0.8z" fill="#e06d24"/>
<path d="M90.1 436.6h0.8v0.8h-0.8z" fill="#e06b24"/>
<path d="M88.9 438.1h0.8v0.8h-0.8z" fill="#dd6023"/>
<path d="M88.0 437.0h0.8v0.8h-0.8z" fill="#db5922"/>
<path d="M88.4 436.5h0.8v0.8h-0.8z" fill="#d95021"/>
<path d="M89.1 435.8h0.8v0.8h-0.8z" fill="#d64620"/>
<path d="M87.9 435.6h0.8v0.8h-0.8z" fill="#d6421f"/>
<path d="M88.0 436.0h0.8v0.8h-0.8z" fill="#d53e1f"/>
<path d="M87.8 436.2h0.8v0.8h-0.8z" fill="#d3381e"/>
<path d="M89.0 436.6h0.8v0.8h-0.8zM88.9 437.3h0.8v0.8h-0.8zM88.6 436.8h0.8v0.8h-0.8zM88.9 437.3h0.8v0.8h-0.8zM88.6 436.6h0.8v0.8h-0.8zM89.5 436.7h0.8v0.8h-0.8zM87.9 437.4h0.8v0.8h-0.8z" fill="#d2321e"/>
<line x1="59.50" y1="412.60" x2="160.50" y2="412.60" stroke="#b0b0b0" stroke-width="0.8" />
<line x1="102.40" y1="354.50" x2="102.40" y2="456.50" stroke="#b0b0b0" stroke-width="0.8" />
<path d="M59.5 456.5 V354.5 H160.5 V456.5 Z" fill="none" stroke="#000" stroke-width="1"/>
<line x1="56.90" y1="354.80" x2="59.50" y2="354.80" stroke="#000" stroke-width="0.9" />
<text transform="translate(56.50 357.00) scale(1.25 1)" font-size="6.3" text-anchor="end" fill="#000">10<tspan font-size="3.60" dy="-2.52">7.2</tspan></text>
<line x1="56.90" y1="374.40" x2="59.50" y2="374.40" stroke="#000" stroke-width="0.9" />
<text transform="translate(56.50 376.60) scale(1.25 1)" font-size="6.3" text-anchor="end" fill="#000">10<tspan font-size="3.60" dy="-2.52">6</tspan></text>
<line x1="56.90" y1="390.60" x2="59.50" y2="390.60" stroke="#000" stroke-width="0.9" />
<text transform="translate(56.50 392.80) scale(1.25 1)" font-size="6.3" text-anchor="end" fill="#000">10<tspan font-size="3.60" dy="-2.52">5</tspan></text>
<line x1="56.90" y1="406.90" x2="59.50" y2="406.90" stroke="#000" stroke-width="0.9" />
<text transform="translate(56.50 409.10) scale(1.25 1)" font-size="6.3" text-anchor="end" fill="#000">10<tspan font-size="3.60" dy="-2.52">4</tspan></text>
<line x1="56.90" y1="425.70" x2="59.50" y2="425.70" stroke="#000" stroke-width="0.9" />
<text transform="translate(56.50 427.90) scale(1.25 1)" font-size="6.3" text-anchor="end" fill="#000">10<tspan font-size="3.60" dy="-2.52">3</tspan></text>
<line x1="56.90" y1="444.20" x2="59.50" y2="444.20" stroke="#000" stroke-width="0.9" />
<text transform="translate(56.50 446.40) scale(1.25 1)" font-size="6.3" text-anchor="end" fill="#000">10<tspan font-size="3.60" dy="-2.52">2</tspan></text>
<line x1="56.90" y1="448.30" x2="59.50" y2="448.30" stroke="#000" stroke-width="0.9" />
<text transform="translate(52.70 450.50) scale(1.2 1)" font-size="6.3" text-anchor="end" font-weight="normal" fill="#000" >0</text>
<line x1="56.90" y1="456.20" x2="59.50" y2="456.20" stroke="#000" stroke-width="0.9" />
<text transform="translate(56.50 458.40) scale(1.25 1)" font-size="6.3" text-anchor="end">-10<tspan font-size="3.6" dy="-2.5">2.5</tspan></text>
<line x1="59.90" y1="456.50" x2="59.90" y2="459.10" stroke="#000" stroke-width="0.9" />
<text transform="translate(61.10 467.80) scale(1.15 1)" font-size="6.3" text-anchor="middle" fill="#000">10<tspan font-size="3.60" dy="-2.52">1</tspan></text>
<line x1="75.70" y1="456.50" x2="75.70" y2="459.10" stroke="#000" stroke-width="0.9" />
<text transform="translate(76.90 467.80) scale(1.15 1)" font-size="6.3" text-anchor="middle" fill="#000">10<tspan font-size="3.60" dy="-2.52">2</tspan></text>
<line x1="91.80" y1="456.50" x2="91.80" y2="459.10" stroke="#000" stroke-width="0.9" />
<text transform="translate(93.00 467.80) scale(1.15 1)" font-size="6.3" text-anchor="middle" fill="#000">10<tspan font-size="3.60" dy="-2.52">3</tspan></text>
<line x1="108.00" y1="456.50" x2="108.00" y2="459.10" stroke="#000" stroke-width="0.9" />
<text transform="translate(109.20 467.80) scale(1.15 1)" font-size="6.3" text-anchor="middle" fill="#000">10<tspan font-size="3.60" dy="-2.52">4</tspan></text>
<line x1="124.50" y1="456.50" x2="124.50" y2="459.10" stroke="#000" stroke-width="0.9" />
<text transform="translate(125.70 467.80) scale(1.15 1)" font-size="6.3" text-anchor="middle" fill="#000">10<tspan font-size="3.60" dy="-2.52">5</tspan></text>
<line x1="141.00" y1="456.50" x2="141.00" y2="459.10" stroke="#000" stroke-width="0.9" />
<text transform="translate(142.20 467.80) scale(1.15 1)" font-size="6.3" text-anchor="middle" fill="#000">10<tspan font-size="3.60" dy="-2.52">6</tspan></text>
<line x1="160.60" y1="456.50" x2="160.60" y2="459.10" stroke="#000" stroke-width="0.9" />
<text transform="translate(161.80 467.80) scale(1.15 1)" font-size="6.3" text-anchor="middle" fill="#000">10<tspan font-size="3.60" dy="-2.52">7.2</tspan></text>
<line x1="58.20" y1="360.70" x2="59.50" y2="360.70" stroke="#000" stroke-width="0.6" />
<line x1="58.20" y1="364.15" x2="59.50" y2="364.15" stroke="#000" stroke-width="0.6" />
<line x1="58.20" y1="366.60" x2="59.50" y2="366.60" stroke="#000" stroke-width="0.6" />
<line x1="58.20" y1="368.50" x2="59.50" y2="368.50" stroke="#000" stroke-width="0.6" />
<line x1="58.20" y1="370.05" x2="59.50" y2="370.05" stroke="#000" stroke-width="0.6" />
<line x1="58.20" y1="371.36" x2="59.50" y2="371.36" stroke="#000" stroke-width="0.6" />
<line x1="58.20" y1="372.50" x2="59.50" y2="372.50" stroke="#000" stroke-width="0.6" />
<line x1="58.20" y1="373.50" x2="59.50" y2="373.50" stroke="#000" stroke-width="0.6" />
<line x1="58.20" y1="379.28" x2="59.50" y2="379.28" stroke="#000" stroke-width="0.6" />
<line x1="58.20" y1="382.13" x2="59.50" y2="382.13" stroke="#000" stroke-width="0.6" />
<line x1="58.20" y1="384.15" x2="59.50" y2="384.15" stroke="#000" stroke-width="0.6" />
<line x1="58.20" y1="385.72" x2="59.50" y2="385.72" stroke="#000" stroke-width="0.6" />
<line x1="58.20" y1="387.01" x2="59.50" y2="387.01" stroke="#000" stroke-width="0.6" />
<line x1="58.20" y1="388.09" x2="59.50" y2="388.09" stroke="#000" stroke-width="0.6" />
<line x1="58.20" y1="389.03" x2="59.50" y2="389.03" stroke="#000" stroke-width="0.6" />
<line x1="58.20" y1="389.86" x2="59.50" y2="389.86" stroke="#000" stroke-width="0.6" />
<line x1="58.20" y1="395.51" x2="59.50" y2="395.51" stroke="#000" stroke-width="0.6" />
<line x1="58.20" y1="398.38" x2="59.50" y2="398.38" stroke="#000" stroke-width="0.6" />
<line x1="58.20" y1="400.41" x2="59.50" y2="400.41" stroke="#000" stroke-width="0.6" />
<line x1="58.20" y1="401.99" x2="59.50" y2="401.99" stroke="#000" stroke-width="0.6" />
<line x1="58.20" y1="403.28" x2="59.50" y2="403.28" stroke="#000" stroke-width="0.6" />
<line x1="58.20" y1="404.38" x2="59.50" y2="404.38" stroke="#000" stroke-width="0.6" />
<line x1="58.20" y1="405.32" x2="59.50" y2="405.32" stroke="#000" stroke-width="0.6" />
<line x1="58.20" y1="406.15" x2="59.50" y2="406.15" stroke="#000" stroke-width="0.6" />
<line x1="58.20" y1="412.56" x2="59.50" y2="412.56" stroke="#000" stroke-width="0.6" />
<line x1="58.20" y1="415.87" x2="59.50" y2="415.87" stroke="#000" stroke-width="0.6" />
<line x1="58.20" y1="418.22" x2="59.50" y2="418.22" stroke="#000" stroke-width="0.6" />
<line x1="58.20" y1="420.04" x2="59.50" y2="420.04" stroke="#000" stroke-width="0.6" />
<line x1="58.20" y1="421.53" x2="59.50" y2="421.53" stroke="#000" stroke-width="0.6" />
<line x1="58.20" y1="422.79" x2="59.50" y2="422.79" stroke="#000" stroke-width="0.6" />
<line x1="58.20" y1="423.88" x2="59.50" y2="423.88" stroke="#000" stroke-width="0.6" />
<line x1="58.20" y1="424.84" x2="59.50" y2="424.84" stroke="#000" stroke-width="0.6" />
<line x1="58.20" y1="431.27" x2="59.50" y2="431.27" stroke="#000" stroke-width="0.6" />
<line x1="58.20" y1="434.53" x2="59.50" y2="434.53" stroke="#000" stroke-width="0.6" />
<line x1="58.20" y1="436.84" x2="59.50" y2="436.84" stroke="#000" stroke-width="0.6" />
<line x1="58.20" y1="438.63" x2="59.50" y2="438.63" stroke="#000" stroke-width="0.6" />
<line x1="58.20" y1="440.10" x2="59.50" y2="440.10" stroke="#000" stroke-width="0.6" />
<line x1="58.20" y1="441.33" x2="59.50" y2="441.33" stroke="#000" stroke-width="0.6" />
<line x1="58.20" y1="442.41" x2="59.50" y2="442.41" stroke="#000" stroke-width="0.6" />
<line x1="58.20" y1="443.35" x2="59.50" y2="443.35" stroke="#000" stroke-width="0.6" />
<line x1="58.20" y1="445.43" x2="59.50" y2="445.43" stroke="#000" stroke-width="0.6" />
<line x1="58.20" y1="446.16" x2="59.50" y2="446.16" stroke="#000" stroke-width="0.6" />
<line x1="58.20" y1="446.67" x2="59.50" y2="446.67" stroke="#000" stroke-width="0.6" />
<line x1="58.20" y1="447.07" x2="59.50" y2="447.07" stroke="#000" stroke-width="0.6" />
<line x1="58.20" y1="447.39" x2="59.50" y2="447.39" stroke="#000" stroke-width="0.6" />
<line x1="58.20" y1="447.66" x2="59.50" y2="447.66" stroke="#000" stroke-width="0.6" />
<line x1="58.20" y1="447.90" x2="59.50" y2="447.90" stroke="#000" stroke-width="0.6" />
<line x1="58.20" y1="448.11" x2="59.50" y2="448.11" stroke="#000" stroke-width="0.6" />
<line x1="58.20" y1="450.68" x2="59.50" y2="450.68" stroke="#000" stroke-width="0.6" />
<line x1="58.20" y1="452.07" x2="59.50" y2="452.07" stroke="#000" stroke-width="0.6" />
<line x1="58.20" y1="453.06" x2="59.50" y2="453.06" stroke="#000" stroke-width="0.6" />
<line x1="58.20" y1="453.82" x2="59.50" y2="453.82" stroke="#000" stroke-width="0.6" />
<line x1="58.20" y1="454.45" x2="59.50" y2="454.45" stroke="#000" stroke-width="0.6" />
<line x1="58.20" y1="454.98" x2="59.50" y2="454.98" stroke="#000" stroke-width="0.6" />
<line x1="58.20" y1="455.43" x2="59.50" y2="455.43" stroke="#000" stroke-width="0.6" />
<line x1="58.20" y1="455.84" x2="59.50" y2="455.84" stroke="#000" stroke-width="0.6" />
<line x1="64.66" y1="456.50" x2="64.66" y2="457.80" stroke="#000" stroke-width="0.6" />
<line x1="67.44" y1="456.50" x2="67.44" y2="457.80" stroke="#000" stroke-width="0.6" />
<line x1="69.41" y1="456.50" x2="69.41" y2="457.80" stroke="#000" stroke-width="0.6" />
<line x1="70.94" y1="456.50" x2="70.94" y2="457.80" stroke="#000" stroke-width="0.6" />
<line x1="72.19" y1="456.50" x2="72.19" y2="457.80" stroke="#000" stroke-width="0.6" />
<line x1="73.25" y1="456.50" x2="73.25" y2="457.80" stroke="#000" stroke-width="0.6" />
<line x1="74.17" y1="456.50" x2="74.17" y2="457.80" stroke="#000" stroke-width="0.6" />
<line x1="74.98" y1="456.50" x2="74.98" y2="457.80" stroke="#000" stroke-width="0.6" />
<line x1="80.55" y1="456.50" x2="80.55" y2="457.80" stroke="#000" stroke-width="0.6" />
<line x1="83.38" y1="456.50" x2="83.38" y2="457.80" stroke="#000" stroke-width="0.6" />
<line x1="85.39" y1="456.50" x2="85.39" y2="457.80" stroke="#000" stroke-width="0.6" />
<line x1="86.95" y1="456.50" x2="86.95" y2="457.80" stroke="#000" stroke-width="0.6" />
<line x1="88.23" y1="456.50" x2="88.23" y2="457.80" stroke="#000" stroke-width="0.6" />
<line x1="89.31" y1="456.50" x2="89.31" y2="457.80" stroke="#000" stroke-width="0.6" />
<line x1="90.24" y1="456.50" x2="90.24" y2="457.80" stroke="#000" stroke-width="0.6" />
<line x1="91.06" y1="456.50" x2="91.06" y2="457.80" stroke="#000" stroke-width="0.6" />
<line x1="96.68" y1="456.50" x2="96.68" y2="457.80" stroke="#000" stroke-width="0.6" />
<line x1="99.53" y1="456.50" x2="99.53" y2="457.80" stroke="#000" stroke-width="0.6" />
<line x1="101.55" y1="456.50" x2="101.55" y2="457.80" stroke="#000" stroke-width="0.6" />
<line x1="103.12" y1="456.50" x2="103.12" y2="457.80" stroke="#000" stroke-width="0.6" />
<line x1="104.41" y1="456.50" x2="104.41" y2="457.80" stroke="#000" stroke-width="0.6" />
<line x1="105.49" y1="456.50" x2="105.49" y2="457.80" stroke="#000" stroke-width="0.6" />
<line x1="106.43" y1="456.50" x2="106.43" y2="457.80" stroke="#000" stroke-width="0.6" />
<line x1="107.26" y1="456.50" x2="107.26" y2="457.80" stroke="#000" stroke-width="0.6" />
<line x1="112.97" y1="456.50" x2="112.97" y2="457.80" stroke="#000" stroke-width="0.6" />
<line x1="115.87" y1="456.50" x2="115.87" y2="457.80" stroke="#000" stroke-width="0.6" />
<line x1="117.93" y1="456.50" x2="117.93" y2="457.80" stroke="#000" stroke-width="0.6" />
<line x1="119.53" y1="456.50" x2="119.53" y2="457.80" stroke="#000" stroke-width="0.6" />
<line x1="120.84" y1="456.50" x2="120.84" y2="457.80" stroke="#000" stroke-width="0.6" />
<line x1="121.94" y1="456.50" x2="121.94" y2="457.80" stroke="#000" stroke-width="0.6" />
<line x1="122.90" y1="456.50" x2="122.90" y2="457.80" stroke="#000" stroke-width="0.6" />
<line x1="123.75" y1="456.50" x2="123.75" y2="457.80" stroke="#000" stroke-width="0.6" />
<line x1="129.47" y1="456.50" x2="129.47" y2="457.80" stroke="#000" stroke-width="0.6" />
<line x1="132.37" y1="456.50" x2="132.37" y2="457.80" stroke="#000" stroke-width="0.6" />
<line x1="134.43" y1="456.50" x2="134.43" y2="457.80" stroke="#000" stroke-width="0.6" />
<line x1="136.03" y1="456.50" x2="136.03" y2="457.80" stroke="#000" stroke-width="0.6" />
<line x1="137.34" y1="456.50" x2="137.34" y2="457.80" stroke="#000" stroke-width="0.6" />
<line x1="138.44" y1="456.50" x2="138.44" y2="457.80" stroke="#000" stroke-width="0.6" />
<line x1="139.40" y1="456.50" x2="139.40" y2="457.80" stroke="#000" stroke-width="0.6" />
<line x1="140.25" y1="456.50" x2="140.25" y2="457.80" stroke="#000" stroke-width="0.6" />
<line x1="146.90" y1="456.50" x2="146.90" y2="457.80" stroke="#000" stroke-width="0.6" />
<line x1="150.35" y1="456.50" x2="150.35" y2="457.80" stroke="#000" stroke-width="0.6" />
<line x1="152.80" y1="456.50" x2="152.80" y2="457.80" stroke="#000" stroke-width="0.6" />
<line x1="154.70" y1="456.50" x2="154.70" y2="457.80" stroke="#000" stroke-width="0.6" />
<line x1="156.25" y1="456.50" x2="156.25" y2="457.80" stroke="#000" stroke-width="0.6" />
<line x1="157.56" y1="456.50" x2="157.56" y2="457.80" stroke="#000" stroke-width="0.6" />
<line x1="158.70" y1="456.50" x2="158.70" y2="457.80" stroke="#000" stroke-width="0.6" />
<line x1="159.70" y1="456.50" x2="159.70" y2="457.80" stroke="#000" stroke-width="0.6" />
<text x="61.90" y="359.90" font-size="5.3" text-anchor="start" font-weight="normal" fill="#222" >0.05%</text>
<text x="155.70" y="359.90" font-size="5.3" text-anchor="end" font-weight="normal" fill="#222" >0.50%</text>
<text x="61.90" y="455.50" font-size="5.3" text-anchor="start" font-weight="normal" fill="#222" >97.53%</text>
<text x="155.70" y="455.50" font-size="5.3" text-anchor="end" font-weight="normal" fill="#222" >1.92%</text>
<text font-size="9" text-anchor="middle" stroke="#000" stroke-width="0.15" transform="translate(25.6 407) rotate(-90)" textLength="50" lengthAdjust="spacingAndGlyphs">IgG1κ flourescence</text>
<text font-size="9" text-anchor="middle" stroke="#000" stroke-width="0.15" transform="translate(36.3 404.6) rotate(-90)" textLength="48" lengthAdjust="spacingAndGlyphs">(445/45, log scale)</text>
<text font-size="9.3" text-anchor="middle" stroke="#000" stroke-width="0.15" x="110.0" y="479.9" textLength="45" lengthAdjust="spacingAndGlyphs">IgG1 flourescence</text>
<text font-size="9.3" text-anchor="middle" stroke="#000" stroke-width="0.15" x="110.0" y="489.3" textLength="48" lengthAdjust="spacingAndGlyphs">(780/60, log scale)</text>
<path d="M261.9 372.4h0.8v0.8h-0.8zM280.6 432.7h0.8v0.8h-0.8zM277.0 380.5h0.8v0.8h-0.8zM298.6 425.1h0.8v0.8h-0.8zM242.0 397.9h0.8v0.8h-0.8z" fill="#727cd3"/>
<path d="M266.9 443.5h0.8v0.8h-0.8zM221.6 441.5h0.8v0.8h-0.8zM227.8 413.4h0.8v0.8h-0.8zM225.9 451.6h0.8v0.8h-0.8zM225.0 410.4h0.8v0.8h-0.8zM229.5 451.9h0.8v0.8h-0.8zM272.7 438.5h0.8v0.8h-0.8zM245.0 363.7h0.8v0.8h-0.8zM258.4 369.4h0.8v0.8h-0.8zM272.5 444.8h0.8v0.8h-0.8zM237.3 410.4h0.8v0.8h-0.8zM311.3 418.3h0.8v0.8h-0.8zM295.7 382.2h0.8v0.8h-0.8z" fill="#717bd3"/>
<path d="M280.7 406.4h0.8v0.8h-0.8z" fill="#717bd2"/>
<path d="M254.6 454.6h0.8v0.8h-0.8zM219.4 431.4h0.8v0.8h-0.8zM216.2 437.8h0.8v0.8h-0.8zM223.7 418.4h0.8v0.8h-0.8zM270.5 432.1h0.8v0.8h-0.8zM278.8 408.0h0.8v0.8h-0.8zM252.5 383.9h0.8v0.8h-0.8zM277.1 418.8h0.8v0.8h-0.8zM279.2 412.1h0.8v0.8h-0.8zM279.0 394.9h0.8v0.8h-0.8zM254.0 379.4h0.8v0.8h-0.8zM251.0 380.3h0.8v0.8h-0.8zM262.8 440.5h0.8v0.8h-0.8zM276.3 436.7h0.8v0.8h-0.8zM242.7 405.9h0.8v0.8h-0.8zM291.8 386.1h0.8v0.8h-0.8z" fill="#707ad2"/>
<path d="M260.1 446.5h0.8v0.8h-0.8zM272.3 375.3h0.8v0.8h-0.8z" fill="#6f79d2"/>
<path d="M264.2 444.3h0.8v0.8h-0.8zM267.5 434.5h0.8v0.8h-0.8z" fill="#6f79d1"/>
<path d="M219.6 428.6h0.8v0.8h-0.8zM244.0 454.5h0.8v0.8h-0.8zM227.0 444.9h0.8v0.8h-0.8zM268.0 373.7h0.8v0.8h-0.8zM265.6 432.4h0.8v0.8h-0.8zM280.3 426.8h0.8v0.8h-0.8zM252.9 395.4h0.8v0.8h-0.8zM232.0 409.2h0.8v0.8h-0.8zM245.4 407.8h0.8v0.8h-0.8z" fill="#6e78d1"/>
<path d="M273.3 429.4h0.8v0.8h-0.8zM239.0 414.3h0.8v0.8h-0.8zM232.8 407.6h0.8v0.8h-0.8z" fill="#6d77d1"/>
<path d="M222.7 421.8h0.8v0.8h-0.8zM232.7 412.1h0.8v0.8h-0.8zM219.8 425.1h0.8v0.8h-0.8zM257.4 383.2h0.8v0.8h-0.8zM252.8 408.7h0.8v0.8h-0.8z" fill="#6d77d0"/>
<path d="M251.3 454.7h0.8v0.8h-0.8zM221.6 424.8h0.8v0.8h-0.8zM241.1 451.6h0.8v0.8h-0.8zM263.3 430.5h0.8v0.8h-0.8zM252.2 403.7h0.8v0.8h-0.8zM254.4 397.3h0.8v0.8h-0.8zM265.8 435.1h0.8v0.8h-0.8zM256.5 386.2h0.8v0.8h-0.8zM274.8 383.0h0.8v0.8h-0.8zM224.1 429.4h0.8v0.8h-0.8z" fill="#6c76d0"/>
<path d="M221.7 433.5h0.8v0.8h-0.8zM263.2 435.7h0.8v0.8h-0.8zM246.5 450.9h0.8v0.8h-0.8zM222.1 427.0h0.8v0.8h-0.8zM221.5 439.5h0.8v0.8h-0.8zM236.4 448.0h0.8v0.8h-0.8zM278.2 403.6h0.8v0.8h-0.8zM280.2 422.9h0.8v0.8h-0.8zM264.1 433.9h0.8v0.8h-0.8z" fill="#6b75cf"/>
<path d="M241.8 453.1h0.8v0.8h-0.8zM227.2 443.3h0.8v0.8h-0.8zM249.4 417.9h0.8v0.8h-0.8zM265.6 439.2h0.8v0.8h-0.8zM276.8 425.1h0.8v0.8h-0.8zM259.7 428.9h0.8v0.8h-0.8zM260.7 432.5h0.8v0.8h-0.8zM249.2 412.5h0.8v0.8h-0.8z" fill="#6a74cf"/>
<path d="M225.4 432.1h0.8v0.8h-0.8zM265.4 438.9h0.8v0.8h-0.8zM274.3 384.9h0.8v0.8h-0.8zM255.0 406.6h0.8v0.8h-0.8z" fill="#6a74ce"/>
<path d="M250.5 453.3h0.8v0.8h-0.8zM222.3 438.3h0.8v0.8h-0.8zM274.8 423.8h0.8v0.8h-0.8zM279.2 423.0h0.8v0.8h-0.8zM253.1 411.5h0.8v0.8h-0.8zM257.2 377.7h0.8v0.8h-0.8zM278.3 388.8h0.8v0.8h-0.8zM250.2 415.5h0.8v0.8h-0.8z" fill="#6973ce"/>
<path d="M232.0 414.1h0.8v0.8h-0.8zM227.2 420.4h0.8v0.8h-0.8zM275.9 391.1h0.8v0.8h-0.8zM247.9 416.4h0.8v0.8h-0.8z" fill="#6872ce"/>
<path d="M234.9 417.4h0.8v0.8h-0.8zM220.7 435.9h0.8v0.8h-0.8zM251.9 452.5h0.8v0.8h-0.8zM279.1 425.5h0.8v0.8h-0.8zM246.4 416.1h0.8v0.8h-0.8z" fill="#6872cd"/>
<path d="M251.7 452.2h0.8v0.8h-0.8zM246.8 449.8h0.8v0.8h-0.8zM232.1 414.1h0.8v0.8h-0.8zM225.7 442.3h0.8v0.8h-0.8zM268.6 427.5h0.8v0.8h-0.8zM257.6 379.3h0.8v0.8h-0.8zM277.1 387.7h0.8v0.8h-0.8zM259.2 379.1h0.8v0.8h-0.8zM272.0 378.1h0.8v0.8h-0.8zM251.8 405.6h0.8v0.8h-0.8zM260.7 433.7h0.8v0.8h-0.8zM261.2 433.7h0.8v0.8h-0.8z" fill="#6771cd"/>
<path d="M225.6 433.3h0.8v0.8h-0.8z" fill="#6670cd"/>
<path d="M226.4 430.0h0.8v0.8h-0.8zM274.0 426.4h0.8v0.8h-0.8zM274.2 387.8h0.8v0.8h-0.8zM254.1 402.1h0.8v0.8h-0.8z" fill="#6670cc"/>
<path d="M259.1 427.2h0.8v0.8h-0.8zM232.0 447.9h0.8v0.8h-0.8zM233.3 446.5h0.8v0.8h-0.8zM272.9 383.2h0.8v0.8h-0.8zM271.6 379.2h0.8v0.8h-0.8zM265.1 428.9h0.8v0.8h-0.8zM252.5 406.4h0.8v0.8h-0.8zM265.9 428.5h0.8v0.8h-0.8zM255.3 390.2h0.8v0.8h-0.8zM255.3 398.8h0.8v0.8h-0.8zM248.2 413.6h0.8v0.8h-0.8z" fill="#656fcc"/>
<path d="M220.5 436.4h0.8v0.8h-0.8zM256.5 441.2h0.8v0.8h-0.8zM248.8 419.6h0.8v0.8h-0.8zM231.2 447.2h0.8v0.8h-0.8zM238.0 447.6h0.8v0.8h-0.8zM276.4 388.7h0.8v0.8h-0.8zM274.3 417.1h0.8v0.8h-0.8z" fill="#646ecb"/>
<path d="M238.1 448.1h0.8v0.8h-0.8zM225.6 421.0h0.8v0.8h-0.8zM231.8 442.7h0.8v0.8h-0.8zM265.3 376.1h0.8v0.8h-0.8zM253.6 420.6h0.8v0.8h-0.8zM232.4 446.6h0.8v0.8h-0.8z" fill="#636dcb"/>
<path d="M261.5 426.9h0.8v0.8h-0.8z" fill="#636dca"/>
<path d="M226.4 436.7h0.8v0.8h-0.8zM255.7 445.8h0.8v0.8h-0.8zM255.9 433.3h0.8v0.8h-0.8zM256.9 445.9h0.8v0.8h-0.8zM234.5 443.6h0.8v0.8h-0.8zM254.7 441.4h0.8v0.8h-0.8zM259.5 381.8h0.8v0.8h-0.8zM254.9 391.2h0.8v0.8h-0.8zM275.8 402.2h0.8v0.8h-0.8zM271.8 384.5h0.8v0.8h-0.8zM253.9 412.5h0.8v0.8h-0.8z" fill="#626cca"/>
<path d="M256.7 430.1h0.8v0.8h-0.8zM240.1 416.5h0.8v0.8h-0.8zM271.8 425.8h0.8v0.8h-0.8zM263.8 377.0h0.8v0.8h-0.8zM247.3 408.6h0.8v0.8h-0.8z" fill="#616bc9"/>
<path d="M231.0 422.5h0.8v0.8h-0.8zM255.8 431.6h0.8v0.8h-0.8zM253.7 433.9h0.8v0.8h-0.8zM228.0 432.8h0.8v0.8h-0.8zM275.8 405.1h0.8v0.8h-0.8zM257.4 389.0h0.8v0.8h-0.8zM272.1 426.0h0.8v0.8h-0.8zM255.3 411.1h0.8v0.8h-0.8zM254.5 419.4h0.8v0.8h-0.8zM266.0 427.9h0.8v0.8h-0.8z" fill="#606ac9"/>
<path d="M253.7 422.4h0.8v0.8h-0.8zM250.7 421.3h0.8v0.8h-0.8zM249.9 420.6h0.8v0.8h-0.8zM226.0 439.1h0.8v0.8h-0.8zM226.2 438.6h0.8v0.8h-0.8zM229.2 441.3h0.8v0.8h-0.8zM273.7 416.3h0.8v0.8h-0.8zM274.1 390.9h0.8v0.8h-0.8zM271.3 426.6h0.8v0.8h-0.8zM270.4 425.6h0.8v0.8h-0.8zM252.7 422.3h0.8v0.8h-0.8z" fill="#5f69c8"/>
<path d="M257.7 436.2h0.8v0.8h-0.8zM225.7 421.9h0.8v0.8h-0.8zM268.4 426.5h0.8v0.8h-0.8zM258.7 424.9h0.8v0.8h-0.8zM257.7 435.5h0.8v0.8h-0.8z" fill="#5e68c8"/>
<path d="M235.9 417.9h0.8v0.8h-0.8zM255.0 443.8h0.8v0.8h-0.8zM248.0 409.3h0.8v0.8h-0.8zM225.8 424.7h0.8v0.8h-0.8z" fill="#5e68c7"/>
<path d="M255.0 441.6h0.8v0.8h-0.8zM257.1 444.9h0.8v0.8h-0.8zM254.6 436.2h0.8v0.8h-0.8zM225.5 422.2h0.8v0.8h-0.8zM243.7 417.5h0.8v0.8h-0.8zM262.9 378.8h0.8v0.8h-0.8zM276.0 404.1h0.8v0.8h-0.8zM275.9 395.8h0.8v0.8h-0.8zM255.3 416.8h0.8v0.8h-0.8zM248.9 409.1h0.8v0.8h-0.8zM249.3 409.2h0.8v0.8h-0.8z" fill="#5d67c7"/>
<path d="M254.7 442.6h0.8v0.8h-0.8zM269.8 379.5h0.8v0.8h-0.8zM267.8 377.0h0.8v0.8h-0.8z" fill="#5c66c7"/>
<path d="M257.0 428.9h0.8v0.8h-0.8zM235.0 419.1h0.8v0.8h-0.8zM256.3 426.5h0.8v0.8h-0.8zM261.9 380.3h0.8v0.8h-0.8zM274.9 412.6h0.8v0.8h-0.8zM247.6 408.6h0.8v0.8h-0.8z" fill="#5c66c6"/>
<path d="M239.6 417.4h0.8v0.8h-0.8zM256.0 429.1h0.8v0.8h-0.8zM256.4 445.0h0.8v0.8h-0.8zM251.7 449.5h0.8v0.8h-0.8zM251.5 444.3h0.8v0.8h-0.8zM257.6 386.8h0.8v0.8h-0.8zM274.7 412.8h0.8v0.8h-0.8zM242.5 417.2h0.8v0.8h-0.8zM243.9 417.5h0.8v0.8h-0.8z" fill="#5b65c6"/>
<path d="M226.5 439.2h0.8v0.8h-0.8zM256.9 392.0h0.8v0.8h-0.8z" fill="#5a64c6"/>
<path d="M244.1 417.1h0.8v0.8h-0.8zM254.2 438.5h0.8v0.8h-0.8zM245.4 448.2h0.8v0.8h-0.8zM256.8 392.4h0.8v0.8h-0.8zM256.5 391.0h0.8v0.8h-0.8zM274.8 393.7h0.8v0.8h-0.8zM261.8 380.4h0.8v0.8h-0.8zM255.5 401.9h0.8v0.8h-0.8zM257.3 420.4h0.8v0.8h-0.8z" fill="#5a64c5"/>
<path d="M269.4 377.8h0.8v0.8h-0.8zM256.3 411.4h0.8v0.8h-0.8zM259.6 424.5h0.8v0.8h-0.8z" fill="#5963c5"/>
<path d="M269.7 381.2h0.8v0.8h-0.8z" fill="#5963c4"/>
<path d="M272.8 422.6h0.8v0.8h-0.8zM274.4 421.3h0.8v0.8h-0.8zM259.6 382.6h0.8v0.8h-0.8z" fill="#5862c4"/>
<path d="M255.6 436.6h0.8v0.8h-0.8z" fill="#5761c4"/>
<path d="M234.4 420.1h0.8v0.8h-0.8zM227.8 429.7h0.8v0.8h-0.8zM255.8 416.7h0.8v0.8h-0.8zM274.7 394.7h0.8v0.8h-0.8z" fill="#5761c3"/>
<path d="M252.4 447.6h0.8v0.8h-0.8zM253.7 432.2h0.8v0.8h-0.8zM252.1 439.8h0.8v0.8h-0.8zM258.3 438.4h0.8v0.8h-0.8zM252.2 447.6h0.8v0.8h-0.8zM271.5 386.2h0.8v0.8h-0.8zM256.1 402.4h0.8v0.8h-0.8zM263.9 425.7h0.8v0.8h-0.8zM263.3 425.9h0.8v0.8h-0.8zM259.7 422.7h0.8v0.8h-0.8zM254.6 424.8h0.8v0.8h-0.8z" fill="#5660c3"/>
<path d="M274.6 393.9h0.8v0.8h-0.8zM246.2 419.5h0.8v0.8h-0.8z" fill="#555fc3"/>
<path d="M229.4 440.4h0.8v0.8h-0.8zM228.2 428.5h0.8v0.8h-0.8zM261.4 381.7h0.8v0.8h-0.8z" fill="#555fc2"/>
<path d="M244.9 447.7h0.8v0.8h-0.8zM232.2 442.3h0.8v0.8h-0.8zM257.0 438.6h0.8v0.8h-0.8zM269.9 380.4h0.8v0.8h-0.8zM255.7 418.4h0.8v0.8h-0.8z" fill="#545ec2"/>
<path d="M237.0 444.4h0.8v0.8h-0.8zM254.6 424.6h0.8v0.8h-0.8zM257.7 420.3h0.8v0.8h-0.8zM267.3 424.7h0.8v0.8h-0.8zM259.4 421.4h0.8v0.8h-0.8z" fill="#535dc1"/>
<path d="M253.9 431.0h0.8v0.8h-0.8zM252.8 424.1h0.8v0.8h-0.8zM237.9 445.4h0.8v0.8h-0.8zM257.0 438.1h0.8v0.8h-0.8zM266.5 378.4h0.8v0.8h-0.8zM257.2 398.5h0.8v0.8h-0.8zM266.6 423.9h0.8v0.8h-0.8zM267.3 423.6h0.8v0.8h-0.8z" fill="#525cc1"/>
<path d="M259.1 419.9h0.8v0.8h-0.8z" fill="#525cc0"/>
<path d="M228.4 437.3h0.8v0.8h-0.8zM226.6 425.8h0.8v0.8h-0.8zM256.1 403.0h0.8v0.8h-0.8zM262.5 421.4h0.8v0.8h-0.8zM265.5 377.7h0.8v0.8h-0.8zM274.1 410.8h0.8v0.8h-0.8zM267.1 425.0h0.8v0.8h-0.8zM259.8 422.7h0.8v0.8h-0.8zM257.8 395.2h0.8v0.8h-0.8z" fill="#515bc0"/>
<path d="M238.8 418.2h0.8v0.8h-0.8zM229.2 431.9h0.8v0.8h-0.8zM262.1 422.7h0.8v0.8h-0.8zM269.0 423.0h0.8v0.8h-0.8zM266.7 377.0h0.8v0.8h-0.8zM259.8 422.2h0.8v0.8h-0.8zM255.8 413.8h0.8v0.8h-0.8z" fill="#505ac0"/>
<path d="M255.7 437.7h0.8v0.8h-0.8zM273.2 391.5h0.8v0.8h-0.8zM257.4 417.7h0.8v0.8h-0.8zM262.1 424.5h0.8v0.8h-0.8zM273.7 396.2h0.8v0.8h-0.8z" fill="#505abf"/>
<path d="M253.5 424.9h0.8v0.8h-0.8zM254.1 425.5h0.8v0.8h-0.8zM250.7 446.9h0.8v0.8h-0.8zM264.0 425.3h0.8v0.8h-0.8zM256.6 419.0h0.8v0.8h-0.8zM256.6 415.9h0.8v0.8h-0.8zM274.6 399.0h0.8v0.8h-0.8zM269.8 423.0h0.8v0.8h-0.8z" fill="#4f59bf"/>
<path d="M239.4 417.9h0.8v0.8h-0.8z" fill="#4e58bf"/>
<path d="M240.1 417.8h0.8v0.8h-0.8zM233.3 421.2h0.8v0.8h-0.8zM237.3 418.7h0.8v0.8h-0.8zM247.5 447.4h0.8v0.8h-0.8zM240.6 447.1h0.8v0.8h-0.8zM250.6 448.1h0.8v0.8h-0.8zM267.0 378.2h0.8v0.8h-0.8zM257.4 400.0h0.8v0.8h-0.8zM273.0 391.6h0.8v0.8h-0.8zM275.4 397.6h0.8v0.8h-0.8zM273.0 415.1h0.8v0.8h-0.8zM256.3 414.2h0.8v0.8h-0.8z" fill="#4e58be"/>
<path d="M251.1 423.9h0.8v0.8h-0.8zM256.9 438.4h0.8v0.8h-0.8zM228.6 431.3h0.8v0.8h-0.8zM251.0 445.8h0.8v0.8h-0.8zM271.2 387.4h0.8v0.8h-0.8zM269.8 384.3h0.8v0.8h-0.8zM257.2 404.5h0.8v0.8h-0.8zM254.6 426.8h0.8v0.8h-0.8z" fill="#4d57be"/>
<path d="M245.7 421.1h0.8v0.8h-0.8zM230.7 439.5h0.8v0.8h-0.8zM251.2 447.9h0.8v0.8h-0.8zM237.8 418.6h0.8v0.8h-0.8zM229.3 436.9h0.8v0.8h-0.8zM229.1 435.6h0.8v0.8h-0.8zM259.6 419.9h0.8v0.8h-0.8zM274.7 400.1h0.8v0.8h-0.8zM262.8 423.5h0.8v0.8h-0.8z" fill="#4c56bd"/>
<path d="M261.6 425.2h0.8v0.8h-0.8zM268.1 380.1h0.8v0.8h-0.8z" fill="#4b55bd"/>
<path d="M245.9 447.0h0.8v0.8h-0.8zM251.9 439.3h0.8v0.8h-0.8zM229.2 437.7h0.8v0.8h-0.8zM270.0 382.9h0.8v0.8h-0.8z" fill="#4b55bc"/>
<path d="M242.2 446.2h0.8v0.8h-0.8zM252.0 438.5h0.8v0.8h-0.8zM228.0 424.3h0.8v0.8h-0.8zM229.7 423.9h0.8v0.8h-0.8zM230.1 435.9h0.8v0.8h-0.8zM259.8 418.7h0.8v0.8h-0.8z" fill="#4a54bc"/>
<path d="M272.9 409.1h0.8v0.8h-0.8zM272.0 391.3h0.8v0.8h-0.8zM259.8 385.6h0.8v0.8h-0.8z" fill="#4953bc"/>
<path d="M254.0 429.0h0.8v0.8h-0.8zM253.8 430.3h0.8v0.8h-0.8zM241.2 445.6h0.8v0.8h-0.8zM230.2 439.3h0.8v0.8h-0.8zM228.0 425.7h0.8v0.8h-0.8zM233.4 441.2h0.8v0.8h-0.8zM267.8 422.2h0.8v0.8h-0.8zM258.6 391.8h0.8v0.8h-0.8zM257.7 394.8h0.8v0.8h-0.8zM256.5 401.0h0.8v0.8h-0.8z" fill="#4953bb"/>
<path d="M229.0 437.2h0.8v0.8h-0.8zM234.5 442.5h0.8v0.8h-0.8zM252.1 425.3h0.8v0.8h-0.8zM248.7 446.9h0.8v0.8h-0.8zM263.3 420.2h0.8v0.8h-0.8zM272.6 414.5h0.8v0.8h-0.8zM258.0 408.1h0.8v0.8h-0.8zM241.3 446.4h0.8v0.8h-0.8z" fill="#4852bb"/>
<path d="M251.6 431.4h0.8v0.8h-0.8zM251.4 424.0h0.8v0.8h-0.8zM240.6 445.6h0.8v0.8h-0.8zM228.7 427.9h0.8v0.8h-0.8zM240.0 446.2h0.8v0.8h-0.8zM269.1 382.6h0.8v0.8h-0.8zM269.8 385.7h0.8v0.8h-0.8zM264.7 424.4h0.8v0.8h-0.8zM257.1 410.7h0.8v0.8h-0.8z" fill="#4751ba"/>
<path d="M252.5 430.4h0.8v0.8h-0.8zM231.4 438.7h0.8v0.8h-0.8zM264.1 421.6h0.8v0.8h-0.8zM271.6 419.0h0.8v0.8h-0.8zM258.3 415.3h0.8v0.8h-0.8zM273.3 420.5h0.8v0.8h-0.8z" fill="#4650ba"/>
<path d="M235.7 442.6h0.8v0.8h-0.8zM253.0 428.7h0.8v0.8h-0.8zM251.0 443.0h0.8v0.8h-0.8zM264.1 424.8h0.8v0.8h-0.8zM251.1 424.8h0.8v0.8h-0.8z" fill="#4650b9"/>
<path d="M243.8 420.5h0.8v0.8h-0.8zM229.3 427.6h0.8v0.8h-0.8zM249.0 445.5h0.8v0.8h-0.8zM247.9 445.5h0.8v0.8h-0.8zM243.5 445.8h0.8v0.8h-0.8zM245.5 421.0h0.8v0.8h-0.8zM248.9 446.1h0.8v0.8h-0.8zM259.0 387.6h0.8v0.8h-0.8zM267.0 379.3h0.8v0.8h-0.8zM272.6 394.7h0.8v0.8h-0.8zM258.3 405.6h0.8v0.8h-0.8z" fill="#454fb9"/>
<path d="M238.7 420.0h0.8v0.8h-0.8zM229.6 424.8h0.8v0.8h-0.8zM262.0 420.4h0.8v0.8h-0.8z" fill="#444eb9"/>
<path d="M239.0 444.2h0.8v0.8h-0.8zM246.0 446.4h0.8v0.8h-0.8zM239.5 444.8h0.8v0.8h-0.8zM251.6 435.0h0.8v0.8h-0.8zM273.4 411.1h0.8v0.8h-0.8zM274.2 401.0h0.8v0.8h-0.8z" fill="#444eb8"/>
<path d="M249.8 443.8h0.8v0.8h-0.8zM253.5 427.7h0.8v0.8h-0.8zM229.7 436.0h0.8v0.8h-0.8zM227.9 424.8h0.8v0.8h-0.8zM268.9 382.3h0.8v0.8h-0.8zM258.9 394.3h0.8v0.8h-0.8z" fill="#434db8"/>
<path d="M263.9 423.4h0.8v0.8h-0.8zM271.4 389.1h0.8v0.8h-0.8z" fill="#424cb8"/>
<path d="M237.5 443.0h0.8v0.8h-0.8zM229.4 427.1h0.8v0.8h-0.8zM228.4 425.1h0.8v0.8h-0.8zM229.9 433.7h0.8v0.8h-0.8zM271.0 387.7h0.8v0.8h-0.8z" fill="#424cb7"/>
<path d="M232.3 439.6h0.8v0.8h-0.8zM239.5 419.6h0.8v0.8h-0.8zM250.5 432.1h0.8v0.8h-0.8zM269.3 386.3h0.8v0.8h-0.8zM272.8 409.6h0.8v0.8h-0.8zM261.1 383.9h0.8v0.8h-0.8z" fill="#414bb7"/>
<path d="M228.6 425.5h0.8v0.8h-0.8zM258.4 406.4h0.8v0.8h-0.8zM263.2 382.3h0.8v0.8h-0.8zM264.1 422.4h0.8v0.8h-0.8zM273.3 395.5h0.8v0.8h-0.8z" fill="#404ab6"/>
<path d="M248.1 444.5h0.8v0.8h-0.8zM251.6 427.2h0.8v0.8h-0.8zM233.1 421.7h0.8v0.8h-0.8zM244.7 446.4h0.8v0.8h-0.8zM230.9 437.5h0.8v0.8h-0.8zM273.0 412.7h0.8v0.8h-0.8zM257.4 412.8h0.8v0.8h-0.8zM271.7 421.6h0.8v0.8h-0.8zM253.3 426.7h0.8v0.8h-0.8z" fill="#3f49b6"/>
<path d="M251.4 427.1h0.8v0.8h-0.8z" fill="#3f49b5"/>
<path d="M241.8 419.5h0.8v0.8h-0.8zM251.2 434.3h0.8v0.8h-0.8zM265.6 379.6h0.8v0.8h-0.8zM258.4 411.9h0.8v0.8h-0.8zM270.8 422.4h0.8v0.8h-0.8z" fill="#3e48b5"/>
<path d="M250.7 428.3h0.8v0.8h-0.8zM237.6 443.2h0.8v0.8h-0.8zM258.0 413.9h0.8v0.8h-0.8z" fill="#3d47b4"/>
<path d="M252.2 427.9h0.8v0.8h-0.8zM260.9 385.2h0.8v0.8h-0.8zM274.3 404.2h0.8v0.8h-0.8zM273.7 399.1h0.8v0.8h-0.8z" fill="#3c46b4"/>
<path d="M246.4 446.4h0.8v0.8h-0.8zM240.2 444.2h0.8v0.8h-0.8zM234.3 421.6h0.8v0.8h-0.8zM234.9 421.2h0.8v0.8h-0.8zM229.1 424.6h0.8v0.8h-0.8zM243.9 443.9h0.8v0.8h-0.8zM248.6 444.3h0.8v0.8h-0.8zM264.4 420.1h0.8v0.8h-0.8zM269.6 421.9h0.8v0.8h-0.8zM267.7 382.2h0.8v0.8h-0.8zM260.9 384.8h0.8v0.8h-0.8zM258.0 413.6h0.8v0.8h-0.8zM273.5 411.4h0.8v0.8h-0.8z" fill="#3b45b3"/>
<path d="M243.8 420.7h0.8v0.8h-0.8zM271.0 390.1h0.8v0.8h-0.8zM258.5 400.1h0.8v0.8h-0.8zM232.5 423.7h0.8v0.8h-0.8z" fill="#3b45b2"/>
<path d="M234.2 422.4h0.8v0.8h-0.8zM246.2 445.0h0.8v0.8h-0.8zM230.8 426.8h0.8v0.8h-0.8zM231.9 424.1h0.8v0.8h-0.8zM240.7 443.1h0.8v0.8h-0.8zM258.9 411.5h0.8v0.8h-0.8zM273.0 405.7h0.8v0.8h-0.8zM271.8 393.5h0.8v0.8h-0.8zM270.5 420.4h0.8v0.8h-0.8zM272.2 421.3h0.8v0.8h-0.8z" fill="#3a44b2"/>
<path d="M250.1 441.8h0.8v0.8h-0.8zM271.4 416.0h0.8v0.8h-0.8zM268.1 421.0h0.8v0.8h-0.8zM266.3 380.6h0.8v0.8h-0.8z" fill="#3a44b1"/>
<path d="M230.9 425.9h0.8v0.8h-0.8zM236.4 421.4h0.8v0.8h-0.8zM251.4 436.4h0.8v0.8h-0.8zM238.9 420.9h0.8v0.8h-0.8zM260.3 393.3h0.8v0.8h-0.8zM270.8 420.2h0.8v0.8h-0.8zM259.7 392.0h0.8v0.8h-0.8zM258.9 413.1h0.8v0.8h-0.8zM271.6 413.3h0.8v0.8h-0.8zM250.0 424.7h0.8v0.8h-0.8zM257.7 402.0h0.8v0.8h-0.8z" fill="#3943b1"/>
<path d="M250.1 440.6h0.8v0.8h-0.8zM240.7 444.2h0.8v0.8h-0.8zM271.0 390.0h0.8v0.8h-0.8zM258.3 413.1h0.8v0.8h-0.8zM271.4 420.7h0.8v0.8h-0.8zM264.5 381.1h0.8v0.8h-0.8zM272.0 420.7h0.8v0.8h-0.8zM258.3 403.1h0.8v0.8h-0.8zM265.0 420.3h0.8v0.8h-0.8z" fill="#3943b0"/>
<path d="M243.4 444.3h0.8v0.8h-0.8zM272.5 396.5h0.8v0.8h-0.8zM268.1 383.6h0.8v0.8h-0.8zM261.8 418.4h0.8v0.8h-0.8zM269.8 388.0h0.8v0.8h-0.8zM258.9 414.8h0.8v0.8h-0.8z" fill="#3842b0"/>
<path d="M236.9 441.5h0.8v0.8h-0.8zM250.7 437.1h0.8v0.8h-0.8zM247.7 422.6h0.8v0.8h-0.8zM239.1 421.3h0.8v0.8h-0.8zM242.1 421.2h0.8v0.8h-0.8zM243.1 421.1h0.8v0.8h-0.8zM230.0 428.0h0.8v0.8h-0.8zM250.8 438.0h0.8v0.8h-0.8zM245.7 443.8h0.8v0.8h-0.8zM231.0 426.9h0.8v0.8h-0.8zM250.2 443.1h0.8v0.8h-0.8zM231.8 425.0h0.8v0.8h-0.8zM249.9 433.4h0.8v0.8h-0.8zM240.0 442.2h0.8v0.8h-0.8zM271.7 412.2h0.8v0.8h-0.8zM258.9 405.7h0.8v0.8h-0.8zM272.0 410.6h0.8v0.8h-0.8zM258.9 409.6h0.8v0.8h-0.8zM258.6 397.4h0.8v0.8h-0.8zM259.4 407.0h0.8v0.8h-0.8zM262.0 418.2h0.8v0.8h-0.8zM272.1 393.8h0.8v0.8h-0.8zM260.5 416.5h0.8v0.8h-0.8z" fill="#3842af"/>
<path d="M243.4 443.9h0.8v0.8h-0.8zM233.2 439.7h0.8v0.8h-0.8zM273.0 398.1h0.8v0.8h-0.8zM270.1 419.1h0.8v0.8h-0.8z" fill="#3741af"/>
<path d="M233.4 423.9h0.8v0.8h-0.8zM250.5 435.5h0.8v0.8h-0.8zM250.1 441.8h0.8v0.8h-0.8zM241.6 420.6h0.8v0.8h-0.8zM250.6 434.9h0.8v0.8h-0.8zM235.3 441.4h0.8v0.8h-0.8zM244.7 442.6h0.8v0.8h-0.8zM249.1 443.0h0.8v0.8h-0.8zM251.0 436.5h0.8v0.8h-0.8zM242.6 442.9h0.8v0.8h-0.8zM265.5 420.9h0.8v0.8h-0.8zM273.2 405.1h0.8v0.8h-0.8zM269.8 419.0h0.8v0.8h-0.8zM258.4 399.3h0.8v0.8h-0.8zM259.2 412.0h0.8v0.8h-0.8zM259.3 411.9h0.8v0.8h-0.8z" fill="#3741ae"/>
<path d="M248.0 423.2h0.8v0.8h-0.8zM237.1 442.4h0.8v0.8h-0.8zM250.3 428.7h0.8v0.8h-0.8zM250.1 426.6h0.8v0.8h-0.8zM248.1 444.2h0.8v0.8h-0.8zM244.0 444.5h0.8v0.8h-0.8zM243.8 443.4h0.8v0.8h-0.8zM248.2 422.7h0.8v0.8h-0.8zM248.7 424.9h0.8v0.8h-0.8zM263.6 381.9h0.8v0.8h-0.8zM269.8 420.0h0.8v0.8h-0.8zM272.8 398.0h0.8v0.8h-0.8zM271.1 415.5h0.8v0.8h-0.8zM266.8 421.2h0.8v0.8h-0.8zM270.6 392.3h0.8v0.8h-0.8zM259.9 389.4h0.8v0.8h-0.8zM264.6 381.1h0.8v0.8h-0.8zM272.5 401.4h0.8v0.8h-0.8zM260.4 394.0h0.8v0.8h-0.8zM270.7 410.1h0.8v0.8h-0.8zM264.9 420.1h0.8v0.8h-0.8zM266.3 421.0h0.8v0.8h-0.8zM258.7 407.7h0.8v0.8h-0.8zM272.7 404.8h0.8v0.8h-0.8zM235.9 421.9h0.8v0.8h-0.8z" fill="#3640ad"/>
<path d="M232.0 434.7h0.8v0.8h-0.8zM249.7 429.7h0.8v0.8h-0.8zM246.9 423.4h0.8v0.8h-0.8zM270.7 420.7h0.8v0.8h-0.8zM272.1 407.1h0.8v0.8h-0.8z" fill="#3640ac"/>
<path d="M249.4 441.9h0.8v0.8h-0.8zM242.0 421.4h0.8v0.8h-0.8zM232.3 435.5h0.8v0.8h-0.8zM259.8 394.6h0.8v0.8h-0.8zM259.6 387.7h0.8v0.8h-0.8zM272.2 412.3h0.8v0.8h-0.8zM270.7 419.8h0.8v0.8h-0.8zM258.6 397.5h0.8v0.8h-0.8zM262.3 384.8h0.8v0.8h-0.8zM262.3 417.9h0.8v0.8h-0.8zM265.9 420.0h0.8v0.8h-0.8zM258.6 409.6h0.8v0.8h-0.8zM259.1 409.7h0.8v0.8h-0.8zM273.1 400.5h0.8v0.8h-0.8z" fill="#353fac"/>
<path d="M242.7 442.7h0.8v0.8h-0.8zM240.4 442.0h0.8v0.8h-0.8zM242.8 442.1h0.8v0.8h-0.8zM235.7 421.6h0.8v0.8h-0.8zM260.0 394.5h0.8v0.8h-0.8zM270.9 391.8h0.8v0.8h-0.8zM268.6 387.7h0.8v0.8h-0.8zM259.5 408.6h0.8v0.8h-0.8z" fill="#353fab"/>
<path d="M239.3 421.5h0.8v0.8h-0.8zM250.6 437.7h0.8v0.8h-0.8zM249.8 433.3h0.8v0.8h-0.8zM234.3 423.8h0.8v0.8h-0.8zM235.8 421.7h0.8v0.8h-0.8zM269.7 389.6h0.8v0.8h-0.8zM272.9 399.1h0.8v0.8h-0.8zM266.6 420.0h0.8v0.8h-0.8zM259.7 416.1h0.8v0.8h-0.8zM271.7 398.0h0.8v0.8h-0.8zM268.2 385.5h0.8v0.8h-0.8zM260.1 388.2h0.8v0.8h-0.8zM259.5 414.9h0.8v0.8h-0.8zM263.4 383.7h0.8v0.8h-0.8zM260.6 413.5h0.8v0.8h-0.8z" fill="#343eab"/>
<path d="M238.5 422.4h0.8v0.8h-0.8zM262.8 384.4h0.8v0.8h-0.8zM271.4 410.1h0.8v0.8h-0.8zM270.2 388.8h0.8v0.8h-0.8zM273.2 403.9h0.8v0.8h-0.8zM261.7 385.8h0.8v0.8h-0.8zM268.5 386.5h0.8v0.8h-0.8z" fill="#343eaa"/>
<path d="M247.7 442.9h0.8v0.8h-0.8zM246.0 442.3h0.8v0.8h-0.8zM231.5 426.6h0.8v0.8h-0.8zM234.3 440.1h0.8v0.8h-0.8zM263.6 382.3h0.8v0.8h-0.8zM261.1 412.7h0.8v0.8h-0.8zM264.9 382.1h0.8v0.8h-0.8zM263.5 383.6h0.8v0.8h-0.8z" fill="#333daa"/>
<path d="M231.2 433.1h0.8v0.8h-0.8zM249.6 430.5h0.8v0.8h-0.8zM231.2 433.3h0.8v0.8h-0.8zM236.7 421.6h0.8v0.8h-0.8zM260.1 415.9h0.8v0.8h-0.8zM270.6 412.5h0.8v0.8h-0.8zM270.7 413.4h0.8v0.8h-0.8zM273.4 403.6h0.8v0.8h-0.8zM270.6 395.0h0.8v0.8h-0.8zM261.6 387.3h0.8v0.8h-0.8zM259.5 403.2h0.8v0.8h-0.8zM260.3 396.3h0.8v0.8h-0.8zM267.3 384.6h0.8v0.8h-0.8z" fill="#333da9"/>
<path d="M236.2 441.1h0.8v0.8h-0.8zM236.3 440.8h0.8v0.8h-0.8z" fill="#323ca9"/>
<path d="M232.9 425.2h0.8v0.8h-0.8zM248.2 424.4h0.8v0.8h-0.8zM244.7 422.7h0.8v0.8h-0.8zM231.4 430.9h0.8v0.8h-0.8zM233.5 439.0h0.8v0.8h-0.8zM250.3 439.0h0.8v0.8h-0.8zM261.9 417.4h0.8v0.8h-0.8zM268.5 389.0h0.8v0.8h-0.8zM273.4 401.3h0.8v0.8h-0.8zM271.0 415.2h0.8v0.8h-0.8z" fill="#323ca8"/>
<path d="M241.2 442.4h0.8v0.8h-0.8zM245.8 441.9h0.8v0.8h-0.8zM250.0 436.9h0.8v0.8h-0.8zM245.1 441.6h0.8v0.8h-0.8zM260.7 414.0h0.8v0.8h-0.8zM261.2 411.3h0.8v0.8h-0.8zM266.9 382.9h0.8v0.8h-0.8zM268.6 416.8h0.8v0.8h-0.8zM271.5 405.7h0.8v0.8h-0.8zM260.5 395.4h0.8v0.8h-0.8zM270.6 394.6h0.8v0.8h-0.8zM266.0 417.6h0.8v0.8h-0.8zM270.9 414.4h0.8v0.8h-0.8zM261.0 391.7h0.8v0.8h-0.8zM259.1 404.4h0.8v0.8h-0.8zM259.0 399.0h0.8v0.8h-0.8zM259.8 395.8h0.8v0.8h-0.8zM264.0 417.4h0.8v0.8h-0.8zM271.5 414.9h0.8v0.8h-0.8zM265.3 416.6h0.8v0.8h-0.8zM265.5 416.9h0.8v0.8h-0.8zM263.3 386.1h0.8v0.8h-0.8zM262.2 416.8h0.8v0.8h-0.8z" fill="#313ba7"/>
<path d="M246.3 442.1h0.8v0.8h-0.8zM269.9 416.4h0.8v0.8h-0.8z" fill="#313ba6"/>
<path d="M250.4 430.0h0.8v0.8h-0.8zM234.4 423.5h0.8v0.8h-0.8zM233.0 426.3h0.8v0.8h-0.8zM242.2 422.0h0.8v0.8h-0.8zM248.2 442.5h0.8v0.8h-0.8zM233.2 437.9h0.8v0.8h-0.8zM232.6 436.0h0.8v0.8h-0.8zM231.0 429.1h0.8v0.8h-0.8zM266.2 385.2h0.8v0.8h-0.8zM265.7 419.0h0.8v0.8h-0.8zM263.2 416.8h0.8v0.8h-0.8zM266.3 384.5h0.8v0.8h-0.8zM261.9 411.2h0.8v0.8h-0.8zM271.2 408.4h0.8v0.8h-0.8zM260.4 409.8h0.8v0.8h-0.8zM267.1 418.8h0.8v0.8h-0.8zM263.8 417.1h0.8v0.8h-0.8zM266.5 383.0h0.8v0.8h-0.8zM259.8 397.3h0.8v0.8h-0.8zM261.4 409.8h0.8v0.8h-0.8zM266.0 382.3h0.8v0.8h-0.8zM268.0 387.0h0.8v0.8h-0.8zM258.9 403.6h0.8v0.8h-0.8zM260.9 386.7h0.8v0.8h-0.8zM271.5 396.6h0.8v0.8h-0.8z" fill="#303aa6"/>
<path d="M230.7 429.2h0.8v0.8h-0.8zM232.3 433.8h0.8v0.8h-0.8zM267.8 417.7h0.8v0.8h-0.8zM260.5 387.8h0.8v0.8h-0.8zM272.2 402.5h0.8v0.8h-0.8zM265.2 382.3h0.8v0.8h-0.8z" fill="#303aa5"/>
<path d="M250.3 438.7h0.8v0.8h-0.8zM244.9 423.5h0.8v0.8h-0.8zM243.4 440.6h0.8v0.8h-0.8zM249.7 436.4h0.8v0.8h-0.8zM243.7 423.1h0.8v0.8h-0.8zM242.7 440.6h0.8v0.8h-0.8zM240.6 441.4h0.8v0.8h-0.8zM237.1 441.1h0.8v0.8h-0.8zM243.4 421.6h0.8v0.8h-0.8zM267.1 382.9h0.8v0.8h-0.8zM259.6 405.2h0.8v0.8h-0.8zM260.0 408.5h0.8v0.8h-0.8zM266.2 382.4h0.8v0.8h-0.8zM267.9 418.6h0.8v0.8h-0.8zM270.3 410.4h0.8v0.8h-0.8z" fill="#2f39a5"/>
<path d="M245.9 423.1h0.8v0.8h-0.8zM231.6 434.1h0.8v0.8h-0.8zM242.5 422.7h0.8v0.8h-0.8zM247.8 441.9h0.8v0.8h-0.8zM230.5 431.1h0.8v0.8h-0.8zM248.1 442.4h0.8v0.8h-0.8zM233.0 434.5h0.8v0.8h-0.8zM272.5 402.8h0.8v0.8h-0.8zM262.3 417.2h0.8v0.8h-0.8zM260.9 415.6h0.8v0.8h-0.8zM259.3 398.6h0.8v0.8h-0.8zM269.1 417.1h0.8v0.8h-0.8z" fill="#2f39a4"/>
<path d="M249.5 436.4h0.8v0.8h-0.8zM240.5 422.1h0.8v0.8h-0.8zM248.4 424.2h0.8v0.8h-0.8zM261.1 392.5h0.8v0.8h-0.8zM272.5 398.7h0.8v0.8h-0.8zM263.9 382.6h0.8v0.8h-0.8zM259.5 408.1h0.8v0.8h-0.8z" fill="#2e38a4"/>
<path d="M271.9 399.1h0.8v0.8h-0.8zM265.7 418.9h0.8v0.8h-0.8zM260.6 409.6h0.8v0.8h-0.8zM267.2 383.8h0.8v0.8h-0.8zM267.1 418.3h0.8v0.8h-0.8zM263.8 385.3h0.8v0.8h-0.8zM265.6 384.0h0.8v0.8h-0.8zM268.2 418.6h0.8v0.8h-0.8zM260.8 390.3h0.8v0.8h-0.8zM265.0 415.8h0.8v0.8h-0.8zM260.4 404.1h0.8v0.8h-0.8z" fill="#2e38a3"/>
<path d="M247.7 424.2h0.8v0.8h-0.8zM231.3 432.1h0.8v0.8h-0.8zM239.1 422.6h0.8v0.8h-0.8zM264.3 383.9h0.8v0.8h-0.8z" fill="#2d37a3"/>
<path d="M248.0 424.4h0.8v0.8h-0.8zM232.6 427.7h0.8v0.8h-0.8zM240.6 423.0h0.8v0.8h-0.8zM248.3 442.3h0.8v0.8h-0.8zM269.6 410.7h0.8v0.8h-0.8zM261.7 415.3h0.8v0.8h-0.8zM261.4 394.8h0.8v0.8h-0.8zM265.2 384.9h0.8v0.8h-0.8zM264.7 416.7h0.8v0.8h-0.8zM271.9 405.7h0.8v0.8h-0.8zM264.3 384.6h0.8v0.8h-0.8zM261.6 387.5h0.8v0.8h-0.8zM267.0 418.7h0.8v0.8h-0.8zM266.4 419.4h0.8v0.8h-0.8z" fill="#2d37a2"/>
<path d="M232.1 428.6h0.8v0.8h-0.8zM249.2 432.2h0.8v0.8h-0.8zM249.2 427.2h0.8v0.8h-0.8zM233.6 426.3h0.8v0.8h-0.8zM241.7 440.6h0.8v0.8h-0.8zM230.6 430.0h0.8v0.8h-0.8zM259.6 398.2h0.8v0.8h-0.8zM262.7 416.8h0.8v0.8h-0.8zM272.4 405.3h0.8v0.8h-0.8zM261.1 390.9h0.8v0.8h-0.8zM264.0 384.8h0.8v0.8h-0.8zM261.6 414.1h0.8v0.8h-0.8zM267.0 384.2h0.8v0.8h-0.8zM265.6 384.4h0.8v0.8h-0.8zM268.9 411.5h0.8v0.8h-0.8zM268.4 417.9h0.8v0.8h-0.8zM267.0 418.6h0.8v0.8h-0.8zM265.4 385.8h0.8v0.8h-0.8zM261.0 389.3h0.8v0.8h-0.8zM272.2 405.7h0.8v0.8h-0.8zM263.7 385.0h0.8v0.8h-0.8zM269.2 417.4h0.8v0.8h-0.8zM262.0 394.1h0.8v0.8h-0.8zM261.2 390.2h0.8v0.8h-0.8z" fill="#2c36a1"/>
<path d="M261.3 397.0h0.8v0.8h-0.8zM270.4 410.2h0.8v0.8h-0.8zM261.6 388.1h0.8v0.8h-0.8zM264.7 383.5h0.8v0.8h-0.8zM260.7 388.6h0.8v0.8h-0.8z" fill="#2c36a0"/>
<path d="M241.7 422.8h0.8v0.8h-0.8zM232.6 428.0h0.8v0.8h-0.8zM234.0 426.4h0.8v0.8h-0.8zM249.3 430.0h0.8v0.8h-0.8zM239.7 440.6h0.8v0.8h-0.8zM233.8 437.6h0.8v0.8h-0.8zM232.9 436.6h0.8v0.8h-0.8zM232.3 429.3h0.8v0.8h-0.8zM233.9 438.2h0.8v0.8h-0.8zM236.0 440.2h0.8v0.8h-0.8zM261.0 415.1h0.8v0.8h-0.8zM264.5 390.4h0.8v0.8h-0.8zM260.5 416.1h0.8v0.8h-0.8zM261.6 413.4h0.8v0.8h-0.8zM268.9 410.5h0.8v0.8h-0.8zM261.3 410.1h0.8v0.8h-0.8zM264.3 387.6h0.8v0.8h-0.8zM262.1 390.2h0.8v0.8h-0.8zM270.2 414.0h0.8v0.8h-0.8zM261.5 414.8h0.8v0.8h-0.8zM259.8 406.0h0.8v0.8h-0.8zM271.8 402.5h0.8v0.8h-0.8zM244.4 423.4h0.8v0.8h-0.8z" fill="#2b35a0"/>
<path d="M239.9 422.8h0.8v0.8h-0.8zM244.8 441.3h0.8v0.8h-0.8zM248.9 433.2h0.8v0.8h-0.8zM235.7 422.8h0.8v0.8h-0.8zM271.7 400.2h0.8v0.8h-0.8zM260.2 396.7h0.8v0.8h-0.8zM266.4 385.6h0.8v0.8h-0.8z" fill="#2b359f"/>
<path d="M248.9 429.5h0.8v0.8h-0.8zM236.0 439.6h0.8v0.8h-0.8zM262.9 416.4h0.8v0.8h-0.8zM270.3 414.7h0.8v0.8h-0.8zM266.4 383.0h0.8v0.8h-0.8z" fill="#2a349f"/>
<path d="M242.2 440.8h0.8v0.8h-0.8zM261.0 390.1h0.8v0.8h-0.8zM270.3 413.7h0.8v0.8h-0.8zM267.9 417.5h0.8v0.8h-0.8zM268.9 416.1h0.8v0.8h-0.8zM266.2 386.9h0.8v0.8h-0.8zM268.0 387.7h0.8v0.8h-0.8zM269.6 395.4h0.8v0.8h-0.8zM272.3 404.3h0.8v0.8h-0.8z" fill="#2a349e"/>
<path d="M231.9 429.0h0.8v0.8h-0.8zM234.8 423.5h0.8v0.8h-0.8zM263.4 389.0h0.8v0.8h-0.8zM264.6 391.1h0.8v0.8h-0.8zM267.5 388.1h0.8v0.8h-0.8zM262.2 409.9h0.8v0.8h-0.8zM261.7 391.4h0.8v0.8h-0.8zM235.4 424.2h0.8v0.8h-0.8z" fill="#29339e"/>
<path d="M236.2 423.4h0.8v0.8h-0.8zM243.0 439.8h0.8v0.8h-0.8zM249.5 436.5h0.8v0.8h-0.8zM242.3 424.5h0.8v0.8h-0.8zM263.5 416.4h0.8v0.8h-0.8zM272.5 401.1h0.8v0.8h-0.8zM260.4 399.2h0.8v0.8h-0.8zM261.1 389.0h0.8v0.8h-0.8zM268.2 417.3h0.8v0.8h-0.8zM261.9 392.3h0.8v0.8h-0.8zM262.8 412.5h0.8v0.8h-0.8zM259.8 404.3h0.8v0.8h-0.8zM263.5 413.9h0.8v0.8h-0.8zM267.1 415.8h0.8v0.8h-0.8z" fill="#29339d"/>
<path d="M270.2 408.9h0.8v0.8h-0.8zM262.0 391.9h0.8v0.8h-0.8z" fill="#28329d"/>
<path d="M242.3 422.7h0.8v0.8h-0.8zM243.1 423.6h0.8v0.8h-0.8zM239.7 424.1h0.8v0.8h-0.8zM246.5 424.0h0.8v0.8h-0.8zM241.4 423.1h0.8v0.8h-0.8zM234.1 437.9h0.8v0.8h-0.8zM260.9 395.8h0.8v0.8h-0.8zM262.5 388.2h0.8v0.8h-0.8zM269.2 415.0h0.8v0.8h-0.8zM260.4 399.7h0.8v0.8h-0.8zM264.1 387.5h0.8v0.8h-0.8zM260.8 406.3h0.8v0.8h-0.8zM260.4 401.1h0.8v0.8h-0.8zM266.4 387.5h0.8v0.8h-0.8zM262.4 413.5h0.8v0.8h-0.8zM262.1 390.5h0.8v0.8h-0.8z" fill="#28329c"/>
<path d="M246.8 424.3h0.8v0.8h-0.8zM243.9 423.6h0.8v0.8h-0.8zM246.5 440.6h0.8v0.8h-0.8zM249.1 438.9h0.8v0.8h-0.8zM248.7 431.0h0.8v0.8h-0.8zM240.5 422.7h0.8v0.8h-0.8zM234.5 427.3h0.8v0.8h-0.8zM234.2 427.1h0.8v0.8h-0.8zM236.7 439.8h0.8v0.8h-0.8zM268.3 416.2h0.8v0.8h-0.8zM268.9 412.1h0.8v0.8h-0.8zM262.6 391.6h0.8v0.8h-0.8zM267.4 388.1h0.8v0.8h-0.8zM263.6 388.7h0.8v0.8h-0.8zM268.5 412.6h0.8v0.8h-0.8zM262.6 412.5h0.8v0.8h-0.8zM261.6 390.9h0.8v0.8h-0.8zM268.2 389.6h0.8v0.8h-0.8zM259.9 401.2h0.8v0.8h-0.8z" fill="#27319b"/>
<path d="M234.4 437.8h0.8v0.8h-0.8zM249.3 431.7h0.8v0.8h-0.8zM248.8 434.9h0.8v0.8h-0.8zM264.5 388.2h0.8v0.8h-0.8zM264.5 415.1h0.8v0.8h-0.8z" fill="#27319a"/>
<path d="M238.5 440.4h0.8v0.8h-0.8zM239.4 424.5h0.8v0.8h-0.8zM235.3 436.2h0.8v0.8h-0.8zM233.3 434.5h0.8v0.8h-0.8zM236.8 440.4h0.8v0.8h-0.8zM240.4 440.0h0.8v0.8h-0.8zM244.0 439.8h0.8v0.8h-0.8zM234.3 435.6h0.8v0.8h-0.8zM235.1 437.9h0.8v0.8h-0.8zM265.9 387.9h0.8v0.8h-0.8zM271.0 400.7h0.8v0.8h-0.8zM269.3 410.7h0.8v0.8h-0.8zM271.1 406.9h0.8v0.8h-0.8zM265.6 387.3h0.8v0.8h-0.8zM260.1 402.1h0.8v0.8h-0.8zM261.6 414.0h0.8v0.8h-0.8zM265.9 415.8h0.8v0.8h-0.8zM265.8 389.6h0.8v0.8h-0.8zM265.2 389.2h0.8v0.8h-0.8zM260.4 403.3h0.8v0.8h-0.8zM263.3 388.4h0.8v0.8h-0.8z" fill="#26309a"/>
<path d="M235.4 425.1h0.8v0.8h-0.8zM233.3 434.0h0.8v0.8h-0.8zM262.3 415.2h0.8v0.8h-0.8zM259.8 402.2h0.8v0.8h-0.8zM260.1 398.4h0.8v0.8h-0.8z" fill="#263099"/>
<path d="M242.0 439.6h0.8v0.8h-0.8zM241.7 423.9h0.8v0.8h-0.8zM249.2 439.5h0.8v0.8h-0.8zM247.8 425.8h0.8v0.8h-0.8zM238.4 423.6h0.8v0.8h-0.8zM246.8 440.8h0.8v0.8h-0.8zM234.7 438.3h0.8v0.8h-0.8zM232.1 431.5h0.8v0.8h-0.8zM261.3 407.6h0.8v0.8h-0.8zM262.0 388.9h0.8v0.8h-0.8zM268.4 414.8h0.8v0.8h-0.8zM264.8 387.3h0.8v0.8h-0.8z" fill="#252f99"/>
<path d="M239.2 440.2h0.8v0.8h-0.8zM261.2 397.6h0.8v0.8h-0.8zM271.0 400.5h0.8v0.8h-0.8zM265.1 389.1h0.8v0.8h-0.8z" fill="#252f98"/>
<path d="M237.2 439.5h0.8v0.8h-0.8zM234.4 437.9h0.8v0.8h-0.8zM235.6 437.6h0.8v0.8h-0.8zM265.2 387.1h0.8v0.8h-0.8zM262.7 410.0h0.8v0.8h-0.8zM267.3 389.1h0.8v0.8h-0.8zM271.4 402.9h0.8v0.8h-0.8zM266.8 416.0h0.8v0.8h-0.8zM264.4 390.8h0.8v0.8h-0.8z" fill="#242e98"/>
<path d="M246.5 440.4h0.8v0.8h-0.8zM237.4 423.9h0.8v0.8h-0.8zM267.8 414.5h0.8v0.8h-0.8zM271.4 406.3h0.8v0.8h-0.8zM260.5 399.1h0.8v0.8h-0.8zM267.3 390.5h0.8v0.8h-0.8zM263.0 389.1h0.8v0.8h-0.8zM264.1 413.7h0.8v0.8h-0.8zM270.8 400.9h0.8v0.8h-0.8zM268.7 413.1h0.8v0.8h-0.8zM270.5 398.4h0.8v0.8h-0.8zM263.7 392.0h0.8v0.8h-0.8zM271.3 403.2h0.8v0.8h-0.8z" fill="#242e97"/>
<path d="M264.7 414.5h0.8v0.8h-0.8zM268.7 391.9h0.8v0.8h-0.8zM260.6 407.2h0.8v0.8h-0.8z" fill="#232d97"/>
<path d="M236.9 423.9h0.8v0.8h-0.8zM236.2 423.8h0.8v0.8h-0.8zM249.3 431.1h0.8v0.8h-0.8zM239.5 425.3h0.8v0.8h-0.8zM246.7 439.7h0.8v0.8h-0.8zM238.5 424.2h0.8v0.8h-0.8zM231.5 432.5h0.8v0.8h-0.8zM247.6 439.9h0.8v0.8h-0.8zM248.0 439.7h0.8v0.8h-0.8zM235.3 438.0h0.8v0.8h-0.8zM231.8 430.3h0.8v0.8h-0.8zM234.5 437.3h0.8v0.8h-0.8zM234.1 427.7h0.8v0.8h-0.8zM266.4 388.7h0.8v0.8h-0.8zM261.4 407.4h0.8v0.8h-0.8zM263.0 394.0h0.8v0.8h-0.8zM266.0 389.1h0.8v0.8h-0.8zM263.5 391.9h0.8v0.8h-0.8zM262.4 394.8h0.8v0.8h-0.8zM265.8 390.3h0.8v0.8h-0.8zM270.6 405.7h0.8v0.8h-0.8zM264.4 392.5h0.8v0.8h-0.8z" fill="#232d96"/>
<path d="M235.4 434.8h0.8v0.8h-0.8zM234.6 437.1h0.8v0.8h-0.8zM235.0 426.4h0.8v0.8h-0.8zM234.2 434.6h0.8v0.8h-0.8zM240.6 425.1h0.8v0.8h-0.8zM261.7 389.6h0.8v0.8h-0.8zM262.0 407.6h0.8v0.8h-0.8zM260.5 402.1h0.8v0.8h-0.8z" fill="#232e96"/>
<path d="M247.5 428.3h0.8v0.8h-0.8zM235.7 438.0h0.8v0.8h-0.8zM243.7 440.2h0.8v0.8h-0.8zM268.0 391.1h0.8v0.8h-0.8zM270.3 392.8h0.8v0.8h-0.8z" fill="#232f96"/>
<path d="M234.7 437.4h0.8v0.8h-0.8zM242.8 424.4h0.8v0.8h-0.8zM240.4 424.3h0.8v0.8h-0.8zM260.8 402.7h0.8v0.8h-0.8zM262.9 388.7h0.8v0.8h-0.8z" fill="#233096"/>
<path d="M232.9 433.7h0.8v0.8h-0.8zM232.8 429.7h0.8v0.8h-0.8zM267.3 389.6h0.8v0.8h-0.8zM265.2 389.2h0.8v0.8h-0.8zM264.3 412.1h0.8v0.8h-0.8zM260.3 400.3h0.8v0.8h-0.8z" fill="#233196"/>
<path d="M247.9 429.4h0.8v0.8h-0.8zM239.7 440.5h0.8v0.8h-0.8zM267.9 413.4h0.8v0.8h-0.8zM265.9 388.4h0.8v0.8h-0.8zM267.9 390.0h0.8v0.8h-0.8z" fill="#233297"/>
<path d="M245.8 425.1h0.8v0.8h-0.8zM263.5 396.3h0.8v0.8h-0.8zM264.5 415.4h0.8v0.8h-0.8zM259.8 400.4h0.8v0.8h-0.8z" fill="#233397"/>
<path d="M234.2 429.0h0.8v0.8h-0.8zM240.1 439.9h0.8v0.8h-0.8zM235.4 426.2h0.8v0.8h-0.8zM248.7 438.1h0.8v0.8h-0.8zM247.7 427.0h0.8v0.8h-0.8zM240.2 425.1h0.8v0.8h-0.8zM268.3 414.8h0.8v0.8h-0.8zM270.1 398.1h0.8v0.8h-0.8z" fill="#233497"/>
<path d="M248.4 428.0h0.8v0.8h-0.8zM248.1 428.3h0.8v0.8h-0.8zM264.1 414.8h0.8v0.8h-0.8zM269.5 413.9h0.8v0.8h-0.8z" fill="#233597"/>
<path d="M247.7 430.4h0.8v0.8h-0.8zM247.8 439.6h0.8v0.8h-0.8zM237.5 439.8h0.8v0.8h-0.8zM267.5 390.5h0.8v0.8h-0.8z" fill="#233697"/>
<path d="M268.3 390.5h0.8v0.8h-0.8zM262.2 408.6h0.8v0.8h-0.8zM269.7 408.5h0.8v0.8h-0.8zM268.5 414.1h0.8v0.8h-0.8z" fill="#233798"/>
<path d="M234.4 437.3h0.8v0.8h-0.8zM268.4 413.6h0.8v0.8h-0.8zM270.0 399.4h0.8v0.8h-0.8zM267.2 388.7h0.8v0.8h-0.8zM267.1 411.2h0.8v0.8h-0.8z" fill="#233898"/>
<path d="M233.4 433.3h0.8v0.8h-0.8zM238.2 440.2h0.8v0.8h-0.8zM261.4 399.4h0.8v0.8h-0.8zM264.4 411.2h0.8v0.8h-0.8zM267.3 409.6h0.8v0.8h-0.8zM267.5 390.0h0.8v0.8h-0.8z" fill="#233998"/>
<path d="M244.8 424.7h0.8v0.8h-0.8zM261.4 405.2h0.8v0.8h-0.8zM260.9 405.6h0.8v0.8h-0.8z" fill="#233a98"/>
<path d="M270.0 398.1h0.8v0.8h-0.8zM267.0 391.4h0.8v0.8h-0.8zM263.5 395.8h0.8v0.8h-0.8zM268.4 412.4h0.8v0.8h-0.8z" fill="#233b98"/>
<path d="M248.0 436.8h0.8v0.8h-0.8zM267.5 410.7h0.8v0.8h-0.8zM263.9 411.1h0.8v0.8h-0.8z" fill="#243c99"/>
<path d="M238.4 424.1h0.8v0.8h-0.8zM247.8 431.1h0.8v0.8h-0.8zM231.9 431.5h0.8v0.8h-0.8zM270.8 401.2h0.8v0.8h-0.8zM263.2 409.5h0.8v0.8h-0.8z" fill="#243d99"/>
<path d="M246.1 424.9h0.8v0.8h-0.8zM232.9 432.7h0.8v0.8h-0.8zM270.6 400.3h0.8v0.8h-0.8zM261.3 403.9h0.8v0.8h-0.8zM266.2 413.6h0.8v0.8h-0.8zM263.0 409.5h0.8v0.8h-0.8zM267.5 391.0h0.8v0.8h-0.8z" fill="#243e99"/>
<path d="M243.5 424.8h0.8v0.8h-0.8zM247.9 435.2h0.8v0.8h-0.8zM239.6 425.7h0.8v0.8h-0.8zM262.7 393.1h0.8v0.8h-0.8zM263.2 395.3h0.8v0.8h-0.8zM267.8 414.6h0.8v0.8h-0.8z" fill="#243f99"/>
<path d="M237.7 424.3h0.8v0.8h-0.8zM237.1 424.4h0.8v0.8h-0.8zM234.9 427.0h0.8v0.8h-0.8zM239.4 439.5h0.8v0.8h-0.8zM247.8 435.8h0.8v0.8h-0.8zM261.4 403.9h0.8v0.8h-0.8zM269.1 395.6h0.8v0.8h-0.8zM263.6 414.4h0.8v0.8h-0.8z" fill="#244099"/>
<path d="M234.6 436.2h0.8v0.8h-0.8zM245.6 424.8h0.8v0.8h-0.8zM236.6 437.6h0.8v0.8h-0.8zM246.8 424.7h0.8v0.8h-0.8zM269.5 402.2h0.8v0.8h-0.8zM264.6 411.1h0.8v0.8h-0.8z" fill="#24419a"/>
<path d="M247.7 438.5h0.8v0.8h-0.8zM240.9 425.5h0.8v0.8h-0.8zM236.9 437.5h0.8v0.8h-0.8zM248.4 427.1h0.8v0.8h-0.8zM262.2 405.4h0.8v0.8h-0.8z" fill="#24429a"/>
<path d="M246.8 439.6h0.8v0.8h-0.8zM235.2 433.7h0.8v0.8h-0.8zM237.0 439.4h0.8v0.8h-0.8zM237.4 424.8h0.8v0.8h-0.8zM261.0 402.4h0.8v0.8h-0.8zM262.7 393.6h0.8v0.8h-0.8z" fill="#24439a"/>
<path d="M245.4 438.9h0.8v0.8h-0.8zM248.0 426.8h0.8v0.8h-0.8zM267.2 412.1h0.8v0.8h-0.8zM268.7 393.2h0.8v0.8h-0.8zM268.7 407.7h0.8v0.8h-0.8zM262.5 397.8h0.8v0.8h-0.8zM269.0 409.1h0.8v0.8h-0.8z" fill="#24449a"/>
<path d="M245.6 439.6h0.8v0.8h-0.8zM234.5 437.3h0.8v0.8h-0.8zM268.1 412.7h0.8v0.8h-0.8zM265.9 414.6h0.8v0.8h-0.8zM265.5 388.9h0.8v0.8h-0.8zM269.0 392.5h0.8v0.8h-0.8z" fill="#24459a"/>
<path d="M248.2 438.2h0.8v0.8h-0.8zM238.0 438.6h0.8v0.8h-0.8zM248.4 427.0h0.8v0.8h-0.8zM238.1 424.2h0.8v0.8h-0.8zM264.1 410.6h0.8v0.8h-0.8zM267.4 414.0h0.8v0.8h-0.8zM263.5 393.3h0.8v0.8h-0.8z" fill="#24469b"/>
<path d="M247.1 439.8h0.8v0.8h-0.8zM238.4 424.1h0.8v0.8h-0.8zM233.7 432.7h0.8v0.8h-0.8zM270.1 398.1h0.8v0.8h-0.8zM271.0 404.0h0.8v0.8h-0.8zM270.1 406.9h0.8v0.8h-0.8z" fill="#24479b"/>
<path d="M236.5 425.9h0.8v0.8h-0.8zM262.4 406.2h0.8v0.8h-0.8zM266.8 412.0h0.8v0.8h-0.8zM263.6 412.8h0.8v0.8h-0.8zM269.1 393.9h0.8v0.8h-0.8zM266.9 412.2h0.8v0.8h-0.8z" fill="#24489b"/>
<path d="M236.1 435.6h0.8v0.8h-0.8zM269.5 407.4h0.8v0.8h-0.8zM262.2 398.2h0.8v0.8h-0.8zM264.5 414.4h0.8v0.8h-0.8zM270.5 402.6h0.8v0.8h-0.8z" fill="#24499b"/>
<path d="M236.2 425.8h0.8v0.8h-0.8zM262.0 398.8h0.8v0.8h-0.8zM262.0 403.6h0.8v0.8h-0.8z" fill="#244a9b"/>
<path d="M248.3 432.3h0.8v0.8h-0.8zM241.9 438.9h0.8v0.8h-0.8zM235.9 435.5h0.8v0.8h-0.8zM266.1 410.9h0.8v0.8h-0.8zM267.3 409.6h0.8v0.8h-0.8z" fill="#254b9c"/>
<path d="M247.6 438.6h0.8v0.8h-0.8zM245.9 424.9h0.8v0.8h-0.8zM269.0 392.1h0.8v0.8h-0.8zM268.8 395.9h0.8v0.8h-0.8zM266.0 412.9h0.8v0.8h-0.8z" fill="#254c9c"/>
<path d="M269.6 403.4h0.8v0.8h-0.8zM261.6 406.2h0.8v0.8h-0.8zM266.6 414.2h0.8v0.8h-0.8zM265.5 410.8h0.8v0.8h-0.8zM269.0 408.8h0.8v0.8h-0.8z" fill="#254d9c"/>
<path d="M236.1 436.2h0.8v0.8h-0.8zM247.7 432.9h0.8v0.8h-0.8zM237.9 425.2h0.8v0.8h-0.8zM268.8 408.9h0.8v0.8h-0.8zM264.1 410.1h0.8v0.8h-0.8zM267.5 392.3h0.8v0.8h-0.8z" fill="#254e9c"/>
<path d="M238.1 438.8h0.8v0.8h-0.8zM235.2 428.5h0.8v0.8h-0.8zM234.5 434.5h0.8v0.8h-0.8zM235.5 428.4h0.8v0.8h-0.8zM247.9 437.2h0.8v0.8h-0.8zM270.4 398.3h0.8v0.8h-0.8zM262.3 407.8h0.8v0.8h-0.8zM263.6 410.5h0.8v0.8h-0.8z" fill="#254f9c"/>
<path d="M233.6 428.8h0.8v0.8h-0.8zM236.4 435.9h0.8v0.8h-0.8zM233.3 429.7h0.8v0.8h-0.8zM248.2 437.8h0.8v0.8h-0.8zM260.8 401.5h0.8v0.8h-0.8zM266.3 413.8h0.8v0.8h-0.8z" fill="#25509d"/>
<path d="M244.9 439.0h0.8v0.8h-0.8zM233.4 431.9h0.8v0.8h-0.8zM246.6 440.0h0.8v0.8h-0.8zM262.8 397.5h0.8v0.8h-0.8zM267.3 390.8h0.8v0.8h-0.8zM268.0 409.3h0.8v0.8h-0.8z" fill="#25519d"/>
<path d="M248.1 427.9h0.8v0.8h-0.8zM240.8 439.1h0.8v0.8h-0.8zM261.9 405.0h0.8v0.8h-0.8zM269.4 401.2h0.8v0.8h-0.8zM266.9 414.4h0.8v0.8h-0.8zM267.8 414.5h0.8v0.8h-0.8z" fill="#25529d"/>
<path d="M243.8 425.3h0.8v0.8h-0.8zM237.2 426.4h0.8v0.8h-0.8zM233.6 433.5h0.8v0.8h-0.8zM265.0 412.6h0.8v0.8h-0.8zM267.6 390.8h0.8v0.8h-0.8zM267.8 390.9h0.8v0.8h-0.8z" fill="#25539d"/>
<path d="M232.9 430.6h0.8v0.8h-0.8zM247.6 438.8h0.8v0.8h-0.8zM264.6 413.1h0.8v0.8h-0.8zM264.0 412.2h0.8v0.8h-0.8zM268.8 399.6h0.8v0.8h-0.8zM265.9 412.2h0.8v0.8h-0.8z" fill="#25549d"/>
<path d="M263.9 413.5h0.8v0.8h-0.8zM269.5 406.2h0.8v0.8h-0.8zM269.1 400.0h0.8v0.8h-0.8z" fill="#25559e"/>
<path d="M237.4 425.7h0.8v0.8h-0.8zM268.2 413.4h0.8v0.8h-0.8zM269.6 403.1h0.8v0.8h-0.8zM269.2 394.0h0.8v0.8h-0.8z" fill="#25569e"/>
<path d="M244.0 424.6h0.8v0.8h-0.8zM246.7 427.3h0.8v0.8h-0.8zM269.4 399.1h0.8v0.8h-0.8zM262.8 407.8h0.8v0.8h-0.8zM269.3 397.4h0.8v0.8h-0.8zM262.3 401.0h0.8v0.8h-0.8zM267.0 413.2h0.8v0.8h-0.8zM261.5 401.3h0.8v0.8h-0.8zM261.8 399.4h0.8v0.8h-0.8z" fill="#25579e"/>
<path d="M236.7 438.4h0.8v0.8h-0.8zM270.0 399.2h0.8v0.8h-0.8zM264.2 407.7h0.8v0.8h-0.8z" fill="#25589e"/>
<path d="M248.2 431.2h0.8v0.8h-0.8zM246.2 425.5h0.8v0.8h-0.8zM236.9 438.5h0.8v0.8h-0.8zM261.8 397.9h0.8v0.8h-0.8zM265.8 410.2h0.8v0.8h-0.8zM261.5 406.2h0.8v0.8h-0.8zM269.4 393.1h0.8v0.8h-0.8z" fill="#25599e"/>
<path d="M236.5 435.5h0.8v0.8h-0.8zM247.3 425.7h0.8v0.8h-0.8zM261.2 401.2h0.8v0.8h-0.8z" fill="#265a9f"/>
<path d="M246.8 426.4h0.8v0.8h-0.8zM232.6 429.8h0.8v0.8h-0.8zM243.7 425.0h0.8v0.8h-0.8zM269.6 399.4h0.8v0.8h-0.8zM268.7 401.4h0.8v0.8h-0.8z" fill="#265b9f"/>
<path d="M234.4 433.3h0.8v0.8h-0.8zM232.7 431.9h0.8v0.8h-0.8zM263.7 394.3h0.8v0.8h-0.8zM269.0 397.0h0.8v0.8h-0.8zM266.1 411.7h0.8v0.8h-0.8zM269.9 400.9h0.8v0.8h-0.8zM269.8 399.6h0.8v0.8h-0.8z" fill="#265c9f"/>
<path d="M233.9 432.1h0.8v0.8h-0.8zM248.0 436.6h0.8v0.8h-0.8zM237.2 424.7h0.8v0.8h-0.8zM269.2 393.0h0.8v0.8h-0.8zM268.7 402.2h0.8v0.8h-0.8z" fill="#265d9f"/>
<path d="M242.8 426.0h0.8v0.8h-0.8zM241.0 425.9h0.8v0.8h-0.8zM248.0 431.3h0.8v0.8h-0.8zM247.9 436.5h0.8v0.8h-0.8zM270.0 403.8h0.8v0.8h-0.8zM261.8 404.4h0.8v0.8h-0.8zM263.0 397.2h0.8v0.8h-0.8z" fill="#265e9f"/>
<path d="M232.7 430.6h0.8v0.8h-0.8zM232.6 430.8h0.8v0.8h-0.8zM247.2 429.5h0.8v0.8h-0.8zM233.7 430.6h0.8v0.8h-0.8zM268.7 394.4h0.8v0.8h-0.8zM263.3 406.0h0.8v0.8h-0.8zM268.3 400.3h0.8v0.8h-0.8zM267.6 408.9h0.8v0.8h-0.8zM263.9 409.0h0.8v0.8h-0.8z" fill="#265fa0"/>
<path d="M248.2 439.2h0.8v0.8h-0.8z" fill="#2660a0"/>
<path d="M234.0 432.8h0.8v0.8h-0.8z" fill="#2661a0"/>
<path d="M247.2 437.9h0.8v0.8h-0.8zM237.1 425.5h0.8v0.8h-0.8zM238.5 439.5h0.8v0.8h-0.8zM263.9 406.6h0.8v0.8h-0.8zM262.0 406.6h0.8v0.8h-0.8zM265.2 412.4h0.8v0.8h-0.8z" fill="#2662a0"/>
<path d="M265.1 413.2h0.8v0.8h-0.8zM270.0 404.6h0.8v0.8h-0.8z" fill="#2663a0"/>
<path d="M238.5 426.0h0.8v0.8h-0.8zM265.3 411.7h0.8v0.8h-0.8z" fill="#2664a1"/>
<path d="M246.7 430.4h0.8v0.8h-0.8zM247.9 431.3h0.8v0.8h-0.8zM235.1 429.2h0.8v0.8h-0.8zM270.3 402.2h0.8v0.8h-0.8zM268.6 395.8h0.8v0.8h-0.8zM269.4 392.8h0.8v0.8h-0.8zM263.4 409.5h0.8v0.8h-0.8zM262.4 407.5h0.8v0.8h-0.8z" fill="#2665a1"/>
<path d="M242.6 438.7h0.8v0.8h-0.8zM236.7 435.4h0.8v0.8h-0.8zM235.6 433.9h0.8v0.8h-0.8zM236.0 427.3h0.8v0.8h-0.8zM269.0 402.4h0.8v0.8h-0.8zM268.6 394.2h0.8v0.8h-0.8zM264.9 411.1h0.8v0.8h-0.8zM263.1 408.3h0.8v0.8h-0.8z" fill="#2666a1"/>
<path d="M241.2 426.3h0.8v0.8h-0.8zM238.4 438.2h0.8v0.8h-0.8zM263.9 395.2h0.8v0.8h-0.8zM269.8 404.9h0.8v0.8h-0.8zM267.8 393.5h0.8v0.8h-0.8zM266.8 414.1h0.8v0.8h-0.8zM264.7 392.9h0.8v0.8h-0.8z" fill="#2667a1"/>
<path d="M247.1 435.9h0.8v0.8h-0.8zM266.4 391.7h0.8v0.8h-0.8zM265.7 412.6h0.8v0.8h-0.8z" fill="#2668a1"/>
<path d="M265.6 414.0h0.8v0.8h-0.8zM263.2 398.1h0.8v0.8h-0.8zM264.1 394.7h0.8v0.8h-0.8z" fill="#2769a2"/>
<path d="M246.4 437.5h0.8v0.8h-0.8zM236.7 434.8h0.8v0.8h-0.8zM261.6 400.0h0.8v0.8h-0.8zM268.7 401.6h0.8v0.8h-0.8zM265.8 393.3h0.8v0.8h-0.8zM263.5 393.5h0.8v0.8h-0.8z" fill="#276aa2"/>
<path d="M267.6 397.0h0.8v0.8h-0.8zM264.7 411.6h0.8v0.8h-0.8zM269.4 393.1h0.8v0.8h-0.8z" fill="#276ba2"/>
<path d="M236.4 427.5h0.8v0.8h-0.8zM268.8 404.2h0.8v0.8h-0.8zM267.5 399.8h0.8v0.8h-0.8z" fill="#276ca2"/>
<path d="M241.2 439.3h0.8v0.8h-0.8zM239.0 438.8h0.8v0.8h-0.8zM239.0 438.1h0.8v0.8h-0.8zM246.9 438.9h0.8v0.8h-0.8zM234.8 432.5h0.8v0.8h-0.8zM234.2 432.6h0.8v0.8h-0.8zM265.7 411.4h0.8v0.8h-0.8zM261.7 402.1h0.8v0.8h-0.8zM268.0 394.0h0.8v0.8h-0.8z" fill="#276da2"/>
<path d="M241.9 426.3h0.8v0.8h-0.8zM237.3 425.9h0.8v0.8h-0.8zM246.3 426.0h0.8v0.8h-0.8zM262.7 408.4h0.8v0.8h-0.8zM263.9 393.6h0.8v0.8h-0.8zM268.2 393.5h0.8v0.8h-0.8zM269.3 398.5h0.8v0.8h-0.8z" fill="#276ea3"/>
<path d="M244.9 437.6h0.8v0.8h-0.8zM240.0 439.4h0.8v0.8h-0.8zM262.7 396.5h0.8v0.8h-0.8zM267.3 408.6h0.8v0.8h-0.8z" fill="#276fa3"/>
<path d="M246.9 439.3h0.8v0.8h-0.8zM239.9 425.6h0.8v0.8h-0.8zM266.6 392.6h0.8v0.8h-0.8zM265.3 393.1h0.8v0.8h-0.8z" fill="#2770a3"/>
<path d="M268.5 396.0h0.8v0.8h-0.8zM262.9 407.2h0.8v0.8h-0.8zM264.5 392.6h0.8v0.8h-0.8z" fill="#2771a3"/>
<path d="M247.2 428.0h0.8v0.8h-0.8zM246.5 436.1h0.8v0.8h-0.8zM236.2 426.6h0.8v0.8h-0.8zM268.6 407.5h0.8v0.8h-0.8zM269.0 401.1h0.8v0.8h-0.8z" fill="#2772a3"/>
<path d="M242.8 439.1h0.8v0.8h-0.8zM239.6 438.7h0.8v0.8h-0.8zM269.1 396.2h0.8v0.8h-0.8zM266.7 408.2h0.8v0.8h-0.8zM261.9 400.3h0.8v0.8h-0.8z" fill="#2773a4"/>
<path d="M238.2 426.3h0.8v0.8h-0.8zM234.7 432.1h0.8v0.8h-0.8zM264.6 409.7h0.8v0.8h-0.8zM269.6 405.6h0.8v0.8h-0.8z" fill="#2774a4"/>
<path d="M235.4 430.1h0.8v0.8h-0.8zM247.3 435.3h0.8v0.8h-0.8zM237.6 438.4h0.8v0.8h-0.8zM269.4 396.8h0.8v0.8h-0.8zM265.2 397.4h0.8v0.8h-0.8zM263.5 398.9h0.8v0.8h-0.8zM264.2 405.2h0.8v0.8h-0.8zM267.2 400.3h0.8v0.8h-0.8z" fill="#2775a4"/>
<path d="M246.1 439.1h0.8v0.8h-0.8z" fill="#2776a4"/>
<path d="M264.2 408.8h0.8v0.8h-0.8z" fill="#2777a4"/>
<path d="M247.2 427.7h0.8v0.8h-0.8zM268.8 405.9h0.8v0.8h-0.8zM267.1 407.6h0.8v0.8h-0.8zM262.2 403.5h0.8v0.8h-0.8zM264.2 397.0h0.8v0.8h-0.8zM269.7 404.8h0.8v0.8h-0.8zM263.5 407.5h0.8v0.8h-0.8zM265.9 409.7h0.8v0.8h-0.8z" fill="#2878a4"/>
<path d="M267.7 395.5h0.8v0.8h-0.8zM269.2 394.1h0.8v0.8h-0.8z" fill="#2979a2"/>
<path d="M236.4 433.3h0.8v0.8h-0.8zM265.2 393.4h0.8v0.8h-0.8zM264.8 395.4h0.8v0.8h-0.8z" fill="#2a7aa1"/>
<path d="M241.8 426.0h0.8v0.8h-0.8zM264.7 406.3h0.8v0.8h-0.8z" fill="#2a7ba1"/>
<path d="M244.1 437.5h0.8v0.8h-0.8zM246.8 434.7h0.8v0.8h-0.8zM268.3 398.0h0.8v0.8h-0.8z" fill="#2a7ba0"/>
<path d="M234.0 432.0h0.8v0.8h-0.8z" fill="#2b7ba0"/>
<path d="M233.6 431.2h0.8v0.8h-0.8zM236.2 433.3h0.8v0.8h-0.8zM265.8 407.8h0.8v0.8h-0.8zM263.7 397.5h0.8v0.8h-0.8zM262.2 401.6h0.8v0.8h-0.8z" fill="#2b7c9f"/>
<path d="M245.5 426.7h0.8v0.8h-0.8zM264.7 409.4h0.8v0.8h-0.8z" fill="#2c7c9e"/>
<path d="M265.0 393.1h0.8v0.8h-0.8zM268.0 402.3h0.8v0.8h-0.8z" fill="#2c7d9e"/>
<path d="M245.9 437.6h0.8v0.8h-0.8zM267.3 393.1h0.8v0.8h-0.8zM269.3 398.8h0.8v0.8h-0.8zM263.3 406.8h0.8v0.8h-0.8z" fill="#2c7d9d"/>
<path d="M246.9 432.1h0.8v0.8h-0.8zM266.1 394.2h0.8v0.8h-0.8zM263.6 394.4h0.8v0.8h-0.8zM268.8 400.8h0.8v0.8h-0.8z" fill="#2d7e9c"/>
<path d="M266.5 409.3h0.8v0.8h-0.8z" fill="#2d7f9c"/>
<path d="M247.0 431.4h0.8v0.8h-0.8zM247.1 427.2h0.8v0.8h-0.8zM268.3 399.0h0.8v0.8h-0.8zM262.7 406.8h0.8v0.8h-0.8zM267.6 406.5h0.8v0.8h-0.8z" fill="#2e7f9b"/>
<path d="M267.5 392.8h0.8v0.8h-0.8z" fill="#2e809a"/>
<path d="M244.0 426.0h0.8v0.8h-0.8z" fill="#2f809a"/>
<path d="M238.3 435.5h0.8v0.8h-0.8z" fill="#2f8099"/>
<path d="M265.7 395.5h0.8v0.8h-0.8zM265.7 393.6h0.8v0.8h-0.8z" fill="#2f8199"/>
<path d="M241.8 438.0h0.8v0.8h-0.8z" fill="#308198"/>
<path d="M264.5 408.5h0.8v0.8h-0.8zM267.6 407.0h0.8v0.8h-0.8z" fill="#308298"/>
<path d="M266.9 396.1h0.8v0.8h-0.8z" fill="#308297"/>
<path d="M238.1 427.2h0.8v0.8h-0.8z" fill="#318297"/>
<path d="M263.9 407.2h0.8v0.8h-0.8zM268.5 398.9h0.8v0.8h-0.8z" fill="#318397"/>
<path d="M243.3 426.5h0.8v0.8h-0.8zM244.2 426.4h0.8v0.8h-0.8zM244.7 438.5h0.8v0.8h-0.8zM268.4 393.4h0.8v0.8h-0.8zM265.2 405.3h0.8v0.8h-0.8zM263.4 406.9h0.8v0.8h-0.8zM267.6 393.6h0.8v0.8h-0.8zM263.9 397.7h0.8v0.8h-0.8z" fill="#318396"/>
<path d="M244.8 426.0h0.8v0.8h-0.8zM234.0 431.8h0.8v0.8h-0.8zM267.8 401.2h0.8v0.8h-0.8zM263.2 398.4h0.8v0.8h-0.8zM262.9 397.6h0.8v0.8h-0.8z" fill="#328495"/>
<path d="M266.7 396.9h0.8v0.8h-0.8z" fill="#328494"/>
<path d="M235.3 430.7h0.8v0.8h-0.8zM264.1 398.7h0.8v0.8h-0.8zM266.5 399.4h0.8v0.8h-0.8zM268.8 399.4h0.8v0.8h-0.8z" fill="#338594"/>
<path d="M268.5 399.1h0.8v0.8h-0.8z" fill="#338593"/>
<path d="M269.5 404.9h0.8v0.8h-0.8z" fill="#338693"/>
<path d="M266.4 393.4h0.8v0.8h-0.8zM264.2 399.1h0.8v0.8h-0.8zM264.0 408.0h0.8v0.8h-0.8zM267.3 402.2h0.8v0.8h-0.8zM267.7 397.9h0.8v0.8h-0.8z" fill="#348692"/>
<path d="M246.1 438.2h0.8v0.8h-0.8zM265.0 392.7h0.8v0.8h-0.8zM269.2 397.9h0.8v0.8h-0.8z" fill="#348791"/>
<path d="M241.3 438.3h0.8v0.8h-0.8zM269.3 403.8h0.8v0.8h-0.8zM267.7 401.9h0.8v0.8h-0.8zM268.5 394.0h0.8v0.8h-0.8zM265.4 396.5h0.8v0.8h-0.8zM265.8 407.5h0.8v0.8h-0.8z" fill="#358791"/>
<path d="M262.3 401.2h0.8v0.8h-0.8zM267.5 402.8h0.8v0.8h-0.8zM262.2 399.6h0.8v0.8h-0.8zM268.0 403.4h0.8v0.8h-0.8z" fill="#358890"/>
<path d="M263.3 404.5h0.8v0.8h-0.8zM262.9 399.6h0.8v0.8h-0.8zM264.6 393.6h0.8v0.8h-0.8z" fill="#36898f"/>
<path d="M236.4 429.3h0.8v0.8h-0.8zM269.3 399.0h0.8v0.8h-0.8z" fill="#36898e"/>
<path d="M239.8 438.5h0.8v0.8h-0.8zM266.3 398.9h0.8v0.8h-0.8z" fill="#378a8e"/>
<path d="M241.7 427.2h0.8v0.8h-0.8zM236.7 427.2h0.8v0.8h-0.8z" fill="#378a8d"/>
<path d="M244.7 437.4h0.8v0.8h-0.8z" fill="#378b8d"/>
<path d="M246.8 433.7h0.8v0.8h-0.8zM266.2 393.7h0.8v0.8h-0.8zM265.2 399.4h0.8v0.8h-0.8z" fill="#388b8c"/>
<path d="M234.2 431.2h0.8v0.8h-0.8z" fill="#388c8b"/>
<path d="M265.8 408.8h0.8v0.8h-0.8z" fill="#398c8b"/>
<path d="M237.3 427.0h0.8v0.8h-0.8zM266.9 401.3h0.8v0.8h-0.8zM264.1 394.5h0.8v0.8h-0.8z" fill="#398c8a"/>
<path d="M247.4 430.4h0.8v0.8h-0.8zM237.4 426.8h0.8v0.8h-0.8zM267.1 406.0h0.8v0.8h-0.8zM263.9 406.2h0.8v0.8h-0.8zM261.6 400.6h0.8v0.8h-0.8z" fill="#398d8a"/>
<path d="M241.5 426.7h0.8v0.8h-0.8zM244.1 437.9h0.8v0.8h-0.8zM238.3 427.4h0.8v0.8h-0.8zM262.8 402.7h0.8v0.8h-0.8z" fill="#3a8d89"/>
<path d="M266.2 396.8h0.8v0.8h-0.8z" fill="#3a8e89"/>
<path d="M243.8 438.1h0.8v0.8h-0.8z" fill="#3a8e88"/>
<path d="M263.5 405.9h0.8v0.8h-0.8z" fill="#3b8e88"/>
<path d="M267.8 405.2h0.8v0.8h-0.8zM266.3 404.8h0.8v0.8h-0.8zM269.5 406.8h0.8v0.8h-0.8zM263.7 404.2h0.8v0.8h-0.8z" fill="#3b8f87"/>
<path d="M268.4 392.5h0.8v0.8h-0.8zM267.8 403.7h0.8v0.8h-0.8z" fill="#3c9086"/>
<path d="M245.7 437.2h0.8v0.8h-0.8zM269.0 404.7h0.8v0.8h-0.8z" fill="#3c9085"/>
<path d="M240.7 438.4h0.8v0.8h-0.8zM264.0 395.2h0.8v0.8h-0.8zM264.7 408.3h0.8v0.8h-0.8z" fill="#3d9185"/>
<path d="M247.4 433.2h0.8v0.8h-0.8z" fill="#3d9184"/>
<path d="M247.4 429.6h0.8v0.8h-0.8zM264.6 405.0h0.8v0.8h-0.8z" fill="#3d9284"/>
<path d="M268.8 405.4h0.8v0.8h-0.8zM268.2 408.2h0.8v0.8h-0.8z" fill="#3e9283"/>
<path d="M239.4 437.3h0.8v0.8h-0.8zM266.2 399.5h0.8v0.8h-0.8z" fill="#3e9383"/>
<path d="M268.7 407.2h0.8v0.8h-0.8zM263.9 398.6h0.8v0.8h-0.8zM266.4 399.6h0.8v0.8h-0.8zM265.9 393.3h0.8v0.8h-0.8z" fill="#3e9382"/>
<path d="M237.0 428.3h0.8v0.8h-0.8zM268.3 402.3h0.8v0.8h-0.8zM266.0 397.3h0.8v0.8h-0.8z" fill="#3f9382"/>
<path d="M243.6 438.1h0.8v0.8h-0.8zM234.2 431.0h0.8v0.8h-0.8zM266.1 397.0h0.8v0.8h-0.8zM265.1 408.0h0.8v0.8h-0.8z" fill="#3f9481"/>
<path d="M247.2 437.2h0.8v0.8h-0.8z" fill="#409480"/>
<path d="M240.0 437.8h0.8v0.8h-0.8zM245.8 426.6h0.8v0.8h-0.8zM265.6 408.0h0.8v0.8h-0.8zM267.3 398.7h0.8v0.8h-0.8zM267.5 406.0h0.8v0.8h-0.8zM263.3 399.3h0.8v0.8h-0.8zM268.3 395.4h0.8v0.8h-0.8z" fill="#409580"/>
<path d="M245.9 428.8h0.8v0.8h-0.8zM246.7 436.8h0.8v0.8h-0.8zM267.5 408.4h0.8v0.8h-0.8z" fill="#40957f"/>
<path d="M241.2 426.9h0.8v0.8h-0.8zM245.3 437.7h0.8v0.8h-0.8zM246.8 433.7h0.8v0.8h-0.8z" fill="#41967e"/>
<path d="M246.2 427.8h0.8v0.8h-0.8z" fill="#41977e"/>
<path d="M244.9 436.5h0.8v0.8h-0.8zM265.8 408.1h0.8v0.8h-0.8zM265.5 398.0h0.8v0.8h-0.8zM265.8 407.0h0.8v0.8h-0.8zM267.2 395.6h0.8v0.8h-0.8z" fill="#42977d"/>
<path d="M267.6 396.7h0.8v0.8h-0.8z" fill="#43987c"/>
<path d="M246.8 437.2h0.8v0.8h-0.8z" fill="#43987b"/>
<path d="M267.7 407.6h0.8v0.8h-0.8zM265.5 396.0h0.8v0.8h-0.8zM265.5 401.6h0.8v0.8h-0.8zM264.3 398.0h0.8v0.8h-0.8z" fill="#43997b"/>
<path d="M266.8 396.5h0.8v0.8h-0.8z" fill="#44997a"/>
<path d="M245.9 437.8h0.8v0.8h-0.8zM266.4 394.3h0.8v0.8h-0.8zM266.6 403.5h0.8v0.8h-0.8zM265.5 396.5h0.8v0.8h-0.8z" fill="#449a7a"/>
<path d="M246.2 435.1h0.8v0.8h-0.8z" fill="#449a79"/>
<path d="M262.6 403.3h0.8v0.8h-0.8z" fill="#459a79"/>
<path d="M247.3 435.8h0.8v0.8h-0.8zM246.3 427.0h0.8v0.8h-0.8zM245.7 427.7h0.8v0.8h-0.8zM244.6 437.7h0.8v0.8h-0.8zM267.4 397.6h0.8v0.8h-0.8zM266.0 396.9h0.8v0.8h-0.8zM268.3 408.3h0.8v0.8h-0.8zM268.4 403.9h0.8v0.8h-0.8zM267.5 397.1h0.8v0.8h-0.8zM265.3 408.5h0.8v0.8h-0.8z" fill="#459b78"/>
<path d="M265.0 399.8h0.8v0.8h-0.8z" fill="#469c77"/>
<path d="M247.5 433.6h0.8v0.8h-0.8zM235.4 430.5h0.8v0.8h-0.8z" fill="#469c76"/>
<path d="M263.8 399.3h0.8v0.8h-0.8zM265.2 399.4h0.8v0.8h-0.8z" fill="#479d76"/>
<path d="M268.0 394.8h0.8v0.8h-0.8z" fill="#479d75"/>
<path d="M234.6 430.4h0.8v0.8h-0.8zM237.8 436.3h0.8v0.8h-0.8zM239.4 436.8h0.8v0.8h-0.8z" fill="#479e75"/>
<path d="M243.5 436.5h0.8v0.8h-0.8zM263.3 400.8h0.8v0.8h-0.8z" fill="#489f74"/>
<path d="M246.5 431.7h0.8v0.8h-0.8z" fill="#489f73"/>
<path d="M267.0 395.6h0.8v0.8h-0.8z" fill="#499f73"/>
<path d="M239.0 437.2h0.8v0.8h-0.8zM246.2 428.5h0.8v0.8h-0.8zM241.2 437.9h0.8v0.8h-0.8z" fill="#49a072"/>
<path d="M241.8 438.0h0.8v0.8h-0.8zM239.5 426.7h0.8v0.8h-0.8z" fill="#4aa171"/>
<path d="M246.4 438.2h0.8v0.8h-0.8zM236.0 429.7h0.8v0.8h-0.8zM236.6 426.9h0.8v0.8h-0.8zM267.9 397.4h0.8v0.8h-0.8z" fill="#4aa170"/>
<path d="M241.9 438.4h0.8v0.8h-0.8zM267.8 403.8h0.8v0.8h-0.8zM265.5 394.8h0.8v0.8h-0.8zM266.0 398.8h0.8v0.8h-0.8zM264.5 395.6h0.8v0.8h-0.8z" fill="#4ba270"/>
<path d="M236.1 433.4h0.8v0.8h-0.8zM238.3 435.6h0.8v0.8h-0.8zM234.5 429.6h0.8v0.8h-0.8zM262.9 401.9h0.8v0.8h-0.8zM263.0 400.7h0.8v0.8h-0.8zM263.5 402.8h0.8v0.8h-0.8z" fill="#4ba26f"/>
<path d="M264.0 405.0h0.8v0.8h-0.8zM265.9 404.3h0.8v0.8h-0.8z" fill="#4ca36e"/>
<path d="M245.9 436.2h0.8v0.8h-0.8zM239.3 427.2h0.8v0.8h-0.8zM263.5 403.1h0.8v0.8h-0.8zM266.1 408.3h0.8v0.8h-0.8z" fill="#4da46d"/>
<path d="M235.5 429.7h0.8v0.8h-0.8zM246.9 433.9h0.8v0.8h-0.8zM247.4 434.9h0.8v0.8h-0.8zM265.6 394.6h0.8v0.8h-0.8z" fill="#4da56c"/>
<path d="M247.4 433.2h0.8v0.8h-0.8zM269.3 405.2h0.8v0.8h-0.8zM268.2 403.4h0.8v0.8h-0.8z" fill="#4ea56b"/>
<path d="M247.3 433.8h0.8v0.8h-0.8zM266.2 404.8h0.8v0.8h-0.8zM264.6 401.2h0.8v0.8h-0.8z" fill="#4ea66b"/>
<path d="M265.8 405.0h0.8v0.8h-0.8zM266.5 393.5h0.8v0.8h-0.8z" fill="#4ea66a"/>
<path d="M237.6 435.6h0.8v0.8h-0.8zM235.7 431.3h0.8v0.8h-0.8z" fill="#4fa66a"/>
<path d="M263.6 405.3h0.8v0.8h-0.8zM266.8 394.2h0.8v0.8h-0.8z" fill="#4fa76a"/>
<path d="M268.8 405.3h0.8v0.8h-0.8zM263.4 404.2h0.8v0.8h-0.8z" fill="#4fa769"/>
<path d="M244.4 426.9h0.8v0.8h-0.8zM266.0 403.2h0.8v0.8h-0.8zM265.1 406.6h0.8v0.8h-0.8z" fill="#50a868"/>
<path d="M267.0 405.7h0.8v0.8h-0.8zM266.7 407.5h0.8v0.8h-0.8zM264.8 398.1h0.8v0.8h-0.8z" fill="#50a867"/>
<path d="M238.5 426.5h0.8v0.8h-0.8zM243.2 437.8h0.8v0.8h-0.8zM267.4 407.5h0.8v0.8h-0.8z" fill="#50a967"/>
<path d="M265.2 398.6h0.8v0.8h-0.8zM268.8 403.5h0.8v0.8h-0.8zM266.0 400.0h0.8v0.8h-0.8zM262.7 403.9h0.8v0.8h-0.8z" fill="#51a967"/>
<path d="M241.6 426.9h0.8v0.8h-0.8zM269.3 405.5h0.8v0.8h-0.8z" fill="#51a966"/>
<path d="M245.2 426.7h0.8v0.8h-0.8z" fill="#51aa66"/>
<path d="M240.2 437.0h0.8v0.8h-0.8zM239.1 436.4h0.8v0.8h-0.8zM266.8 398.3h0.8v0.8h-0.8zM264.8 395.5h0.8v0.8h-0.8z" fill="#52aa65"/>
<path d="M266.2 394.0h0.8v0.8h-0.8zM264.9 405.9h0.8v0.8h-0.8z" fill="#52ab64"/>
<path d="M244.1 437.3h0.8v0.8h-0.8zM264.9 395.3h0.8v0.8h-0.8z" fill="#53ab64"/>
<path d="M246.3 431.5h0.8v0.8h-0.8zM246.3 434.0h0.8v0.8h-0.8z" fill="#53ac63"/>
<path d="M236.8 427.9h0.8v0.8h-0.8zM263.7 404.0h0.8v0.8h-0.8z" fill="#54ac62"/>
<path d="M240.4 427.9h0.8v0.8h-0.8zM246.0 429.3h0.8v0.8h-0.8zM240.2 437.0h0.8v0.8h-0.8zM265.4 403.0h0.8v0.8h-0.8zM265.7 400.0h0.8v0.8h-0.8z" fill="#54ad62"/>
<path d="M264.9 394.6h0.8v0.8h-0.8z" fill="#54ad61"/>
<path d="M264.5 402.5h0.8v0.8h-0.8zM265.9 401.4h0.8v0.8h-0.8z" fill="#55ae61"/>
<path d="M238.1 434.7h0.8v0.8h-0.8zM247.1 434.3h0.8v0.8h-0.8zM266.7 406.2h0.8v0.8h-0.8z" fill="#55ae60"/>
<path d="M267.4 403.2h0.8v0.8h-0.8z" fill="#56af5f"/>
<path d="M264.0 398.6h0.8v0.8h-0.8zM265.4 402.3h0.8v0.8h-0.8z" fill="#56b05e"/>
<path d="M244.2 426.5h0.8v0.8h-0.8zM239.6 436.8h0.8v0.8h-0.8zM264.5 401.2h0.8v0.8h-0.8z" fill="#57b05e"/>
<path d="M243.2 436.7h0.8v0.8h-0.8zM265.1 401.9h0.8v0.8h-0.8z" fill="#57b05d"/>
<path d="M245.9 431.7h0.8v0.8h-0.8z" fill="#57b15d"/>
<path d="M240.3 437.4h0.8v0.8h-0.8zM246.3 428.0h0.8v0.8h-0.8z" fill="#58b15c"/>
<path d="M266.0 399.1h0.8v0.8h-0.8z" fill="#58b25c"/>
<path d="M268.4 403.6h0.8v0.8h-0.8z" fill="#58b25b"/>
<path d="M246.5 427.8h0.8v0.8h-0.8z" fill="#59b25b"/>
<path d="M244.6 427.7h0.8v0.8h-0.8zM246.0 435.8h0.8v0.8h-0.8zM245.0 435.6h0.8v0.8h-0.8zM265.7 404.4h0.8v0.8h-0.8zM267.5 407.4h0.8v0.8h-0.8zM265.2 397.1h0.8v0.8h-0.8zM267.8 407.2h0.8v0.8h-0.8zM265.9 401.0h0.8v0.8h-0.8zM269.0 404.8h0.8v0.8h-0.8z" fill="#59b35a"/>
<path d="M263.6 402.3h0.8v0.8h-0.8zM264.6 400.4h0.8v0.8h-0.8zM263.9 401.1h0.8v0.8h-0.8zM268.3 404.1h0.8v0.8h-0.8z" fill="#5ab459"/>
<path d="M246.4 431.2h0.8v0.8h-0.8zM240.8 427.1h0.8v0.8h-0.8zM265.0 405.5h0.8v0.8h-0.8zM265.8 407.5h0.8v0.8h-0.8z" fill="#5bb459"/>
<path d="M267.7 404.6h0.8v0.8h-0.8zM265.9 402.3h0.8v0.8h-0.8zM264.0 403.2h0.8v0.8h-0.8z" fill="#5cb459"/>
<path d="M244.6 435.4h0.8v0.8h-0.8zM267.4 405.8h0.8v0.8h-0.8z" fill="#5db458"/>
<path d="M266.7 407.2h0.8v0.8h-0.8zM267.0 406.2h0.8v0.8h-0.8z" fill="#5eb558"/>
<path d="M237.0 429.0h0.8v0.8h-0.8z" fill="#5fb558"/>
<path d="M263.0 401.6h0.8v0.8h-0.8zM262.6 401.2h0.8v0.8h-0.8zM266.6 396.7h0.8v0.8h-0.8z" fill="#5fb557"/>
<path d="M245.4 427.2h0.8v0.8h-0.8zM245.1 427.1h0.8v0.8h-0.8zM267.5 406.5h0.8v0.8h-0.8zM264.8 394.5h0.8v0.8h-0.8zM265.6 398.1h0.8v0.8h-0.8z" fill="#60b557"/>
<path d="M244.8 435.4h0.8v0.8h-0.8zM241.7 426.5h0.8v0.8h-0.8zM266.3 395.1h0.8v0.8h-0.8zM264.5 404.3h0.8v0.8h-0.8z" fill="#61b557"/>
<path d="M245.7 429.3h0.8v0.8h-0.8zM240.9 428.3h0.8v0.8h-0.8z" fill="#63b656"/>
<path d="M236.8 433.0h0.8v0.8h-0.8z" fill="#64b655"/>
<path d="M246.4 428.4h0.8v0.8h-0.8zM243.5 437.6h0.8v0.8h-0.8zM245.3 427.3h0.8v0.8h-0.8zM265.3 404.3h0.8v0.8h-0.8z" fill="#65b655"/>
<path d="M242.6 437.9h0.8v0.8h-0.8zM264.1 403.3h0.8v0.8h-0.8z" fill="#66b755"/>
<path d="M263.5 399.1h0.8v0.8h-0.8z" fill="#67b755"/>
<path d="M246.4 431.1h0.8v0.8h-0.8zM246.5 432.1h0.8v0.8h-0.8zM242.8 436.9h0.8v0.8h-0.8zM238.2 427.9h0.8v0.8h-0.8zM268.1 405.8h0.8v0.8h-0.8z" fill="#68b754"/>
<path d="M238.5 428.0h0.8v0.8h-0.8zM263.3 403.3h0.8v0.8h-0.8z" fill="#69b754"/>
<path d="M246.3 435.9h0.8v0.8h-0.8zM241.2 437.4h0.8v0.8h-0.8zM240.6 437.6h0.8v0.8h-0.8zM265.4 400.4h0.8v0.8h-0.8z" fill="#6ab853"/>
<path d="M235.8 431.1h0.8v0.8h-0.8zM246.5 434.4h0.8v0.8h-0.8zM266.7 403.6h0.8v0.8h-0.8z" fill="#6cb853"/>
<path d="M243.7 435.1h0.8v0.8h-0.8z" fill="#6cb852"/>
<path d="M242.7 435.9h0.8v0.8h-0.8zM243.6 427.4h0.8v0.8h-0.8z" fill="#6db852"/>
<path d="M239.5 437.1h0.8v0.8h-0.8zM244.9 435.8h0.8v0.8h-0.8zM264.7 405.2h0.8v0.8h-0.8zM265.2 404.1h0.8v0.8h-0.8zM263.7 402.5h0.8v0.8h-0.8zM266.2 403.6h0.8v0.8h-0.8z" fill="#6eb952"/>
<path d="M266.4 403.5h0.8v0.8h-0.8z" fill="#6fb952"/>
<path d="M246.3 435.2h0.8v0.8h-0.8zM265.3 402.7h0.8v0.8h-0.8z" fill="#6fb951"/>
<path d="M245.0 429.2h0.8v0.8h-0.8zM236.4 431.3h0.8v0.8h-0.8z" fill="#71b951"/>
<path d="M238.2 427.6h0.8v0.8h-0.8zM244.1 428.4h0.8v0.8h-0.8zM265.3 401.6h0.8v0.8h-0.8z" fill="#72ba50"/>
<path d="M243.0 427.1h0.8v0.8h-0.8zM241.2 428.7h0.8v0.8h-0.8zM266.3 404.5h0.8v0.8h-0.8zM264.5 402.4h0.8v0.8h-0.8z" fill="#73ba50"/>
<path d="M241.8 428.5h0.8v0.8h-0.8zM266.8 406.1h0.8v0.8h-0.8z" fill="#74ba50"/>
<path d="M245.5 432.1h0.8v0.8h-0.8z" fill="#74ba4f"/>
<path d="M238.7 435.3h0.8v0.8h-0.8z" fill="#75ba4f"/>
<path d="M244.9 428.7h0.8v0.8h-0.8zM267.3 405.0h0.8v0.8h-0.8z" fill="#77bb4e"/>
<path d="M242.7 436.8h0.8v0.8h-0.8zM239.2 434.6h0.8v0.8h-0.8zM239.3 436.5h0.8v0.8h-0.8zM242.9 427.9h0.8v0.8h-0.8z" fill="#78bb4e"/>
<path d="M235.6 429.6h0.8v0.8h-0.8zM240.7 436.8h0.8v0.8h-0.8z" fill="#79bb4e"/>
<path d="M236.0 431.6h0.8v0.8h-0.8zM244.6 427.3h0.8v0.8h-0.8zM264.6 399.8h0.8v0.8h-0.8z" fill="#7abc4d"/>
<path d="M243.4 436.1h0.8v0.8h-0.8zM243.0 435.6h0.8v0.8h-0.8zM246.2 431.8h0.8v0.8h-0.8z" fill="#7cbc4d"/>
<path d="M244.3 426.6h0.8v0.8h-0.8z" fill="#7cbc4c"/>
<path d="M245.7 434.2h0.8v0.8h-0.8zM265.6 402.8h0.8v0.8h-0.8z" fill="#7dbc4c"/>
<path d="M237.0 433.5h0.8v0.8h-0.8zM263.7 399.8h0.8v0.8h-0.8z" fill="#7fbd4b"/>
<path d="M243.0 435.4h0.8v0.8h-0.8zM240.9 437.5h0.8v0.8h-0.8z" fill="#80bd4b"/>
<path d="M245.1 429.6h0.8v0.8h-0.8zM246.0 432.2h0.8v0.8h-0.8zM264.6 401.6h0.8v0.8h-0.8z" fill="#81bd4b"/>
<path d="M242.0 436.4h0.8v0.8h-0.8zM243.9 428.4h0.8v0.8h-0.8zM236.9 427.6h0.8v0.8h-0.8zM243.7 428.3h0.8v0.8h-0.8zM241.9 428.4h0.8v0.8h-0.8z" fill="#82be4a"/>
<path d="M239.3 427.9h0.8v0.8h-0.8zM264.6 401.7h0.8v0.8h-0.8z" fill="#83be4a"/>
<path d="M263.6 403.5h0.8v0.8h-0.8z" fill="#85be49"/>
<path d="M245.0 428.7h0.8v0.8h-0.8zM243.6 436.5h0.8v0.8h-0.8z" fill="#86bf49"/>
<path d="M239.0 428.5h0.8v0.8h-0.8zM235.7 430.5h0.8v0.8h-0.8z" fill="#87bf48"/>
<path d="M237.9 434.2h0.8v0.8h-0.8zM243.0 435.1h0.8v0.8h-0.8zM266.2 403.9h0.8v0.8h-0.8z" fill="#88bf48"/>
<path d="M242.4 435.6h0.8v0.8h-0.8zM245.3 433.6h0.8v0.8h-0.8zM246.0 431.3h0.8v0.8h-0.8z" fill="#8ac047"/>
<path d="M243.5 428.0h0.8v0.8h-0.8zM264.3 401.2h0.8v0.8h-0.8z" fill="#8bc047"/>
<path d="M243.2 436.2h0.8v0.8h-0.8z" fill="#8cc047"/>
<path d="M244.8 429.8h0.8v0.8h-0.8z" fill="#8cc046"/>
<path d="M243.8 435.2h0.8v0.8h-0.8zM239.6 435.2h0.8v0.8h-0.8zM235.8 430.7h0.8v0.8h-0.8zM236.8 432.6h0.8v0.8h-0.8zM243.4 428.3h0.8v0.8h-0.8z" fill="#8dc046"/>
<path d="M241.5 428.3h0.8v0.8h-0.8z" fill="#8fc146"/>
<path d="M240.9 436.5h0.8v0.8h-0.8zM244.9 435.3h0.8v0.8h-0.8zM238.5 428.4h0.8v0.8h-0.8zM241.4 436.7h0.8v0.8h-0.8z" fill="#8fc145"/>
<path d="M240.8 427.9h0.8v0.8h-0.8z" fill="#91c145"/>
<path d="M240.5 427.7h0.8v0.8h-0.8z" fill="#92c244"/>
<path d="M246.0 432.1h0.8v0.8h-0.8zM244.9 433.7h0.8v0.8h-0.8zM263.5 401.8h0.8v0.8h-0.8z" fill="#93c244"/>
<path d="M263.7 403.2h0.8v0.8h-0.8zM265.4 402.1h0.8v0.8h-0.8z" fill="#94c244"/>
<path d="M239.1 435.6h0.8v0.8h-0.8z" fill="#94c243"/>
<path d="M239.6 429.0h0.8v0.8h-0.8zM244.6 432.8h0.8v0.8h-0.8z" fill="#95c243"/>
<path d="M241.4 433.5h0.8v0.8h-0.8zM237.1 430.8h0.8v0.8h-0.8z" fill="#96c343"/>
<path d="M239.8 428.6h0.8v0.8h-0.8z" fill="#97c343"/>
<path d="M263.9 401.1h0.8v0.8h-0.8z" fill="#97c342"/>
<path d="M245.1 430.0h0.8v0.8h-0.8zM241.4 428.4h0.8v0.8h-0.8zM245.6 433.6h0.8v0.8h-0.8zM240.6 436.3h0.8v0.8h-0.8z" fill="#98c342"/>
<path d="M236.3 431.3h0.8v0.8h-0.8zM238.8 428.6h0.8v0.8h-0.8zM245.5 434.0h0.8v0.8h-0.8z" fill="#99c342"/>
<path d="M241.6 429.0h0.8v0.8h-0.8zM238.0 433.7h0.8v0.8h-0.8zM245.4 428.9h0.8v0.8h-0.8z" fill="#9ac441"/>
<path d="M241.2 428.9h0.8v0.8h-0.8z" fill="#9bc441"/>
<path d="M237.0 430.1h0.8v0.8h-0.8zM240.4 435.7h0.8v0.8h-0.8z" fill="#9cc441"/>
<path d="M243.1 434.9h0.8v0.8h-0.8z" fill="#9cc440"/>
<path d="M243.1 429.1h0.8v0.8h-0.8zM240.6 427.7h0.8v0.8h-0.8zM239.4 427.9h0.8v0.8h-0.8zM236.8 430.4h0.8v0.8h-0.8z" fill="#9dc440"/>
<path d="M242.9 437.3h0.8v0.8h-0.8zM264.6 401.0h0.8v0.8h-0.8z" fill="#9ec540"/>
<path d="M243.2 437.2h0.8v0.8h-0.8zM237.3 429.0h0.8v0.8h-0.8z" fill="#9fc53f"/>
<path d="M245.8 433.9h0.8v0.8h-0.8zM242.6 436.8h0.8v0.8h-0.8z" fill="#a0c53f"/>
<path d="M242.7 433.5h0.8v0.8h-0.8zM240.2 437.3h0.8v0.8h-0.8z" fill="#a1c53f"/>
<path d="M238.9 436.3h0.8v0.8h-0.8zM239.5 434.7h0.8v0.8h-0.8zM241.9 428.9h0.8v0.8h-0.8z" fill="#a2c63e"/>
<path d="M244.3 428.3h0.8v0.8h-0.8zM242.6 433.7h0.8v0.8h-0.8zM237.3 429.3h0.8v0.8h-0.8z" fill="#a3c63e"/>
<path d="M238.8 435.0h0.8v0.8h-0.8z" fill="#a4c63e"/>
<path d="M241.4 434.9h0.8v0.8h-0.8zM243.2 434.2h0.8v0.8h-0.8zM240.1 428.7h0.8v0.8h-0.8z" fill="#a5c63d"/>
<path d="M242.6 435.6h0.8v0.8h-0.8zM244.1 434.5h0.8v0.8h-0.8z" fill="#a7c73c"/>
<path d="M241.7 428.0h0.8v0.8h-0.8zM238.1 433.4h0.8v0.8h-0.8zM237.7 429.0h0.8v0.8h-0.8zM265.5 402.0h0.8v0.8h-0.8z" fill="#a8c73c"/>
<path d="M244.6 432.5h0.8v0.8h-0.8z" fill="#a9c73c"/>
<path d="M243.1 436.1h0.8v0.8h-0.8zM236.7 429.5h0.8v0.8h-0.8zM242.3 428.6h0.8v0.8h-0.8zM244.2 433.0h0.8v0.8h-0.8z" fill="#abc83b"/>
<path d="M236.9 432.2h0.8v0.8h-0.8z" fill="#acc83b"/>
<path d="M242.6 435.0h0.8v0.8h-0.8z" fill="#adc83b"/>
<path d="M238.7 427.8h0.8v0.8h-0.8zM242.0 432.5h0.8v0.8h-0.8zM242.4 427.7h0.8v0.8h-0.8z" fill="#aec83b"/>
<path d="M237.7 428.9h0.8v0.8h-0.8zM244.5 433.3h0.8v0.8h-0.8z" fill="#afc83b"/>
<path d="M239.3 429.6h0.8v0.8h-0.8z" fill="#b0c93a"/>
<path d="M242.4 430.2h0.8v0.8h-0.8z" fill="#b1c93a"/>
<path d="M238.0 434.2h0.8v0.8h-0.8zM240.4 435.2h0.8v0.8h-0.8zM237.3 429.8h0.8v0.8h-0.8z" fill="#b3c93a"/>
<path d="M240.7 434.9h0.8v0.8h-0.8z" fill="#b4c93a"/>
<path d="M242.0 435.4h0.8v0.8h-0.8z" fill="#b5ca39"/>
<path d="M238.9 430.2h0.8v0.8h-0.8zM240.6 435.5h0.8v0.8h-0.8z" fill="#b7ca39"/>
<path d="M236.9 431.5h0.8v0.8h-0.8z" fill="#b8ca39"/>
<path d="M240.6 435.5h0.8v0.8h-0.8z" fill="#b9ca39"/>
<path d="M244.4 434.9h0.8v0.8h-0.8z" fill="#baca39"/>
<path d="M237.5 431.0h0.8v0.8h-0.8z" fill="#bacb38"/>
<path d="M240.7 430.3h0.8v0.8h-0.8zM241.1 436.1h0.8v0.8h-0.8zM241.7 432.2h0.8v0.8h-0.8z" fill="#bbcb38"/>
<path d="M242.7 433.9h0.8v0.8h-0.8zM241.4 435.3h0.8v0.8h-0.8zM238.8 429.0h0.8v0.8h-0.8z" fill="#bccb38"/>
<path d="M245.4 433.9h0.8v0.8h-0.8zM237.0 432.2h0.8v0.8h-0.8z" fill="#bdcb38"/>
<path d="M242.1 430.9h0.8v0.8h-0.8zM239.3 429.0h0.8v0.8h-0.8zM243.7 430.0h0.8v0.8h-0.8z" fill="#becb38"/>
<path d="M239.2 435.4h0.8v0.8h-0.8zM239.5 429.4h0.8v0.8h-0.8zM241.9 433.0h0.8v0.8h-0.8z" fill="#bfcb38"/>
<path d="M239.9 430.2h0.8v0.8h-0.8zM242.3 435.3h0.8v0.8h-0.8z" fill="#c1cc37"/>
<path d="M244.7 432.6h0.8v0.8h-0.8zM244.4 434.5h0.8v0.8h-0.8zM239.2 428.6h0.8v0.8h-0.8zM237.6 428.7h0.8v0.8h-0.8zM237.7 430.0h0.8v0.8h-0.8zM238.6 433.4h0.8v0.8h-0.8z" fill="#c2cc37"/>
<path d="M239.9 432.7h0.8v0.8h-0.8zM238.1 429.2h0.8v0.8h-0.8z" fill="#c3cc37"/>
<path d="M240.7 436.2h0.8v0.8h-0.8zM243.6 431.2h0.8v0.8h-0.8zM241.5 436.3h0.8v0.8h-0.8z" fill="#c4cc37"/>
<path d="M244.9 433.2h0.8v0.8h-0.8zM242.1 431.6h0.8v0.8h-0.8z" fill="#c5cc37"/>
<path d="M237.1 431.0h0.8v0.8h-0.8z" fill="#c5cd36"/>
<path d="M240.4 433.2h0.8v0.8h-0.8zM244.3 435.5h0.8v0.8h-0.8zM237.3 431.2h0.8v0.8h-0.8zM243.9 427.9h0.8v0.8h-0.8z" fill="#c6cd36"/>
<path d="M237.6 430.1h0.8v0.8h-0.8zM238.0 432.9h0.8v0.8h-0.8zM237.9 433.3h0.8v0.8h-0.8z" fill="#c8cd36"/>
<path d="M238.4 432.9h0.8v0.8h-0.8z" fill="#c9cd36"/>
<path d="M245.4 431.0h0.8v0.8h-0.8zM237.9 429.7h0.8v0.8h-0.8zM238.6 433.4h0.8v0.8h-0.8z" fill="#cacd36"/>
<path d="M241.0 433.8h0.8v0.8h-0.8zM239.6 436.1h0.8v0.8h-0.8zM239.1 429.4h0.8v0.8h-0.8zM241.6 434.6h0.8v0.8h-0.8zM242.5 431.4h0.8v0.8h-0.8z" fill="#cbce35"/>
<path d="M237.6 429.4h0.8v0.8h-0.8zM238.8 428.8h0.8v0.8h-0.8zM236.5 430.8h0.8v0.8h-0.8zM242.9 430.0h0.8v0.8h-0.8z" fill="#ccce35"/>
<path d="M239.7 429.8h0.8v0.8h-0.8z" fill="#cdce35"/>
<path d="M241.2 435.6h0.8v0.8h-0.8z" fill="#cece35"/>
<path d="M243.9 432.1h0.8v0.8h-0.8zM241.3 432.5h0.8v0.8h-0.8z" fill="#cfce35"/>
<path d="M244.2 433.0h0.8v0.8h-0.8z" fill="#d0ce35"/>
<path d="M243.7 431.1h0.8v0.8h-0.8z" fill="#d0cf34"/>
<path d="M244.5 430.3h0.8v0.8h-0.8zM244.3 428.9h0.8v0.8h-0.8z" fill="#d1cf34"/>
<path d="M242.7 435.4h0.8v0.8h-0.8z" fill="#d2cf34"/>
<path d="M238.5 430.4h0.8v0.8h-0.8z" fill="#d3cf34"/>
<path d="M242.8 429.2h0.8v0.8h-0.8zM239.3 432.7h0.8v0.8h-0.8z" fill="#d4cf34"/>
<path d="M239.0 433.5h0.8v0.8h-0.8zM244.9 432.9h0.8v0.8h-0.8zM238.9 434.3h0.8v0.8h-0.8z" fill="#d6d033"/>
<path d="M240.2 431.0h0.8v0.8h-0.8z" fill="#d7d033"/>
<path d="M241.4 435.0h0.8v0.8h-0.8z" fill="#d8d033"/>
<path d="M238.7 433.5h0.8v0.8h-0.8zM238.7 434.2h0.8v0.8h-0.8zM240.4 433.7h0.8v0.8h-0.8z" fill="#d9d033"/>
<path d="M242.8 432.0h0.8v0.8h-0.8zM244.3 429.2h0.8v0.8h-0.8zM241.8 429.5h0.8v0.8h-0.8zM239.0 431.2h0.8v0.8h-0.8z" fill="#dad033"/>
<path d="M242.7 430.2h0.8v0.8h-0.8z" fill="#dbd033"/>
<path d="M243.6 431.5h0.8v0.8h-0.8zM240.2 430.6h0.8v0.8h-0.8z" fill="#dbd132"/>
<path d="M244.2 433.6h0.8v0.8h-0.8zM239.6 432.7h0.8v0.8h-0.8zM240.4 432.8h0.8v0.8h-0.8z" fill="#ddd132"/>
<path d="M241.0 432.1h0.8v0.8h-0.8zM244.7 432.9h0.8v0.8h-0.8zM245.1 431.5h0.8v0.8h-0.8zM241.6 430.6h0.8v0.8h-0.8zM243.2 431.5h0.8v0.8h-0.8zM244.0 429.4h0.8v0.8h-0.8zM241.7 433.3h0.8v0.8h-0.8z" fill="#ded132"/>
<path d="M238.7 429.9h0.8v0.8h-0.8z" fill="#dfd132"/>
<path d="M241.8 433.2h0.8v0.8h-0.8z" fill="#e0d132"/>
<path d="M238.4 428.9h0.8v0.8h-0.8z" fill="#e1d131"/>
<path d="M243.4 432.2h0.8v0.8h-0.8zM240.5 432.4h0.8v0.8h-0.8z" fill="#e1cf31"/>
<path d="M238.4 430.8h0.8v0.8h-0.8z" fill="#e1ce31"/>
<path d="M241.1 432.9h0.8v0.8h-0.8z" fill="#e1cd31"/>
<path d="M241.1 431.8h0.8v0.8h-0.8z" fill="#e1cb31"/>
<path d="M240.4 433.7h0.8v0.8h-0.8zM243.0 429.0h0.8v0.8h-0.8z" fill="#e2c730"/>
<path d="M240.7 435.1h0.8v0.8h-0.8z" fill="#e2c630"/>
<path d="M241.2 430.1h0.8v0.8h-0.8z" fill="#e2c530"/>
<path d="M243.4 428.6h0.8v0.8h-0.8zM243.2 432.0h0.8v0.8h-0.8zM239.0 432.8h0.8v0.8h-0.8z" fill="#e2c32f"/>
<path d="M241.3 432.2h0.8v0.8h-0.8zM243.2 430.3h0.8v0.8h-0.8z" fill="#e2bf2f"/>
<path d="M241.1 430.7h0.8v0.8h-0.8zM242.6 430.4h0.8v0.8h-0.8z" fill="#e3bd2f"/>
<path d="M239.9 432.6h0.8v0.8h-0.8z" fill="#e3bc2e"/>
<path d="M244.0 432.5h0.8v0.8h-0.8zM238.3 433.3h0.8v0.8h-0.8z" fill="#e3bb2e"/>
<path d="M240.9 433.8h0.8v0.8h-0.8z" fill="#e3ba2e"/>
<path d="M239.1 429.6h0.8v0.8h-0.8z" fill="#e3b72e"/>
<path d="M239.3 430.4h0.8v0.8h-0.8z" fill="#e3b62e"/>
<path d="M238.3 432.3h0.8v0.8h-0.8z" fill="#e3b52d"/>
<path d="M242.7 431.5h0.8v0.8h-0.8z" fill="#e3b42d"/>
<path d="M238.5 431.3h0.8v0.8h-0.8zM237.9 430.6h0.8v0.8h-0.8z" fill="#e4b12d"/>
<path d="M240.1 431.2h0.8v0.8h-0.8zM238.9 434.0h0.8v0.8h-0.8zM238.0 432.4h0.8v0.8h-0.8z" fill="#e4b02d"/>
<path d="M241.5 431.9h0.8v0.8h-0.8z" fill="#e4ac2c"/>
<path d="M239.9 431.2h0.8v0.8h-0.8z" fill="#e4ab2c"/>
<path d="M238.9 433.7h0.8v0.8h-0.8z" fill="#e5a72b"/>
<path d="M238.5 432.8h0.8v0.8h-0.8z" fill="#e5a62b"/>
<path d="M242.9 429.1h0.8v0.8h-0.8z" fill="#e5a52b"/>
<path d="M238.0 431.5h0.8v0.8h-0.8z" fill="#e5a42b"/>
<path d="M243.1 430.4h0.8v0.8h-0.8z" fill="#e5a32b"/>
<path d="M243.5 430.8h0.8v0.8h-0.8z" fill="#e69b2a"/>
<path d="M244.0 430.4h0.8v0.8h-0.8z" fill="#e69a2a"/>
<path d="M238.7 433.4h0.8v0.8h-0.8z" fill="#e69929"/>
<path d="M243.8 431.4h0.8v0.8h-0.8zM243.2 429.8h0.8v0.8h-0.8z" fill="#e69829"/>
<path d="M243.6 430.9h0.8v0.8h-0.8z" fill="#e69629"/>
<path d="M242.1 430.3h0.8v0.8h-0.8zM243.1 432.1h0.8v0.8h-0.8z" fill="#e79529"/>
<path d="M244.4 432.2h0.8v0.8h-0.8z" fill="#e79429"/>
<path d="M243.4 432.5h0.8v0.8h-0.8z" fill="#e79028"/>
<path d="M240.5 431.8h0.8v0.8h-0.8z" fill="#e78d28"/>
<path d="M238.9 431.2h0.8v0.8h-0.8zM239.2 432.0h0.8v0.8h-0.8z" fill="#e78c28"/>
<path d="M242.3 432.4h0.8v0.8h-0.8z" fill="#e68627"/>
<path d="M243.9 429.7h0.8v0.8h-0.8z" fill="#e68527"/>
<path d="M244.5 432.2h0.8v0.8h-0.8z" fill="#e47c26"/>
<path d="M238.9 432.5h0.8v0.8h-0.8z" fill="#e27625"/>
<path d="M239.9 432.4h0.8v0.8h-0.8z" fill="#e27325"/>
<path d="M239.1 433.3h0.8v0.8h-0.8z" fill="#e17125"/>
<path d="M243.1 431.7h0.8v0.8h-0.8zM238.3 432.3h0.8v0.8h-0.8z" fill="#e06e24"/>
<path d="M242.7 431.0h0.8v0.8h-0.8z" fill="#e06d24"/>
<path d="M243.9 432.2h0.8v0.8h-0.8z" fill="#e06c24"/>
<path d="M244.4 432.1h0.8v0.8h-0.8z" fill="#df6824"/>
<path d="M237.6 431.0h0.8v0.8h-0.8z" fill="#dc5b22"/>
<path d="M238.4 431.1h0.8v0.8h-0.8z" fill="#db5722"/>
<path d="M241.6 430.8h0.8v0.8h-0.8z" fill="#d94e21"/>
<path d="M237.9 431.0h0.8v0.8h-0.8z" fill="#d84b20"/>
<path d="M239.3 431.7h0.8v0.8h-0.8z" fill="#d74a20"/>
<path d="M244.2 431.4h0.8v0.8h-0.8z" fill="#d6431f"/>
<path d="M240.4 432.7h0.8v0.8h-0.8z" fill="#d5411f"/>
<path d="M237.9 431.4h0.8v0.8h-0.8z" fill="#d53e1f"/>
<path d="M239.3 432.6h0.8v0.8h-0.8z" fill="#d43c1f"/>
<path d="M243.5 432.4h0.8v0.8h-0.8zM239.4 433.3h0.8v0.8h-0.8z" fill="#d3371e"/>
<path d="M242.4 430.7h0.8v0.8h-0.8z" fill="#d2341e"/>
<path d="M241.5 430.8h0.8v0.8h-0.8zM239.0 431.7h0.8v0.8h-0.8zM243.1 430.7h0.8v0.8h-0.8zM238.9 430.7h0.8v0.8h-0.8zM242.9 431.3h0.8v0.8h-0.8zM239.4 433.5h0.8v0.8h-0.8zM242.7 431.3h0.8v0.8h-0.8zM244.0 431.2h0.8v0.8h-0.8zM239.0 432.4h0.8v0.8h-0.8zM243.0 431.7h0.8v0.8h-0.8zM243.4 431.8h0.8v0.8h-0.8zM243.0 432.1h0.8v0.8h-0.8z" fill="#d2321e"/>
<line x1="215.50" y1="413.10" x2="317.50" y2="413.10" stroke="#b0b0b0" stroke-width="0.8" />
<line x1="258.30" y1="354.50" x2="258.30" y2="456.50" stroke="#b0b0b0" stroke-width="0.8" />
<path d="M215.5 456.5 V354.5 H317.5 V456.5 Z" fill="none" stroke="#000" stroke-width="1"/>
<line x1="212.90" y1="354.80" x2="215.50" y2="354.80" stroke="#000" stroke-width="0.9" />
<text transform="translate(212.50 357.00) scale(1.25 1)" font-size="6.3" text-anchor="end" fill="#000">10<tspan font-size="3.60" dy="-2.52">7.2</tspan></text>
<line x1="212.90" y1="373.80" x2="215.50" y2="373.80" stroke="#000" stroke-width="0.9" />
<text transform="translate(212.50 376.00) scale(1.25 1)" font-size="6.3" text-anchor="end" fill="#000">10<tspan font-size="3.60" dy="-2.52">6</tspan></text>
<line x1="212.90" y1="390.40" x2="215.50" y2="390.40" stroke="#000" stroke-width="0.9" />
<text transform="translate(212.50 392.60) scale(1.25 1)" font-size="6.3" text-anchor="end" fill="#000">10<tspan font-size="3.60" dy="-2.52">5</tspan></text>
<line x1="212.90" y1="406.60" x2="215.50" y2="406.60" stroke="#000" stroke-width="0.9" />
<text transform="translate(212.50 408.80) scale(1.25 1)" font-size="6.3" text-anchor="end" fill="#000">10<tspan font-size="3.60" dy="-2.52">4</tspan></text>
<line x1="212.90" y1="423.00" x2="215.50" y2="423.00" stroke="#000" stroke-width="0.9" />
<text transform="translate(212.50 425.20) scale(1.25 1)" font-size="6.3" text-anchor="end" fill="#000">10<tspan font-size="3.60" dy="-2.52">3</tspan></text>
<line x1="212.90" y1="440.00" x2="215.50" y2="440.00" stroke="#000" stroke-width="0.9" />
<text transform="translate(212.50 442.20) scale(1.25 1)" font-size="6.3" text-anchor="end" fill="#000">10<tspan font-size="3.60" dy="-2.52">2</tspan></text>
<line x1="212.90" y1="456.20" x2="215.50" y2="456.20" stroke="#000" stroke-width="0.9" />
<text transform="translate(212.50 458.40) scale(1.25 1)" font-size="6.3" text-anchor="end" fill="#000">10<tspan font-size="3.60" dy="-2.52">1</tspan></text>
<line x1="215.80" y1="456.50" x2="215.80" y2="459.10" stroke="#000" stroke-width="0.9" />
<text transform="translate(217.00 467.80) scale(1.15 1)" font-size="6.3" text-anchor="middle" fill="#000">10<tspan font-size="3.60" dy="-2.52">1</tspan></text>
<line x1="231.50" y1="456.50" x2="231.50" y2="459.10" stroke="#000" stroke-width="0.9" />
<text transform="translate(232.70 467.80) scale(1.15 1)" font-size="6.3" text-anchor="middle" fill="#000">10<tspan font-size="3.60" dy="-2.52">2</tspan></text>
<line x1="248.00" y1="456.50" x2="248.00" y2="459.10" stroke="#000" stroke-width="0.9" />
<text transform="translate(249.20 467.80) scale(1.15 1)" font-size="6.3" text-anchor="middle" fill="#000">10<tspan font-size="3.60" dy="-2.52">3</tspan></text>
<line x1="264.50" y1="456.50" x2="264.50" y2="459.10" stroke="#000" stroke-width="0.9" />
<text transform="translate(265.70 467.80) scale(1.15 1)" font-size="6.3" text-anchor="middle" fill="#000">10<tspan font-size="3.60" dy="-2.52">4</tspan></text>
<line x1="281.00" y1="456.50" x2="281.00" y2="459.10" stroke="#000" stroke-width="0.9" />
<text transform="translate(282.20 467.80) scale(1.15 1)" font-size="6.3" text-anchor="middle" fill="#000">10<tspan font-size="3.60" dy="-2.52">5</tspan></text>
<line x1="297.00" y1="456.50" x2="297.00" y2="459.10" stroke="#000" stroke-width="0.9" />
<text transform="translate(298.20 467.80) scale(1.15 1)" font-size="6.3" text-anchor="middle" fill="#000">10<tspan font-size="3.60" dy="-2.52">6</tspan></text>
<line x1="317.50" y1="456.50" x2="317.50" y2="459.10" stroke="#000" stroke-width="0.9" />
<text transform="translate(318.70 467.80) scale(1.15 1)" font-size="6.3" text-anchor="middle" fill="#000">10<tspan font-size="3.60" dy="-2.52">7.2</tspan></text>
<line x1="214.20" y1="360.52" x2="215.50" y2="360.52" stroke="#000" stroke-width="0.6" />
<line x1="214.20" y1="363.87" x2="215.50" y2="363.87" stroke="#000" stroke-width="0.6" />
<line x1="214.20" y1="366.24" x2="215.50" y2="366.24" stroke="#000" stroke-width="0.6" />
<line x1="214.20" y1="368.08" x2="215.50" y2="368.08" stroke="#000" stroke-width="0.6" />
<line x1="214.20" y1="369.58" x2="215.50" y2="369.58" stroke="#000" stroke-width="0.6" />
<line x1="214.20" y1="370.86" x2="215.50" y2="370.86" stroke="#000" stroke-width="0.6" />
<line x1="214.20" y1="371.96" x2="215.50" y2="371.96" stroke="#000" stroke-width="0.6" />
<line x1="214.20" y1="372.93" x2="215.50" y2="372.93" stroke="#000" stroke-width="0.6" />
<line x1="214.20" y1="378.80" x2="215.50" y2="378.80" stroke="#000" stroke-width="0.6" />
<line x1="214.20" y1="381.72" x2="215.50" y2="381.72" stroke="#000" stroke-width="0.6" />
<line x1="214.20" y1="383.79" x2="215.50" y2="383.79" stroke="#000" stroke-width="0.6" />
<line x1="214.20" y1="385.40" x2="215.50" y2="385.40" stroke="#000" stroke-width="0.6" />
<line x1="214.20" y1="386.72" x2="215.50" y2="386.72" stroke="#000" stroke-width="0.6" />
<line x1="214.20" y1="387.83" x2="215.50" y2="387.83" stroke="#000" stroke-width="0.6" />
<line x1="214.20" y1="388.79" x2="215.50" y2="388.79" stroke="#000" stroke-width="0.6" />
<line x1="214.20" y1="389.64" x2="215.50" y2="389.64" stroke="#000" stroke-width="0.6" />
<line x1="214.20" y1="395.28" x2="215.50" y2="395.28" stroke="#000" stroke-width="0.6" />
<line x1="214.20" y1="398.13" x2="215.50" y2="398.13" stroke="#000" stroke-width="0.6" />
<line x1="214.20" y1="400.15" x2="215.50" y2="400.15" stroke="#000" stroke-width="0.6" />
<line x1="214.20" y1="401.72" x2="215.50" y2="401.72" stroke="#000" stroke-width="0.6" />
<line x1="214.20" y1="403.01" x2="215.50" y2="403.01" stroke="#000" stroke-width="0.6" />
<line x1="214.20" y1="404.09" x2="215.50" y2="404.09" stroke="#000" stroke-width="0.6" />
<line x1="214.20" y1="405.03" x2="215.50" y2="405.03" stroke="#000" stroke-width="0.6" />
<line x1="214.20" y1="405.86" x2="215.50" y2="405.86" stroke="#000" stroke-width="0.6" />
<line x1="214.20" y1="411.54" x2="215.50" y2="411.54" stroke="#000" stroke-width="0.6" />
<line x1="214.20" y1="414.42" x2="215.50" y2="414.42" stroke="#000" stroke-width="0.6" />
<line x1="214.20" y1="416.47" x2="215.50" y2="416.47" stroke="#000" stroke-width="0.6" />
<line x1="214.20" y1="418.06" x2="215.50" y2="418.06" stroke="#000" stroke-width="0.6" />
<line x1="214.20" y1="419.36" x2="215.50" y2="419.36" stroke="#000" stroke-width="0.6" />
<line x1="214.20" y1="420.46" x2="215.50" y2="420.46" stroke="#000" stroke-width="0.6" />
<line x1="214.20" y1="421.41" x2="215.50" y2="421.41" stroke="#000" stroke-width="0.6" />
<line x1="214.20" y1="422.25" x2="215.50" y2="422.25" stroke="#000" stroke-width="0.6" />
<line x1="214.20" y1="428.12" x2="215.50" y2="428.12" stroke="#000" stroke-width="0.6" />
<line x1="214.20" y1="431.11" x2="215.50" y2="431.11" stroke="#000" stroke-width="0.6" />
<line x1="214.20" y1="433.24" x2="215.50" y2="433.24" stroke="#000" stroke-width="0.6" />
<line x1="214.20" y1="434.88" x2="215.50" y2="434.88" stroke="#000" stroke-width="0.6" />
<line x1="214.20" y1="436.23" x2="215.50" y2="436.23" stroke="#000" stroke-width="0.6" />
<line x1="214.20" y1="437.37" x2="215.50" y2="437.37" stroke="#000" stroke-width="0.6" />
<line x1="214.20" y1="438.35" x2="215.50" y2="438.35" stroke="#000" stroke-width="0.6" />
<line x1="214.20" y1="439.22" x2="215.50" y2="439.22" stroke="#000" stroke-width="0.6" />
<line x1="214.20" y1="444.88" x2="215.50" y2="444.88" stroke="#000" stroke-width="0.6" />
<line x1="214.20" y1="447.73" x2="215.50" y2="447.73" stroke="#000" stroke-width="0.6" />
<line x1="214.20" y1="449.75" x2="215.50" y2="449.75" stroke="#000" stroke-width="0.6" />
<line x1="214.20" y1="451.32" x2="215.50" y2="451.32" stroke="#000" stroke-width="0.6" />
<line x1="214.20" y1="452.61" x2="215.50" y2="452.61" stroke="#000" stroke-width="0.6" />
<line x1="214.20" y1="453.69" x2="215.50" y2="453.69" stroke="#000" stroke-width="0.6" />
<line x1="214.20" y1="454.63" x2="215.50" y2="454.63" stroke="#000" stroke-width="0.6" />
<line x1="214.20" y1="455.46" x2="215.50" y2="455.46" stroke="#000" stroke-width="0.6" />
<line x1="220.53" y1="456.50" x2="220.53" y2="457.80" stroke="#000" stroke-width="0.6" />
<line x1="223.29" y1="456.50" x2="223.29" y2="457.80" stroke="#000" stroke-width="0.6" />
<line x1="225.25" y1="456.50" x2="225.25" y2="457.80" stroke="#000" stroke-width="0.6" />
<line x1="226.77" y1="456.50" x2="226.77" y2="457.80" stroke="#000" stroke-width="0.6" />
<line x1="228.02" y1="456.50" x2="228.02" y2="457.80" stroke="#000" stroke-width="0.6" />
<line x1="229.07" y1="456.50" x2="229.07" y2="457.80" stroke="#000" stroke-width="0.6" />
<line x1="229.98" y1="456.50" x2="229.98" y2="457.80" stroke="#000" stroke-width="0.6" />
<line x1="230.78" y1="456.50" x2="230.78" y2="457.80" stroke="#000" stroke-width="0.6" />
<line x1="236.47" y1="456.50" x2="236.47" y2="457.80" stroke="#000" stroke-width="0.6" />
<line x1="239.37" y1="456.50" x2="239.37" y2="457.80" stroke="#000" stroke-width="0.6" />
<line x1="241.43" y1="456.50" x2="241.43" y2="457.80" stroke="#000" stroke-width="0.6" />
<line x1="243.03" y1="456.50" x2="243.03" y2="457.80" stroke="#000" stroke-width="0.6" />
<line x1="244.34" y1="456.50" x2="244.34" y2="457.80" stroke="#000" stroke-width="0.6" />
<line x1="245.44" y1="456.50" x2="245.44" y2="457.80" stroke="#000" stroke-width="0.6" />
<line x1="246.40" y1="456.50" x2="246.40" y2="457.80" stroke="#000" stroke-width="0.6" />
<line x1="247.25" y1="456.50" x2="247.25" y2="457.80" stroke="#000" stroke-width="0.6" />
<line x1="252.97" y1="456.50" x2="252.97" y2="457.80" stroke="#000" stroke-width="0.6" />
<line x1="255.87" y1="456.50" x2="255.87" y2="457.80" stroke="#000" stroke-width="0.6" />
<line x1="257.93" y1="456.50" x2="257.93" y2="457.80" stroke="#000" stroke-width="0.6" />
<line x1="259.53" y1="456.50" x2="259.53" y2="457.80" stroke="#000" stroke-width="0.6" />
<line x1="260.84" y1="456.50" x2="260.84" y2="457.80" stroke="#000" stroke-width="0.6" />
<line x1="261.94" y1="456.50" x2="261.94" y2="457.80" stroke="#000" stroke-width="0.6" />
<line x1="262.90" y1="456.50" x2="262.90" y2="457.80" stroke="#000" stroke-width="0.6" />
<line x1="263.75" y1="456.50" x2="263.75" y2="457.80" stroke="#000" stroke-width="0.6" />
<line x1="269.47" y1="456.50" x2="269.47" y2="457.80" stroke="#000" stroke-width="0.6" />
<line x1="272.37" y1="456.50" x2="272.37" y2="457.80" stroke="#000" stroke-width="0.6" />
<line x1="274.43" y1="456.50" x2="274.43" y2="457.80" stroke="#000" stroke-width="0.6" />
<line x1="276.03" y1="456.50" x2="276.03" y2="457.80" stroke="#000" stroke-width="0.6" />
<line x1="277.34" y1="456.50" x2="277.34" y2="457.80" stroke="#000" stroke-width="0.6" />
<line x1="278.44" y1="456.50" x2="278.44" y2="457.80" stroke="#000" stroke-width="0.6" />
<line x1="279.40" y1="456.50" x2="279.40" y2="457.80" stroke="#000" stroke-width="0.6" />
<line x1="280.25" y1="456.50" x2="280.25" y2="457.80" stroke="#000" stroke-width="0.6" />
<line x1="285.82" y1="456.50" x2="285.82" y2="457.80" stroke="#000" stroke-width="0.6" />
<line x1="288.63" y1="456.50" x2="288.63" y2="457.80" stroke="#000" stroke-width="0.6" />
<line x1="290.63" y1="456.50" x2="290.63" y2="457.80" stroke="#000" stroke-width="0.6" />
<line x1="292.18" y1="456.50" x2="292.18" y2="457.80" stroke="#000" stroke-width="0.6" />
<line x1="293.45" y1="456.50" x2="293.45" y2="457.80" stroke="#000" stroke-width="0.6" />
<line x1="294.52" y1="456.50" x2="294.52" y2="457.80" stroke="#000" stroke-width="0.6" />
<line x1="295.45" y1="456.50" x2="295.45" y2="457.80" stroke="#000" stroke-width="0.6" />
<line x1="296.27" y1="456.50" x2="296.27" y2="457.80" stroke="#000" stroke-width="0.6" />
<line x1="303.17" y1="456.50" x2="303.17" y2="457.80" stroke="#000" stroke-width="0.6" />
<line x1="306.78" y1="456.50" x2="306.78" y2="457.80" stroke="#000" stroke-width="0.6" />
<line x1="309.34" y1="456.50" x2="309.34" y2="457.80" stroke="#000" stroke-width="0.6" />
<line x1="311.33" y1="456.50" x2="311.33" y2="457.80" stroke="#000" stroke-width="0.6" />
<line x1="312.95" y1="456.50" x2="312.95" y2="457.80" stroke="#000" stroke-width="0.6" />
<line x1="314.32" y1="456.50" x2="314.32" y2="457.80" stroke="#000" stroke-width="0.6" />
<line x1="315.51" y1="456.50" x2="315.51" y2="457.80" stroke="#000" stroke-width="0.6" />
<line x1="316.56" y1="456.50" x2="316.56" y2="457.80" stroke="#000" stroke-width="0.6" />
<text x="217.90" y="359.90" font-size="5.3" text-anchor="start" font-weight="normal" fill="#222" >1.66%</text>
<text x="312.70" y="359.90" font-size="5.3" text-anchor="end" font-weight="normal" fill="#222" >35.68%</text>
<text x="217.90" y="455.50" font-size="5.3" text-anchor="start" font-weight="normal" fill="#222" >52.78%</text>
<text x="312.70" y="455.50" font-size="5.3" text-anchor="end" font-weight="normal" fill="#222" >9.90%</text>
<text font-size="9" text-anchor="middle" stroke="#000" stroke-width="0.15" transform="translate(184 406.4) rotate(-90)" textLength="47.5" lengthAdjust="spacingAndGlyphs">CD10 flourescence</text>
<text font-size="9" text-anchor="middle" stroke="#000" stroke-width="0.15" transform="translate(193.4 405.3) rotate(-90)" textLength="49.5" lengthAdjust="spacingAndGlyphs">(445/45, log scale)</text>
<text font-size="9.3" text-anchor="middle" stroke="#000" stroke-width="0.15" x="266.5" y="479.9" textLength="45" lengthAdjust="spacingAndGlyphs">CD19 flourescence</text>
<text font-size="9.3" text-anchor="middle" stroke="#000" stroke-width="0.15" x="266.5" y="489.3" textLength="48" lengthAdjust="spacingAndGlyphs">(780/60, log scale)</text>
<line x1="364.60" y1="346.00" x2="364.60" y2="456.00" stroke="#000" stroke-width="1.25" />
<line x1="364.00" y1="456.00" x2="513.00" y2="456.00" stroke="#000" stroke-width="1.25" />
<line x1="361.80" y1="349.00" x2="364.60" y2="349.00" stroke="#000" stroke-width="1.0" />
<text transform="translate(358.40 351.60) scale(1.08 1)" font-size="7.4" text-anchor="end" font-weight="normal" fill="#111" >80</text>
<line x1="361.80" y1="374.00" x2="364.60" y2="374.00" stroke="#000" stroke-width="1.0" />
<text transform="translate(358.40 376.60) scale(1.08 1)" font-size="7.4" text-anchor="end" font-weight="normal" fill="#111" >60</text>
<line x1="361.80" y1="399.20" x2="364.60" y2="399.20" stroke="#000" stroke-width="1.0" />
<text transform="translate(358.40 401.80) scale(1.08 1)" font-size="7.4" text-anchor="end" font-weight="normal" fill="#111" >40</text>
<line x1="361.80" y1="424.50" x2="364.60" y2="424.50" stroke="#000" stroke-width="1.0" />
<text transform="translate(358.40 427.10) scale(1.08 1)" font-size="7.4" text-anchor="end" font-weight="normal" fill="#111" >20</text>
<line x1="361.80" y1="449.40" x2="364.60" y2="449.40" stroke="#000" stroke-width="1.0" />
<text transform="translate(358.40 452.00) scale(1.08 1)" font-size="7.4" text-anchor="end" font-weight="normal" fill="#111" >0</text>
<path d="M410.6 363.8 V354 H479.7 V363.8" fill="none" stroke="#222" stroke-width="0.9"/>
<circle cx="445.15" cy="350.5" r="0.95" fill="#111"/>
<line x1="387.80" y1="444.50" x2="433.70" y2="444.50" stroke="#000" stroke-width="1.3" />
<line x1="456.60" y1="390.40" x2="502.50" y2="390.40" stroke="#000" stroke-width="1.3" />
<circle cx="410.6" cy="438.3" r="2.35" fill="#fff" fill-opacity="0" stroke="#6cb044" stroke-width="1.1"/>
<circle cx="405.4" cy="443.5" r="2.35" fill="#fff" fill-opacity="0" stroke="#6cb044" stroke-width="1.1"/>
<circle cx="410.6" cy="446.3" r="2.35" fill="#fff" fill-opacity="0" stroke="#6cb044" stroke-width="1.1"/>
<circle cx="416.2" cy="449.7" r="2.35" fill="#fff" fill-opacity="0" stroke="#6cb044" stroke-width="1.1"/>
<circle cx="479.6" cy="373.8" r="2.35" fill="#fff" fill-opacity="0" stroke="#4a64ac" stroke-width="1.1"/>
<circle cx="479.6" cy="386.6" r="2.35" fill="#fff" fill-opacity="0" stroke="#4a64ac" stroke-width="1.1"/>
<circle cx="479.6" cy="396.7" r="2.35" fill="#fff" fill-opacity="0" stroke="#4a64ac" stroke-width="1.1"/>
<circle cx="479.6" cy="404.4" r="2.35" fill="#fff" fill-opacity="0" stroke="#4a64ac" stroke-width="1.1"/>
<text x="410.60" y="466.20" font-size="7.8" text-anchor="middle" font-weight="normal" fill="#111" >Control</text>
<text x="479.70" y="466.20" font-size="7.8" text-anchor="middle" font-weight="normal" fill="#111" >Xenograft</text>
<text font-size="9.4" stroke="#000" stroke-width="0.12" text-anchor="middle" transform="translate(344.3 400.2) rotate(-90)" textLength="46" lengthAdjust="spacingAndGlyphs">% CD19<tspan font-size="5.2" dy="-3.4">+</tspan><tspan dy="3.4"> CD10</tspan><tspan font-size="5.2" dy="-3.4">+</tspan></text>
<text transform="translate(7.00 510.90) scale(1.05 1)" font-size="10.8" text-anchor="start" font-weight="bold" fill="#000" >D</text>
<defs><filter id="nz" x="0" y="0" width="100%" height="100%"><feTurbulence type="fractalNoise" baseFrequency="0.22" numOctaves="2" seed="3"/><feColorMatrix type="matrix" values="0 0 0 0 1  0 0 0 0 1  0 0 0 0 1  0 0 0 2.2 -0.95"/><feGaussianBlur stdDeviation="0.6"/></filter><radialGradient id="sp" cx="0.45" cy="0.4" r="0.7"><stop offset="0" stop-color="#321714"/><stop offset="0.75" stop-color="#361814"/><stop offset="1" stop-color="#4a1c14"/></radialGradient><filter id="bl3" x="-50%" y="-50%" width="200%" height="200%"><feGaussianBlur stdDeviation="2"/></filter></defs>
<rect x="30.3" y="531.3" width="137" height="76.5" fill="#c4bdc7"/>
<rect x="30.3" y="531.3" width="137" height="76.5" fill="#fff" filter="url(#nz)" opacity="0.45"/>
<ellipse cx="132.5" cy="580" rx="6" ry="20" fill="#f4f2f4" opacity="0.8" filter="url(#bl3)"/>
<ellipse cx="131.5" cy="590" rx="4" ry="9" fill="#ffffff" opacity="0.95" filter="url(#bl3)"/>
<ellipse cx="100" cy="600" rx="30" ry="6" fill="#e8e4ea" opacity="0.5" filter="url(#bl3)"/>
<path d="M41.50 558.00 C42.22 558.00 43.33 558.22 43.80 558.80 C44.27 559.38 44.40 560.30 44.30 561.50 C44.20 562.70 43.28 564.25 43.20 566.00 C43.12 567.75 43.33 570.08 43.80 572.00 C44.27 573.92 45.42 575.92 46.00 577.50 C46.58 579.08 47.30 580.45 47.30 581.50 C47.30 582.55 46.58 583.63 46.00 583.80 C45.42 583.97 44.72 583.63 43.80 582.50 C42.88 581.37 41.50 578.92 40.50 577.00 C39.50 575.08 38.45 572.83 37.80 571.00 C37.15 569.17 36.65 567.67 36.60 566.00 C36.55 564.33 37.02 562.20 37.50 561.00 C37.98 559.80 38.83 559.30 39.50 558.80 C40.17 558.30 40.78 558.00 41.50 558.00 Z" fill="url(#sp)" stroke="#3a1812" stroke-width="0.6"/>
<path d="M62.00 544.50 C63.58 544.03 65.58 543.45 67.00 543.70 C68.42 543.95 69.83 544.95 70.50 546.00 C71.17 547.05 71.12 548.33 71.00 550.00 C70.88 551.67 70.13 553.83 69.80 556.00 C69.47 558.17 69.10 560.33 69.00 563.00 C68.90 565.67 68.95 569.17 69.20 572.00 C69.45 574.83 70.17 577.67 70.50 580.00 C70.83 582.33 71.28 584.30 71.20 586.00 C71.12 587.70 70.78 589.45 70.00 590.20 C69.22 590.95 67.75 590.95 66.50 590.50 C65.25 590.05 64.00 588.92 62.50 587.50 C61.00 586.08 58.83 584.08 57.50 582.00 C56.17 579.92 55.33 577.50 54.50 575.00 C53.67 572.50 52.83 569.67 52.50 567.00 C52.17 564.33 52.25 561.58 52.50 559.00 C52.75 556.42 53.17 553.58 54.00 551.50 C54.83 549.42 56.17 547.67 57.50 546.50 C58.83 545.33 60.42 544.97 62.00 544.50 Z" fill="url(#sp)" stroke="#3a1812" stroke-width="0.6"/>
<path d="M86.00 545.50 C87.83 544.67 91.08 544.17 93.00 544.00 C94.92 543.83 96.50 543.92 97.50 544.50 C98.50 545.08 98.92 546.08 99.00 547.50 C99.08 548.92 98.50 551.08 98.00 553.00 C97.50 554.92 96.58 556.83 96.00 559.00 C95.42 561.17 94.75 563.33 94.50 566.00 C94.25 568.67 94.58 572.33 94.50 575.00 C94.42 577.67 94.42 579.92 94.00 582.00 C93.58 584.08 93.00 586.25 92.00 587.50 C91.00 588.75 89.42 589.33 88.00 589.50 C86.58 589.67 84.67 589.42 83.50 588.50 C82.33 587.58 81.53 586.25 81.00 584.00 C80.47 581.75 80.38 578.17 80.30 575.00 C80.22 571.83 80.38 568.17 80.50 565.00 C80.62 561.83 80.75 558.67 81.00 556.00 C81.25 553.33 81.17 550.75 82.00 549.00 C82.83 547.25 84.17 546.33 86.00 545.50 Z" fill="url(#sp)" stroke="#3a1812" stroke-width="0.6"/>
<path d="M110.00 540.00 C111.75 539.33 115.67 537.75 118.00 537.50 C120.33 537.25 122.58 537.58 124.00 538.50 C125.42 539.42 126.08 540.75 126.50 543.00 C126.92 545.25 126.75 548.83 126.50 552.00 C126.25 555.17 125.33 558.67 125.00 562.00 C124.67 565.33 124.42 568.67 124.50 572.00 C124.58 575.33 125.17 579.33 125.50 582.00 C125.83 584.67 126.75 586.08 126.50 588.00 C126.25 589.92 125.25 592.33 124.00 593.50 C122.75 594.67 120.50 595.17 119.00 595.00 C117.50 594.83 116.08 594.17 115.00 592.50 C113.92 590.83 113.25 587.92 112.50 585.00 C111.75 582.08 111.25 578.33 110.50 575.00 C109.75 571.67 108.75 568.33 108.00 565.00 C107.25 561.67 106.33 558.17 106.00 555.00 C105.67 551.83 105.75 548.25 106.00 546.00 C106.25 543.75 106.83 542.50 107.50 541.50 C108.17 540.50 108.25 540.67 110.00 540.00 Z" fill="url(#sp)" stroke="#3a1812" stroke-width="0.6"/>
<path d="M140.50 546.00 C141.50 543.75 143.42 542.25 145.00 541.50 C146.58 540.75 148.33 540.92 150.00 541.50 C151.67 542.08 153.80 543.42 155.00 545.00 C156.20 546.58 156.87 548.50 157.20 551.00 C157.53 553.50 157.28 557.17 157.00 560.00 C156.72 562.83 155.92 565.00 155.50 568.00 C155.08 571.00 154.53 574.33 154.50 578.00 C154.47 581.67 155.30 586.83 155.30 590.00 C155.30 593.17 155.38 595.33 154.50 597.00 C153.62 598.67 151.75 599.58 150.00 600.00 C148.25 600.42 145.50 600.33 144.00 599.50 C142.50 598.67 141.58 597.42 141.00 595.00 C140.42 592.58 140.67 588.33 140.50 585.00 C140.33 581.67 140.25 578.33 140.00 575.00 C139.75 571.67 139.17 568.33 139.00 565.00 C138.83 561.67 138.75 558.17 139.00 555.00 C139.25 551.83 139.50 548.25 140.50 546.00 Z" fill="url(#sp)" stroke="#3a1812" stroke-width="0.6"/>
<path d="M108.6 554.5 Q110 551.5 113 551.8 Q114.8 552.5 113.2 554.2 Q111.5 555 111 556.5 Q109.8 558 108.8 557 Z" fill="#f2eeea" filter="url(#bl)"/>
<ellipse cx="126" cy="585.5" rx="1" ry="2.2" fill="#d07020" opacity="0.8" filter="url(#bl)"/>
<circle cx="144.5" cy="557" r="0.8" fill="#d8c8c8"/>
<text x="30.80" y="523.60" font-size="7.4" text-anchor="start" font-weight="normal" fill="#111" >Control</text>
<text x="88.60" y="523.60" font-size="7.4" text-anchor="start" font-weight="normal" fill="#111" >Xenografts</text>
<line x1="43.10" y1="525.00" x2="43.10" y2="553.00" stroke="#333" stroke-width="0.9" />
<path d="M52.7 544 V529.7 H161 V545" fill="none" stroke="#333" stroke-width="0.9"/>
<text x="48.70" y="596.60" font-size="7.3" text-anchor="middle" font-weight="normal" fill="#111" >1cm</text>
<line x1="31.30" y1="602.80" x2="64.90" y2="602.80" stroke="#111" stroke-width="1.3" />
<line x1="31.60" y1="600.50" x2="31.60" y2="605.00" stroke="#111" stroke-width="0.9" />
<line x1="64.60" y1="600.50" x2="64.60" y2="605.00" stroke="#111" stroke-width="0.9" />
<line x1="206.70" y1="511.00" x2="206.70" y2="621.40" stroke="#000" stroke-width="1.25" />
<line x1="206.10" y1="621.40" x2="367.50" y2="621.40" stroke="#000" stroke-width="1.25" />
<line x1="203.90" y1="514.20" x2="206.70" y2="514.20" stroke="#000" stroke-width="1.0" />
<text transform="translate(200.50 516.80) scale(1.08 1)" font-size="7.4" text-anchor="end" font-weight="normal" fill="#111" >0.3</text>
<line x1="203.90" y1="549.90" x2="206.70" y2="549.90" stroke="#000" stroke-width="1.0" />
<text transform="translate(200.50 552.50) scale(1.08 1)" font-size="7.4" text-anchor="end" font-weight="normal" fill="#111" >0.2</text>
<line x1="203.90" y1="585.70" x2="206.70" y2="585.70" stroke="#000" stroke-width="1.0" />
<text transform="translate(200.50 588.30) scale(1.08 1)" font-size="7.4" text-anchor="end" font-weight="normal" fill="#111" >0.1</text>
<line x1="203.90" y1="621.40" x2="206.70" y2="621.40" stroke="#000" stroke-width="1.0" />
<text transform="translate(200.50 624.00) scale(1.08 1)" font-size="7.4" text-anchor="end" font-weight="normal" fill="#111" >0.0</text>
<path d="M252.2 518.7 V513.5 H321.6 V518.7" fill="none" stroke="#222" stroke-width="0.9"/>
<circle cx="285.09999999999997" cy="509.5" r="0.95" fill="#111"/>
<line x1="229.50" y1="607.00" x2="275.60" y2="607.00" stroke="#000" stroke-width="1.3" />
<line x1="298.80" y1="545.70" x2="344.80" y2="545.70" stroke="#000" stroke-width="1.3" />
<circle cx="252.4" cy="598" r="2.35" fill="#fff" fill-opacity="0" stroke="#6cb044" stroke-width="1.1"/>
<circle cx="247.5" cy="607" r="2.35" fill="#fff" fill-opacity="0" stroke="#6cb044" stroke-width="1.1"/>
<circle cx="252.4" cy="610.5" r="2.35" fill="#fff" fill-opacity="0" stroke="#6cb044" stroke-width="1.1"/>
<circle cx="258.3" cy="612.5" r="2.35" fill="#fff" fill-opacity="0" stroke="#6cb044" stroke-width="1.1"/>
<circle cx="321.6" cy="535.7" r="2.35" fill="#fff" fill-opacity="0" stroke="#4a64ac" stroke-width="1.1"/>
<circle cx="318.8" cy="542.3" r="2.35" fill="#fff" fill-opacity="0" stroke="#4a64ac" stroke-width="1.1"/>
<circle cx="324.4" cy="546.4" r="2.35" fill="#fff" fill-opacity="0" stroke="#4a64ac" stroke-width="1.1"/>
<circle cx="321.6" cy="559.2" r="2.35" fill="#fff" fill-opacity="0" stroke="#4a64ac" stroke-width="1.1"/>
<text x="252.20" y="631.50" font-size="7.8" text-anchor="middle" font-weight="normal" fill="#111" >Control</text>
<text x="321.60" y="631.50" font-size="7.8" text-anchor="middle" font-weight="normal" fill="#111" >Xenograft</text>
<text font-size="8.4" text-anchor="middle" stroke="#000" stroke-width="0.15" transform="translate(183.5 566.8) rotate(-90)" textLength="55" lengthAdjust="spacingAndGlyphs">Spleen weights (g)</text>
<rect x="0.5" y="0.5" width="519" height="640" fill="none" stroke="#000" stroke-width="1.2"/>
</svg></body></html>
